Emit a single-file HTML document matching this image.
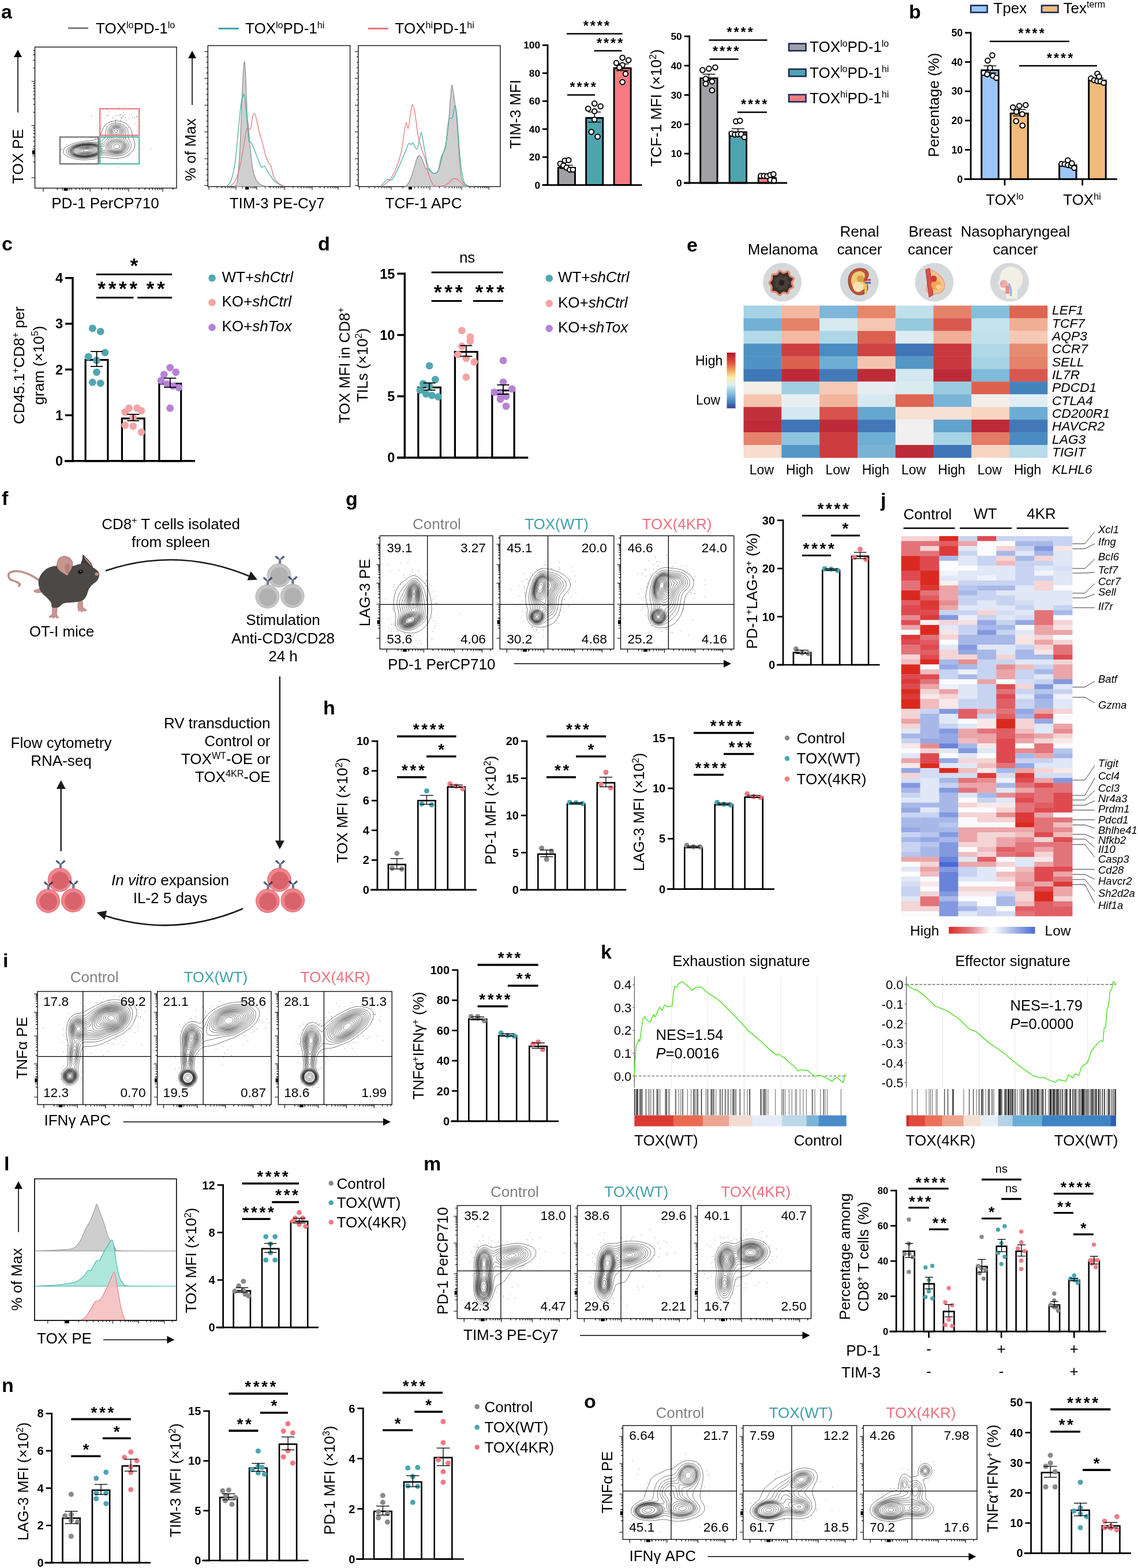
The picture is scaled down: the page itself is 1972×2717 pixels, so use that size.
<!DOCTYPE html>
<html lang="en"><head><meta charset="utf-8"><title>Figure</title>
<style>
html,body{margin:0;padding:0;background:#fff}
svg{display:block}
text{font-family:'Liberation Sans', sans-serif}
</style></head>
<body>
<svg width="1972" height="2717" viewBox="0 0 1972 2717">
<rect x="0" y="0" width="1972" height="2717" fill="#fff"/>
<g id="p-a">
<text x="2" y="32" font-size="34" font-weight="bold">a</text>
<line x1="118" y1="48.8" x2="153" y2="48.8" stroke="#7a7a7a" stroke-width="3.1"/>
<text x="166" y="58" font-size="26">TOX<tspan dy="-9.36" font-size="16.12">lo</tspan><tspan dy="9.36">PD-1</tspan><tspan dy="-9.36" font-size="16.12">lo</tspan></text>
<line x1="378.5" y1="49.5" x2="413.5" y2="49.5" stroke="#3fa3ad" stroke-width="3.1"/>
<text x="425" y="58" font-size="26">TOX<tspan dy="-9.36" font-size="16.12">lo</tspan><tspan dy="9.36">PD-1</tspan><tspan dy="-9.36" font-size="16.12">hi</tspan></text>
<line x1="638" y1="49.5" x2="672.5" y2="49.5" stroke="#e8757d" stroke-width="3.1"/>
<text x="684.5" y="58" font-size="26">TOX<tspan dy="-9.36" font-size="16.12">hi</tspan><tspan dy="9.36">PD-1</tspan><tspan dy="-9.36" font-size="16.12">hi</tspan></text>
<rect x="60.5" y="81.5" width="245.5" height="244.5" fill="#fff" stroke="#000" stroke-width="1.3"/>
<path d="M75 326v6M156 326v6M223 326v6M282 326v6M99.38 326v3.2M113.65 326v3.2M123.77 326v3.2M131.62 326v3.2M138.03 326v3.2M143.45 326v3.2M148.15 326v3.2M152.29 326v3.2M176.17 326v3.2M187.97 326v3.2M196.34 326v3.2M202.83 326v3.2M208.14 326v3.2M212.62 326v3.2M216.51 326v3.2M219.93 326v3.2M240.76 326v3.2M251.15 326v3.2M258.52 326v3.2M264.24 326v3.2M268.91 326v3.2M272.86 326v3.2M276.28 326v3.2M279.3 326v3.2M299.76 326v3.2M60.5 308h-6M60.5 217.5h-6M60.5 141h-6M60.5 280.76h-3.2M60.5 264.82h-3.2M60.5 253.51h-3.2M60.5 244.74h-3.2M60.5 237.58h-3.2M60.5 231.52h-3.2M60.5 226.27h-3.2M60.5 221.64h-3.2M60.5 194.47h-3.2M60.5 181h-3.2M60.5 171.44h-3.2M60.5 164.03h-3.2M60.5 157.97h-3.2M60.5 152.85h-3.2M60.5 148.41h-3.2M60.5 144.5h-3.2M60.5 117.97h-3.2M60.5 104.5h-3.2M60.5 94.94h-3.2M60.5 87.53h-3.2" fill="none" stroke="#000" stroke-width="1.15"/>
<rect x="110.5" y="326.3" width="7" height="4.3" fill="#000"/>
<path d="M108 326v4M120 326v4" fill="none" stroke="#000" stroke-width="1"/>
<rect x="55.9" y="260.5" width="4.3" height="7" fill="#000"/>
<path d="M60.5 258h-4M60.5 270h-4" fill="none" stroke="#000" stroke-width="1"/>
<path d="M147 259l3-.4 3 .3 1.7 1.1-.1 1-1.3 1-3.3 .8-3 0-2.4-.8-.5-1 .7-1zM145.8 258l5.2-.6 4 .5 2 1.1 .5 1-.2 1-.9 1-1.8 1-2.6 .7-3 .4-3-.1-2-.4-1.6-.6-1.2-1-.2-1 .6-1 1.4-1zM145.2 257l5.8-.7 5 .6 2.6 1.1 .9 1 .4 1-.3 1-1.6 1.7-2 1-3 .9-3 .5-3 .1-3-.3-3-.8-1.8-1.1-.7-1-.1-1 .5-1 1.1-1 1.9-1zM145.3 256l6.7-.6 5.1 .6 2.6 1 1.3 1 .7 1 .2 1-.2 1-1.7 1.9-2 1.2-4 1.3-4 .6-4 .1-4-.5-3-1-2.4-1.6-.5-1-.1-1 .5-1 .9-1 3.6-1.9zM145.4 255l3.6-.5 4-.1 3 .3 3 .7 3 1.4 1.3 1.2 .5 1-.1 2-1.5 2-3.2 1.9-4 1.3-5 .7-5 .1-5-.7-3.4-1.3-1.5-1-.9-1-.5-1 0-1 .4-1 2.1-2 3.8-1.7zM145.5 254l4.5-.5 4 0 4 .5 3 .8 2.6 1.2 1.4 1.2 1 1.8-.2 2-.5 1-1.3 1.4-2 1.4-2 .9-5 1.5-6 .8-6-.2-5-.9-2.5-.9-1.8-1-2-2-.3-1 .3-2 .8-1 1.5-1.3 2-1.1 3-1.1zM145 253l5-.5 4-.1 4 .4 4 .9 3.1 1.3 2.4 2 1 2-.3 2-1.3 2-1.1 1-3.8 2.2-5 1.7-7 1-6 .1-6-.8-5-1.7-2-1.3-1.3-1.2-.6-1-.3-2 1-2 2.2-1.9 3-1.5 3-1.1zM199.8 250l1.2-.3 2 0 1.2 .3 1.7 1 1.4 2-.1 2-.6 1-1.6 1.2-3 .6-3-.7-1.5-1.1-.7-1-.1-2 1.3-2zM147.7 252l5.3-.3 4 .2 4 .7 4 1.3 2.1 1.1 2.2 2 .8 2-.3 2-1.3 2-1 1-4.5 2.7-6 1.9-7 1-7 .1-7-1.2-5-2-2-1.4-1-1.1-.8-2 .4-2 1.5-2 1.9-1.4 3-1.5 4-1.4 5-1.1zM200.6 247l2.4 0 3 .9 2 1.3 1.6 1.8 .8 2 0 2-1 2-2.4 1.9-2 .8-2 .3-4-.4-1.9-.6-1.8-1-1.8-2-.5-2 .2-1 .8-2 1-1.2 2-1.5 2-1zM143.7 252l5.3-.6 5-.2 5 .4 4 .8 4 1.6 2.9 2 1.4 2 .1 2-.8 2-.8 1-2.3 2-2.5 1.5-6 2.2-4 .8-5 .6-7 .1-7-1.1-3-.9-2.7-1.2-2.3-1.6-1.3-1.4-.7-2 .3-2 1.5-2 1.2-1 3-1.8 3-1.2 5-1.3zM199.7 225l1.3-.4 2.2 .4 1.1 1 .3 1-.6 1.6-1 .7-1 .3-1 0-1.4-.6-.8-1-.3-1 .3-1zM199.9 245l3.1-.1 2 .5 2 .8 3 2.1 2 2.7 .6 2-.4 3-1.2 2-2.5 2-2.5 1-2 .4-2 .2-3-.3-3-.8-2-1-2-1.5-.8-1-.5-1-.3-2 .5-2 1.2-2 1.8-2 2.1-1.5 2-1zM148.2 251l5.8-.2 5 .3 4 .8 4 1.3 3.2 1.8 2 2 .6 2-.5 2-1.3 2-2 1.8-5 2.7-6 1.9-8 1.2-8 0-7-1.2-3-.9-3.1-1.5-1.9-1.4-1.4-1.6-.7-2 .4-2 1.4-2 3.3-2.4 4-1.8 4-1.2 5-1zM198.4 223l1.6-.5 2-.1 2 .4 2.1 1.2 .9 1.1 .6 1.9-.4 2-1.2 1.6-2 1.4-2 .5-2-.2-2.2-1.3-1.6-2-.4-2 .5-2 .7-1zM197.4 244l1.6-.6 2-.4 3 .3 4 1.7 3.8 3 2 3 .5 3-.9 3-1.5 2-1.9 1.5-3 1.4-3 .7-3 .1-4-.6-3-1-2.1-1.1-2.3-2-.7-1-.7-2 .3-2 .8-2 1.5-2 1.9-2 2.3-1.7zM144.7 251l5.3-.5 6-.1 4 .4 5 1.1 5 2.1 2.7 2 1.2 2 0 2-1 2-1.9 2-2 1.5-3 1.7-3 1.2-4 1.2-8 1.3-5 .2-4-.1-4-.5-4-.9-3-1-3-1.5-1.6-1.1-1.8-2-.6-2 .3-2 1.4-2 2.5-2 2.8-1.5 5-1.8zM199.6 221l3.4 0 3 .9 2.6 2.1 1 2 .1 1-.2 2-1.5 2.5-3 2.6-3 1.2-1 0-2-.7-2-1.5-2-2.4-1-2.7 0-2 1-2.3 2-1.8zM199.7 241l1.3-.3 2 .2 4 1.7 5 3.6 1.7 1.8 1.3 2 .7 2 .1 2-.8 3-2.4 3-3.6 2.3-3 1-3 .4-3 0-4-.7-3-1-3-1.5-2-1.5-1.6-2-.4-2 .4-2 .9-2 1.5-2 2.2-2.4 3-2.5 3-1.9zM152.3 250l4.7 .1 4 .4 5 1.1 3.7 1.4 2.3 1.2 2.4 1.8 1.1 2-.2 2-1.2 2-2 2-2.8 2-3.3 1.7-4 1.5-4 1-8 1.2-5 .1-4-.2-4-.6-4-.9-3-1.1-3-1.5-1.7-1.2-1.7-2-.6-2 .4-2 .6-1 2-2.1 4-2.5 5-1.8 5-1.2 6-1zM198.6 220l3.4-.3 3 .6 3 1.4 2.4 2.3 .5 1 .5 2-.4 2.7-1.2 2.3-3.3 4-.9 2 .3 1 .8 1 5.3 4.4 2.6 2.6 1.9 3 .6 2 .1 2-.5 2-.9 2-1.7 2-2.1 1.7-2.3 1.3-2.7 .9-3 .6-3 .1-3-.2-6-1.6-3.8-1.8-2.9-2-1.7-2-.3-1 .1-1 .9-2 2.6-4 2.8-3 5.7-5 1.8-2 .3-1-.2-1-3.9-6-.7-2-.2-2 .3-2 1.2-2.3 2-1.7zM146.8 250l5.2-.4 5 .1 5 .5 5 1.2 4.4 1.6 3.8 2 2.1 2 .3 1-.2 1-1.2 2-1.8 2-2.5 2-3.9 2.3-3 1.3-5 1.6-9 1.5-9 .1-4-.5-4-.8-4-1.3-3-1.3-2.7-1.9-1.6-2-.6-2 .4-2 .6-1 1.8-2 2.9-2 4.2-1.9 5-1.5zM197.7 219l4.3-.4 2.9 .4 2.1 .7 2 1 1.7 1.3 .9 1 1.1 2 .5 2-.4 3-3.2 6-.4 2 .2 1 1.4 2 4.2 4.2 2.2 2.8 1.3 3 .2 2-.4 3-1.3 2.5-2.2 2.5-2.8 2-3 1.4-3 .8-3 .4-4-.1-6-1.1-10-4-2-.2-2 .6-8 5.6-4 2-3 1.1-8 2-10 .8-8-.5-7-1.6-3-1.2-3-1.6-1.8-1.4-1.6-2-.5-2 .4-2 1.3-2 2.3-2 2.9-1.7 4-1.7 4-1.2 5-1.1 9-1 9 .1 8 1.3 10 3.2 2 .2 1-.3 2-1.6 4.6-5.2 5-5 2.3-3 .2-2-2.7-7-.4-2 0-2 .6-2 1.4-2.2 2-1.7zM195.8 218l2.2-.6 3-.3 3 .2 3 .8 3 1.3 2.2 1.6 1.8 2 1 2 .4 2 0 2-.5 2-1.9 5-.2 2 .3 1 1.1 2 3.8 4.6 1.6 2.4 1.1 3 .1 2-.5 3-1.5 3-1.8 2.1-3 2.4-3 1.5-3 1.1-3 .6-4 .2-6-.5-4-1-7-2.2-3-.3-3 .9-9 4.6-6 2.2-8 1.6-8 .7-8-.4-8-1.6-6-2.4-2.3-1.5-2-2-1-2 0-2 .9-2 1.7-2 2.7-2 3-1.6 4-1.5 4-1.2 8-1.4 10-.8 9 .6 12 2.3 3-.2 2-.9 2-1.7 5.6-5.6 1.7-2 1.2-2 .3-1 .1-2-1.8-7 .2-4 .7-2 1.4-2 1.6-1.5zM196.4 216l3.6-.5 3 0 4 .7 3 1.1 2.9 1.7 2.1 1.8 1.7 2.2 .9 2 .5 2 .1 2-1.5 7 .1 2 .7 2 3.5 5.2 1.6 2.8 .8 3 .1 2-.6 3-1.5 3-2.6 3-3.8 2.9-3 1.5-3 1.1-4 .8-4 .2-7-.6-11-2.5-3 0-3 .8-8 3.3-7 2.2-9 1.6-7 .4-8-.5-8-1.6-3-1.1-4-1.8-2.5-1.7-1.9-2-.8-2 0-2 .9-2 1.7-2 2.5-2 3.1-1.7 7-2.6 10-2.1 8-.8 8 0 14 1.4 3-.4 2-.8 2.7-2 3-3 2.5-3 1-2 .3-3-.7-5-.1-3 .6-3 .9-2 1.4-2 2.2-2 2.2-1.2zM194.6 214l3.4-.7 4-.2 4 .5 4 1 4 1.9 3 2.2 2.1 2.3 1.8 3 1.1 4-.3 7 .3 2.6 .9 2.4 3.6 7 .8 3 .1 3-1.1 4-1.8 3-2.6 3-3.9 3-3 1.7-3 1.2-3 .9-4 .7-4 .3-5-.2-12-2.1-4-.2-4 .7-9 2.8-7 1.7-8 1.1-7 .3-9-.7-5-1-5-1.4-4-1.7-3-1.7-1.8-1.4-1.7-2-.7-2 .1-2 .9-2 1.6-2 4.6-3.4 7-3.1 7-1.9 8-1.3 10-.9 16 .1 2.7-.5 2.3-1 2.6-2 2-2 1.5-2 1.1-2 .7-3 .3-6 .5-3 1.1-3 1.1-2 1.7-2 2.4-2 2-1zM195.2 210l4.8-.5 5 .2 5 .9 5 1.8 4 2.3 3 2.5 2.5 2.8 2.4 4 1.4 4 1.7 8.9 3.2 9.1 .5 3 0 3-.3 2-.9 3-2.3 4-3.6 4-4.6 3.5-4 2.3-4 1.6-4 1.1-5 .8-4 .3-5-.1-13-1.7-5-.2-3.5 .4-11.5 2.5-6 .9-6 .5-7 .2-6-.4-4-.5-4-.8-7-1.9-5-2-3-1.5-2.8-2-1.7-2-.9-2-.1-2 .5-2 1.2-2 1.9-2 2.6-2 6.3-3.4 6-2.3 7-1.7 12-1.9 15.2-1.7 3.7-1 2-1 3.1-2.7 2.4-3.3 1.6-3.1 3.8-9.9 1.7-3 1.5-2 3-2.8 3-1.9 4-1.6z" fill="none" stroke="#1c1c1c" stroke-width="0.6" stroke-linejoin="round"/>
<path d="M114.8 250.7h0M174.2 232.3h0M204.4 275.1h0M168.8 235.8h0M224 267.5h0M183 205.6h0M244.1 258.3h0M169.9 205.1h0M205.3 288.8h0M106.7 259.1h0M233.7 214.1h0M244 218.9h0M234.9 241.2h0M261.2 258.1h0M165.7 239.9h0M105.6 271.6h0M158.4 200.9h0M157.6 238.3h0M237.7 227.5h0M221.2 272.7h0M105.8 258.4h0M229.7 235h0M173 232.1h0M108.4 257.7h0M223.4 270.3h0M112.3 255.7h0M219.4 208.4h0M133.2 284.2h0M104.9 270.9h0M168.7 217.5h0" fill="none" stroke="#555" stroke-width="1.1" stroke-linecap="round"/>
<path d="M189.3 193.8h.01M217 184.6h.01M204.8 185h.01M223.5 204.6h.01M227.3 199h.01M213 200.7h.01M195.9 204.2h.01M188.1 200.2h.01M217.4 203.5h.01M200.8 220.5h.01M207.9 198.3h.01M209.4 198.8h.01M201.2 200.2h.01M237.4 203.2h.01M209.6 208.4h.01M237.3 201.2h.01M197.6 222.8h.01M185.1 200.1h.01M217 221.3h.01M216.9 198.8h.01M201.2 206.7h.01M210.4 205.3h.01M200.5 213.3h.01M229.6 203.3h.01M200.2 208.9h.01M214.2 194.7h.01M200.1 211.4h.01M205.6 200.4h.01M210.2 202.7h.01M207 187.6h.01M233.2 204.6h.01M193.9 210.8h.01M211.6 203.1h.01M222.7 221.1h.01" fill="none" stroke="#444" stroke-width="1.2" stroke-linecap="round"/>
<rect x="104" y="237.5" width="66.5" height="46.5" fill="none" stroke="#6e6e6e" stroke-width="2.2"/>
<rect x="173.2" y="237.5" width="68" height="46.5" fill="none" stroke="#55b5a8" stroke-width="2.2"/>
<rect x="173.2" y="188.5" width="68" height="46" fill="none" stroke="#e8757d" stroke-width="2.2"/>
<line x1="31" y1="195" x2="31" y2="98" stroke="#000" stroke-width="1.6"/>
<polygon points="31,86 38,99 24,99" fill="#000"/>
<text font-size="26" text-anchor="middle" transform="translate(40 271) rotate(-90)">TOX PE</text>
<text x="182.5" y="361" font-size="26" text-anchor="middle">PD-1 PerCP710</text>
<rect x="360.2" y="79" width="246.4" height="244.4" fill="#fff" stroke="#000" stroke-width="1.3"/>
<rect x="620.8" y="79" width="246.2" height="244.4" fill="#fff" stroke="#000" stroke-width="1.3"/>
<path d="M405.71 323.33C406.44 322.02 409.82 322.58 411.18 313.49C412.54 304.4 414.8 275.09 415.92 255.17C417.04 235.24 418.64 183.57 419.56 164.04C420.49 144.5 422.12 114.46 422.84 108.63C423.57 102.8 424.45 111.93 425.03 120.29C425.62 128.65 426.78 160.54 427.22 171.33C427.66 182.12 427.88 194.9 428.31 201.22C428.75 207.54 429.82 211.52 430.5 218.71C431.18 225.91 432.44 245.45 433.42 255.17C434.39 264.89 436.38 284.09 437.79 291.62C439.2 299.15 441.95 307.78 443.99 311.67C446.03 315.56 450.43 319.23 453.1 320.78C455.77 322.34 462.58 322.99 464.04 323.33Z" fill="#cfcfcf" stroke="#8c8c8c" stroke-width="1.2"/>
<path d="M392.95 323.33C393.93 322.02 398.3 319.18 400.24 313.49C402.19 307.8 405.83 292.35 407.53 280.68C409.24 269.02 411.69 239.13 413 226.01C414.31 212.88 416.16 190.67 417.38 182.26C418.59 173.85 421.1 163.91 422.12 162.94C423.14 161.97 424.21 168.51 425.03 174.97C425.86 181.44 427.49 202.29 428.31 211.42C429.14 220.56 430.26 238.74 431.23 243.5C432.2 248.27 434.39 245.11 435.6 247.15C436.82 249.19 438.74 254.83 440.34 258.81C441.95 262.8 445.93 272.91 447.63 277.04C449.33 281.17 451.64 288.34 453.1 289.8C454.56 291.26 457.21 287 458.57 287.97C459.93 288.95 461.85 294.66 463.31 297.09C464.77 299.52 467.46 303.62 469.5 306.2C471.55 308.78 475.7 314.12 478.62 316.41C481.53 318.69 489.67 322.41 491.38 323.33" fill="none" stroke="#45b3a8" stroke-width="1.3"/>
<path d="M398.42 323.33C399.64 322.02 405.2 318.21 407.53 313.49C409.87 308.78 413.83 296.72 415.92 287.97C418.01 279.23 421.65 256.53 423.21 247.88C424.76 239.23 426.13 226.39 427.58 223.09C429.04 219.78 432.78 225.86 434.15 223.09C435.51 220.32 436.82 205.81 437.79 202.31C438.76 198.81 440.46 195.87 441.44 196.84C442.41 197.82 444.01 205.23 445.08 209.6C446.15 213.98 448.14 224.55 449.46 229.65C450.77 234.75 453.46 242.53 454.92 247.88C456.38 253.22 458.93 265.13 460.39 269.75C461.85 274.37 464.64 280.08 465.86 282.51C467.07 284.94 468.29 284.57 469.5 287.97C470.72 291.38 473.27 304.13 474.97 308.02C476.67 311.91 479.73 315.09 482.26 317.14C484.79 319.18 492.37 322.51 493.93 323.33" fill="none" stroke="#e8757d" stroke-width="1.3"/>
<path d="M702.8 323.33C703.77 322.02 708.15 317.72 710.09 313.49C712.03 309.26 715.68 296.97 717.38 291.62C719.08 286.27 721.54 276.31 722.85 273.39C724.16 270.48 726.01 269.26 727.22 269.75C728.44 270.23 730.6 274.12 731.96 277.04C733.32 279.95 735.97 289.43 737.43 291.62C738.89 293.81 741.2 292.37 742.9 293.44C744.6 294.51 748.49 298.81 750.19 299.64C751.89 300.47 754.2 300.71 755.66 299.64C757.11 298.57 759.67 295.61 761.12 291.62C762.58 287.63 765.13 275.09 766.59 269.75C768.05 264.4 770.7 258.33 772.06 251.52C773.42 244.72 775.68 229.41 776.8 218.71C777.92 208.02 779.62 180.8 780.44 171.33C781.27 161.85 782.31 149.09 782.99 147.63C783.68 146.17 784.82 156.02 785.55 160.39C786.28 164.77 787.69 174.61 788.46 180.44C789.24 186.27 790.6 195.14 791.38 204.13C792.16 213.13 793.47 236.21 794.3 247.88C795.12 259.54 796.65 282.87 797.58 291.62C798.5 300.37 799.52 309.26 801.22 313.49C802.92 317.72 809.12 322.02 810.33 323.33Z" fill="#cfcfcf" stroke="#8c8c8c" stroke-width="1.2"/>
<path d="M659.06 323.33C659.79 322.51 662.82 318.84 664.52 317.14C666.23 315.44 669.87 311.3 671.81 310.57C673.76 309.85 676.68 314.2 679.11 311.67C681.54 309.14 687.12 297.69 690.04 291.62C692.96 285.54 698.55 271.84 700.98 266.1C703.41 260.37 706.81 250.65 708.27 248.61C709.73 246.56 710.94 250.89 711.91 250.79C712.88 250.7 714.2 246.81 715.56 247.88C716.92 248.95 720.66 259.3 722.12 258.81C723.58 258.33 725.42 248.12 726.49 244.23C727.56 240.34 729.17 229.16 730.14 229.65C731.11 230.14 732.81 242.53 733.78 247.88C734.76 253.22 736.21 263.92 737.43 269.75C738.64 275.58 740.95 287.49 742.9 291.62C744.84 295.75 749.82 300.25 752.01 300.73C754.2 301.22 757.6 299.15 759.3 295.26C761 291.38 763.07 276.92 764.77 271.57C766.47 266.22 770.36 263.67 772.06 255.17C773.76 246.66 775.92 214.58 777.53 207.78C779.13 200.97 782.63 207.54 784.09 204.13C785.55 200.73 787.39 182.26 788.46 182.26C789.53 182.26 791.14 194.41 792.11 204.13C793.08 213.85 794.78 243.5 795.75 255.17C796.73 266.83 798.18 283.36 799.4 291.62C800.61 299.88 802.92 312.91 804.87 317.14C806.81 321.36 812.76 322.51 813.98 323.33" fill="none" stroke="#45b3a8" stroke-width="1.3"/>
<path d="M660.88 323.33C662.82 321.78 672.06 315.9 675.46 311.67C678.86 307.44 683.72 298.18 686.4 291.62C689.07 285.06 693.56 271.21 695.51 262.46C697.45 253.71 699.86 232.66 700.98 226.01C702.09 219.35 703.02 213 703.89 212.52C704.77 212.03 706.47 224.94 707.54 222.36C708.61 219.78 710.94 198.64 711.91 193.2C712.88 187.75 713.86 181.05 714.83 181.53C715.8 182.02 717.89 189.46 719.2 196.84C720.52 204.23 722.97 228.19 724.67 236.94C726.37 245.69 730.26 257.11 731.96 262.46C733.66 267.8 735.97 271.69 737.43 277.04C738.89 282.38 740.95 296.63 742.9 302.56C744.84 308.48 748.37 318.98 752.01 321.51C755.66 324.04 766.83 322.09 770.24 321.51C773.64 320.93 775.58 318.69 777.53 317.14C779.47 315.58 782.87 310.72 784.82 309.85C786.76 308.97 790.16 309.6 792.11 310.57C794.05 311.55 797.45 315.44 799.4 317.14C801.34 318.84 805.72 322.51 806.69 323.33" fill="none" stroke="#e8757d" stroke-width="1.3"/>
<path d="M360.2 321.4h-6M360.2 312.12h-3M360.2 302.84h-3M360.2 293.56h-3M360.2 284.28h-3M360.2 275h-6M360.2 265.72h-3M360.2 256.44h-3M360.2 247.16h-3M360.2 237.88h-3M360.2 228.6h-6M360.2 219.32h-3M360.2 210.04h-3M360.2 200.76h-3M360.2 191.48h-3M360.2 182.2h-6M360.2 172.92h-3M360.2 163.64h-3M360.2 154.36h-3M360.2 145.08h-3M360.2 135.8h-6M360.2 126.52h-3M360.2 117.24h-3M360.2 107.96h-3M360.2 98.68h-3M360.2 89.4h-6M362 323.4v5.5M409 323.4v5.5M445 323.4v5.5M493.5 323.4v5.5M541 323.4v5.5M586 323.4v5.5M376.15 323.4v3M384.42 323.4v3M390.3 323.4v3M394.85 323.4v3M398.57 323.4v3M401.72 323.4v3M404.45 323.4v3M406.85 323.4v3M419.84 323.4v3M426.18 323.4v3M430.67 323.4v3M434.16 323.4v3M437.01 323.4v3M439.42 323.4v3M441.51 323.4v3M443.35 323.4v3M459.6 323.4v3M468.14 323.4v3M474.2 323.4v3M478.9 323.4v3M482.74 323.4v3M485.99 323.4v3M488.8 323.4v3M491.28 323.4v3M507.8 323.4v3M516.16 323.4v3M522.1 323.4v3M526.7 323.4v3M530.46 323.4v3M533.64 323.4v3M536.4 323.4v3M538.83 323.4v3M554.55 323.4v3M562.47 323.4v3M568.09 323.4v3M572.45 323.4v3M576.02 323.4v3M579.03 323.4v3M581.64 323.4v3M583.94 323.4v3" fill="none" stroke="#000" stroke-width="1"/>
<rect x="425" y="323.9" width="6" height="4.5" fill="#000"/>
<path d="M620.8 321.4h-6M620.8 312.12h-3M620.8 302.84h-3M620.8 293.56h-3M620.8 284.28h-3M620.8 275h-6M620.8 265.72h-3M620.8 256.44h-3M620.8 247.16h-3M620.8 237.88h-3M620.8 228.6h-6M620.8 219.32h-3M620.8 210.04h-3M620.8 200.76h-3M620.8 191.48h-3M620.8 182.2h-6M620.8 172.92h-3M620.8 163.64h-3M620.8 154.36h-3M620.8 145.08h-3M620.8 135.8h-6M620.8 126.52h-3M620.8 117.24h-3M620.8 107.96h-3M620.8 98.68h-3M620.8 89.4h-6M623 323.4v5.5M678 323.4v5.5M745 323.4v5.5M800 323.4v5.5M847 323.4v5.5M639.56 323.4v3M649.24 323.4v3M656.11 323.4v3M661.44 323.4v3M665.8 323.4v3M669.48 323.4v3M672.67 323.4v3M675.48 323.4v3M698.17 323.4v3M709.97 323.4v3M718.34 323.4v3M724.83 323.4v3M730.14 323.4v3M734.62 323.4v3M738.51 323.4v3M741.93 323.4v3M761.56 323.4v3M771.24 323.4v3M778.11 323.4v3M783.44 323.4v3M787.8 323.4v3M791.48 323.4v3M794.67 323.4v3M797.48 323.4v3M814.15 323.4v3M822.42 323.4v3M828.3 323.4v3M832.85 323.4v3M836.57 323.4v3M839.72 323.4v3M842.45 323.4v3M844.85 323.4v3" fill="none" stroke="#000" stroke-width="1"/>
<rect x="708" y="323.9" width="6" height="4.5" fill="#000"/>
<line x1="333" y1="182" x2="333" y2="100" stroke="#000" stroke-width="1.6"/>
<polygon points="333,88 340,101 326,101" fill="#000"/>
<text font-size="26" text-anchor="middle" transform="translate(338.5 259.5) rotate(-90)">% of Max</text>
<text x="480" y="361" font-size="26" text-anchor="middle">TIM-3 PE-Cy7</text>
<text x="734" y="361" font-size="26" text-anchor="middle">TCF-1 APC</text>
<rect x="967.25" y="290.64" width="29.2" height="30.06" fill="#a1a1a5" stroke="#000" stroke-width="2.9"/>
<rect x="1015.65" y="204.34" width="29.1" height="116.36" fill="#4fa5ae" stroke="#000" stroke-width="2.9"/>
<rect x="1064.05" y="118.05" width="29.1" height="202.65" fill="#f47c82" stroke="#000" stroke-width="2.9"/>
<line x1="949" y1="76.9" x2="949" y2="322.1" stroke="#000" stroke-width="2.8"/>
<line x1="939.6" y1="320.7" x2="1112.4" y2="320.7" stroke="#000" stroke-width="2.8"/>
<line x1="940" y1="320.7" x2="949" y2="320.7" stroke="#000" stroke-width="2.8"/>
<text x="936" y="326.84" font-size="17.3" text-anchor="end" font-weight="bold">0</text>
<line x1="940" y1="272.22" x2="949" y2="272.22" stroke="#000" stroke-width="2.8"/>
<text x="936" y="278.36" font-size="17.3" text-anchor="end" font-weight="bold">20</text>
<line x1="940" y1="223.74" x2="949" y2="223.74" stroke="#000" stroke-width="2.8"/>
<text x="936" y="229.88" font-size="17.3" text-anchor="end" font-weight="bold">40</text>
<line x1="940" y1="175.26" x2="949" y2="175.26" stroke="#000" stroke-width="2.8"/>
<text x="936" y="181.4" font-size="17.3" text-anchor="end" font-weight="bold">60</text>
<line x1="940" y1="126.78" x2="949" y2="126.78" stroke="#000" stroke-width="2.8"/>
<text x="936" y="132.92" font-size="17.3" text-anchor="end" font-weight="bold">80</text>
<line x1="940" y1="78.3" x2="949" y2="78.3" stroke="#000" stroke-width="2.8"/>
<text x="936" y="84.44" font-size="17.3" text-anchor="end" font-weight="bold">100</text>
<line x1="981.85" y1="286.28" x2="981.85" y2="292.1" stroke="#000" stroke-width="1.4"/>
<line x1="970.94" y1="286.28" x2="992.76" y2="286.28" stroke="#000" stroke-width="1.4"/>
<line x1="970.94" y1="292.1" x2="992.76" y2="292.1" stroke="#000" stroke-width="1.4"/>
<circle cx="970.8" cy="283.86" r="4.3" fill="#fff" stroke="#000" stroke-width="2"/>
<circle cx="976.3" cy="286.76" r="4.3" fill="#fff" stroke="#000" stroke-width="2"/>
<circle cx="981.8" cy="290.4" r="4.3" fill="#fff" stroke="#000" stroke-width="2"/>
<circle cx="987.3" cy="294.04" r="4.3" fill="#fff" stroke="#000" stroke-width="2"/>
<circle cx="992.8" cy="294.04" r="4.3" fill="#fff" stroke="#000" stroke-width="2"/>
<circle cx="978.8" cy="278.28" r="4.3" fill="#fff" stroke="#000" stroke-width="2"/>
<circle cx="985.3" cy="277.55" r="4.3" fill="#fff" stroke="#000" stroke-width="2"/>
<line x1="1030.2" y1="194.17" x2="1030.2" y2="211.62" stroke="#000" stroke-width="1.4"/>
<line x1="1019.32" y1="194.17" x2="1041.08" y2="194.17" stroke="#000" stroke-width="1.4"/>
<line x1="1019.32" y1="211.62" x2="1041.08" y2="211.62" stroke="#000" stroke-width="1.4"/>
<circle cx="1030.2" cy="179.38" r="4.3" fill="#fff" stroke="#000" stroke-width="2"/>
<circle cx="1040.7" cy="184.23" r="4.3" fill="#fff" stroke="#000" stroke-width="2"/>
<circle cx="1019.2" cy="188.35" r="4.3" fill="#fff" stroke="#000" stroke-width="2"/>
<circle cx="1030.2" cy="192.71" r="4.3" fill="#fff" stroke="#000" stroke-width="2"/>
<circle cx="1030.2" cy="207.26" r="4.3" fill="#fff" stroke="#000" stroke-width="2"/>
<circle cx="1024.7" cy="228.59" r="4.3" fill="#fff" stroke="#000" stroke-width="2"/>
<circle cx="1035.6" cy="236.83" r="4.3" fill="#fff" stroke="#000" stroke-width="2"/>
<line x1="1078.6" y1="110.78" x2="1078.6" y2="122.42" stroke="#000" stroke-width="1.4"/>
<line x1="1067.72" y1="110.78" x2="1089.48" y2="110.78" stroke="#000" stroke-width="1.4"/>
<line x1="1067.72" y1="122.42" x2="1089.48" y2="122.42" stroke="#000" stroke-width="1.4"/>
<circle cx="1078.6" cy="100.12" r="4.3" fill="#fff" stroke="#000" stroke-width="2"/>
<circle cx="1089.2" cy="104.24" r="4.3" fill="#fff" stroke="#000" stroke-width="2"/>
<circle cx="1068.1" cy="109.08" r="4.3" fill="#fff" stroke="#000" stroke-width="2"/>
<circle cx="1078.6" cy="112.72" r="4.3" fill="#fff" stroke="#000" stroke-width="2"/>
<circle cx="1073.2" cy="117.08" r="4.3" fill="#fff" stroke="#000" stroke-width="2"/>
<circle cx="1084" cy="127.99" r="4.3" fill="#fff" stroke="#000" stroke-width="2"/>
<circle cx="1078.6" cy="142.29" r="4.3" fill="#fff" stroke="#000" stroke-width="2"/>
<text font-size="26" text-anchor="middle" transform="translate(902 198) rotate(-90)">TIM-3 MFI</text>
<line x1="982" y1="58.5" x2="1078.5" y2="58.5" stroke="#000" stroke-width="2.6"/>
<text x="1034.84" y="53.06" font-size="23.25" text-anchor="middle" font-weight="bold" letter-spacing="3.04">****</text>
<line x1="1029.5" y1="88" x2="1077.5" y2="88" stroke="#000" stroke-width="2.6"/>
<text x="1058.09" y="82.56" font-size="23.25" text-anchor="middle" font-weight="bold" letter-spacing="3.04">****</text>
<line x1="983" y1="164.5" x2="1031" y2="164.5" stroke="#000" stroke-width="2.6"/>
<text x="1011.59" y="159.06" font-size="23.25" text-anchor="middle" font-weight="bold" letter-spacing="3.04">****</text>
<rect x="1213.75" y="135.57" width="29.3" height="181.43" fill="#a1a1a5" stroke="#000" stroke-width="2.9"/>
<rect x="1264.15" y="229.04" width="29.4" height="87.96" fill="#4fa5ae" stroke="#000" stroke-width="2.9"/>
<rect x="1314.25" y="308.29" width="30.1" height="8.71" fill="#f47c82" stroke="#000" stroke-width="2.9"/>
<line x1="1194.7" y1="61.6" x2="1194.7" y2="318.4" stroke="#000" stroke-width="2.8"/>
<line x1="1185" y1="317" x2="1364" y2="317" stroke="#000" stroke-width="2.8"/>
<line x1="1185.7" y1="317" x2="1194.7" y2="317" stroke="#000" stroke-width="2.8"/>
<text x="1181.7" y="323.14" font-size="17.3" text-anchor="end" font-weight="bold">0</text>
<line x1="1185.7" y1="266.2" x2="1194.7" y2="266.2" stroke="#000" stroke-width="2.8"/>
<text x="1181.7" y="272.34" font-size="17.3" text-anchor="end" font-weight="bold">10</text>
<line x1="1185.7" y1="215.4" x2="1194.7" y2="215.4" stroke="#000" stroke-width="2.8"/>
<text x="1181.7" y="221.54" font-size="17.3" text-anchor="end" font-weight="bold">20</text>
<line x1="1185.7" y1="164.6" x2="1194.7" y2="164.6" stroke="#000" stroke-width="2.8"/>
<text x="1181.7" y="170.74" font-size="17.3" text-anchor="end" font-weight="bold">30</text>
<line x1="1185.7" y1="113.8" x2="1194.7" y2="113.8" stroke="#000" stroke-width="2.8"/>
<text x="1181.7" y="119.94" font-size="17.3" text-anchor="end" font-weight="bold">40</text>
<line x1="1185.7" y1="63" x2="1194.7" y2="63" stroke="#000" stroke-width="2.8"/>
<text x="1181.7" y="69.14" font-size="17.3" text-anchor="end" font-weight="bold">50</text>
<line x1="1228.4" y1="128.53" x2="1228.4" y2="139.71" stroke="#000" stroke-width="1.4"/>
<line x1="1217.45" y1="128.53" x2="1239.35" y2="128.53" stroke="#000" stroke-width="1.4"/>
<line x1="1217.45" y1="139.71" x2="1239.35" y2="139.71" stroke="#000" stroke-width="1.4"/>
<circle cx="1217.4" cy="121.42" r="4.3" fill="#fff" stroke="#000" stroke-width="2"/>
<circle cx="1228.4" cy="118.88" r="4.3" fill="#fff" stroke="#000" stroke-width="2"/>
<circle cx="1239.4" cy="116.85" r="4.3" fill="#fff" stroke="#000" stroke-width="2"/>
<circle cx="1222.9" cy="136.66" r="4.3" fill="#fff" stroke="#000" stroke-width="2"/>
<circle cx="1233.9" cy="141.23" r="4.3" fill="#fff" stroke="#000" stroke-width="2"/>
<circle cx="1222.9" cy="145.3" r="4.3" fill="#fff" stroke="#000" stroke-width="2"/>
<circle cx="1233.9" cy="156.47" r="4.3" fill="#fff" stroke="#000" stroke-width="2"/>
<line x1="1278.85" y1="223.02" x2="1278.85" y2="232.16" stroke="#000" stroke-width="1.4"/>
<line x1="1267.87" y1="223.02" x2="1289.83" y2="223.02" stroke="#000" stroke-width="1.4"/>
<line x1="1267.87" y1="232.16" x2="1289.83" y2="232.16" stroke="#000" stroke-width="1.4"/>
<circle cx="1275.3" cy="210.32" r="4.3" fill="#fff" stroke="#000" stroke-width="2"/>
<circle cx="1282.3" cy="209.3" r="4.3" fill="#fff" stroke="#000" stroke-width="2"/>
<circle cx="1267.8" cy="231.66" r="4.3" fill="#fff" stroke="#000" stroke-width="2"/>
<circle cx="1273.3" cy="233.18" r="4.3" fill="#fff" stroke="#000" stroke-width="2"/>
<circle cx="1278.8" cy="232.67" r="4.3" fill="#fff" stroke="#000" stroke-width="2"/>
<circle cx="1284.3" cy="232.67" r="4.3" fill="#fff" stroke="#000" stroke-width="2"/>
<circle cx="1289.8" cy="237.75" r="4.3" fill="#fff" stroke="#000" stroke-width="2"/>
<line x1="1329.3" y1="305.32" x2="1329.3" y2="308.36" stroke="#000" stroke-width="1.4"/>
<line x1="1318.08" y1="305.32" x2="1340.52" y2="305.32" stroke="#000" stroke-width="1.4"/>
<line x1="1318.08" y1="308.36" x2="1340.52" y2="308.36" stroke="#000" stroke-width="1.4"/>
<circle cx="1318.3" cy="304.81" r="4.3" fill="#fff" stroke="#000" stroke-width="2"/>
<circle cx="1323.8" cy="304.81" r="4.3" fill="#fff" stroke="#000" stroke-width="2"/>
<circle cx="1329.3" cy="305.32" r="4.3" fill="#fff" stroke="#000" stroke-width="2"/>
<circle cx="1334.8" cy="303.28" r="4.3" fill="#fff" stroke="#000" stroke-width="2"/>
<circle cx="1340.3" cy="301.76" r="4.3" fill="#fff" stroke="#000" stroke-width="2"/>
<circle cx="1334.8" cy="311.92" r="4.3" fill="#fff" stroke="#000" stroke-width="2"/>
<circle cx="1341.3" cy="312.94" r="4.3" fill="#fff" stroke="#000" stroke-width="2"/>
<text font-size="26" text-anchor="middle" transform="translate(1146 187) rotate(-90)">TCF-1 MFI (×10<tspan dy="-9.36" font-size="16.12">2</tspan><tspan dy="9.36">)</tspan></text>
<line x1="1228.5" y1="69.5" x2="1329.5" y2="69.5" stroke="#000" stroke-width="2.6"/>
<text x="1283.59" y="64.06" font-size="23.25" text-anchor="middle" font-weight="bold" letter-spacing="3.04">****</text>
<line x1="1229.5" y1="102.5" x2="1279.5" y2="102.5" stroke="#000" stroke-width="2.6"/>
<text x="1259.09" y="97.06" font-size="23.25" text-anchor="middle" font-weight="bold" letter-spacing="3.04">****</text>
<line x1="1278" y1="194.5" x2="1329" y2="194.5" stroke="#000" stroke-width="2.6"/>
<text x="1308.09" y="189.06" font-size="23.25" text-anchor="middle" font-weight="bold" letter-spacing="3.04">****</text>
<rect x="1367" y="75.6" width="29.5" height="12.4" fill="#a1a1a5" stroke="#1c2a5a" stroke-width="2.6"/>
<text x="1403" y="90.3" font-size="26">TOX<tspan dy="-9.36" font-size="16.12">lo</tspan><tspan dy="9.36">PD-1</tspan><tspan dy="-9.36" font-size="16.12">lo</tspan></text>
<rect x="1367" y="119.8" width="29.5" height="12.4" fill="#4fa5ae" stroke="#1c2a5a" stroke-width="2.6"/>
<text x="1403" y="134.5" font-size="26">TOX<tspan dy="-9.36" font-size="16.12">lo</tspan><tspan dy="9.36">PD-1</tspan><tspan dy="-9.36" font-size="16.12">hi</tspan></text>
<rect x="1367" y="164" width="29.5" height="12.4" fill="#f47c82" stroke="#1c2a5a" stroke-width="2.6"/>
<text x="1403" y="178.7" font-size="26">TOX<tspan dy="-9.36" font-size="16.12">hi</tspan><tspan dy="9.36">PD-1</tspan><tspan dy="-9.36" font-size="16.12">hi</tspan></text>
</g>
<g id="p-b">
<text x="1575" y="31.5" font-size="34" font-weight="bold">b</text>
<rect x="1682.3" y="9.5" width="28.5" height="12" fill="#9cc6f5" stroke="#1c2a5a" stroke-width="2.6"/>
<text x="1721.5" y="22.5" font-size="26">Tpex</text>
<rect x="1805" y="9.5" width="28.5" height="12" fill="#f0bb7c" stroke="#1c2a5a" stroke-width="2.6"/>
<text x="1842.5" y="22.5" font-size="26">Tex<tspan dy="-9.36" font-size="16.12">term</tspan></text>
<rect x="1700.85" y="121.63" width="29.5" height="188.68" fill="#9cc6f5" stroke="#000" stroke-width="2.9"/>
<rect x="1751.25" y="196.66" width="30.1" height="113.64" fill="#f0bb7c" stroke="#000" stroke-width="2.9"/>
<rect x="1835.65" y="286.4" width="29.5" height="23.9" fill="#9cc6f5" stroke="#000" stroke-width="2.9"/>
<rect x="1886.75" y="139.37" width="29.5" height="170.93" fill="#f0bb7c" stroke="#000" stroke-width="2.9"/>
<line x1="1682.2" y1="55.4" x2="1682.2" y2="311.7" stroke="#000" stroke-width="2.8"/>
<line x1="1671" y1="310.3" x2="1936" y2="310.3" stroke="#000" stroke-width="2.8"/>
<line x1="1672.2" y1="310.3" x2="1682.2" y2="310.3" stroke="#000" stroke-width="2.8"/>
<text x="1668.2" y="316.51" font-size="17.5" text-anchor="end" font-weight="bold">0</text>
<line x1="1672.2" y1="259.6" x2="1682.2" y2="259.6" stroke="#000" stroke-width="2.8"/>
<text x="1668.2" y="265.81" font-size="17.5" text-anchor="end" font-weight="bold">10</text>
<line x1="1672.2" y1="208.9" x2="1682.2" y2="208.9" stroke="#000" stroke-width="2.8"/>
<text x="1668.2" y="215.11" font-size="17.5" text-anchor="end" font-weight="bold">20</text>
<line x1="1672.2" y1="158.2" x2="1682.2" y2="158.2" stroke="#000" stroke-width="2.8"/>
<text x="1668.2" y="164.41" font-size="17.5" text-anchor="end" font-weight="bold">30</text>
<line x1="1672.2" y1="107.5" x2="1682.2" y2="107.5" stroke="#000" stroke-width="2.8"/>
<text x="1668.2" y="113.71" font-size="17.5" text-anchor="end" font-weight="bold">40</text>
<line x1="1672.2" y1="56.8" x2="1682.2" y2="56.8" stroke="#000" stroke-width="2.8"/>
<text x="1668.2" y="63.01" font-size="17.5" text-anchor="end" font-weight="bold">50</text>
<line x1="1741" y1="310.3" x2="1741" y2="321.3" stroke="#000" stroke-width="2.8"/>
<line x1="1875.7" y1="310.3" x2="1875.7" y2="321.3" stroke="#000" stroke-width="2.8"/>
<line x1="1715.6" y1="114.09" x2="1715.6" y2="126.26" stroke="#000" stroke-width="1.4"/>
<line x1="1704.58" y1="114.09" x2="1726.62" y2="114.09" stroke="#000" stroke-width="1.4"/>
<line x1="1704.58" y1="126.26" x2="1726.62" y2="126.26" stroke="#000" stroke-width="1.4"/>
<circle cx="1719.6" cy="95.84" r="4.3" fill="#fff" stroke="#000" stroke-width="2"/>
<circle cx="1711.6" cy="104.97" r="4.3" fill="#fff" stroke="#000" stroke-width="2"/>
<circle cx="1715.6" cy="117.64" r="4.3" fill="#fff" stroke="#000" stroke-width="2"/>
<circle cx="1704.6" cy="126.26" r="4.3" fill="#fff" stroke="#000" stroke-width="2"/>
<circle cx="1710.6" cy="128.79" r="4.3" fill="#fff" stroke="#000" stroke-width="2"/>
<circle cx="1720.6" cy="131.33" r="4.3" fill="#fff" stroke="#000" stroke-width="2"/>
<circle cx="1726.6" cy="134.88" r="4.3" fill="#fff" stroke="#000" stroke-width="2"/>
<line x1="1766.3" y1="189.63" x2="1766.3" y2="200.79" stroke="#000" stroke-width="1.4"/>
<line x1="1755.08" y1="189.63" x2="1777.52" y2="189.63" stroke="#000" stroke-width="1.4"/>
<line x1="1755.08" y1="200.79" x2="1777.52" y2="200.79" stroke="#000" stroke-width="1.4"/>
<circle cx="1755.3" cy="186.09" r="4.3" fill="#fff" stroke="#000" stroke-width="2"/>
<circle cx="1766.3" cy="183.55" r="4.3" fill="#fff" stroke="#000" stroke-width="2"/>
<circle cx="1777.3" cy="182.03" r="4.3" fill="#fff" stroke="#000" stroke-width="2"/>
<circle cx="1761.3" cy="193.69" r="4.3" fill="#fff" stroke="#000" stroke-width="2"/>
<circle cx="1771.3" cy="197.75" r="4.3" fill="#fff" stroke="#000" stroke-width="2"/>
<circle cx="1760.8" cy="209.91" r="4.3" fill="#fff" stroke="#000" stroke-width="2"/>
<circle cx="1771.8" cy="217.52" r="4.3" fill="#fff" stroke="#000" stroke-width="2"/>
<line x1="1850.4" y1="282.42" x2="1850.4" y2="287.49" stroke="#000" stroke-width="1.4"/>
<line x1="1839.38" y1="282.42" x2="1861.42" y2="282.42" stroke="#000" stroke-width="1.4"/>
<line x1="1839.38" y1="287.49" x2="1861.42" y2="287.49" stroke="#000" stroke-width="1.4"/>
<circle cx="1850.4" cy="277.85" r="4.3" fill="#fff" stroke="#000" stroke-width="2"/>
<circle cx="1839.4" cy="283.94" r="4.3" fill="#fff" stroke="#000" stroke-width="2"/>
<circle cx="1844.9" cy="284.44" r="4.3" fill="#fff" stroke="#000" stroke-width="2"/>
<circle cx="1850.4" cy="285.96" r="4.3" fill="#fff" stroke="#000" stroke-width="2"/>
<circle cx="1855.9" cy="286.98" r="4.3" fill="#fff" stroke="#000" stroke-width="2"/>
<circle cx="1861.4" cy="291.03" r="4.3" fill="#fff" stroke="#000" stroke-width="2"/>
<circle cx="1857.4" cy="282.92" r="4.3" fill="#fff" stroke="#000" stroke-width="2"/>
<line x1="1901.5" y1="135.38" x2="1901.5" y2="140.46" stroke="#000" stroke-width="1.4"/>
<line x1="1890.48" y1="135.38" x2="1912.52" y2="135.38" stroke="#000" stroke-width="1.4"/>
<line x1="1890.48" y1="140.46" x2="1912.52" y2="140.46" stroke="#000" stroke-width="1.4"/>
<circle cx="1901.5" cy="127.78" r="4.3" fill="#fff" stroke="#000" stroke-width="2"/>
<circle cx="1890.5" cy="135.89" r="4.3" fill="#fff" stroke="#000" stroke-width="2"/>
<circle cx="1896" cy="138.93" r="4.3" fill="#fff" stroke="#000" stroke-width="2"/>
<circle cx="1901.5" cy="140.46" r="4.3" fill="#fff" stroke="#000" stroke-width="2"/>
<circle cx="1907" cy="140.96" r="4.3" fill="#fff" stroke="#000" stroke-width="2"/>
<circle cx="1912.5" cy="143.5" r="4.3" fill="#fff" stroke="#000" stroke-width="2"/>
<circle cx="1904.5" cy="132.85" r="4.3" fill="#fff" stroke="#000" stroke-width="2"/>
<text font-size="26" text-anchor="middle" transform="translate(1626.5 182) rotate(-90)">Percentage (%)</text>
<line x1="1715" y1="71.8" x2="1853" y2="71.8" stroke="#000" stroke-width="2.6"/>
<text x="1788.59" y="66.36" font-size="23.25" text-anchor="middle" font-weight="bold" letter-spacing="3.04">****</text>
<line x1="1766" y1="114" x2="1901" y2="114" stroke="#000" stroke-width="2.6"/>
<text x="1838.09" y="108.56" font-size="23.25" text-anchor="middle" font-weight="bold" letter-spacing="3.04">****</text>
<text x="1741" y="355" font-size="26" text-anchor="middle">TOX<tspan dy="-9.36" font-size="16.12">lo</tspan></text>
<text x="1875" y="355" font-size="26" text-anchor="middle">TOX<tspan dy="-9.36" font-size="16.12">hi</tspan></text>
</g>
<g id="p-c">
<text x="3" y="434" font-size="34" font-weight="bold">c</text>
<rect x="148.1" y="623.62" width="38.8" height="175.18" fill="#fff" stroke="#000" stroke-width="3.2"/>
<rect x="211.4" y="725.09" width="38.8" height="73.71" fill="#fff" stroke="#000" stroke-width="3.2"/>
<rect x="275.9" y="664.84" width="37.8" height="133.96" fill="#fff" stroke="#000" stroke-width="3.2"/>
<line x1="126" y1="480" x2="126" y2="800.5" stroke="#000" stroke-width="3.4"/>
<line x1="112" y1="798.8" x2="338" y2="798.8" stroke="#000" stroke-width="3.4"/>
<line x1="113" y1="798.8" x2="126" y2="798.8" stroke="#000" stroke-width="3.4"/>
<text x="109" y="807.14" font-size="23.5" text-anchor="end" font-weight="bold">0</text>
<line x1="113" y1="719.52" x2="126" y2="719.52" stroke="#000" stroke-width="3.4"/>
<text x="109" y="727.87" font-size="23.5" text-anchor="end" font-weight="bold">1</text>
<line x1="113" y1="640.25" x2="126" y2="640.25" stroke="#000" stroke-width="3.4"/>
<text x="109" y="648.59" font-size="23.5" text-anchor="end" font-weight="bold">2</text>
<line x1="113" y1="560.97" x2="126" y2="560.97" stroke="#000" stroke-width="3.4"/>
<text x="109" y="569.32" font-size="23.5" text-anchor="end" font-weight="bold">3</text>
<line x1="113" y1="481.7" x2="126" y2="481.7" stroke="#000" stroke-width="3.4"/>
<text x="109" y="490.04" font-size="23.5" text-anchor="end" font-weight="bold">4</text>
<circle cx="160.3" cy="568.9" r="6.4" fill="#4fa8b0"/>
<circle cx="174.2" cy="574.45" r="6.4" fill="#4fa8b0"/>
<circle cx="182" cy="610.92" r="6.4" fill="#4fa8b0"/>
<circle cx="153.1" cy="618.05" r="6.4" fill="#4fa8b0"/>
<circle cx="167.4" cy="624.39" r="6.4" fill="#4fa8b0"/>
<circle cx="167.4" cy="645.01" r="6.4" fill="#4fa8b0"/>
<circle cx="160.3" cy="662.45" r="6.4" fill="#4fa8b0"/>
<circle cx="174.2" cy="664.03" r="6.4" fill="#4fa8b0"/>
<line x1="167.5" y1="609.09" x2="167.5" y2="634.94" stroke="#000" stroke-width="1.8"/>
<line x1="157" y1="609.09" x2="178" y2="609.09" stroke="#000" stroke-width="1.8"/>
<line x1="157" y1="634.94" x2="178" y2="634.94" stroke="#000" stroke-width="1.8"/>
<circle cx="223.6" cy="707.24" r="6.4" fill="#f5a3a3"/>
<circle cx="237.5" cy="707.24" r="6.4" fill="#f5a3a3"/>
<circle cx="216.7" cy="713.98" r="6.4" fill="#f5a3a3"/>
<circle cx="245" cy="711.6" r="6.4" fill="#f5a3a3"/>
<circle cx="230.7" cy="723.49" r="6.4" fill="#f5a3a3"/>
<circle cx="216.7" cy="736.97" r="6.4" fill="#f5a3a3"/>
<circle cx="230.7" cy="738.55" r="6.4" fill="#f5a3a3"/>
<circle cx="245" cy="748.86" r="6.4" fill="#f5a3a3"/>
<line x1="230.8" y1="717.94" x2="230.8" y2="729.04" stroke="#000" stroke-width="1.8"/>
<line x1="220.3" y1="717.94" x2="241.3" y2="717.94" stroke="#000" stroke-width="1.8"/>
<line x1="220.3" y1="729.04" x2="241.3" y2="729.04" stroke="#000" stroke-width="1.8"/>
<circle cx="294.7" cy="637.08" r="6.4" fill="#b583d6"/>
<circle cx="284.2" cy="648.97" r="6.4" fill="#b583d6"/>
<circle cx="304.7" cy="645.01" r="6.4" fill="#b583d6"/>
<circle cx="279.1" cy="659.28" r="6.4" fill="#b583d6"/>
<circle cx="289.3" cy="665.62" r="6.4" fill="#b583d6"/>
<circle cx="299.5" cy="668.79" r="6.4" fill="#b583d6"/>
<circle cx="309.7" cy="671.56" r="6.4" fill="#b583d6"/>
<circle cx="294.7" cy="707.24" r="6.4" fill="#b583d6"/>
<line x1="294.8" y1="655.31" x2="294.8" y2="671.17" stroke="#000" stroke-width="1.8"/>
<line x1="284.3" y1="655.31" x2="305.3" y2="655.31" stroke="#000" stroke-width="1.8"/>
<line x1="284.3" y1="671.17" x2="305.3" y2="671.17" stroke="#000" stroke-width="1.8"/>
<text font-size="26" text-anchor="middle" transform="translate(41.8 633) rotate(-90)">CD45.1<tspan dy="-9.36" font-size="16.12">+</tspan><tspan dy="9.36">CD8</tspan><tspan dy="-9.36" font-size="16.12">+</tspan><tspan dy="9.36"> per</tspan></text>
<text font-size="26" text-anchor="middle" transform="translate(75.6 633) rotate(-90)">gram (×10<tspan dy="-9.36" font-size="16.12">5</tspan><tspan dy="9.36">)</tspan></text>
<line x1="166.7" y1="475.5" x2="298" y2="475.5" stroke="#000" stroke-width="3"/>
<text x="234.65" y="472.36" font-size="35.25" text-anchor="middle" font-weight="bold" letter-spacing="4.61">*</text>
<line x1="166.7" y1="515.7" x2="231.4" y2="515.7" stroke="#000" stroke-width="3"/>
<text x="206.01" y="512.16" font-size="35.25" text-anchor="middle" font-weight="bold" letter-spacing="4.61">****</text>
<line x1="238.2" y1="515.7" x2="298" y2="515.7" stroke="#000" stroke-width="3"/>
<text x="271.95" y="512.16" font-size="35.25" text-anchor="middle" font-weight="bold" letter-spacing="4.61">**</text>
<circle cx="367.5" cy="481.7" r="6.3" fill="#4fa8b0"/>
<text x="384.5" y="488.7" font-size="26">WT+<tspan font-style="italic">shCtrl</tspan></text>
<circle cx="367.5" cy="524.2" r="6.3" fill="#f5a3a3"/>
<text x="384.5" y="530.7" font-size="26">KO+<tspan font-style="italic">shCtrl</tspan></text>
<circle cx="367.5" cy="567.4" r="6.3" fill="#b583d6"/>
<text x="384.5" y="573.7" font-size="26">KO+<tspan font-style="italic">shTox</tspan></text>
</g>
<g id="p-d">
<text x="551" y="434" font-size="34" font-weight="bold">d</text>
<rect x="724.8" y="671.33" width="38.6" height="121.67" fill="#fff" stroke="#000" stroke-width="3.2"/>
<rect x="788.4" y="609.7" width="38.8" height="183.3" fill="#fff" stroke="#000" stroke-width="3.2"/>
<rect x="852.8" y="676.64" width="38.3" height="116.36" fill="#fff" stroke="#000" stroke-width="3.2"/>
<line x1="701.3" y1="472.5" x2="701.3" y2="794.7" stroke="#000" stroke-width="3.4"/>
<line x1="688" y1="793" x2="915.3" y2="793" stroke="#000" stroke-width="3.4"/>
<line x1="688.3" y1="793" x2="701.3" y2="793" stroke="#000" stroke-width="3.4"/>
<text x="684.3" y="801.34" font-size="23.5" text-anchor="end" font-weight="bold">0</text>
<line x1="688.3" y1="686.73" x2="701.3" y2="686.73" stroke="#000" stroke-width="3.4"/>
<text x="684.3" y="695.08" font-size="23.5" text-anchor="end" font-weight="bold">5</text>
<line x1="688.3" y1="580.47" x2="701.3" y2="580.47" stroke="#000" stroke-width="3.4"/>
<text x="684.3" y="588.81" font-size="23.5" text-anchor="end" font-weight="bold">10</text>
<line x1="688.3" y1="474.2" x2="701.3" y2="474.2" stroke="#000" stroke-width="3.4"/>
<text x="684.3" y="482.54" font-size="23.5" text-anchor="end" font-weight="bold">15</text>
<circle cx="744.1" cy="633.81" r="6.4" fill="#4fa8b0"/>
<circle cx="754.3" cy="657.62" r="6.4" fill="#4fa8b0"/>
<circle cx="733.2" cy="664.84" r="6.4" fill="#4fa8b0"/>
<circle cx="744.1" cy="668.88" r="6.4" fill="#4fa8b0"/>
<circle cx="728.1" cy="676.32" r="6.4" fill="#4fa8b0"/>
<circle cx="738.3" cy="682.48" r="6.4" fill="#4fa8b0"/>
<circle cx="748.5" cy="685.25" r="6.4" fill="#4fa8b0"/>
<circle cx="759.4" cy="687.58" r="6.4" fill="#4fa8b0"/>
<line x1="744.1" y1="663.57" x2="744.1" y2="675.89" stroke="#000" stroke-width="1.8"/>
<line x1="733.6" y1="663.57" x2="754.6" y2="663.57" stroke="#000" stroke-width="1.8"/>
<line x1="733.6" y1="675.89" x2="754.6" y2="675.89" stroke="#000" stroke-width="1.8"/>
<circle cx="800.3" cy="572.82" r="6.4" fill="#f5a3a3"/>
<circle cx="814.9" cy="583.87" r="6.4" fill="#f5a3a3"/>
<circle cx="814.8" cy="591.09" r="6.4" fill="#f5a3a3"/>
<circle cx="800.3" cy="600.02" r="6.4" fill="#f5a3a3"/>
<circle cx="793.5" cy="614.47" r="6.4" fill="#f5a3a3"/>
<circle cx="807.8" cy="620.85" r="6.4" fill="#f5a3a3"/>
<circle cx="821.8" cy="627.22" r="6.4" fill="#f5a3a3"/>
<circle cx="807.8" cy="653.58" r="6.4" fill="#f5a3a3"/>
<line x1="807.8" y1="598.74" x2="807.8" y2="617.45" stroke="#000" stroke-width="1.8"/>
<line x1="797.3" y1="598.74" x2="818.3" y2="598.74" stroke="#000" stroke-width="1.8"/>
<line x1="797.3" y1="617.45" x2="818.3" y2="617.45" stroke="#000" stroke-width="1.8"/>
<circle cx="872" cy="624.67" r="6.4" fill="#b583d6"/>
<circle cx="872" cy="662.08" r="6.4" fill="#b583d6"/>
<circle cx="887.3" cy="673.98" r="6.4" fill="#b583d6"/>
<circle cx="856.7" cy="679.72" r="6.4" fill="#b583d6"/>
<circle cx="867" cy="682.48" r="6.4" fill="#b583d6"/>
<circle cx="877" cy="686.73" r="6.4" fill="#b583d6"/>
<circle cx="867" cy="691.62" r="6.4" fill="#b583d6"/>
<circle cx="877" cy="703.95" r="6.4" fill="#b583d6"/>
<line x1="871.95" y1="666.97" x2="871.95" y2="683.12" stroke="#000" stroke-width="1.8"/>
<line x1="861.45" y1="666.97" x2="882.45" y2="666.97" stroke="#000" stroke-width="1.8"/>
<line x1="861.45" y1="683.12" x2="882.45" y2="683.12" stroke="#000" stroke-width="1.8"/>
<text font-size="26" text-anchor="middle" transform="translate(605.6 633) rotate(-90)">TOX MFI in CD8<tspan dy="-9.36" font-size="16.12">+</tspan></text>
<text font-size="26" text-anchor="middle" transform="translate(636.6 633) rotate(-90)">TILs (×10<tspan dy="-9.36" font-size="16.12">2</tspan><tspan dy="9.36">)</tspan></text>
<line x1="747.6" y1="472.1" x2="871.7" y2="472.1" stroke="#000" stroke-width="3"/>
<text x="809.65" y="455.1" font-size="26" text-anchor="middle">ns</text>
<line x1="747.6" y1="521.5" x2="800.3" y2="521.5" stroke="#000" stroke-width="3"/>
<text x="779.36" y="517.96" font-size="35.25" text-anchor="middle" font-weight="bold" letter-spacing="4.61">***</text>
<line x1="819.7" y1="521.5" x2="871.7" y2="521.5" stroke="#000" stroke-width="3"/>
<text x="851.11" y="517.96" font-size="35.25" text-anchor="middle" font-weight="bold" letter-spacing="4.61">***</text>
<circle cx="951.7" cy="482.3" r="6.3" fill="#4fa8b0"/>
<text x="967" y="489.2" font-size="26">WT+<tspan font-style="italic">shCtrl</tspan></text>
<circle cx="951.7" cy="525.9" r="6.3" fill="#f5a3a3"/>
<text x="967" y="532.7" font-size="26">KO+<tspan font-style="italic">shCtrl</tspan></text>
<circle cx="951.7" cy="569.1" r="6.3" fill="#b583d6"/>
<text x="967" y="575.9" font-size="26">KO+<tspan font-style="italic">shTox</tspan></text>
</g>
<g id="p-e">
<text x="1190" y="436" font-size="34" font-weight="bold">e</text>
<rect x="1288.5" y="529.5" width="66.21" height="22.36" fill="#a6d3e6"/>
<rect x="1354.31" y="529.5" width="66.21" height="22.36" fill="#f2b8a0"/>
<rect x="1420.12" y="529.5" width="66.21" height="22.36" fill="#7db6d8"/>
<rect x="1485.94" y="529.5" width="66.21" height="22.36" fill="#e8866a"/>
<rect x="1551.75" y="529.5" width="66.21" height="22.36" fill="#c0e0ec"/>
<rect x="1617.56" y="529.5" width="66.21" height="22.36" fill="#e5836a"/>
<rect x="1683.38" y="529.5" width="66.21" height="22.36" fill="#84bedb"/>
<rect x="1749.19" y="529.5" width="66.21" height="22.36" fill="#dd6552"/>
<rect x="1288.5" y="551.46" width="66.21" height="22.36" fill="#72b0d4"/>
<rect x="1354.31" y="551.46" width="66.21" height="22.36" fill="#e5826a"/>
<rect x="1420.12" y="551.46" width="66.21" height="22.36" fill="#d6eaf0"/>
<rect x="1485.94" y="551.46" width="66.21" height="22.36" fill="#f6c7b2"/>
<rect x="1551.75" y="551.46" width="66.21" height="22.36" fill="#95c9e0"/>
<rect x="1617.56" y="551.46" width="66.21" height="22.36" fill="#d95850"/>
<rect x="1683.38" y="551.46" width="66.21" height="22.36" fill="#c5e2ed"/>
<rect x="1749.19" y="551.46" width="66.21" height="22.36" fill="#f0ae95"/>
<rect x="1288.5" y="573.42" width="66.21" height="22.36" fill="#b3d9e8"/>
<rect x="1354.31" y="573.42" width="66.21" height="22.36" fill="#f3b9a3"/>
<rect x="1420.12" y="573.42" width="66.21" height="22.36" fill="#add6e6"/>
<rect x="1485.94" y="573.42" width="66.21" height="22.36" fill="#dc6050"/>
<rect x="1551.75" y="573.42" width="66.21" height="22.36" fill="#dcecf2"/>
<rect x="1617.56" y="573.42" width="66.21" height="22.36" fill="#f0b098"/>
<rect x="1683.38" y="573.42" width="66.21" height="22.36" fill="#c1e0eb"/>
<rect x="1749.19" y="573.42" width="66.21" height="22.36" fill="#f6c9b4"/>
<rect x="1288.5" y="595.38" width="66.21" height="22.36" fill="#4f93c5"/>
<rect x="1354.31" y="595.38" width="66.21" height="22.36" fill="#cc3d42"/>
<rect x="1420.12" y="595.38" width="66.21" height="22.36" fill="#4a8bc2"/>
<rect x="1485.94" y="595.38" width="66.21" height="22.36" fill="#cf4244"/>
<rect x="1551.75" y="595.38" width="66.21" height="22.36" fill="#3f75b6"/>
<rect x="1617.56" y="595.38" width="66.21" height="22.36" fill="#c9383f"/>
<rect x="1683.38" y="595.38" width="66.21" height="22.36" fill="#b0d8e7"/>
<rect x="1749.19" y="595.38" width="66.21" height="22.36" fill="#e68a70"/>
<rect x="1288.5" y="617.33" width="66.21" height="22.36" fill="#4f93c5"/>
<rect x="1354.31" y="617.33" width="66.21" height="22.36" fill="#dc6050"/>
<rect x="1420.12" y="617.33" width="66.21" height="22.36" fill="#6eaed3"/>
<rect x="1485.94" y="617.33" width="66.21" height="22.36" fill="#f5c4ae"/>
<rect x="1551.75" y="617.33" width="66.21" height="22.36" fill="#5497c7"/>
<rect x="1617.56" y="617.33" width="66.21" height="22.36" fill="#c9383f"/>
<rect x="1683.38" y="617.33" width="66.21" height="22.36" fill="#a7d3e5"/>
<rect x="1749.19" y="617.33" width="66.21" height="22.36" fill="#e5826c"/>
<rect x="1288.5" y="639.29" width="66.21" height="22.36" fill="#3f78b7"/>
<rect x="1354.31" y="639.29" width="66.21" height="22.36" fill="#bd2a37"/>
<rect x="1420.12" y="639.29" width="66.21" height="22.36" fill="#4479b8"/>
<rect x="1485.94" y="639.29" width="66.21" height="22.36" fill="#be2b37"/>
<rect x="1551.75" y="639.29" width="66.21" height="22.36" fill="#d3e8f0"/>
<rect x="1617.56" y="639.29" width="66.21" height="22.36" fill="#bd2a37"/>
<rect x="1683.38" y="639.29" width="66.21" height="22.36" fill="#80badb"/>
<rect x="1749.19" y="639.29" width="66.21" height="22.36" fill="#d85850"/>
<rect x="1288.5" y="661.25" width="66.21" height="22.36" fill="#f3ede6"/>
<rect x="1354.31" y="661.25" width="66.21" height="22.36" fill="#9fcee3"/>
<rect x="1420.12" y="661.25" width="66.21" height="22.36" fill="#f5c9b5"/>
<rect x="1485.94" y="661.25" width="66.21" height="22.36" fill="#e6eef2"/>
<rect x="1551.75" y="661.25" width="66.21" height="22.36" fill="#d9ebf1"/>
<rect x="1617.56" y="661.25" width="66.21" height="22.36" fill="#99cbe1"/>
<rect x="1683.38" y="661.25" width="66.21" height="22.36" fill="#dc6050"/>
<rect x="1749.19" y="661.25" width="66.21" height="22.36" fill="#4583bd"/>
<rect x="1288.5" y="683.21" width="66.21" height="22.36" fill="#f5c4ae"/>
<rect x="1354.31" y="683.21" width="66.21" height="22.36" fill="#e8eff2"/>
<rect x="1420.12" y="683.21" width="66.21" height="22.36" fill="#f2b49d"/>
<rect x="1485.94" y="683.21" width="66.21" height="22.36" fill="#d5e9f0"/>
<rect x="1551.75" y="683.21" width="66.21" height="22.36" fill="#dd6552"/>
<rect x="1617.56" y="683.21" width="66.21" height="22.36" fill="#7ab4d7"/>
<rect x="1683.38" y="683.21" width="66.21" height="22.36" fill="#f3eee8"/>
<rect x="1749.19" y="683.21" width="66.21" height="22.36" fill="#e1edf2"/>
<rect x="1288.5" y="705.17" width="66.21" height="22.36" fill="#c2303a"/>
<rect x="1354.31" y="705.17" width="66.21" height="22.36" fill="#d3e8f0"/>
<rect x="1420.12" y="705.17" width="66.21" height="22.36" fill="#d7524c"/>
<rect x="1485.94" y="705.17" width="66.21" height="22.36" fill="#66a7d0"/>
<rect x="1551.75" y="705.17" width="66.21" height="22.36" fill="#f8e0d2"/>
<rect x="1617.56" y="705.17" width="66.21" height="22.36" fill="#f8e0d2"/>
<rect x="1683.38" y="705.17" width="66.21" height="22.36" fill="#f8d5c3"/>
<rect x="1749.19" y="705.17" width="66.21" height="22.36" fill="#6dadd3"/>
<rect x="1288.5" y="727.12" width="66.21" height="22.36" fill="#be2b37"/>
<rect x="1354.31" y="727.12" width="66.21" height="22.36" fill="#4076b7"/>
<rect x="1420.12" y="727.12" width="66.21" height="22.36" fill="#bd2a37"/>
<rect x="1485.94" y="727.12" width="66.21" height="22.36" fill="#4278b8"/>
<rect x="1551.75" y="727.12" width="66.21" height="22.36" fill="#f0f0f0"/>
<rect x="1617.56" y="727.12" width="66.21" height="22.36" fill="#62a3ce"/>
<rect x="1683.38" y="727.12" width="66.21" height="22.36" fill="#bd2a37"/>
<rect x="1749.19" y="727.12" width="66.21" height="22.36" fill="#4278b8"/>
<rect x="1288.5" y="749.08" width="66.21" height="22.36" fill="#e5826c"/>
<rect x="1354.31" y="749.08" width="66.21" height="22.36" fill="#8ec4de"/>
<rect x="1420.12" y="749.08" width="66.21" height="22.36" fill="#cc3d42"/>
<rect x="1485.94" y="749.08" width="66.21" height="22.36" fill="#6fafd4"/>
<rect x="1551.75" y="749.08" width="66.21" height="22.36" fill="#f0f0f0"/>
<rect x="1617.56" y="749.08" width="66.21" height="22.36" fill="#a8d4e6"/>
<rect x="1683.38" y="749.08" width="66.21" height="22.36" fill="#e27a66"/>
<rect x="1749.19" y="749.08" width="66.21" height="22.36" fill="#4a8bc2"/>
<rect x="1288.5" y="771.04" width="66.21" height="22.36" fill="#f8dccd"/>
<rect x="1354.31" y="771.04" width="66.21" height="22.36" fill="#5497c7"/>
<rect x="1420.12" y="771.04" width="66.21" height="22.36" fill="#cc3d42"/>
<rect x="1485.94" y="771.04" width="66.21" height="22.36" fill="#78b3d6"/>
<rect x="1551.75" y="771.04" width="66.21" height="22.36" fill="#bd2a37"/>
<rect x="1617.56" y="771.04" width="66.21" height="22.36" fill="#4076b7"/>
<rect x="1683.38" y="771.04" width="66.21" height="22.36" fill="#f8d5c3"/>
<rect x="1749.19" y="771.04" width="66.21" height="22.36" fill="#b8dcea"/>
<text x="1823" y="545.3" font-size="22.8" font-style="italic">LEF1</text>
<text x="1823" y="567.65" font-size="22.8" font-style="italic">TCF7</text>
<text x="1823" y="590" font-size="22.8" font-style="italic">AQP3</text>
<text x="1823" y="612.35" font-size="22.8" font-style="italic">CCR7</text>
<text x="1823" y="634.7" font-size="22.8" font-style="italic">SELL</text>
<text x="1823" y="657.05" font-size="22.8" font-style="italic">IL7R</text>
<text x="1823" y="679.4" font-size="22.8" font-style="italic">PDCD1</text>
<text x="1823" y="701.75" font-size="22.8" font-style="italic">CTLA4</text>
<text x="1823" y="724.1" font-size="22.8" font-style="italic">CD200R1</text>
<text x="1823" y="746.45" font-size="22.8" font-style="italic">HAVCR2</text>
<text x="1823" y="768.8" font-size="22.8" font-style="italic">LAG3</text>
<text x="1823" y="791.15" font-size="22.8" font-style="italic">TIGIT</text>
<text x="1823" y="821" font-size="22.8" font-style="italic">KLHL6</text>
<text x="1319.91" y="821.5" font-size="23" text-anchor="middle">Low</text>
<text x="1385.72" y="821.5" font-size="23" text-anchor="middle">High</text>
<text x="1451.53" y="821.5" font-size="23" text-anchor="middle">Low</text>
<text x="1517.34" y="821.5" font-size="23" text-anchor="middle">High</text>
<text x="1583.16" y="821.5" font-size="23" text-anchor="middle">Low</text>
<text x="1648.97" y="821.5" font-size="23" text-anchor="middle">High</text>
<text x="1714.78" y="821.5" font-size="23" text-anchor="middle">Low</text>
<text x="1780.59" y="821.5" font-size="23" text-anchor="middle">High</text>
<text x="1356.5" y="441" font-size="26" text-anchor="middle">Melanoma</text>
<text x="1489.5" y="410" font-size="26" text-anchor="middle">Renal</text>
<text x="1489.5" y="441" font-size="26" text-anchor="middle">cancer</text>
<text x="1612" y="410" font-size="26" text-anchor="middle">Breast</text>
<text x="1612" y="441" font-size="26" text-anchor="middle">cancer</text>
<text x="1759.5" y="410" font-size="26" text-anchor="middle">Nasopharyngeal</text>
<text x="1759.5" y="441" font-size="26" text-anchor="middle">cancer</text>
<circle cx="1355.5" cy="489" r="33.5" fill="#d5d8db"/>
<path d="M1371.97 490C1371.75 492.5 1375.07 495.35 1374.43 497.25C1373.79 499.16 1369.67 499.57 1368.13 501.44C1366.58 503.3 1366.93 507.55 1365.15 508.45C1363.38 509.36 1359.88 506.37 1357.48 506.87C1355.07 507.38 1352.78 511.57 1350.71 511.47C1348.65 511.38 1347.34 507.47 1345.08 506.31C1342.83 505.15 1338.52 506.19 1337.19 504.53C1335.85 502.87 1337.78 498.76 1337.09 496.34C1336.4 493.92 1332.98 492.09 1333.06 490C1333.13 487.91 1336.69 486.13 1337.52 483.82C1338.34 481.51 1336.6 477.62 1337.99 476.15C1339.37 474.67 1343.69 476.15 1345.83 474.98C1347.97 473.81 1348.87 469.47 1350.82 469.11C1352.77 468.75 1355.01 472.65 1357.53 472.84C1360.04 473.02 1364.05 469.35 1365.93 470.21C1367.81 471.07 1367.16 476 1368.79 478.01C1370.43 480.02 1375.22 480.27 1375.75 482.27C1376.28 484.26 1372.19 487.5 1371.97 490Z" fill="#3a302c" stroke="#e08a6c" stroke-width="3.2"/>
<circle cx="1363.5" cy="490" r="4.2" fill="#4a403b"/>
<circle cx="1360.11" cy="497.04" r="4.2" fill="#4a403b"/>
<circle cx="1352.5" cy="498.77" r="4.2" fill="#4a403b"/>
<circle cx="1346.39" cy="493.9" r="4.2" fill="#4a403b"/>
<circle cx="1346.39" cy="486.1" r="4.2" fill="#4a403b"/>
<circle cx="1352.5" cy="481.23" r="4.2" fill="#4a403b"/>
<circle cx="1360.11" cy="482.96" r="4.2" fill="#4a403b"/>
<circle cx="1354.5" cy="490" r="4.5" fill="#2a2220"/>
<circle cx="1489" cy="489" r="33.5" fill="#d5d8db"/>
<path d="M1491 465 c-16 0 -22 12 -21 24 c1 13 9 22 20 22 c9 0 14 -6 14 -13 c0 -5 -3 -7 -3 -11 c0 -4 4 -6 4 -11 c0 -7 -6 -11 -14 -11z" fill="#b8543c" stroke="#8a3a2a" stroke-width="1"/>
<path d="M1490 470 c-11 0 -16 9 -15 18 c1 10 7 16 15 16 c6 0 9 -4 9 -9 c0 -4 -3 -6 -3 -9 c0 -3 3 -5 3 -8 c0 -5 -4 -8 -9 -8z" fill="#f0c97a"/>
<circle cx="1487" cy="497" r="9" fill="#f6e3b0"/>
<circle cx="1491" cy="483" r="6" fill="#d7a043"/>
<rect x="1498" y="487" width="4.5" height="22" fill="#e8c45a"/>
<path d="M1499 485 h10" fill="none" stroke="#d23a34" stroke-width="3"/>
<path d="M1499 490 h10" fill="none" stroke="#3a5fc0" stroke-width="3"/>
<circle cx="1619" cy="489" r="33.5" fill="#d5d8db"/>
<path d="M1611 467 c14 4 26 16 26 28 c0 10 -10 16 -22 14 c-6 -1 -8 -3 -10 -6 z" fill="#f6c28a" stroke="#e0956a" stroke-width="1.2"/>
<path d="M1604 467 l7 -2 l6 46 l-7 4 z" fill="#d8504a" stroke="#b23a36" stroke-width="1"/>
<circle cx="1622" cy="494" r="8.5" fill="#f3a64e"/>
<circle cx="1618" cy="483" r="5.5" fill="#d23a34"/>
<circle cx="1626" cy="497" r="4" fill="#f8d49a"/>
<circle cx="1749.5" cy="489" r="33.5" fill="#d5d8db"/>
<path d="M1751.5 462 c-12 0 -19 9 -19 19 c0 4 -4 8 -4 10 c0 2 3 2 3 4 c0 5 2 9 8 9 l4 0 l0 14 l20 0 l0 -16 c6 -5 9 -12 9 -20 c0 -12 -9 -20 -21 -20z" fill="#f2efe6" stroke="#e3dfd2" stroke-width="1"/>
<circle cx="1739.5" cy="492" r="7" fill="#f0b0a4"/>
<rect x="1742.5" y="495" width="7" height="14" fill="#e88f86"/>
<path d="M1747.5 491 q6 8 4 22" fill="none" stroke="#8fb2e0" stroke-width="3"/>
<circle cx="1736.5" cy="491" r="3" fill="#c9a7d6"/>
<defs><linearGradient id="gE" x1="0" y1="0" x2="0" y2="1"><stop offset="0" stop-color="#b2182b"/><stop offset="0.18" stop-color="#e0503c"/><stop offset="0.32" stop-color="#f7a35c"/><stop offset="0.45" stop-color="#fdeea6"/><stop offset="0.58" stop-color="#d8eef0"/><stop offset="0.72" stop-color="#8cc4e0"/><stop offset="0.88" stop-color="#4a84c0"/><stop offset="1" stop-color="#3a3a9e"/></linearGradient></defs>
<rect x="1259.5" y="611" width="15" height="96.5" fill="url(#gE)"/>
<text x="1205" y="632.5" font-size="23">High</text>
<text x="1206" y="700.5" font-size="23">Low</text>
</g>
<g id="p-f">
<text x="3" y="874.5" font-size="34" font-weight="bold">f</text>
<text x="296" y="916.5" font-size="26" text-anchor="middle">CD8<tspan dy="-9.36" font-size="16.12">+</tspan><tspan dy="9.36"> T cells isolated</tspan></text>
<text x="296" y="947.5" font-size="26" text-anchor="middle">from spleen</text>
<path d="M68.04 1005.49C66.05 1004.27 60.38 1000.38 56.13 998.17C51.88 995.96 47.2 993.64 42.52 992.22C37.85 990.8 32.32 989.64 28.07 989.67C23.81 989.7 19.25 990.97 17.01 992.39C14.77 993.81 14.4 996.19 14.63 998.17C14.86 1000.16 16.13 1002.65 18.37 1004.3C20.61 1005.94 25.4 1006.71 28.07 1008.04C30.73 1009.37 33.57 1011.07 34.36 1012.29C35.15 1013.51 33.08 1014.84 32.83 1015.35" fill="none" stroke="#a8726e" stroke-width="3.3" stroke-linecap="round"/>
<path d="M68.04 1005.49C66.05 1004.27 60.38 1000.38 56.13 998.17C51.88 995.96 47.2 993.64 42.52 992.22C37.85 990.8 32.32 989.64 28.07 989.67C23.81 989.7 19.25 990.97 17.01 992.39C14.77 993.81 14.4 996.19 14.63 998.17C14.86 1000.16 16.13 1002.65 18.37 1004.3C20.61 1005.94 25.4 1006.71 28.07 1008.04C30.73 1009.37 33.57 1011.07 34.36 1012.29C35.15 1013.51 33.08 1014.84 32.83 1015.35" fill="none" stroke="#c79590" stroke-width="2" stroke-linecap="round"/>
<path d="M71.44 1019.95C69.74 1019.38 65.06 1021.02 62.94 1021.65C60.81 1022.27 58.97 1022.89 58.68 1023.69C58.4 1024.48 59.68 1025.84 61.23 1026.41C62.79 1026.98 66.05 1027.32 68.04 1027.09C70.02 1026.86 72.57 1026.24 73.14 1025.05C73.71 1023.86 73.14 1020.51 71.44 1019.95Z" fill="#c79590" stroke="#a8726e" stroke-width="0.6"/>
<path d="M91 1050.56 L99.51 1050.56 L98.32 1065.02 L101.72 1070.12 L97.81 1071.31 L95.25 1068.42 L92.7 1071.83 L90.15 1068.93 L87.09 1070.63 L84.54 1067.91 L90.15 1065.02Z" fill="#c79590" stroke="#a8726e" stroke-width="0.6"/>
<path d="M135.23 1040.36 L142.88 1040.36 L143.73 1052.26 L150.54 1057.37 L146.62 1059.41 L143.73 1057.37 L142.03 1060.77 L138.63 1058.22 L136.08 1059.07 L134.72 1053.11Z" fill="#c79590" stroke="#a8726e" stroke-width="0.6"/>
<path d="M140.33 978.27C139.28 976.91 142.2 970.62 142.54 968.92C142.88 967.22 142.93 961.43 143.73 961.26C144.53 961.09 149.18 965.85 150.54 967.22C151.9 968.58 156.32 973.3 157.34 974.87C158.36 976.43 161.17 982.1 160.74 982.86C160.32 983.63 155.13 982.98 153.09 982.52C151.05 982.06 141.38 979.63 140.33 978.27Z" fill="#3f3c3a"/>
<path d="M144.92 963.81C145.26 963.81 150.14 968.49 151.39 969.77C152.63 971.04 156.52 975.38 157.34 976.57C158.16 977.76 159.89 981.67 159.55 981.67C159.21 981.67 155.09 977.76 153.94 976.57C152.78 975.38 148.89 971.04 147.98 969.77C147.08 968.49 144.58 963.81 144.92 963.81Z" fill="#b98480"/>
<path d="M68.04 1001.23C69.01 998.68 71.1 995.15 73.14 992.73C75.18 990.31 78.84 986.81 81.65 985.08C84.45 983.34 88.28 981.85 91.85 981.16C95.42 980.47 100.36 980.53 105.46 980.48C110.56 980.43 121.53 981.15 125.87 980.82C130.21 980.49 131.57 978.91 134.38 978.27C137.18 977.63 141.52 976.32 144.58 976.57C147.64 976.83 151.98 978.77 154.79 979.97C157.59 981.17 161 983.03 163.29 984.57C165.59 986.1 168.77 988.57 170.1 990.18C171.42 991.79 172.06 993.5 172.14 995.28C172.21 997.07 171.3 1000.3 170.61 1002.09C169.92 1003.87 169.15 1005.53 167.55 1007.19C165.94 1008.85 161.93 1011.1 159.89 1013.14C157.85 1015.18 155.34 1018.12 153.94 1020.8C152.53 1023.48 151.81 1028.32 150.54 1031C149.26 1033.68 147.6 1036.92 145.43 1038.66C143.26 1040.39 139.52 1041.75 136.08 1042.57C132.63 1043.38 126.42 1043.61 122.47 1044.1C118.52 1044.58 112.65 1044.7 109.71 1045.8C106.78 1046.9 104.82 1050.32 102.91 1051.41C101 1052.51 98.87 1052.99 96.96 1053.11C95.04 1053.24 91.43 1053.54 90.15 1052.26C88.88 1050.99 89.73 1047.03 88.45 1044.61C87.17 1042.19 83.89 1038.53 81.65 1036.1C79.4 1033.68 75.45 1030.87 73.48 1028.45C71.52 1026.03 69.57 1022.75 68.55 1019.95C67.53 1017.14 66.75 1012.55 66.68 1009.74C66.6 1006.93 67.07 1003.79 68.04 1001.23Z" fill="#4b4845"/>
<path d="M98.66 978.27C98.78 975.47 100.27 970.23 102.06 968.07C103.84 965.9 107.88 964.07 110.56 963.81C113.24 963.56 117.67 964.83 119.92 966.37C122.16 967.9 124.89 971.34 125.53 974.02C126.17 976.7 125.14 981.42 124.17 984.23C123.2 987.03 120.22 990.82 119.07 992.73C117.92 994.64 118.05 996.98 116.52 996.98C114.99 996.98 111.16 994.26 108.86 992.73C106.57 991.2 102.74 988.95 101.21 986.78C99.68 984.61 98.53 981.08 98.66 978.27Z" fill="#c79590" stroke="#8a5a58" stroke-width="0.8"/>
<path d="M112.26 980.82C112.77 978.91 115.96 976.57 117.37 976.57C118.77 976.57 121.36 978.91 121.62 980.82C121.87 982.74 119.83 987.29 119.07 989.33C118.3 991.37 117.28 994.43 116.52 994.43C115.75 994.43 114.6 991.37 113.96 989.33C113.33 987.29 111.75 982.74 112.26 980.82Z" fill="#b27f7b"/>
<ellipse cx="139.48" cy="990.69" rx="4.4" ry="3.2" fill="#141212" transform="rotate(-20 139.48 990.69)"/>
<circle cx="140.16" cy="989.84" r="0.8" fill="#fff"/>
<ellipse cx="167.72" cy="994.77" rx="3.4" ry="2.8" fill="#c98f8c"/>
<path d="M171.8 991.03l9 -4.5M172.14 993.07l10 -1M172.14 995.28l9 3" fill="none" stroke="#d8d8d8" stroke-width="0.7"/>
<text x="107" y="1102.5" font-size="26" text-anchor="middle">OT-I mice</text>
<path d="M183 989 Q310 946 436 1000" fill="none" stroke="#1a1a1a" stroke-width="2.6"/>
<polygon points="446,1004.5 428.5,1005.5 434.5,990" fill="#1a1a1a"/>
<circle cx="483.5" cy="997" r="20.3" fill="#c6c6c6" stroke="#adadad" stroke-width="1"/>
<circle cx="484.1" cy="998.2" r="15.2" fill="#b1b1b1"/>
<circle cx="463.3" cy="1033.6" r="20.3" fill="#c6c6c6" stroke="#adadad" stroke-width="1"/>
<circle cx="463.9" cy="1034.8" r="15.2" fill="#b1b1b1"/>
<circle cx="506.7" cy="1032.6" r="20.3" fill="#c6c6c6" stroke="#adadad" stroke-width="1"/>
<circle cx="507.3" cy="1033.8" r="15.2" fill="#b1b1b1"/>
<g transform="translate(485 976.5) rotate(0) scale(1)" stroke="#16234a" stroke-width="1.3" fill="none">
<path d="M-1.1 0V-7.6L-6.6 -13.4M1.1 0V-7.6L6.6 -13.4M-3 -7.4L-8 -12.2M3 -7.4L8 -12.2"/>
</g>
<g transform="translate(464 1013.3) rotate(0) scale(1)" stroke="#16234a" stroke-width="1.3" fill="none">
<path d="M-1.1 0V-7.6L-6.6 -13.4M1.1 0V-7.6L6.6 -13.4M-3 -7.4L-8 -12.2M3 -7.4L8 -12.2"/>
</g>
<g transform="translate(507.3 1011.8) rotate(0) scale(1)" stroke="#16234a" stroke-width="1.3" fill="none">
<path d="M-1.1 0V-7.6L-6.6 -13.4M1.1 0V-7.6L6.6 -13.4M-3 -7.4L-8 -12.2M3 -7.4L8 -12.2"/>
</g>
<text x="490.5" y="1083" font-size="26" text-anchor="middle">Stimulation</text>
<text x="490.5" y="1115" font-size="26" text-anchor="middle">Anti-CD3/CD28</text>
<text x="490.5" y="1146" font-size="26" text-anchor="middle">24 h</text>
<line x1="484.8" y1="1172" x2="484.8" y2="1457.5" stroke="#1a1a1a" stroke-width="2.4"/>
<polygon points="484.8,1471.5 476.8,1456.5 492.8,1456.5" fill="#1a1a1a"/>
<text x="468.5" y="1262" font-size="26" text-anchor="end">RV transduction</text>
<text x="468.5" y="1293" font-size="26" text-anchor="end">Control or</text>
<text x="468.5" y="1324" font-size="26" text-anchor="end">TOX<tspan dy="-9.36" font-size="16.12">WT</tspan><tspan dy="9.36">-OE or</tspan></text>
<text x="468.5" y="1355" font-size="26" text-anchor="end">TOX<tspan dy="-9.36" font-size="16.12">4KR</tspan><tspan dy="9.36">-OE</tspan></text>
<text x="106" y="1296" font-size="26" text-anchor="middle">Flow cytometry</text>
<text x="106" y="1326.5" font-size="26" text-anchor="middle">RNA-seq</text>
<line x1="105.7" y1="1475" x2="105.7" y2="1366" stroke="#1a1a1a" stroke-width="2.4"/>
<polygon points="105.7,1352 113.7,1367 97.7,1367" fill="#1a1a1a"/>
<circle cx="103.5" cy="1524.5" r="20.3" fill="#f2858c" stroke="#d9636d" stroke-width="1"/>
<circle cx="104.1" cy="1525.7" r="15.2" fill="#d9636d"/>
<circle cx="83.3" cy="1561.1" r="20.3" fill="#f2858c" stroke="#d9636d" stroke-width="1"/>
<circle cx="83.9" cy="1562.3" r="15.2" fill="#d9636d"/>
<circle cx="126.7" cy="1560.1" r="20.3" fill="#f2858c" stroke="#d9636d" stroke-width="1"/>
<circle cx="127.3" cy="1561.3" r="15.2" fill="#d9636d"/>
<g transform="translate(105 1504) rotate(0) scale(1)" stroke="#16234a" stroke-width="1.3" fill="none">
<path d="M-1.1 0V-7.6L-6.6 -13.4M1.1 0V-7.6L6.6 -13.4M-3 -7.4L-8 -12.2M3 -7.4L8 -12.2"/>
</g>
<g transform="translate(84 1540.8) rotate(0) scale(1)" stroke="#16234a" stroke-width="1.3" fill="none">
<path d="M-1.1 0V-7.6L-6.6 -13.4M1.1 0V-7.6L6.6 -13.4M-3 -7.4L-8 -12.2M3 -7.4L8 -12.2"/>
</g>
<g transform="translate(127.3 1539.3) rotate(0) scale(1)" stroke="#16234a" stroke-width="1.3" fill="none">
<path d="M-1.1 0V-7.6L-6.6 -13.4M1.1 0V-7.6L6.6 -13.4M-3 -7.4L-8 -12.2M3 -7.4L8 -12.2"/>
</g>
<circle cx="484" cy="1524.5" r="20.3" fill="#f2858c" stroke="#d9636d" stroke-width="1"/>
<circle cx="484.6" cy="1525.7" r="15.2" fill="#d9636d"/>
<circle cx="463.8" cy="1561.1" r="20.3" fill="#f2858c" stroke="#d9636d" stroke-width="1"/>
<circle cx="464.4" cy="1562.3" r="15.2" fill="#d9636d"/>
<circle cx="507.2" cy="1560.1" r="20.3" fill="#f2858c" stroke="#d9636d" stroke-width="1"/>
<circle cx="507.8" cy="1561.3" r="15.2" fill="#d9636d"/>
<g transform="translate(485.5 1504) rotate(0) scale(1)" stroke="#16234a" stroke-width="1.3" fill="none">
<path d="M-1.1 0V-7.6L-6.6 -13.4M1.1 0V-7.6L6.6 -13.4M-3 -7.4L-8 -12.2M3 -7.4L8 -12.2"/>
</g>
<g transform="translate(464.5 1540.8) rotate(0) scale(1)" stroke="#16234a" stroke-width="1.3" fill="none">
<path d="M-1.1 0V-7.6L-6.6 -13.4M1.1 0V-7.6L6.6 -13.4M-3 -7.4L-8 -12.2M3 -7.4L8 -12.2"/>
</g>
<g transform="translate(507.8 1539.3) rotate(0) scale(1)" stroke="#16234a" stroke-width="1.3" fill="none">
<path d="M-1.1 0V-7.6L-6.6 -13.4M1.1 0V-7.6L6.6 -13.4M-3 -7.4L-8 -12.2M3 -7.4L8 -12.2"/>
</g>
<text x="295" y="1534" font-size="26" text-anchor="middle"><tspan font-style="italic">In vitro</tspan> expansion</text>
<text x="295" y="1564.5" font-size="26" text-anchor="middle">IL-2 5 days</text>
<path d="M421 1574.5 Q300 1626 178 1585.5" fill="none" stroke="#1a1a1a" stroke-width="2.6"/>
<polygon points="167.5,1581 185,1578 181.5,1594" fill="#1a1a1a"/>
</g>
<g id="p-g">
<text x="599" y="876" font-size="34" font-weight="bold">g</text>
<rect x="658.3" y="928.4" width="195.6" height="196.3" fill="#fff" stroke="#000" stroke-width="1.3"/>
<path d="M670.3 1124.7v6M734.3 1124.7v6M787.3 1124.7v6M835.3 1124.7v6M689.57 1124.7v3.2M700.84 1124.7v3.2M708.83 1124.7v3.2M715.03 1124.7v3.2M720.1 1124.7v3.2M724.39 1124.7v3.2M728.1 1124.7v3.2M731.37 1124.7v3.2M750.25 1124.7v3.2M759.59 1124.7v3.2M766.21 1124.7v3.2M771.35 1124.7v3.2M775.54 1124.7v3.2M779.09 1124.7v3.2M782.16 1124.7v3.2M784.87 1124.7v3.2M801.75 1124.7v3.2M810.2 1124.7v3.2M816.2 1124.7v3.2M820.85 1124.7v3.2M824.65 1124.7v3.2M827.86 1124.7v3.2M830.65 1124.7v3.2M833.1 1124.7v3.2M849.75 1124.7v3.2M658.3 1106h-6M658.3 1047h-6M658.3 1010.5h-6M658.3 978.5h-6M658.3 943h-6M658.3 1088.24h-3.2M658.3 1077.85h-3.2M658.3 1070.48h-3.2M658.3 1064.76h-3.2M658.3 1060.09h-3.2M658.3 1056.14h-3.2M658.3 1052.72h-3.2M658.3 1049.7h-3.2M658.3 1036.01h-3.2M658.3 1029.59h-3.2M658.3 1025.02h-3.2M658.3 1021.49h-3.2M658.3 1018.6h-3.2M658.3 1016.15h-3.2M658.3 1014.04h-3.2M658.3 1012.17h-3.2M658.3 1000.87h-3.2M658.3 995.23h-3.2M658.3 991.23h-3.2M658.3 988.13h-3.2M658.3 985.6h-3.2M658.3 983.46h-3.2M658.3 981.6h-3.2M658.3 979.96h-3.2M658.3 967.81h-3.2M658.3 961.56h-3.2M658.3 957.13h-3.2M658.3 953.69h-3.2M658.3 950.88h-3.2M658.3 948.5h-3.2M658.3 946.44h-3.2M658.3 944.62h-3.2M658.3 932.31h-3.2" fill="none" stroke="#000" stroke-width="1.15"/>
<rect x="697.8" y="1125" width="7" height="4.3" fill="#000"/>
<path d="M695.3 1124.7v4M707.3 1124.7v4" fill="none" stroke="#000" stroke-width="1"/>
<rect x="653.7" y="1074.5" width="4.3" height="7" fill="#000"/>
<path d="M658.3 1072h-4M658.3 1084h-4" fill="none" stroke="#000" stroke-width="1"/>
<path d="M709 1071.9l2.8-.8 2 .3 1 .8 .2 .7-.1 1-1.2 2-1.9 1.4-3 1-2-.3-1.1-1.1-.2-1 .3-1 1.7-2zM716.6 1026.9l.2-.2 1 .1 .4 2.1-.4 2.4-1 .7-.7-2.1 0-1zM709.3 1069.9l3.5-.9 3 .3 1 .6 .8 1 .2 1-.4 2-2.3 3-2.9 2-3.4 1.1-3-.1-1.7-1-.6-1-.3-1 .4-2 2.2-2.8zM715.9 1023.9l.9-.7 1 0 1 .8 .8 1.9 .3 2-.2 3-.7 3-1.2 2-1 .5-1-.4-.6-1.1-.4-1-.4-3 .2-4zM709.7 1068.9l4.1-.9 2 .1 1.8 .8 .9 1 .4 1 .1 1-.6 2-1.3 2-1.3 1.3-2 1.6-2 1-4 1.1-3-.5-1-.5-1-1-.4-1-.1-1 .4-2 2.2-3 1.9-1.5zM715.7 1021.9l1.1-.6 1-.1 1 .5 1.4 2.2 .7 3-.1 4.1-1 4.5-1 2.2-1 1.1-1 .5-1-.1-1.2-1.3-.8-2.2-.5-3.8 0-3 .4-3 1.1-2.9zM710.2 1067.9l2.6-.7 2-.2 2 .3 1.5 .6 1.1 1 .7 2 0 1-.7 2-1.3 2-2 2-4.3 2.6-4 1-2 0-2-.6-1.4-1-.7-1-.3-2 .4-2 1.2-2 1.9-2 2.9-1.9zM716.3 1019.9l1.5-.2 1 .3 1 .9 1.4 3 .6 4-.4 5-.9 4-1.7 3.4-1 1-1 .5-1-.1-1-.6-1-1.3-1-3.2-.5-4.7 .2-4 .8-4 1.5-2.8zM710.8 1066.9l3-.7 2-.1 2 .3 2 1.1 1 1.3 .4 1.1-.1 2-.7 2-1.4 2-1.9 2-2.3 1.7-3 1.6-3 .9-2 .1-2-.2-2-.8-1.5-1.3-.8-2 .2-2 .8-2 1.4-2 2.2-2 2.7-1.7zM715.4 1018.9l1.4-.6 1-.1 2 1 1 1.2 1 2.2 .8 4.3-.3 6-1.3 6-1.2 2.6-1 1.4-1 .8-1 .5-1 0-1-.4-1.6-1.9-1.1-3-.6-5 .1-6 .8-4 1.4-3.3zM711.2 1065.9l2.6-.7 3-.1 2 .4 2 1.2 1 1.2 .6 2-.2 2-.8 2-1.4 2-2.2 2.3-3 2.1-3 1.5-3 .9-2 .2-2-.1-2.5-.9-1.5-1.2-1-1.8-.1-2 .9-3 1.4-2 2.8-2.7 3-1.9zM714.9 1017.9l1.9-.9 1-.1 2 .9 1 .9 1 1.6 1 2.6 .6 5-.6 7.4-.8 3.6-1 3-1.2 2.2-1 1.2-1 .8-2 .4-2-.9-1-1.2-.8-1.5-.9-3-.5-5 .2-6 .7-5 1.3-3.4zM711.4 1064.9l3.4-.8 3 0 2 .5 2 1.3 1.3 2 .4 2-.3 2-.9 2-1.3 2-2.2 2.3-3 2.2-3 1.7-3 1-3 .5-3-.3-2-.8-1.9-1.6-.9-2-.1-2 .9-3 2.1-3 2.9-2.6 3-1.9zM716.7 1015.9l1.1-.1 2 .8 1.4 1.3 1.3 2 1.2 4 .4 6-.9 8-1.8 6-1.1 2-1.5 1.7-1 .6-2 .5-2-.7-1-.9-1-1.3-.8-1.9-1-5-.2-6 .6-7 1.3-5 2.1-3.3 1-.9zM716.2 1062.9l2.6 .2 2 .7 2 1.4 1.2 1.7 .5 2-.1 2-1.2 3-1.4 2-2.9 3-2.8 2-3.3 1.8-3 1-3 .5-3-.2-2-.7-2-1.3-1.4-2.1-.3-3 1-3 2-3 2.7-2.7 4-2.6 5-2.1zM716.1 1014.9l1.7-.2 2 .6 1 .7 1.6 1.9 1 2 .9 3 .5 6-.7 9-.8 4-.9 3-.9 2-1.7 2.4-2 1.5-2 .4-2-.6-1-.6-1.1-1.1-1.2-2-.8-2-.6-3-.2-6 .4-8 1.2-6 .8-2 1.5-2.5 2-1.9zM713.9 1061.9l2.9-.5 3 .4 3 1.5 1.5 1.6 1 2 .3 3-.5 2-1.5 3-2.6 3-2.3 2-3.9 2.5-3 1.3-4 1-3 .1-3-.7-2-1.1-1.9-2.1-.7-3 .6-3 1.6-3 2.6-3 3.8-3.1 4-2.3zM716 1013.9l1.8-.2 2 .5 2 1.6 1.5 2.1 .9 2 .8 3 .5 7-.8 10-.8 4-1.1 3.4-1.3 2.6-1.7 2.2-2 1.4-2 .4-1-.2-2-1-1.9-1.8-1.1-1.7-1.5-4.3-.4-6 .7-11 .6-4 .9-3 1.4-3 1.3-1.8 2-1.7zM715.2 1059.9l2.6-.3 3 .8 3 2 2 2.5 .7 2 .1 3-.6 2-1.6 3-2.5 3-3.1 2.6-3 2-4 1.8-4 1-3 .1-3-.6-2-.9-2.1-2-.6-1-.5-2 .2-3 .7-2 1.1-2 2.4-3 3.8-3.3 5-3.3 4-2zM716.5 1012.9l1.3-.1 2 .5 2.1 1.6 2.1 3 1.6 5 .4 4 .1 4-.4 7-.6 5-1.3 5.3-1 2.5-2.3 4.2-.4 1 0 1 .6 1 4.1 3.7 1.7 2.3 1 3-.1 3-1 3-1.9 3-2.9 3-3.8 2.9-4 2.2-4 1.4-4 .5-3-.3-3-1-2.2-1.7-.8-1.2-.7-1.8-.1-3 .5-2 .9-2 2.8-4 3.6-3.5 7.4-5.5 1.8-2 .1-1-.5-1-3.8-5-1.4-4-.5-5 .3-7 1-9 1.6-6 1.6-3 1.4-1.8 2-1.6zM716.3 1011.9l1.5-.1 2 .4 2.4 1.7 2.1 3 1.8 5 .7 7-.3 11-.8 7-1.8 7-.3 2 .6 2 2.8 4 1.4 3 .3 2-.2 3-1.1 3-2.8 4-3.1 3-3.7 2.7-4 2.1-4 1.3-4 .6-3-.3-2-.5-1.9-.9-2.3-2-1.3-3-.1-3 .9-3 2.4-4 3.3-3.8 5.6-5.2 1.4-2 .3-2-2.6-6-1.1-5 .2-5 1.6-14 1.1-5 2.1-5 2.4-3 2-1.5zM715.5 1010.9l1.3-.3 2 .1 3 1.5 1.7 1.7 1.3 2 2 5 .9 6 .1 9-.2 10-1 9 .6 3 2.6 6 .3 2-.1 3-1.4 4-2 3-2.8 3-4 3.2-4 2.4-5 2-4 .7-4-.1-4-1.3-2.6-1.9-.7-1-1-2-.3-2 .1-2 .9-3 1.6-3 2-2.9 5.2-6.1 1.5-3 0-2-2.1-7-.3-4 .3-3 3.2-18 1.4-5 1.9-4 2.9-3.4zM714.4 1009.9l1.4-.6 2-.2 2 .4 2 1.1 1.5 1.3 1.6 2 1.2 2 1.2 3 1 4 .6 6 .8 16-.1 10 .3 2 1.8 7 0 4-1.2 4-2.4 4-3.3 3.5-4 3.1-5 3-4 1.6-5 1-4-.1-3-.7-2-.9-2-1.4-1-1.1-1.4-3-.3-2 .2-2 .9-3 .9-2 5.8-9 1.1-3-.2-3-1.8-7 0-5 .7-3 3.1-10 2.6-11 1.7-4 1.8-3 1.9-2.2zM715.2 1007.9l1.6-.4 2 .1 2 .6 2 1.4 2 2 1.6 2.3 2.2 5 1.5 7 2.1 18 .6 11 1.1 8-.1 4-1.1 4-2.2 4-3.4 4-5.3 4.3-5 3-5 2-5 .9-5-.2-4-1.2-2.8-1.8-1.2-1.3-1-1.7-.8-3 .1-3 .8-3 5.1-10 .7-3-.3-3-2-8-.2-3 .2-3 1.1-4 4.1-9 2.8-9 2.1-5 1.8-3 2.4-3 2.1-1.8zM714.7 1005.9l2.1-.5 2 .1 2 .6 2 1.2 2 1.7 2.3 2.9 1.2 2 1.9 4 1.9 7 3.7 20 1.1 16-.3 5-1.4 5-3 5-3.7 4-4.7 3.8-6 3.6-5 2-6 1.2-5-.2-4-1.1-2-.9-1.9-1.4-2.4-3-1-3 0-3 .6-3 3.5-9 .7-3-.3-3-1.8-7-.8-4-.1-4 .3-3 .7-3 1.6-4 10.5-20 2.1-3 2.7-3 2.6-2.1zM714.8 1002.9l2-.4 2 .1 3 1 2 1.3 3 2.8 2.6 3.2 4 7 1.6 4 1.3 4 3.9 17 1 11-.2 9-1.4 6-2.3 5-3.7 5-4.8 4.3-8 5.2-4 1.9-3 1-6 1.1-6-.3-5-1.2-3.7-2-3-3-1.3-3-.5-3 .3-3 2.4-9 .4-3-.3-3-2.1-8-.9-5-.2-5 .4-4 1.2-5 1.8-5 2.5-5 2.5-4 4.1-5 7.4-8.3 4-3.3zM713.5 997.9l2.3-.5 3 .1 3 .9 3 1.7 4 3.4 6.3 6.4 2.6 3 2.1 3 1.6 3 1.5 4 3.4 14 1.3 8 .5 10-.8 9-1.8 7-3.6 8-1.8 3-2.2 3-5.1 4.8-4 2.8-3 1.5-3 1.3-4 1.2-6 .5-5-.3-4-.6-4-.9-5-1.6-3-1.5-2-1.4-1.8-1.8-1.4-2-1.2-3-.5-3 .2-4 .9-7-.1-3-3-13-.6-5-.2-5 .6-7 1.7-8 2.7-7 3.4-6 3.3-3.9 4-3.6 11-8.2 3-1.7z" fill="none" stroke="#242424" stroke-width="0.6" stroke-linejoin="round"/>
<path d="M754.1 1084.9h0M721.1 1109.7h0M724.7 992h0M723.6 1113.6h0M674.2 1087.3h0M699.4 996.4h0M711 995.4h0M694.1 1011.9h0M677.9 1081.9h0M725 988.4h0M751.5 1025.6h0M796.4 1064h0M740.7 1006.3h0M678.7 1090.8h0M751.4 1088.6h0M683.3 1023.5h0M674.8 1093.3h0M684.3 1078.6h0M714.1 987.4h0M684.6 1084.5h0M714.6 990.9h0M744.5 1020h0M751.2 1047h0M748.4 1108.1h0M680.5 1053.9h0M757.9 1045.8h0M748.1 1069.2h0M701.2 1001.3h0M671.2 978.8h0M708.9 961.2h0M710.1 1101.8h0M728.3 998h0M746.8 1015.2h0M749.9 1094.2h0M754.8 1033.4h0M679.6 1112.3h0M746.9 1028.5h0M692 988.2h0M738.4 1005.2h0M703.1 1100h0M676.1 1100h0M756.1 1081h0M682.9 1013.4h0M751.2 1076.9h0M745 1012.4h0M690 1094.4h0M738 995.3h0M742.2 1017.2h0M681.8 1081.4h0M755.7 1044.9h0M685.1 1081.6h0M668.5 1037.6h0M674.1 1073.5h0M738.8 1006.9h0M720 994.7h0M678.8 1094.4h0M692.3 1107.3h0M681.8 1057.4h0M750.1 1037.8h0M727.4 1110h0M736.8 1010h0M691.3 1099.1h0M756.9 1046.7h0M694.3 976.1h0M701.7 1096.7h0M694.4 1009.3h0M729.2 1115.5h0M676.8 989.2h0M682.6 1017.8h0M707.2 973.5h0" fill="none" stroke="#555" stroke-width="1.1" stroke-linecap="round"/>
<line x1="740.7" y1="928.4" x2="740.7" y2="1124.7" stroke="#000" stroke-width="1.3"/>
<line x1="658.3" y1="1047.4" x2="853.9" y2="1047.4" stroke="#000" stroke-width="1.3"/>
<text x="670.3" y="956.9" font-size="22.6">39.1</text>
<text x="841.9" y="956.9" font-size="22.6" text-anchor="end">3.27</text>
<text x="670.3" y="1114.7" font-size="22.6">53.6</text>
<text x="841.9" y="1114.7" font-size="22.6" text-anchor="end">4.06</text>
<text x="757" y="917" font-size="26" text-anchor="middle" fill="#808080">Control</text>
<rect x="866.3" y="928.4" width="197.5" height="196.3" fill="#fff" stroke="#000" stroke-width="1.3"/>
<path d="M878.3 1124.7v6M942.3 1124.7v6M995.3 1124.7v6M1043.3 1124.7v6M897.57 1124.7v3.2M908.84 1124.7v3.2M916.83 1124.7v3.2M923.03 1124.7v3.2M928.1 1124.7v3.2M932.39 1124.7v3.2M936.1 1124.7v3.2M939.37 1124.7v3.2M958.25 1124.7v3.2M967.59 1124.7v3.2M974.21 1124.7v3.2M979.35 1124.7v3.2M983.54 1124.7v3.2M987.09 1124.7v3.2M990.16 1124.7v3.2M992.87 1124.7v3.2M1009.75 1124.7v3.2M1018.2 1124.7v3.2M1024.2 1124.7v3.2M1028.85 1124.7v3.2M1032.65 1124.7v3.2M1035.86 1124.7v3.2M1038.65 1124.7v3.2M1041.1 1124.7v3.2M1057.75 1124.7v3.2M866.3 1106h-6M866.3 1047h-6M866.3 1010.5h-6M866.3 978.5h-6M866.3 943h-6M866.3 1088.24h-3.2M866.3 1077.85h-3.2M866.3 1070.48h-3.2M866.3 1064.76h-3.2M866.3 1060.09h-3.2M866.3 1056.14h-3.2M866.3 1052.72h-3.2M866.3 1049.7h-3.2M866.3 1036.01h-3.2M866.3 1029.59h-3.2M866.3 1025.02h-3.2M866.3 1021.49h-3.2M866.3 1018.6h-3.2M866.3 1016.15h-3.2M866.3 1014.04h-3.2M866.3 1012.17h-3.2M866.3 1000.87h-3.2M866.3 995.23h-3.2M866.3 991.23h-3.2M866.3 988.13h-3.2M866.3 985.6h-3.2M866.3 983.46h-3.2M866.3 981.6h-3.2M866.3 979.96h-3.2M866.3 967.81h-3.2M866.3 961.56h-3.2M866.3 957.13h-3.2M866.3 953.69h-3.2M866.3 950.88h-3.2M866.3 948.5h-3.2M866.3 946.44h-3.2M866.3 944.62h-3.2M866.3 932.31h-3.2" fill="none" stroke="#000" stroke-width="1.15"/>
<rect x="905.8" y="1125" width="7" height="4.3" fill="#000"/>
<path d="M903.3 1124.7v4M915.3 1124.7v4" fill="none" stroke="#000" stroke-width="1"/>
<rect x="861.7" y="1074.5" width="4.3" height="7" fill="#000"/>
<path d="M866.3 1072h-4M866.3 1084h-4" fill="none" stroke="#000" stroke-width="1"/>
<path d="M935.8 1012.9l1-.6 1 0 1 .6 .9 2 .1 2-.6 3-1.4 2.5-2 1.5-1 .1-1-.7-.7-1.4-.2-3 .9-3.2 1-1.8zM935.9 1009.9l1.9-.8 1 .2 1.1 .6 1.3 2 .5 2 .1 2-.7 4-1.3 3.1-2 2.6-2 1.3-1 .2-1-.2-1-.6-1-1.4-.5-2-.1-3 .5-3 1.1-3 1.2-2zM928.9 1066.9l.9-.4 1 0 1 .6 .4 .8 0 1-.5 1-.9 .6-1 .1-1.2-.7-.5-1 .1-1zM936.4 1007.9l1.4-.5 1 0 1 .3 1.4 1.2 1.2 2 .4 1.5 .3 2.5-.1 2-1.4 5-2.3 4-2.5 2.3-2 .7-1-.1-1-.4-1-.8-1-1.7-.6-3 0-3 .9-4 1.7-4 2-2.8zM929.3 1064.9l1.5-.2 1 .3 1 .6 .9 1.3 .2 1-.1 1.3-.9 1.7-1.1 .9-1 .3-2-.1-1-.6-1-1.3-.3-1.2 .4-2 .9-1.1zM936.8 1005.9l2-.4 1 .1 2 1.3 .9 1 1 2 .6 2 .3 2-.2 3-1.3 5-2.7 5-1.6 1.8-2 1.6-2 .6-1 0-1-.3-1.1-.7-.9-1-1-1.9-.6-3.1 .1-4 1.1-5 1.8-4 2.6-3.6zM928.3 1063.9l1.5-.5 2 .1 2 1.1 1 1.3 .5 2-.3 2-1.3 2-1.9 1.3-1 .2-2-.1-2-1.1-1-1.3-.6-2 .4-2 1.2-1.9zM938.3 1003.9l1.5 0 2 .8 1.3 1.2 1.5 2 1.4 4 .3 2-.2 3-.8 3-1.1 3-1.5 3-1.9 2.9-2 2.1-2 1.4-2 .7-1 0-2-.8-1-.8-1.6-2.5-.9-4 .1-5 1.5-6 2.4-5 2.5-3.2 2-1.4zM927.8 1062.9l3-.8 2 .4 2 1.3 1 1.5 .6 2.6-.3 2-1.3 2.4-2 1.6-2 .6-3-.4-2-1.4-1.2-1.8-.4-2 .6-2.8 1-1.6zM936.9 1002.9l1.9-.5 2 .2 2 1 1.5 1.3 1.5 2 1.6 3 .9 3 0 3-.7 3-1.2 3-2 4-2.6 4.2-2 2.4-2 1.5-2 .9-2 .1-2-.6-1-.8-2-2.7-.8-2-.6-3 .1-5 .9-5 2.4-6.1 3-4.5 2-1.8zM927.7 1061.9l2.1-.7 3 .1 1.4 .6 1.3 1 1.3 2 .6 3-.7 3-1.9 2.7-2 1.2-3 .6-2.2-.5-1.7-1-1.1-1-1.1-2-.3-2 .5-3 1.9-2.7zM936.5 1001.9l1.3-.5 2-.3 2 .5 2.2 1.3 3 3 3.1 4 1.5 3 .3 2-.5 2-1 2-6.3 11-2.1 3-1.2 1.4-2 1.7-2 1-2 .2-3-.8-2-1.7-1-1.3-1-2.1-.7-2.4-.5-3 0-3 .9-6 .9-3 1.6-4 2.8-4.7 2-2.1zM927.9 1060.9l2.9-.8 3 .4 2.2 1.4 .9 1 1 2 .4 3-.7 3-1.2 2-.9 1-2.7 1.7-3 .5-3-.8-2-1.4-1-1.2-.8-1.8-.3-3 .9-3 2.2-2.7zM936.6 1000.9l1.2-.5 2-.3 2 .4 2 .9 10.2 8.5 1.6 2 .6 2-.2 2-1 2-6.2 7.7-6 10.6-1.5 1.7-1.4 1-3.1 .8-3-.5-2-.9-2-1.7-1-1.3-1-1.7-1-2.7-.6-3-.2-3 .2-4 .8-4 2.4-7 1.5-3 1.9-2.8 2-2zM928.5 1059.9l3.3-.6 3 .6 1 .6 1.5 1.4 1.4 3 .2 3-.3 2-.8 2-1 1.5-1.5 1.5-1.5 .9-2 .7-3 .1-3-1.2-1.8-1.5-.7-1-1.1-3 .1-3 1.2-3 2.3-2.5zM937.4 999.9l1.4-.4 2 0 2 .6 1.5 .8 5.5 4.1 6.1 3.9 1.8 2 .8 2 .1 2-1.1 3-6.7 7.9-2.9 5.1-1.1 3-.6 3-.4 7-1 1.4-1 .2-2-.6-3.4-2-4.6-2-3-1.9-2-2.2-1.1-1.9-1.2-3-.7-3-.3-4 .5-5 1.1-5 1.4-4 1.9-4 2.4-3.5 2-2zM930 1058.9l1.8-.3 2 .2 2 .8 1 .7 1.9 2.6 .6 2 .2 2-.2 2-.6 2-1.8 3-1.1 1.1-2 1.3-3 .7-3-.3-2-.8-1.3-1-1-1-1.2-2-.6-3 .5-3 1.6-3 3-2.7zM938.9 998.9l2.9 .2 2 .7 6 3.9 6 3.2 2 1.4 1.4 1.6 1.3 3 0 2-1 3-1.7 2.4-5.6 6.6-2 4-.9 4 .5 8-.1 2-.4 2-1.5 2.3-1 .7-2 .6-2-.3-2-1-4.5-4.3-4.5-3.6-2-1.9-1.8-2.5-1.2-2.4-.9-2.6-.6-3-.2-4 .5-5 1.5-6 1.9-5 2.2-4 2.6-3.2 3-2.2zM928.3 1058.9l3.5-.9 2 0 2 .6 1 .6 1.6 1.7 1 2 .4 2-.1 4-.5 2-1.1 2-1.3 1.7-1.6 1.3-1.4 .8-2 .6-2 .1-2-.3-3-1.5-2.4-2.7-1-3 .1-3 1.3-3.2 2.3-2.8zM936.7 998.9l3.1-.8 3 .5 2 .9 5 3 7 3.2 2 1.3 1.9 1.9 1.2 2 .6 2 0 2-1 3-1.7 2.6-5.2 6.4-2 4-.7 4 .3 10-.9 4-1.1 2-1 1-1.4 .9-2 .6-3 .1-2-.5-1.7-1.1-1.3-1.3-3.8-4.7-4.2-4.7-1.7-2.3-1.9-4-1.1-4-.4-4 .2-5 .7-4 1.7-6 2.2-5 2.3-3.7 2.1-2.3zM929.2 1057.9l2.6-.7 2-.2 2 .3 1 .4 1.5 1.2 1.2 2 1 4 0 3-.5 2-.8 2-1.2 2-1.2 1.3-2 1.4-2 .9-2 .3-3-.3-3.3-1.6-1.1-1-1.4-2-1-3 0-2 .4-2 1.4-3 3-3.2zM937.5 997.9l2.3-.5 3 .4 7 3.5 6.6 2.6 2.4 1.3 3 2.5 1.5 2.2 .8 2 .2 3-.6 2-.9 2-6.2 8-1.9 4-.7 4 0 11-.5 3-.8 2-1.9 2.6-2 1.4-2 .7-5 1.1-1 .8-.2 1.4 .6 5 0 3-.6 3-1.4 3-2.4 2.9-2 1.3-3 1-3 0-2-.5-2-1-2.7-2.7-1-2-.5-2 0-2 .4-2 .7-2 1.1-1.8 3-3 3-1.8 6.4-2.4 .6-1-.4-2-1.1-2-6.5-9.5-2-4.3-.9-3.2-.5-3-.2-3 .2-4 .8-5 1-4 2.8-7 1.8-3.1 2-2.6 2-1.8zM937.7 996.9l3.1-.4 3 .6 6 2.7 7 2.5 3.2 1.6 2.8 2.1 2.3 2.9 1.3 3 .1 3-.5 2-1 2-5.9 8-2 4-.9 5 0 8-.3 4-.7 3-1.4 2.9-1 1.3-2 1.6-6 2.6-1 .7-1 1.9-.7 5-1.1 4-1.7 3-1.5 1.8-2 1.5-2 1-2 .5-3 0-3-.9-3-2.2-1.9-2.7-.8-3-.1-2 .4-2 .7-2 1.2-2 1.5-1.9 2-1.8 4.8-3.3 .9-1 .5-1 0-1-.6-2-4.6-8.4-2.1-5.6-1.1-6 .2-7 .6-4 1.3-5 1.8-5 1.9-4 2-3 1.7-2 2.7-2.2zM937.2 995.9l1.6-.5 2-.1 3 .5 6 2.3 8 2.5 3 1.5 3.9 2.8 2.6 3 1.1 2 .6 2 .1 3-.5 2-.9 2-6.5 9-1.8 4-.8 4-.6 13-1 4-1.2 2.6-1 1.4-2 1.9-2 1.2-4 1.8-1.4 1.1-1.3 2-2.6 7-1.9 3-1.8 1.8-2 1.4-2 .8-2 .5-3 0-2-.5-2-.9-2.7-2.1-1.9-3-.8-3 .1-3 1.3-4 2-3 4.9-5 .7-1 .5-2-.7-3-3.5-8-1.4-5-.7-6 .2-6 .6-4 1.2-5 1.7-5 2.2-5 1.8-3 2.5-3 2-1.7zM939.7 993.9l4.1 .3 13 3.9 4 1.5 3 1.7 4 3.2 2.7 3.4 1 2 .6 2 .1 3-.5 2-1.5 3-6 8-2 4-1.1 5-.5 10-.5 4-1.1 4-1.5 3-1.7 2.3-2 1.7-5.8 3-1.4 1-1.8 2.4-3.1 5.6-1.6 2-2.3 2-2 1.2-2 .7-2 .5-3-.1-4-1.3-3-2.2-2.1-2.8-.7-2-.4-2 0-3 .8-3 2.1-4 3.7-5 .8-2 .1-1-.4-2-2.7-8-1.1-5-.5-6 .4-7 .8-5 1.6-6 2.3-6 2-4 2.8-4 2.5-2.5 3-1.8zM936.5 992.9l3.3-.9 4 .2 14 3.6 6 2.4 2.9 1.7 2.7 2 3.9 4 2.3 4 .5 2 .1 2-.3 2-1.2 3-2 3-5.5 7-2 4-1.1 5-.7 10-.8 5-1.5 5-2.2 4-2.1 2.4-2 1.5-6 3.1-2 1.5-4.7 5.5-3.4 3-2.9 1.6-2 .6-4 .4-4-.9-2-.9-2-1.4-1.4-1.4-1.4-2-.9-2-.5-2-.2-3 .8-4 1.2-3 2.7-5 .8-3-.1-2-2-7-.8-4-.5-5 .1-6 .6-5 1.2-6 1.7-6 2.3-6 2.1-4 2.7-4 3-3zM937.6 989.9l4.2-.6 5 .8 13 3.1 4 1.4 4 2 6 4.1 4.2 4.2 2.4 4 .8 3 .1 2-.6 3-1.5 3-2.1 3-5.3 6.3-1.7 2.7-.9 2-1.2 5-1.4 12-1 5-2 6-2.8 4.8-2 2.3-3 2.4-8 3.8-6 4.3-3 1.8-4 1.5-3 .4-2 0-4-.9-2-.8-3-2.1-1.5-1.5-1.5-2-1.6-4-.4-3 .2-3 1-4 1.7-5 .5-3-.4-3-1.5-6-.6-4-.3-4 .1-5 .9-7 1.9-8 3-9 2.2-5 2.9-5 3.4-3.9 3-2.4zM936.3 985.9l3.5-.8 3-.1 4 .4 6 1.2 5 1.1 5 1.5 5 1.9 4 2 4 2.4 3 2.2 3 2.6 2.4 2.6 2.1 3 1.1 2 .9 3 .3 3-.5 3-1.8 4-2.2 3-6.3 7.3-1.8 2.7-.9 2-1.1 4-1.8 12-1.9 8-3.3 9-1.5 3-1.9 3-1.8 2.2-3 2.6-3 1.9-3 1.4-4 1.4-5 1.3-5 .8-5 .3-4-.4-3-.7-5-2.1-2-1.4-2.4-2.3-2.1-3-1-2-.9-3-.4-3 .1-4 .7-6-.1-3-2.4-12-.5-8 .6-7 1.7-8 4.1-13 3-7 3.2-5 4.4-4.8 4-3.1z" fill="none" stroke="#242424" stroke-width="0.6" stroke-linejoin="round"/>
<path d="M924.5 1090.8h0M913.7 1004.5h0M916.4 1006.3h0M956.6 986h0M905 1041.6h0M955.9 985.2h0M929.9 1091.9h0M985.8 1049.9h0M911.7 1003.8h0M923.2 1100.7h0M984.4 1027.6h0M942.2 1087.5h0M905.1 1007.8h0M977.4 1060.7h0M940.5 1091.2h0M911 1027.1h0M978.3 1038.9h0M969.1 983.3h0M997.1 1008h0M996.2 998.1h0M944.8 1087.3h0M908.3 1015.1h0M989.6 1034.5h0M971.1 1057.4h0M909.6 1020.1h0M908.8 1027.9h0M926.2 1119.6h0M941.5 1103.1h0M992.3 989.7h0M949.7 1094.9h0M968.2 987.3h0M899.7 1014.5h0M906.1 1059.7h0M968.4 974.3h0M898.6 1032.2h0M915 1011.2h0M910.2 1032.4h0M886.3 1021.2h0M907.9 1077.1h0M940.9 1091.5h0M892.7 1048.1h0M906.2 1116.7h0M933 1096.5h0M949 961h0M969.8 986.5h0M919.4 992.7h0M984.7 1028.3h0M939.8 1098.7h0M969.6 1066.4h0M922.5 1086.5h0M967.3 1079.9h0M911.3 1102.3h0M908.7 994.8h0M991.2 982h0M904.3 1071.7h0M997.8 1027.1h0M907.8 1017.8h0M944.6 973.1h0M953.7 984.7h0M905.5 1007.8h0M929.5 1090.4h0M929.2 986.9h0M937.5 984.3h0M943 979.7h0M922.2 1087.5h0M922.6 994.3h0M987.5 1003.3h0M926.1 1103.4h0M944.5 977.8h0M911 1061.4h0" fill="none" stroke="#555" stroke-width="1.1" stroke-linecap="round"/>
<line x1="949.5" y1="928.4" x2="949.5" y2="1124.7" stroke="#000" stroke-width="1.3"/>
<line x1="866.3" y1="1047.4" x2="1063.8" y2="1047.4" stroke="#000" stroke-width="1.3"/>
<text x="878.3" y="956.9" font-size="22.6">45.1</text>
<text x="1051.8" y="956.9" font-size="22.6" text-anchor="end">20.0</text>
<text x="878.3" y="1114.7" font-size="22.6">30.2</text>
<text x="1051.8" y="1114.7" font-size="22.6" text-anchor="end">4.68</text>
<text x="964.5" y="917" font-size="26" text-anchor="middle" fill="#3f9fab">TOX(WT)</text>
<rect x="1075.5" y="928.4" width="196.3" height="196.3" fill="#fff" stroke="#000" stroke-width="1.3"/>
<path d="M1087.5 1124.7v6M1151.5 1124.7v6M1204.5 1124.7v6M1252.5 1124.7v6M1106.77 1124.7v3.2M1118.04 1124.7v3.2M1126.03 1124.7v3.2M1132.23 1124.7v3.2M1137.3 1124.7v3.2M1141.59 1124.7v3.2M1145.3 1124.7v3.2M1148.57 1124.7v3.2M1167.45 1124.7v3.2M1176.79 1124.7v3.2M1183.41 1124.7v3.2M1188.55 1124.7v3.2M1192.74 1124.7v3.2M1196.29 1124.7v3.2M1199.36 1124.7v3.2M1202.07 1124.7v3.2M1218.95 1124.7v3.2M1227.4 1124.7v3.2M1233.4 1124.7v3.2M1238.05 1124.7v3.2M1241.85 1124.7v3.2M1245.06 1124.7v3.2M1247.85 1124.7v3.2M1250.3 1124.7v3.2M1266.95 1124.7v3.2M1075.5 1106h-6M1075.5 1047h-6M1075.5 1010.5h-6M1075.5 978.5h-6M1075.5 943h-6M1075.5 1088.24h-3.2M1075.5 1077.85h-3.2M1075.5 1070.48h-3.2M1075.5 1064.76h-3.2M1075.5 1060.09h-3.2M1075.5 1056.14h-3.2M1075.5 1052.72h-3.2M1075.5 1049.7h-3.2M1075.5 1036.01h-3.2M1075.5 1029.59h-3.2M1075.5 1025.02h-3.2M1075.5 1021.49h-3.2M1075.5 1018.6h-3.2M1075.5 1016.15h-3.2M1075.5 1014.04h-3.2M1075.5 1012.17h-3.2M1075.5 1000.87h-3.2M1075.5 995.23h-3.2M1075.5 991.23h-3.2M1075.5 988.13h-3.2M1075.5 985.6h-3.2M1075.5 983.46h-3.2M1075.5 981.6h-3.2M1075.5 979.96h-3.2M1075.5 967.81h-3.2M1075.5 961.56h-3.2M1075.5 957.13h-3.2M1075.5 953.69h-3.2M1075.5 950.88h-3.2M1075.5 948.5h-3.2M1075.5 946.44h-3.2M1075.5 944.62h-3.2M1075.5 932.31h-3.2" fill="none" stroke="#000" stroke-width="1.15"/>
<rect x="1115" y="1125" width="7" height="4.3" fill="#000"/>
<path d="M1112.5 1124.7v4M1124.5 1124.7v4" fill="none" stroke="#000" stroke-width="1"/>
<rect x="1070.9" y="1074.5" width="4.3" height="7" fill="#000"/>
<path d="M1075.5 1072h-4M1075.5 1084h-4" fill="none" stroke="#000" stroke-width="1"/>
<path d="M1145.4 1009.9l1.6-.9 1 .1 1 .6 .8 1.2 .4 2-.2 2.4-1 2.4-1 1.2-1 .6-1 .3-1-.2-1-1-.8-2.7 .1-2 .6-2zM1146.9 1006.9l2.1 .2 1 .6 .9 1.2 .8 2 .1 3-.6 3-1.7 3-1.5 1.5-1 .5-2 .2-1-.4-.8-.8-1.1-2-.3-2 .1-3 .9-3 1.2-2 1-1zM1138.8 1066.9l1.2-.8 1 0 1.7 .8 .6 1 .2 1-.2 1-.7 1-1.6 .8-1-.1-1.2-.7-.6-1-.2-1 .2-1zM1145.4 1005.9l1.6-.7 1-.1 2 .5 1 .8 1.6 2.5 .5 2 .2 2-.7 4-2 4-2.6 2.5-2 .8-1 0-2-.9-1.2-1.4-1-3-.2-3 .4-3 1-3 1.3-2zM1139.3 1064.9l1.7-.3 2 .7 1 1 .7 1.6 0 2-.3 1-.8 1-1.6 1-2 .1-1-.3-1.1-.8-1.1-2 0-2 .3-1 .9-1.2zM1146.4 1003.9l2.6-.3 2 .7 1 .8 1.3 1.8 .9 2 .4 4-.1 2-.8 3-2.1 4-1.6 1.9-2 1.5-2 .8-1 0-2-.6-1-.8-1-1.3-1.2-3.5-.2-4 .6-4 1.7-4 2.1-2.5zM1138.7 1063.9l2.3-.5 2 .5 1.4 1 1.2 2 .4 2-.4 2-1.4 2-1.2 .8-2 .5-2-.3-2-1.4-1-1.6-.4-2 .3-2 1.1-1.8zM1145.3 1002.9l1.7-.7 2-.2 2 .5 2 1.4 1.5 2 1 2 .6 3 .1 2-.4 3-.9 3-1.5 3-1.3 2-3.1 2.9-2 1-2 .3-2-.4-1-.6-1.8-2.2-1.4-4-.3-4 .7-5 1.6-4 2.2-3.2zM1138.3 1062.9l2.7-.7 2 .4 2 1.3 1.4 2 .6 2-.3 3-.7 1.4-1 1.2-2 1.3-3 .3-2-.6-2-1.6-1.1-2-.3-3 .7-2 1.5-2zM1146.8 1000.9l2.2-.3 2 .3 2 1.1 2 1.8 1.4 2.1 .9 2 .5 2 .1 3-.4 3-.9 3-1.3 3-1.9 3-2.4 2.6-2 1.4-2 .9-2 .3-2-.3-1-.5-1-.8-1.3-1.6-1-2-.7-2.2-.4-2.8-.1-3 .8-5 1.9-5 2.8-3.7 2-1.5zM1138 1061.9l3-.7 3 .7 2 1.5 1.5 2.5 .6 3-.7 3-1.4 2-1.2 1-1.8 .9-3 .3-2-.6-2.3-1.6-.8-1-.9-1.9-.3-2.1 .6-3 1.7-2.6zM1146 999.9l2-.6 3 .2 2 .8 2.3 1.6 1.8 2 1.9 3 1 3 .2 3-.5 3-1.3 4-2.1 4-2.1 3-2.2 2.4-2 1.4-3 1.3-2 .3-3-.8-2-1.6-1-1.3-1-1.9-.9-2.8-.4-3-.1-3 .8-6 1.8-5 2.8-4.1 2-1.8zM1137.9 1060.9l3.1-.8 3 .6 2 1.2 1 1 1.2 2 .8 3-.1 2-.5 2-1.2 2-1 1-2.2 1.4-3 .6-3-.5-2-1.1-1-.9-1.6-2.5-.5-3 .5-3 1.8-3zM1145.7 998.9l2.3-.7 3 0 2.1 .7 2.9 1.7 3.4 3.3 2.4 3 1.4 3 .3 2-.4 3-1.6 4-3.1 6-2.8 4-2.6 2.6-3 2-3 .9-2 .1-2-.4-2-1-1.3-1.2-1.5-2-1-2-.9-3-.6-6 .6-6 2-6 1.7-3 1.6-2 2.4-2zM1138 1059.9l3-.8 3 .4 2 1 1 .9 1.2 1.5 1.1 2 .5 2 .1 2-.7 3-1.9 3-1.3 1.1-2 1.1-2 .5-2 0-3-.8-2.5-1.9-1.8-3-.5-2 0-2 .8-3 2-2.9zM1145.9 997.9l2.1-.6 3-.1 2 .5 2.5 1.2 10.6 8 1.7 2 .5 2-.3 2-1.5 3-7.5 12.7-2 2.8-2 2.1-3 2.1-2 .8-3 .5-3-.4-2-.8-2-1.4-1.2-1.4-1.3-2-1.3-3-.7-3-.5-4 .5-7 1-4 1.1-3 1.6-3 1.8-2.4 2-1.9zM1138.4 1058.9l1.6-.5 2-.2 2 .3 2 .8 2.7 2.6 1.1 2 .6 2 .3 2-.2 2-.5 2-1.1 2-.9 1.2-2 1.7-3 1.2-2 .3-2-.2-3-1.2-2-1.7-1-1.3-1.2-3-.2-2 .1-2 1.1-3 2.2-2.8 2-1.5zM1146.7 996.9l2.3-.5 2 0 4 1.3 8 4.6 8.3 3.6 1.2 1 1.1 2-.2 2-1 2-7.4 9.8-5 9.3-2 3-2 2.1-2 1.4-2 .8-2 .4-3-.2-3-.9-3-1.7-2-1.9-1.5-2.1-1.4-3-.9-3-.6-4-.1-5 .5-4 1-4 1.5-4 1.8-3 2.5-3 2.2-1.7zM1139.2 1057.9l1.8-.5 2-.1 2 .5 2 1.1 1.1 1 1.6 2 .9 2 .5 2 .2 2-.2 2-.5 2-1 2-1.6 1.9-1.3 1.1-1.7 1-2 .6-2 .2-2-.2-3-1.1-2.8-2.5-1.2-2-.7-2-.2-2 .2-2 .5-2 1.1-2 1.1-1.5 2-1.9zM1147.9 995.9l2.1-.2 3 .4 3 1.1 7 3.4 10 2.8 2 1 1.6 1.5 .6 1 .5 2-.4 2-1.2 2-7.1 7.8-2.4 3.2-2.1 4-3.5 8.2-2 3.4-3 3.2-2 1-2 .4-3-.3-3-1.4-4-2.7-3-2.9-2-2.8-1.4-3.1-.9-3-.6-4-.1-5 .5-5 1.3-5 1.7-4 1.8-3 2.7-2.9 3-2.1zM1139.9 1056.9l2.1-.5 2 0 3 1.1 2 1.8 1.1 1.6 1.3 3 .4 2 .1 3-.4 2-.8 2-1.2 2-1.5 1.6-2 1.4-2 .8-2 .4-2 0-2-.4-3.4-1.8-1.6-1.5-1-1.5-.8-2-.5-2 0-2 .4-2 .7-2 1.2-2 3-3 2-1.3zM1145.8 995.9l3.2-.9 4 .3 10 3.9 11 2.2 2 .9 2.3 1.6 1.5 2 .7 2-.1 2-1.4 3-1.6 2-6.4 6.4-3.3 4.6-1.8 4-3.8 11-2.1 3.8-2 2.2-1.4 1-2.6 1.2-2 .4-3-.4-2-1.2-8-9-2-2.9-1.5-3.1-1.3-4-.6-4-.2-5 .4-5 .9-4 1.7-5 1.7-3 2.2-3 2.7-2.4zM1140.1 1055.9l1.9-.7 3-.3 2 .5 1 .6 1.7 1.9 1.3 2.2 1 2.8 .6 3-.1 3-.4 2-.8 2-1.2 2-1.9 2-2.2 1.5-2 .8-2 .3-2 0-2-.4-2-.8-2-1.3-2.5-3.1-.8-2-.4-2 .3-4 .7-2 1.1-2 1.6-1.9 2-1.8zM1146.8 994.9l3.2-.6 3 .3 9 3.1 10 1.6 4 1.1 2.7 1.5 2.2 2 1.3 2 .5 3-.7 2.9-1.3 2.1-8 8-1.7 2-1.9 3-1.5 4-3.6 12.6-2 4.2-2.9 3.2-5.1 3.1-1.1 .9-.6 1-.1 2 1 6 .2 3-.7 4-1.3 3-2.4 2.9-2 1.5-3 1.3-4 .3-2-.3-2-.8-3-2.2-1.3-1.7-1.1-2-.7-3 0-2 .6-3 .8-2 1.3-2 3.4-3.5 6.8-4.5 .6-1 .2-1-.4-2-.9-2-5.3-8.8-2.4-5.2-.9-3-.6-4-.2-4 .1-4 .5-4 1-4 1-3 2-4 2.2-3 2.3-2.3 2-1.4zM1147.1 993.9l2.9-.5 3 .1 9 2.7 10 1.1 5 1.4 3 1.5 3 2.7 1.8 3 .5 3-.7 3-1.6 2.7-8.3 8.3-2.9 4-2 5-2.5 12-1.3 4.1-1.5 2.9-1.5 2.1-5.6 4.9-1.4 1.7-.8 2.3-.9 7-1 3-1 2-2.4 3-2.9 2.2-3 1.1-4 .3-4-1.1-2-1.2-1.4-1.3-2.1-3-1.1-4 .2-4 1.6-4 2.8-3.7 4.4-4.3 1.3-2 .2-1-.1-2-.6-2-4.5-10-1.6-5-1-7 .2-7 .5-4 1-4 1.4-4 2.1-4 2.3-3 2.4-2.3 2-1.4zM1146.6 992.9l3.4-.7 3 0 9 2.2 10 .9 3 .6 3 .9 3 1.5 2 1.4 3 3.2 1.6 3 .4 2 0 2-.8 3-1.2 2-2.6 3-6.3 6-1.5 2-1.6 2.7-1.6 5.3-2.7 14-1.4 4-1.7 3-1.6 2.1-5 5-1.5 1.9-1.5 2.7-2.7 6.3-3 4-2.4 2-2.9 1.5-3 .8-3 .1-4-1.1-2-1.1-2-1.8-2.3-3.4-1.1-4 .1-3 1.1-4 1.6-3 4.5-6 .9-3-.6-4-3.4-10-1.2-5-.6-6 .2-7 .5-4 1.1-5 1.4-4 2.1-4 2.1-3 2.6-2.7 3-2.1zM1147.7 990.9l3.3-.5 3 .2 8 1.5 12 1.1 6 1.8 4.9 2.9 2.2 2 1.7 2 2.1 4 .4 2 .1 2-.7 3-1.6 3-2.5 3-6.6 6.6-1.7 2.4-1 2-1.3 4.3-1.9 11.7-1.1 5-1.5 4-2.5 4.5-3 3.7-6 6.3-5.5 6.5-3.2 3-2.3 1.5-3 1.3-3 .6-3 0-4-1-2-1-2-1.6-1.7-1.8-1.2-2-1.3-4-.2-3 .7-4 1.1-3 3.3-6 .8-3-.4-4-2.4-9-1-5-.4-6 .2-7 .8-6 1.1-5 1.8-5 2.1-4 2.7-3.6 3-2.9 3-2zM1151.7 987.9l3.3 .2 7 1 12 1 5 1.3 4 1.7 5 3.2 2.8 2.6 1.6 2 1.8 3 .8 2 .5 2 .1 3-.8 3-1.5 3-2.3 3-6.8 7-2.4 4-1.5 5-2.1 13-1.5 6-2.5 6-3.3 5-3.3 4-3.6 3.6-4 3-6 3.8-4 2-3 1.1-4 .6-3-.1-2-.3-3-1.1-2-1.1-1.9-1.5-2.5-3-1.1-2-1-3-.4-3 .2-4 2.8-9 .4-3-.3-3-2.2-9-.8-5-.1-6 .5-7 1.1-7 1.8-7 1.9-5 2.8-5 3.8-4.5 5-3.9 4-1.8zM1149.1 983.9l2.9-.4 3 0 17 1.8 8 1.8 6 2.5 3 1.7 4 3 2.8 2.6 2.5 3 1.9 3 1.3 3 .6 3 .1 2-.8 4-2 4-2.4 3-6.4 7-2.5 4-1.5 5-2.4 14-1.9 8-2.5 6-4.5 7-3.2 4-3.1 3-3 2.4-4 2.3-4 1.6-4 1-4 .5-5 .1-4-.3-3-.7-5-2.2-2-1.3-2.6-2.4-1.6-2-1.7-3-.8-2-1-4-.2-4 .3-7-.2-3-3.5-16-.6-4 0-4 1.1-8 2.3-9 3-9 2.9-6 3.7-5 2.9-3 3-2.6 3-2.1 3-1.6 3-1.2z" fill="none" stroke="#242424" stroke-width="0.6" stroke-linejoin="round"/>
<path d="M1129.9 1085.2h0M1105.1 993.7h0M1139.7 981.7h0M1139.6 1121.7h0M1109.6 1057.5h0M1132.1 984.9h0M1115.1 1041.2h0M1137.9 973.4h0M1204.7 1028h0M1154.2 1088.4h0M1222.2 1013.2h0M1202.3 1036.8h0M1142.8 973.6h0M1189.6 987h0M1111.9 1037.1h0M1119 1064.7h0M1221.9 1033.6h0M1119.4 1016.9h0M1140.8 979.7h0M1183.9 1054.2h0M1222 1004.7h0M1119 998.7h0M1165.2 1095.5h0M1133.5 1110.9h0M1197 1027.7h0M1155.5 1090.4h0M1129.1 1083.1h0M1141.5 1090.7h0M1202.7 1000.6h0M1124.2 971.7h0M1157.9 1087.8h0M1165.5 981.5h0M1205.5 998.3h0M1135.3 965.1h0M1189.3 1033.5h0M1202.6 1028.7h0M1184 1055.3h0M1181.4 981.6h0M1189.2 980.3h0M1200.5 1022.7h0M1185.8 1042.6h0M1180 1093.7h0M1194.6 995.1h0M1107 1028.5h0M1161.8 1095.6h0M1183.3 1059h0M1115.6 1035.5h0M1125 1095.1h0M1118.8 987.6h0M1110.6 1020h0M1169.5 1081.3h0M1133.4 978.4h0M1158.7 1088.6h0M1155.5 962h0M1197.2 1027.1h0M1158.6 983.7h0M1118 986.7h0M1113.7 1055.4h0M1200.1 1074.2h0M1202.2 1004.1h0M1122.5 1011h0M1170.4 975.8h0M1202.8 1004.7h0M1127.2 995.9h0M1147.5 1093.9h0M1113.5 994.2h0M1113.7 1051.9h0M1200.8 1020.2h0M1193.1 1100h0M1118.6 1051h0" fill="none" stroke="#555" stroke-width="1.1" stroke-linecap="round"/>
<line x1="1158.3" y1="928.4" x2="1158.3" y2="1124.7" stroke="#000" stroke-width="1.3"/>
<line x1="1075.5" y1="1047.4" x2="1271.8" y2="1047.4" stroke="#000" stroke-width="1.3"/>
<text x="1087.5" y="956.9" font-size="22.6">46.6</text>
<text x="1259.8" y="956.9" font-size="22.6" text-anchor="end">24.0</text>
<text x="1087.5" y="1114.7" font-size="22.6">25.2</text>
<text x="1259.8" y="1114.7" font-size="22.6" text-anchor="end">4.16</text>
<text x="1173" y="917" font-size="26" text-anchor="middle" fill="#e8727c">TOX(4KR)</text>
<text font-size="26" text-anchor="middle" transform="translate(641 1027) rotate(-90)">LAG-3 PE</text>
<text x="672" y="1160" font-size="26">PD-1 PerCP710</text>
<line x1="890.6" y1="1150" x2="1255" y2="1150" stroke="#000" stroke-width="1.6"/>
<polygon points="1267,1150 1254,1156.5 1254,1143.5" fill="#000"/>
<rect x="1374.9" y="1130.76" width="30.3" height="21.24" fill="#fff" stroke="#000" stroke-width="2.6"/>
<rect x="1425.3" y="988.04" width="29.8" height="163.96" fill="#fff" stroke="#000" stroke-width="2.6"/>
<rect x="1476" y="963.83" width="29" height="188.17" fill="#fff" stroke="#000" stroke-width="2.6"/>
<line x1="1357" y1="900.25" x2="1357" y2="1153.35" stroke="#000" stroke-width="2.7"/>
<line x1="1346" y1="1152" x2="1524.6" y2="1152" stroke="#000" stroke-width="2.7"/>
<line x1="1347" y1="1152" x2="1357" y2="1152" stroke="#000" stroke-width="2.7"/>
<text x="1343" y="1159.1" font-size="20" text-anchor="end" font-weight="bold">0</text>
<line x1="1347" y1="1068.53" x2="1357" y2="1068.53" stroke="#000" stroke-width="2.7"/>
<text x="1343" y="1075.63" font-size="20" text-anchor="end" font-weight="bold">10</text>
<line x1="1347" y1="985.07" x2="1357" y2="985.07" stroke="#000" stroke-width="2.7"/>
<text x="1343" y="992.17" font-size="20" text-anchor="end" font-weight="bold">20</text>
<line x1="1347" y1="901.6" x2="1357" y2="901.6" stroke="#000" stroke-width="2.7"/>
<text x="1343" y="908.7" font-size="20" text-anchor="end" font-weight="bold">30</text>
<circle cx="1379.5" cy="1124.46" r="4.5" fill="#8a8a8a"/>
<circle cx="1390" cy="1131.13" r="4.5" fill="#8a8a8a"/>
<circle cx="1400.5" cy="1132.39" r="4.5" fill="#8a8a8a"/>
<line x1="1390.05" y1="1126.54" x2="1390.05" y2="1132.39" stroke="#000" stroke-width="1.3"/>
<line x1="1378.86" y1="1126.54" x2="1401.24" y2="1126.54" stroke="#000" stroke-width="1.3"/>
<line x1="1378.86" y1="1132.39" x2="1401.24" y2="1132.39" stroke="#000" stroke-width="1.3"/>
<circle cx="1429.2" cy="985.48" r="4.5" fill="#4aa6b1"/>
<circle cx="1440.2" cy="986.32" r="4.5" fill="#4aa6b1"/>
<circle cx="1451.2" cy="988.41" r="4.5" fill="#4aa6b1"/>
<line x1="1440.2" y1="985.48" x2="1440.2" y2="987.99" stroke="#000" stroke-width="1.3"/>
<line x1="1429.18" y1="985.48" x2="1451.22" y2="985.48" stroke="#000" stroke-width="1.3"/>
<line x1="1429.18" y1="987.99" x2="1451.22" y2="987.99" stroke="#000" stroke-width="1.3"/>
<circle cx="1490.5" cy="951.68" r="4.5" fill="#f07a84"/>
<circle cx="1480.5" cy="965.87" r="4.5" fill="#f07a84"/>
<circle cx="1500.5" cy="969.21" r="4.5" fill="#f07a84"/>
<line x1="1490.5" y1="957.11" x2="1490.5" y2="967.96" stroke="#000" stroke-width="1.3"/>
<line x1="1479.76" y1="957.11" x2="1501.24" y2="957.11" stroke="#000" stroke-width="1.3"/>
<line x1="1479.76" y1="967.96" x2="1501.24" y2="967.96" stroke="#000" stroke-width="1.3"/>
<text font-size="26" text-anchor="middle" transform="translate(1312 1024) rotate(-90)">PD-1<tspan dy="-9.36" font-size="16.12">+</tspan><tspan dy="9.36">LAG-3</tspan><tspan dy="-9.36" font-size="16.12">+</tspan><tspan dy="9.36"> (%)</tspan></text>
<line x1="1390" y1="893.5" x2="1490" y2="893.5" stroke="#000" stroke-width="3"/>
<text x="1445.48" y="890.99" font-size="27.75" text-anchor="middle" font-weight="bold" letter-spacing="3.63">****</text>
<line x1="1440" y1="928" x2="1490" y2="928" stroke="#000" stroke-width="3"/>
<text x="1466.81" y="925.49" font-size="27.75" text-anchor="middle" font-weight="bold" letter-spacing="3.63">*</text>
<line x1="1390" y1="962.5" x2="1440" y2="962.5" stroke="#000" stroke-width="3"/>
<text x="1420.48" y="959.99" font-size="27.75" text-anchor="middle" font-weight="bold" letter-spacing="3.63">****</text>
</g>
<g id="p-h">
<text x="560" y="1237.5" font-size="34" font-weight="bold">h</text>
<rect x="672.9" y="1498.02" width="29.8" height="43.78" fill="#fff" stroke="#000" stroke-width="2.6"/>
<rect x="724.3" y="1387.25" width="30.2" height="154.55" fill="#fff" stroke="#000" stroke-width="2.6"/>
<rect x="775.8" y="1363.55" width="29.9" height="178.25" fill="#fff" stroke="#000" stroke-width="2.6"/>
<line x1="653.9" y1="1282.85" x2="653.9" y2="1543.15" stroke="#000" stroke-width="2.7"/>
<line x1="642" y1="1541.8" x2="826" y2="1541.8" stroke="#000" stroke-width="2.7"/>
<line x1="643.9" y1="1541.8" x2="653.9" y2="1541.8" stroke="#000" stroke-width="2.7"/>
<text x="639.9" y="1548.9" font-size="20" text-anchor="end" font-weight="bold">0</text>
<line x1="643.9" y1="1490.28" x2="653.9" y2="1490.28" stroke="#000" stroke-width="2.7"/>
<text x="639.9" y="1497.38" font-size="20" text-anchor="end" font-weight="bold">2</text>
<line x1="643.9" y1="1438.76" x2="653.9" y2="1438.76" stroke="#000" stroke-width="2.7"/>
<text x="639.9" y="1445.86" font-size="20" text-anchor="end" font-weight="bold">4</text>
<line x1="643.9" y1="1387.24" x2="653.9" y2="1387.24" stroke="#000" stroke-width="2.7"/>
<text x="639.9" y="1394.34" font-size="20" text-anchor="end" font-weight="bold">6</text>
<line x1="643.9" y1="1335.72" x2="653.9" y2="1335.72" stroke="#000" stroke-width="2.7"/>
<text x="639.9" y="1342.82" font-size="20" text-anchor="end" font-weight="bold">8</text>
<line x1="643.9" y1="1284.2" x2="653.9" y2="1284.2" stroke="#000" stroke-width="2.7"/>
<text x="639.9" y="1291.3" font-size="20" text-anchor="end" font-weight="bold">10</text>
<circle cx="687.8" cy="1478.69" r="4.5" fill="#8a8a8a"/>
<circle cx="679.3" cy="1504.45" r="4.5" fill="#8a8a8a"/>
<circle cx="696.3" cy="1505.74" r="4.5" fill="#8a8a8a"/>
<line x1="687.8" y1="1487.7" x2="687.8" y2="1505.74" stroke="#000" stroke-width="1.3"/>
<line x1="676.78" y1="1487.7" x2="698.82" y2="1487.7" stroke="#000" stroke-width="1.3"/>
<line x1="676.78" y1="1505.74" x2="698.82" y2="1505.74" stroke="#000" stroke-width="1.3"/>
<circle cx="739.4" cy="1370.5" r="4.5" fill="#4aa6b1"/>
<circle cx="730.9" cy="1392.91" r="4.5" fill="#4aa6b1"/>
<circle cx="747.9" cy="1394.45" r="4.5" fill="#4aa6b1"/>
<line x1="739.4" y1="1378.22" x2="739.4" y2="1393.68" stroke="#000" stroke-width="1.3"/>
<line x1="728.25" y1="1378.22" x2="750.55" y2="1378.22" stroke="#000" stroke-width="1.3"/>
<line x1="728.25" y1="1393.68" x2="750.55" y2="1393.68" stroke="#000" stroke-width="1.3"/>
<circle cx="779.75" cy="1358.39" r="4.5" fill="#f07a84"/>
<circle cx="790.75" cy="1362.25" r="4.5" fill="#f07a84"/>
<circle cx="801.75" cy="1366.63" r="4.5" fill="#f07a84"/>
<line x1="790.75" y1="1360.19" x2="790.75" y2="1364.31" stroke="#000" stroke-width="1.3"/>
<line x1="779.7" y1="1360.19" x2="801.8" y2="1360.19" stroke="#000" stroke-width="1.3"/>
<line x1="779.7" y1="1364.31" x2="801.8" y2="1364.31" stroke="#000" stroke-width="1.3"/>
<text font-size="26" text-anchor="middle" transform="translate(602 1404) rotate(-90)">TOX MFI (×10<tspan dy="-9.36" font-size="16.12">2</tspan><tspan dy="9.36">)</tspan></text>
<line x1="688" y1="1276" x2="790.5" y2="1276" stroke="#000" stroke-width="3.6"/>
<text x="744.73" y="1273.49" font-size="27.75" text-anchor="middle" font-weight="bold" letter-spacing="3.63">****</text>
<line x1="739" y1="1310.7" x2="790.5" y2="1310.7" stroke="#000" stroke-width="3.6"/>
<text x="766.56" y="1308.19" font-size="27.75" text-anchor="middle" font-weight="bold" letter-spacing="3.63">*</text>
<line x1="688" y1="1346.7" x2="739" y2="1346.7" stroke="#000" stroke-width="3.6"/>
<text x="717.75" y="1344.19" font-size="27.75" text-anchor="middle" font-weight="bold" letter-spacing="3.63">***</text>
<rect x="932.3" y="1479.99" width="29.7" height="61.81" fill="#fff" stroke="#000" stroke-width="2.6"/>
<rect x="983" y="1393.05" width="30.5" height="148.75" fill="#fff" stroke="#000" stroke-width="2.6"/>
<rect x="1034.8" y="1356.34" width="30.2" height="185.46" fill="#fff" stroke="#000" stroke-width="2.6"/>
<line x1="912.9" y1="1282.85" x2="912.9" y2="1543.15" stroke="#000" stroke-width="2.7"/>
<line x1="901" y1="1541.8" x2="1085.3" y2="1541.8" stroke="#000" stroke-width="2.7"/>
<line x1="902.9" y1="1541.8" x2="912.9" y2="1541.8" stroke="#000" stroke-width="2.7"/>
<text x="898.9" y="1548.9" font-size="20" text-anchor="end" font-weight="bold">0</text>
<line x1="902.9" y1="1477.4" x2="912.9" y2="1477.4" stroke="#000" stroke-width="2.7"/>
<text x="898.9" y="1484.5" font-size="20" text-anchor="end" font-weight="bold">5</text>
<line x1="902.9" y1="1413" x2="912.9" y2="1413" stroke="#000" stroke-width="2.7"/>
<text x="898.9" y="1420.1" font-size="20" text-anchor="end" font-weight="bold">10</text>
<line x1="902.9" y1="1348.6" x2="912.9" y2="1348.6" stroke="#000" stroke-width="2.7"/>
<text x="898.9" y="1355.7" font-size="20" text-anchor="end" font-weight="bold">15</text>
<line x1="902.9" y1="1284.2" x2="912.9" y2="1284.2" stroke="#000" stroke-width="2.7"/>
<text x="898.9" y="1291.3" font-size="20" text-anchor="end" font-weight="bold">20</text>
<circle cx="938.65" cy="1469.67" r="4.5" fill="#8a8a8a"/>
<circle cx="955.65" cy="1474.82" r="4.5" fill="#8a8a8a"/>
<circle cx="947.15" cy="1488.99" r="4.5" fill="#8a8a8a"/>
<line x1="947.15" y1="1472.89" x2="947.15" y2="1484.48" stroke="#000" stroke-width="1.3"/>
<line x1="936.17" y1="1472.89" x2="958.13" y2="1472.89" stroke="#000" stroke-width="1.3"/>
<line x1="936.17" y1="1484.48" x2="958.13" y2="1484.48" stroke="#000" stroke-width="1.3"/>
<circle cx="987.25" cy="1390.46" r="4.5" fill="#4aa6b1"/>
<circle cx="998.25" cy="1391.1" r="4.5" fill="#4aa6b1"/>
<circle cx="1009.25" cy="1392.39" r="4.5" fill="#4aa6b1"/>
<line x1="998.25" y1="1390.72" x2="998.25" y2="1392.78" stroke="#000" stroke-width="1.3"/>
<line x1="987" y1="1390.72" x2="1009.5" y2="1390.72" stroke="#000" stroke-width="1.3"/>
<line x1="987" y1="1392.78" x2="1009.5" y2="1392.78" stroke="#000" stroke-width="1.3"/>
<circle cx="1049.9" cy="1338.3" r="4.5" fill="#f07a84"/>
<circle cx="1041.4" cy="1358.9" r="4.5" fill="#f07a84"/>
<circle cx="1058.4" cy="1365.34" r="4.5" fill="#f07a84"/>
<line x1="1049.9" y1="1346.67" x2="1049.9" y2="1363.41" stroke="#000" stroke-width="1.3"/>
<line x1="1038.75" y1="1346.67" x2="1061.05" y2="1346.67" stroke="#000" stroke-width="1.3"/>
<line x1="1038.75" y1="1363.41" x2="1061.05" y2="1363.41" stroke="#000" stroke-width="1.3"/>
<text font-size="26" text-anchor="middle" transform="translate(859 1404) rotate(-90)">PD-1 MFI (×10<tspan dy="-9.36" font-size="16.12">2</tspan><tspan dy="9.36">)</tspan></text>
<line x1="947" y1="1276" x2="1050" y2="1276" stroke="#000" stroke-width="3.6"/>
<text x="1002.75" y="1273.49" font-size="27.75" text-anchor="middle" font-weight="bold" letter-spacing="3.63">***</text>
<line x1="998" y1="1310.7" x2="1050" y2="1310.7" stroke="#000" stroke-width="3.6"/>
<text x="1025.81" y="1308.19" font-size="27.75" text-anchor="middle" font-weight="bold" letter-spacing="3.63">*</text>
<line x1="947" y1="1346.7" x2="998" y2="1346.7" stroke="#000" stroke-width="3.6"/>
<text x="975.53" y="1344.19" font-size="27.75" text-anchor="middle" font-weight="bold" letter-spacing="3.63">**</text>
<rect x="1186.3" y="1468.57" width="30.6" height="72.03" fill="#fff" stroke="#000" stroke-width="2.6"/>
<rect x="1238.8" y="1394.36" width="30.9" height="146.24" fill="#fff" stroke="#000" stroke-width="2.6"/>
<rect x="1290.7" y="1381.27" width="31" height="159.33" fill="#fff" stroke="#000" stroke-width="2.6"/>
<line x1="1167.2" y1="1277.35" x2="1167.2" y2="1541.95" stroke="#000" stroke-width="2.7"/>
<line x1="1156" y1="1540.6" x2="1342" y2="1540.6" stroke="#000" stroke-width="2.7"/>
<line x1="1157.2" y1="1540.6" x2="1167.2" y2="1540.6" stroke="#000" stroke-width="2.7"/>
<text x="1153.2" y="1547.7" font-size="20" text-anchor="end" font-weight="bold">0</text>
<line x1="1157.2" y1="1453.3" x2="1167.2" y2="1453.3" stroke="#000" stroke-width="2.7"/>
<text x="1153.2" y="1460.4" font-size="20" text-anchor="end" font-weight="bold">5</text>
<line x1="1157.2" y1="1366" x2="1167.2" y2="1366" stroke="#000" stroke-width="2.7"/>
<text x="1153.2" y="1373.1" font-size="20" text-anchor="end" font-weight="bold">10</text>
<line x1="1157.2" y1="1278.7" x2="1167.2" y2="1278.7" stroke="#000" stroke-width="2.7"/>
<text x="1153.2" y="1285.8" font-size="20" text-anchor="end" font-weight="bold">15</text>
<circle cx="1190.1" cy="1464.65" r="4.5" fill="#8a8a8a"/>
<circle cx="1201.6" cy="1467.27" r="4.5" fill="#8a8a8a"/>
<circle cx="1213.1" cy="1467.62" r="4.5" fill="#8a8a8a"/>
<line x1="1201.6" y1="1466.05" x2="1201.6" y2="1468.49" stroke="#000" stroke-width="1.3"/>
<line x1="1190.31" y1="1466.05" x2="1212.89" y2="1466.05" stroke="#000" stroke-width="1.3"/>
<line x1="1190.31" y1="1468.49" x2="1212.89" y2="1468.49" stroke="#000" stroke-width="1.3"/>
<circle cx="1242.75" cy="1390.44" r="4.5" fill="#4aa6b1"/>
<circle cx="1254.25" cy="1393.59" r="4.5" fill="#4aa6b1"/>
<circle cx="1265.75" cy="1394.81" r="4.5" fill="#4aa6b1"/>
<line x1="1254.25" y1="1391.67" x2="1254.25" y2="1394.46" stroke="#000" stroke-width="1.3"/>
<line x1="1242.86" y1="1391.67" x2="1265.64" y2="1391.67" stroke="#000" stroke-width="1.3"/>
<line x1="1242.86" y1="1394.46" x2="1265.64" y2="1394.46" stroke="#000" stroke-width="1.3"/>
<circle cx="1294.7" cy="1375.6" r="4.5" fill="#f07a84"/>
<circle cx="1306.2" cy="1380.32" r="4.5" fill="#f07a84"/>
<circle cx="1317.7" cy="1381.71" r="4.5" fill="#f07a84"/>
<line x1="1306.2" y1="1378.22" x2="1306.2" y2="1381.71" stroke="#000" stroke-width="1.3"/>
<line x1="1294.78" y1="1378.22" x2="1317.62" y2="1378.22" stroke="#000" stroke-width="1.3"/>
<line x1="1294.78" y1="1381.71" x2="1317.62" y2="1381.71" stroke="#000" stroke-width="1.3"/>
<text font-size="26" text-anchor="middle" transform="translate(1116 1407) rotate(-90)">LAG-3 MFI (×10<tspan dy="-9.36" font-size="16.12">2</tspan><tspan dy="9.36">)</tspan></text>
<line x1="1202" y1="1270" x2="1306.5" y2="1270" stroke="#000" stroke-width="3.6"/>
<text x="1259.73" y="1267.49" font-size="27.75" text-anchor="middle" font-weight="bold" letter-spacing="3.63">****</text>
<line x1="1254" y1="1306.5" x2="1306.5" y2="1306.5" stroke="#000" stroke-width="3.6"/>
<text x="1284.51" y="1303.99" font-size="27.75" text-anchor="middle" font-weight="bold" letter-spacing="3.63">***</text>
<line x1="1202" y1="1342.5" x2="1254" y2="1342.5" stroke="#000" stroke-width="3.6"/>
<text x="1233.48" y="1339.99" font-size="27.75" text-anchor="middle" font-weight="bold" letter-spacing="3.63">****</text>
<circle cx="1364" cy="1278.7" r="4.3" fill="#8a8a8a"/>
<text x="1380.5" y="1288" font-size="26">Control</text>
<circle cx="1364" cy="1314.3" r="4.3" fill="#4aa6b1"/>
<text x="1380.5" y="1323.3" font-size="26">TOX(WT)</text>
<circle cx="1364" cy="1349.9" r="4.3" fill="#f07a84"/>
<text x="1380.5" y="1358.6" font-size="26">TOX(4KR)</text>
</g>
<g id="p-j">
<text x="1526" y="878" font-size="34" font-weight="bold">j</text>
<rect x="1561.6" y="929" width="33.26" height="8.85" fill="#f4d4d5"/>
<rect x="1561.6" y="937.55" width="33.26" height="25.95" fill="#e27379"/>
<rect x="1561.6" y="963.2" width="33.26" height="25.95" fill="#da2a1f"/>
<rect x="1561.6" y="988.85" width="33.26" height="17.4" fill="#de4a50"/>
<rect x="1561.6" y="1005.96" width="33.26" height="17.4" fill="#e27379"/>
<rect x="1561.6" y="1023.06" width="33.26" height="17.4" fill="#da2a1f"/>
<rect x="1561.6" y="1040.16" width="33.26" height="8.85" fill="#e05e64"/>
<rect x="1561.6" y="1048.71" width="33.26" height="17.4" fill="#de4a50"/>
<rect x="1561.6" y="1065.81" width="33.26" height="8.85" fill="#e68c90"/>
<rect x="1561.6" y="1074.36" width="33.26" height="8.85" fill="#de4a50"/>
<rect x="1561.6" y="1082.91" width="33.26" height="8.85" fill="#eba5a8"/>
<rect x="1561.6" y="1091.46" width="33.26" height="8.85" fill="#fbfbfd"/>
<rect x="1561.6" y="1100.01" width="33.26" height="8.85" fill="#dc3a38"/>
<rect x="1561.6" y="1108.56" width="33.26" height="8.85" fill="#de4a50"/>
<rect x="1561.6" y="1117.11" width="33.26" height="17.4" fill="#e27379"/>
<rect x="1561.6" y="1134.22" width="33.26" height="8.85" fill="#f4d4d5"/>
<rect x="1561.6" y="1142.77" width="33.26" height="8.85" fill="#f0bcbe"/>
<rect x="1561.6" y="1151.32" width="33.26" height="17.4" fill="#da2a1f"/>
<rect x="1561.6" y="1168.42" width="33.26" height="8.85" fill="#de4a50"/>
<rect x="1561.6" y="1176.97" width="33.26" height="8.85" fill="#dc3a38"/>
<rect x="1561.6" y="1185.52" width="33.26" height="8.85" fill="#de4a50"/>
<rect x="1561.6" y="1194.07" width="33.26" height="8.85" fill="#da2a1f"/>
<rect x="1561.6" y="1202.62" width="33.26" height="8.85" fill="#dc3a38"/>
<rect x="1561.6" y="1211.17" width="33.26" height="17.4" fill="#da2a1f"/>
<rect x="1561.6" y="1228.27" width="33.26" height="17.4" fill="#f4d4d5"/>
<rect x="1561.6" y="1245.37" width="33.26" height="8.85" fill="#eba5a8"/>
<rect x="1561.6" y="1253.92" width="33.26" height="8.85" fill="#f4d4d5"/>
<rect x="1561.6" y="1262.48" width="33.26" height="8.85" fill="#e0e7f6"/>
<rect x="1561.6" y="1271.03" width="33.26" height="8.85" fill="#a7b8e8"/>
<rect x="1561.6" y="1279.58" width="33.26" height="8.85" fill="#c7d3f0"/>
<rect x="1561.6" y="1288.13" width="33.26" height="8.85" fill="#f8e8e9"/>
<rect x="1561.6" y="1296.68" width="33.26" height="8.85" fill="#fbfbfd"/>
<rect x="1561.6" y="1305.23" width="33.26" height="8.85" fill="#e0e7f6"/>
<rect x="1561.6" y="1313.78" width="33.26" height="8.85" fill="#eba5a8"/>
<rect x="1561.6" y="1322.33" width="33.26" height="8.85" fill="#f8e8e9"/>
<rect x="1561.6" y="1330.88" width="33.26" height="8.85" fill="#95a8e4"/>
<rect x="1561.6" y="1339.43" width="33.26" height="8.85" fill="#f4d4d5"/>
<rect x="1561.6" y="1347.98" width="33.26" height="8.85" fill="#d4ddf3"/>
<rect x="1561.6" y="1356.53" width="33.26" height="8.85" fill="#8399df"/>
<rect x="1561.6" y="1365.08" width="33.26" height="8.85" fill="#a7b8e8"/>
<rect x="1561.6" y="1373.63" width="33.26" height="8.85" fill="#c7d3f0"/>
<rect x="1561.6" y="1382.18" width="33.26" height="8.85" fill="#e0e7f6"/>
<rect x="1561.6" y="1390.74" width="33.26" height="8.85" fill="#a7b8e8"/>
<rect x="1561.6" y="1399.29" width="33.26" height="8.85" fill="#95a8e4"/>
<rect x="1561.6" y="1407.84" width="33.26" height="8.85" fill="#c7d3f0"/>
<rect x="1561.6" y="1416.39" width="33.26" height="17.4" fill="#a7b8e8"/>
<rect x="1561.6" y="1433.49" width="33.26" height="8.85" fill="#95a8e4"/>
<rect x="1561.6" y="1442.04" width="33.26" height="8.85" fill="#c7d3f0"/>
<rect x="1561.6" y="1450.59" width="33.26" height="8.85" fill="#a7b8e8"/>
<rect x="1561.6" y="1459.14" width="33.26" height="17.4" fill="#c7d3f0"/>
<rect x="1561.6" y="1476.24" width="33.26" height="8.85" fill="#b7c6ec"/>
<rect x="1561.6" y="1484.79" width="33.26" height="8.85" fill="#eba5a8"/>
<rect x="1561.6" y="1493.34" width="33.26" height="8.85" fill="#fbfbfd"/>
<rect x="1561.6" y="1501.89" width="33.26" height="8.85" fill="#e0e7f6"/>
<rect x="1561.6" y="1510.44" width="33.26" height="8.85" fill="#fbfbfd"/>
<rect x="1561.6" y="1518.99" width="33.26" height="8.85" fill="#e0e7f6"/>
<rect x="1561.6" y="1527.55" width="33.26" height="8.85" fill="#d4ddf3"/>
<rect x="1561.6" y="1536.1" width="33.26" height="17.4" fill="#c7d3f0"/>
<rect x="1561.6" y="1553.2" width="33.26" height="8.85" fill="#e0e7f6"/>
<rect x="1561.6" y="1561.75" width="33.26" height="17.4" fill="#f4d4d5"/>
<rect x="1561.6" y="1578.85" width="33.26" height="8.85" fill="#fbfbfd"/>
<rect x="1594.56" y="929" width="33.26" height="8.85" fill="#f4d4d5"/>
<rect x="1594.56" y="937.55" width="33.26" height="8.85" fill="#e27379"/>
<rect x="1594.56" y="946.1" width="33.26" height="8.85" fill="#f4d4d5"/>
<rect x="1594.56" y="954.65" width="33.26" height="8.85" fill="#e27379"/>
<rect x="1594.56" y="963.2" width="33.26" height="25.95" fill="#de4a50"/>
<rect x="1594.56" y="988.85" width="33.26" height="25.95" fill="#da2a1f"/>
<rect x="1594.56" y="1014.51" width="33.26" height="8.85" fill="#dc3733"/>
<rect x="1594.56" y="1023.06" width="33.26" height="8.85" fill="#e27379"/>
<rect x="1594.56" y="1031.61" width="33.26" height="8.85" fill="#e05a60"/>
<rect x="1594.56" y="1040.16" width="33.26" height="8.85" fill="#dc3733"/>
<rect x="1594.56" y="1048.71" width="33.26" height="8.85" fill="#dc3a38"/>
<rect x="1594.56" y="1057.26" width="33.26" height="8.85" fill="#de4a50"/>
<rect x="1594.56" y="1065.81" width="33.26" height="8.85" fill="#dc3a38"/>
<rect x="1594.56" y="1074.36" width="33.26" height="8.85" fill="#f9eff1"/>
<rect x="1594.56" y="1082.91" width="33.26" height="17.4" fill="#da2a1f"/>
<rect x="1594.56" y="1100.01" width="33.26" height="8.85" fill="#e27379"/>
<rect x="1594.56" y="1108.56" width="33.26" height="8.85" fill="#e05a60"/>
<rect x="1594.56" y="1117.11" width="33.26" height="8.85" fill="#de4a50"/>
<rect x="1594.56" y="1125.66" width="33.26" height="8.85" fill="#e05e64"/>
<rect x="1594.56" y="1134.22" width="33.26" height="8.85" fill="#de4a50"/>
<rect x="1594.56" y="1142.77" width="33.26" height="8.85" fill="#da2a1f"/>
<rect x="1594.56" y="1151.32" width="33.26" height="8.85" fill="#fbfbfd"/>
<rect x="1594.56" y="1159.87" width="33.26" height="8.85" fill="#f0bcbe"/>
<rect x="1594.56" y="1168.42" width="33.26" height="8.85" fill="#de4a50"/>
<rect x="1594.56" y="1176.97" width="33.26" height="8.85" fill="#e27379"/>
<rect x="1594.56" y="1185.52" width="33.26" height="8.85" fill="#eba5a8"/>
<rect x="1594.56" y="1194.07" width="33.26" height="8.85" fill="#f4d4d5"/>
<rect x="1594.56" y="1202.62" width="33.26" height="8.85" fill="#f8e8e9"/>
<rect x="1594.56" y="1211.17" width="33.26" height="17.4" fill="#f0bcbe"/>
<rect x="1594.56" y="1228.27" width="33.26" height="8.85" fill="#c7d3f0"/>
<rect x="1594.56" y="1236.82" width="33.26" height="43.05" fill="#a7b8e8"/>
<rect x="1594.56" y="1279.58" width="33.26" height="8.85" fill="#95a8e4"/>
<rect x="1594.56" y="1288.13" width="33.26" height="8.85" fill="#e68c90"/>
<rect x="1594.56" y="1296.68" width="33.26" height="8.85" fill="#f4d4d5"/>
<rect x="1594.56" y="1305.23" width="33.26" height="17.4" fill="#de4a50"/>
<rect x="1594.56" y="1322.33" width="33.26" height="8.85" fill="#da2a1f"/>
<rect x="1594.56" y="1330.88" width="33.26" height="17.4" fill="#d4ddf3"/>
<rect x="1594.56" y="1347.98" width="33.26" height="43.05" fill="#e0e7f6"/>
<rect x="1594.56" y="1390.74" width="33.26" height="8.85" fill="#a7b8e8"/>
<rect x="1594.56" y="1399.29" width="33.26" height="8.85" fill="#e0e7f6"/>
<rect x="1594.56" y="1407.84" width="33.26" height="8.85" fill="#c7d3f0"/>
<rect x="1594.56" y="1416.39" width="33.26" height="25.95" fill="#a7b8e8"/>
<rect x="1594.56" y="1442.04" width="33.26" height="8.85" fill="#b7c6ec"/>
<rect x="1594.56" y="1450.59" width="33.26" height="8.85" fill="#95a8e4"/>
<rect x="1594.56" y="1459.14" width="33.26" height="8.85" fill="#b7c6ec"/>
<rect x="1594.56" y="1467.69" width="33.26" height="17.4" fill="#a7b8e8"/>
<rect x="1594.56" y="1484.79" width="33.26" height="8.85" fill="#eba5a8"/>
<rect x="1594.56" y="1493.34" width="33.26" height="8.85" fill="#f4d4d5"/>
<rect x="1594.56" y="1501.89" width="33.26" height="8.85" fill="#eba5a8"/>
<rect x="1594.56" y="1510.44" width="33.26" height="8.85" fill="#f0bcbe"/>
<rect x="1594.56" y="1518.99" width="33.26" height="8.85" fill="#fbfbfd"/>
<rect x="1594.56" y="1527.55" width="33.26" height="8.85" fill="#f8e8e9"/>
<rect x="1594.56" y="1536.1" width="33.26" height="8.85" fill="#fbfbfd"/>
<rect x="1594.56" y="1544.65" width="33.26" height="8.85" fill="#f4d4d5"/>
<rect x="1594.56" y="1553.2" width="33.26" height="17.4" fill="#e27379"/>
<rect x="1594.56" y="1570.3" width="33.26" height="8.85" fill="#f4d4d5"/>
<rect x="1594.56" y="1578.85" width="33.26" height="8.85" fill="#fbfbfd"/>
<rect x="1627.51" y="929" width="33.26" height="8.85" fill="#da2a1f"/>
<rect x="1627.51" y="937.55" width="33.26" height="8.85" fill="#e05e64"/>
<rect x="1627.51" y="946.1" width="33.26" height="17.4" fill="#dc3a38"/>
<rect x="1627.51" y="963.2" width="33.26" height="8.85" fill="#a7b8e8"/>
<rect x="1627.51" y="971.75" width="33.26" height="17.4" fill="#fbfbfd"/>
<rect x="1627.51" y="988.85" width="33.26" height="8.85" fill="#f0f3fa"/>
<rect x="1627.51" y="997.41" width="33.26" height="8.85" fill="#e0e7f6"/>
<rect x="1627.51" y="1005.96" width="33.26" height="8.85" fill="#f9eff1"/>
<rect x="1627.51" y="1014.51" width="33.26" height="25.95" fill="#eba5a8"/>
<rect x="1627.51" y="1040.16" width="33.26" height="8.85" fill="#e68c90"/>
<rect x="1627.51" y="1048.71" width="33.26" height="8.85" fill="#eba5a8"/>
<rect x="1627.51" y="1057.26" width="33.26" height="8.85" fill="#c7d3f0"/>
<rect x="1627.51" y="1065.81" width="33.26" height="8.85" fill="#8399df"/>
<rect x="1627.51" y="1074.36" width="33.26" height="8.85" fill="#f4d4d5"/>
<rect x="1627.51" y="1082.91" width="33.26" height="8.85" fill="#e0e7f6"/>
<rect x="1627.51" y="1091.46" width="33.26" height="8.85" fill="#f7e4e5"/>
<rect x="1627.51" y="1100.01" width="33.26" height="8.85" fill="#f4d4d5"/>
<rect x="1627.51" y="1108.56" width="33.26" height="8.85" fill="#fbfbfd"/>
<rect x="1627.51" y="1117.11" width="33.26" height="8.85" fill="#e0e7f6"/>
<rect x="1627.51" y="1125.66" width="33.26" height="17.4" fill="#f4d4d5"/>
<rect x="1627.51" y="1142.77" width="33.26" height="8.85" fill="#a7b8e8"/>
<rect x="1627.51" y="1151.32" width="33.26" height="8.85" fill="#95a8e4"/>
<rect x="1627.51" y="1159.87" width="33.26" height="17.4" fill="#c7d3f0"/>
<rect x="1627.51" y="1176.97" width="33.26" height="8.85" fill="#fbfbfd"/>
<rect x="1627.51" y="1185.52" width="33.26" height="8.85" fill="#eef1fa"/>
<rect x="1627.51" y="1194.07" width="33.26" height="8.85" fill="#eba5a8"/>
<rect x="1627.51" y="1202.62" width="33.26" height="8.85" fill="#f4d4d5"/>
<rect x="1627.51" y="1211.17" width="33.26" height="17.4" fill="#f8e8e9"/>
<rect x="1627.51" y="1228.27" width="33.26" height="8.85" fill="#8399df"/>
<rect x="1627.51" y="1236.82" width="33.26" height="17.4" fill="#e0e7f6"/>
<rect x="1627.51" y="1253.92" width="33.26" height="8.85" fill="#c7d3f0"/>
<rect x="1627.51" y="1262.48" width="33.26" height="8.85" fill="#8399df"/>
<rect x="1627.51" y="1271.03" width="33.26" height="17.4" fill="#95a8e4"/>
<rect x="1627.51" y="1288.13" width="33.26" height="8.85" fill="#6983d9"/>
<rect x="1627.51" y="1296.68" width="33.26" height="8.85" fill="#e0e7f6"/>
<rect x="1627.51" y="1305.23" width="33.26" height="8.85" fill="#fbfbfd"/>
<rect x="1627.51" y="1313.78" width="33.26" height="8.85" fill="#95a8e4"/>
<rect x="1627.51" y="1322.33" width="33.26" height="8.85" fill="#e0e7f6"/>
<rect x="1627.51" y="1330.88" width="33.26" height="8.85" fill="#da2a1f"/>
<rect x="1627.51" y="1339.43" width="33.26" height="8.85" fill="#d4ddf3"/>
<rect x="1627.51" y="1347.98" width="33.26" height="8.85" fill="#a7b8e8"/>
<rect x="1627.51" y="1356.53" width="33.26" height="8.85" fill="#c7d3f0"/>
<rect x="1627.51" y="1365.08" width="33.26" height="8.85" fill="#8399df"/>
<rect x="1627.51" y="1373.63" width="33.26" height="34.5" fill="#a7b8e8"/>
<rect x="1627.51" y="1407.84" width="33.26" height="8.85" fill="#8399df"/>
<rect x="1627.51" y="1416.39" width="33.26" height="8.85" fill="#a7b8e8"/>
<rect x="1627.51" y="1424.94" width="33.26" height="8.85" fill="#b7c6ec"/>
<rect x="1627.51" y="1433.49" width="33.26" height="8.85" fill="#a7b8e8"/>
<rect x="1627.51" y="1442.04" width="33.26" height="8.85" fill="#8399df"/>
<rect x="1627.51" y="1450.59" width="33.26" height="8.85" fill="#a7b8e8"/>
<rect x="1627.51" y="1459.14" width="33.26" height="25.95" fill="#8399df"/>
<rect x="1627.51" y="1484.79" width="33.26" height="8.85" fill="#6983d9"/>
<rect x="1627.51" y="1493.34" width="33.26" height="8.85" fill="#4a68d6"/>
<rect x="1627.51" y="1501.89" width="33.26" height="8.85" fill="#8399df"/>
<rect x="1627.51" y="1510.44" width="33.26" height="34.5" fill="#6983d9"/>
<rect x="1627.51" y="1544.65" width="33.26" height="8.85" fill="#8399df"/>
<rect x="1627.51" y="1553.2" width="33.26" height="8.85" fill="#a7b8e8"/>
<rect x="1627.51" y="1561.75" width="33.26" height="25.95" fill="#8399df"/>
<rect x="1660.47" y="929" width="33.26" height="8.85" fill="#c7d3f0"/>
<rect x="1660.47" y="937.55" width="33.26" height="8.85" fill="#eba5a8"/>
<rect x="1660.47" y="946.1" width="33.26" height="8.85" fill="#e0e7f6"/>
<rect x="1660.47" y="954.65" width="33.26" height="8.85" fill="#c7d3f0"/>
<rect x="1660.47" y="963.2" width="33.26" height="17.4" fill="#e0e7f6"/>
<rect x="1660.47" y="980.3" width="33.26" height="8.85" fill="#fbfbfd"/>
<rect x="1660.47" y="988.85" width="33.26" height="17.4" fill="#e0e7f6"/>
<rect x="1660.47" y="1005.96" width="33.26" height="8.85" fill="#c7d3f0"/>
<rect x="1660.47" y="1014.51" width="33.26" height="8.85" fill="#b7c6ec"/>
<rect x="1660.47" y="1023.06" width="33.26" height="8.85" fill="#a7b8e8"/>
<rect x="1660.47" y="1031.61" width="33.26" height="17.4" fill="#c7d3f0"/>
<rect x="1660.47" y="1048.71" width="33.26" height="8.85" fill="#e0e7f6"/>
<rect x="1660.47" y="1057.26" width="33.26" height="8.85" fill="#c7d3f0"/>
<rect x="1660.47" y="1065.81" width="33.26" height="8.85" fill="#eef1fa"/>
<rect x="1660.47" y="1074.36" width="33.26" height="8.85" fill="#f6e0e1"/>
<rect x="1660.47" y="1082.91" width="33.26" height="17.4" fill="#c7d3f0"/>
<rect x="1660.47" y="1100.01" width="33.26" height="17.4" fill="#a7b8e8"/>
<rect x="1660.47" y="1117.11" width="33.26" height="8.85" fill="#8399df"/>
<rect x="1660.47" y="1125.66" width="33.26" height="8.85" fill="#95a8e4"/>
<rect x="1660.47" y="1134.22" width="33.26" height="8.85" fill="#f4d4d5"/>
<rect x="1660.47" y="1142.77" width="33.26" height="8.85" fill="#e68c90"/>
<rect x="1660.47" y="1151.32" width="33.26" height="8.85" fill="#a7b8e8"/>
<rect x="1660.47" y="1159.87" width="33.26" height="8.85" fill="#eef1fa"/>
<rect x="1660.47" y="1168.42" width="33.26" height="8.85" fill="#a7b8e8"/>
<rect x="1660.47" y="1176.97" width="33.26" height="8.85" fill="#fbfbfd"/>
<rect x="1660.47" y="1185.52" width="33.26" height="25.95" fill="#e0e7f6"/>
<rect x="1660.47" y="1211.17" width="33.26" height="17.4" fill="#c7d3f0"/>
<rect x="1660.47" y="1228.27" width="33.26" height="17.4" fill="#e05e64"/>
<rect x="1660.47" y="1245.37" width="33.26" height="8.85" fill="#fbfbfd"/>
<rect x="1660.47" y="1253.92" width="33.26" height="8.85" fill="#e0e7f6"/>
<rect x="1660.47" y="1262.48" width="33.26" height="17.4" fill="#eba5a8"/>
<rect x="1660.47" y="1279.58" width="33.26" height="8.85" fill="#f0bcbe"/>
<rect x="1660.47" y="1288.13" width="33.26" height="8.85" fill="#a7b8e8"/>
<rect x="1660.47" y="1296.68" width="33.26" height="8.85" fill="#8399df"/>
<rect x="1660.47" y="1305.23" width="33.26" height="8.85" fill="#e0e7f6"/>
<rect x="1660.47" y="1313.78" width="33.26" height="8.85" fill="#f4d4d5"/>
<rect x="1660.47" y="1322.33" width="33.26" height="8.85" fill="#e0e7f6"/>
<rect x="1660.47" y="1330.88" width="33.26" height="8.85" fill="#f0bcbe"/>
<rect x="1660.47" y="1339.43" width="33.26" height="8.85" fill="#d4ddf3"/>
<rect x="1660.47" y="1347.98" width="33.26" height="8.85" fill="#e27379"/>
<rect x="1660.47" y="1356.53" width="33.26" height="8.85" fill="#eba5a8"/>
<rect x="1660.47" y="1365.08" width="33.26" height="8.85" fill="#e27379"/>
<rect x="1660.47" y="1373.63" width="33.26" height="8.85" fill="#e0e7f6"/>
<rect x="1660.47" y="1382.18" width="33.26" height="8.85" fill="#fbfbfd"/>
<rect x="1660.47" y="1390.74" width="33.26" height="8.85" fill="#f4d4d5"/>
<rect x="1660.47" y="1399.29" width="33.26" height="8.85" fill="#fbfbfd"/>
<rect x="1660.47" y="1407.84" width="33.26" height="8.85" fill="#f4d4d5"/>
<rect x="1660.47" y="1416.39" width="33.26" height="17.4" fill="#fbfbfd"/>
<rect x="1660.47" y="1433.49" width="33.26" height="25.95" fill="#eba5a8"/>
<rect x="1660.47" y="1459.14" width="33.26" height="8.85" fill="#f4d4d5"/>
<rect x="1660.47" y="1467.69" width="33.26" height="8.85" fill="#fbfbfd"/>
<rect x="1660.47" y="1476.24" width="33.26" height="8.85" fill="#f0bcbe"/>
<rect x="1660.47" y="1484.79" width="33.26" height="8.85" fill="#e0e7f6"/>
<rect x="1660.47" y="1493.34" width="33.26" height="8.85" fill="#eba5a8"/>
<rect x="1660.47" y="1501.89" width="33.26" height="17.4" fill="#c7d3f0"/>
<rect x="1660.47" y="1518.99" width="33.26" height="8.85" fill="#e0e7f6"/>
<rect x="1660.47" y="1527.55" width="33.26" height="8.85" fill="#fbfbfd"/>
<rect x="1660.47" y="1536.1" width="33.26" height="8.85" fill="#f4d4d5"/>
<rect x="1660.47" y="1544.65" width="33.26" height="8.85" fill="#f8e8e9"/>
<rect x="1660.47" y="1553.2" width="33.26" height="8.85" fill="#fbfbfd"/>
<rect x="1660.47" y="1561.75" width="33.26" height="8.85" fill="#c7d3f0"/>
<rect x="1660.47" y="1570.3" width="33.26" height="8.85" fill="#a7b8e8"/>
<rect x="1660.47" y="1578.85" width="33.26" height="8.85" fill="#e0e7f6"/>
<rect x="1693.42" y="929" width="33.26" height="8.85" fill="#de4a50"/>
<rect x="1693.42" y="937.55" width="33.26" height="25.95" fill="#fbfbfd"/>
<rect x="1693.42" y="963.2" width="33.26" height="17.4" fill="#c7d3f0"/>
<rect x="1693.42" y="980.3" width="33.26" height="17.4" fill="#e0e7f6"/>
<rect x="1693.42" y="997.41" width="33.26" height="8.85" fill="#f0f3fa"/>
<rect x="1693.42" y="1005.96" width="33.26" height="8.85" fill="#c7d3f0"/>
<rect x="1693.42" y="1014.51" width="33.26" height="8.85" fill="#a7b8e8"/>
<rect x="1693.42" y="1023.06" width="33.26" height="17.4" fill="#c7d3f0"/>
<rect x="1693.42" y="1040.16" width="33.26" height="17.4" fill="#e0e7f6"/>
<rect x="1693.42" y="1057.26" width="33.26" height="8.85" fill="#f4d4d5"/>
<rect x="1693.42" y="1065.81" width="33.26" height="8.85" fill="#c7d3f0"/>
<rect x="1693.42" y="1074.36" width="33.26" height="8.85" fill="#95a8e4"/>
<rect x="1693.42" y="1082.91" width="33.26" height="8.85" fill="#a7b8e8"/>
<rect x="1693.42" y="1091.46" width="33.26" height="8.85" fill="#8399df"/>
<rect x="1693.42" y="1100.01" width="33.26" height="17.4" fill="#a7b8e8"/>
<rect x="1693.42" y="1117.11" width="33.26" height="8.85" fill="#e0e7f6"/>
<rect x="1693.42" y="1125.66" width="33.26" height="17.4" fill="#a7b8e8"/>
<rect x="1693.42" y="1142.77" width="33.26" height="34.5" fill="#c7d3f0"/>
<rect x="1693.42" y="1176.97" width="33.26" height="8.85" fill="#eba5a8"/>
<rect x="1693.42" y="1185.52" width="33.26" height="43.05" fill="#c7d3f0"/>
<rect x="1693.42" y="1228.27" width="33.26" height="8.85" fill="#eba5a8"/>
<rect x="1693.42" y="1236.82" width="33.26" height="8.85" fill="#c7d3f0"/>
<rect x="1693.42" y="1245.37" width="33.26" height="17.4" fill="#f8e8e9"/>
<rect x="1693.42" y="1262.48" width="33.26" height="8.85" fill="#e27379"/>
<rect x="1693.42" y="1271.03" width="33.26" height="17.4" fill="#eba5a8"/>
<rect x="1693.42" y="1288.13" width="33.26" height="8.85" fill="#f8e8e9"/>
<rect x="1693.42" y="1296.68" width="33.26" height="8.85" fill="#e0e7f6"/>
<rect x="1693.42" y="1305.23" width="33.26" height="8.85" fill="#fbfbfd"/>
<rect x="1693.42" y="1313.78" width="33.26" height="8.85" fill="#f4d4d5"/>
<rect x="1693.42" y="1322.33" width="33.26" height="8.85" fill="#f0bcbe"/>
<rect x="1693.42" y="1330.88" width="33.26" height="8.85" fill="#f8e8e9"/>
<rect x="1693.42" y="1339.43" width="33.26" height="8.85" fill="#dc3a38"/>
<rect x="1693.42" y="1347.98" width="33.26" height="8.85" fill="#e68c90"/>
<rect x="1693.42" y="1356.53" width="33.26" height="17.4" fill="#eba5a8"/>
<rect x="1693.42" y="1373.63" width="33.26" height="8.85" fill="#a7b8e8"/>
<rect x="1693.42" y="1382.18" width="33.26" height="8.85" fill="#c7d3f0"/>
<rect x="1693.42" y="1390.74" width="33.26" height="8.85" fill="#f8e8e9"/>
<rect x="1693.42" y="1399.29" width="33.26" height="8.85" fill="#fbfbfd"/>
<rect x="1693.42" y="1407.84" width="33.26" height="17.4" fill="#f4d4d5"/>
<rect x="1693.42" y="1424.94" width="33.26" height="8.85" fill="#fbfbfd"/>
<rect x="1693.42" y="1433.49" width="33.26" height="8.85" fill="#eba5a8"/>
<rect x="1693.42" y="1442.04" width="33.26" height="25.95" fill="#f4d4d5"/>
<rect x="1693.42" y="1467.69" width="33.26" height="8.85" fill="#f0bcbe"/>
<rect x="1693.42" y="1476.24" width="33.26" height="8.85" fill="#f4d4d5"/>
<rect x="1693.42" y="1484.79" width="33.26" height="8.85" fill="#e05e64"/>
<rect x="1693.42" y="1493.34" width="33.26" height="8.85" fill="#eba5a8"/>
<rect x="1693.42" y="1501.89" width="33.26" height="25.95" fill="#e0e7f6"/>
<rect x="1693.42" y="1527.55" width="33.26" height="8.85" fill="#fbfbfd"/>
<rect x="1693.42" y="1536.1" width="33.26" height="8.85" fill="#f4d4d5"/>
<rect x="1693.42" y="1544.65" width="33.26" height="8.85" fill="#f8e8e9"/>
<rect x="1693.42" y="1553.2" width="33.26" height="17.4" fill="#fbfbfd"/>
<rect x="1693.42" y="1570.3" width="33.26" height="17.4" fill="#c7d3f0"/>
<rect x="1726.38" y="929" width="33.26" height="8.85" fill="#c7d3f0"/>
<rect x="1726.38" y="937.55" width="33.26" height="8.85" fill="#fbfbfd"/>
<rect x="1726.38" y="946.1" width="33.26" height="8.85" fill="#f4d4d5"/>
<rect x="1726.38" y="954.65" width="33.26" height="8.85" fill="#a7b8e8"/>
<rect x="1726.38" y="963.2" width="33.26" height="8.85" fill="#f4d4d5"/>
<rect x="1726.38" y="971.75" width="33.26" height="8.85" fill="#efb8ba"/>
<rect x="1726.38" y="980.3" width="33.26" height="25.95" fill="#e0e7f6"/>
<rect x="1726.38" y="1005.96" width="33.26" height="8.85" fill="#c7d3f0"/>
<rect x="1726.38" y="1014.51" width="33.26" height="8.85" fill="#a7b8e8"/>
<rect x="1726.38" y="1023.06" width="33.26" height="8.85" fill="#e0e7f6"/>
<rect x="1726.38" y="1031.61" width="33.26" height="17.4" fill="#c7d3f0"/>
<rect x="1726.38" y="1048.71" width="33.26" height="8.85" fill="#e0e7f6"/>
<rect x="1726.38" y="1057.26" width="33.26" height="8.85" fill="#d4ddf3"/>
<rect x="1726.38" y="1065.81" width="33.26" height="8.85" fill="#e0e7f6"/>
<rect x="1726.38" y="1074.36" width="33.26" height="8.85" fill="#c7d3f0"/>
<rect x="1726.38" y="1082.91" width="33.26" height="8.85" fill="#a7b8e8"/>
<rect x="1726.38" y="1091.46" width="33.26" height="8.85" fill="#c7d3f0"/>
<rect x="1726.38" y="1100.01" width="33.26" height="17.4" fill="#a7b8e8"/>
<rect x="1726.38" y="1117.11" width="33.26" height="17.4" fill="#e0e7f6"/>
<rect x="1726.38" y="1134.22" width="33.26" height="8.85" fill="#f4d4d5"/>
<rect x="1726.38" y="1142.77" width="33.26" height="8.85" fill="#c7d3f0"/>
<rect x="1726.38" y="1151.32" width="33.26" height="8.85" fill="#e68c90"/>
<rect x="1726.38" y="1159.87" width="33.26" height="17.4" fill="#eba5a8"/>
<rect x="1726.38" y="1176.97" width="33.26" height="8.85" fill="#fbfbfd"/>
<rect x="1726.38" y="1185.52" width="33.26" height="8.85" fill="#de4a50"/>
<rect x="1726.38" y="1194.07" width="33.26" height="8.85" fill="#e27379"/>
<rect x="1726.38" y="1202.62" width="33.26" height="8.85" fill="#de4a50"/>
<rect x="1726.38" y="1211.17" width="33.26" height="17.4" fill="#e05e64"/>
<rect x="1726.38" y="1228.27" width="33.26" height="8.85" fill="#e27379"/>
<rect x="1726.38" y="1236.82" width="33.26" height="8.85" fill="#e05e64"/>
<rect x="1726.38" y="1245.37" width="33.26" height="17.4" fill="#da2a1f"/>
<rect x="1726.38" y="1262.48" width="33.26" height="17.4" fill="#e05e64"/>
<rect x="1726.38" y="1279.58" width="33.26" height="43.05" fill="#de4a50"/>
<rect x="1726.38" y="1322.33" width="33.26" height="8.85" fill="#e27379"/>
<rect x="1726.38" y="1330.88" width="33.26" height="8.85" fill="#a7b8e8"/>
<rect x="1726.38" y="1339.43" width="33.26" height="8.85" fill="#d4ddf3"/>
<rect x="1726.38" y="1347.98" width="33.26" height="8.85" fill="#eef1fa"/>
<rect x="1726.38" y="1356.53" width="33.26" height="8.85" fill="#a7b8e8"/>
<rect x="1726.38" y="1365.08" width="33.26" height="8.85" fill="#e0e7f6"/>
<rect x="1726.38" y="1373.63" width="33.26" height="8.85" fill="#e68c90"/>
<rect x="1726.38" y="1382.18" width="33.26" height="8.85" fill="#e0e7f6"/>
<rect x="1726.38" y="1390.74" width="33.26" height="8.85" fill="#f8e8e9"/>
<rect x="1726.38" y="1399.29" width="33.26" height="8.85" fill="#f4d4d5"/>
<rect x="1726.38" y="1407.84" width="33.26" height="8.85" fill="#e68c90"/>
<rect x="1726.38" y="1416.39" width="33.26" height="8.85" fill="#f4d4d5"/>
<rect x="1726.38" y="1424.94" width="33.26" height="8.85" fill="#fbfbfd"/>
<rect x="1726.38" y="1433.49" width="33.26" height="8.85" fill="#eba5a8"/>
<rect x="1726.38" y="1442.04" width="33.26" height="8.85" fill="#f4d4d5"/>
<rect x="1726.38" y="1450.59" width="33.26" height="17.4" fill="#eba5a8"/>
<rect x="1726.38" y="1467.69" width="33.26" height="8.85" fill="#e05e64"/>
<rect x="1726.38" y="1476.24" width="33.26" height="8.85" fill="#e27379"/>
<rect x="1726.38" y="1484.79" width="33.26" height="8.85" fill="#fbfbfd"/>
<rect x="1726.38" y="1493.34" width="33.26" height="8.85" fill="#f4d4d5"/>
<rect x="1726.38" y="1501.89" width="33.26" height="8.85" fill="#fbfbfd"/>
<rect x="1726.38" y="1510.44" width="33.26" height="8.85" fill="#f0bcbe"/>
<rect x="1726.38" y="1518.99" width="33.26" height="8.85" fill="#f4d4d5"/>
<rect x="1726.38" y="1527.55" width="33.26" height="8.85" fill="#fbfbfd"/>
<rect x="1726.38" y="1536.1" width="33.26" height="8.85" fill="#f4d4d5"/>
<rect x="1726.38" y="1544.65" width="33.26" height="8.85" fill="#c7d3f0"/>
<rect x="1726.38" y="1553.2" width="33.26" height="17.4" fill="#a7b8e8"/>
<rect x="1726.38" y="1570.3" width="33.26" height="8.85" fill="#fbfbfd"/>
<rect x="1726.38" y="1578.85" width="33.26" height="8.85" fill="#d4ddf3"/>
<rect x="1759.33" y="929" width="33.26" height="8.85" fill="#c7d3f0"/>
<rect x="1759.33" y="937.55" width="33.26" height="8.85" fill="#a7b8e8"/>
<rect x="1759.33" y="946.1" width="33.26" height="8.85" fill="#c7d3f0"/>
<rect x="1759.33" y="954.65" width="33.26" height="8.85" fill="#e0e7f6"/>
<rect x="1759.33" y="963.2" width="33.26" height="8.85" fill="#a7b8e8"/>
<rect x="1759.33" y="971.75" width="33.26" height="43.05" fill="#c7d3f0"/>
<rect x="1759.33" y="1014.51" width="33.26" height="25.95" fill="#e0e7f6"/>
<rect x="1759.33" y="1040.16" width="33.26" height="8.85" fill="#d4ddf3"/>
<rect x="1759.33" y="1048.71" width="33.26" height="8.85" fill="#c7d3f0"/>
<rect x="1759.33" y="1057.26" width="33.26" height="8.85" fill="#e0e7f6"/>
<rect x="1759.33" y="1065.81" width="33.26" height="8.85" fill="#d4ddf3"/>
<rect x="1759.33" y="1074.36" width="33.26" height="8.85" fill="#95a8e4"/>
<rect x="1759.33" y="1082.91" width="33.26" height="8.85" fill="#fbfbfd"/>
<rect x="1759.33" y="1091.46" width="33.26" height="8.85" fill="#e0e7f6"/>
<rect x="1759.33" y="1100.01" width="33.26" height="17.4" fill="#f7e4e5"/>
<rect x="1759.33" y="1117.11" width="33.26" height="8.85" fill="#c7d3f0"/>
<rect x="1759.33" y="1125.66" width="33.26" height="17.4" fill="#a7b8e8"/>
<rect x="1759.33" y="1142.77" width="33.26" height="8.85" fill="#e0e7f6"/>
<rect x="1759.33" y="1151.32" width="33.26" height="8.85" fill="#f0bcbe"/>
<rect x="1759.33" y="1159.87" width="33.26" height="17.4" fill="#c7d3f0"/>
<rect x="1759.33" y="1176.97" width="33.26" height="8.85" fill="#d4ddf3"/>
<rect x="1759.33" y="1185.52" width="33.26" height="8.85" fill="#f4d4d5"/>
<rect x="1759.33" y="1194.07" width="33.26" height="8.85" fill="#c7d3f0"/>
<rect x="1759.33" y="1202.62" width="33.26" height="8.85" fill="#e0e7f6"/>
<rect x="1759.33" y="1211.17" width="33.26" height="17.4" fill="#c7d3f0"/>
<rect x="1759.33" y="1228.27" width="33.26" height="8.85" fill="#95a8e4"/>
<rect x="1759.33" y="1236.82" width="33.26" height="8.85" fill="#a7b8e8"/>
<rect x="1759.33" y="1245.37" width="33.26" height="17.4" fill="#f4d4d5"/>
<rect x="1759.33" y="1262.48" width="33.26" height="8.85" fill="#f0bcbe"/>
<rect x="1759.33" y="1271.03" width="33.26" height="8.85" fill="#e68c90"/>
<rect x="1759.33" y="1279.58" width="33.26" height="8.85" fill="#eba5a8"/>
<rect x="1759.33" y="1288.13" width="33.26" height="8.85" fill="#fbfbfd"/>
<rect x="1759.33" y="1296.68" width="33.26" height="8.85" fill="#e68c90"/>
<rect x="1759.33" y="1305.23" width="33.26" height="8.85" fill="#a7b8e8"/>
<rect x="1759.33" y="1313.78" width="33.26" height="8.85" fill="#c7d3f0"/>
<rect x="1759.33" y="1322.33" width="33.26" height="8.85" fill="#95a8e4"/>
<rect x="1759.33" y="1330.88" width="33.26" height="8.85" fill="#eba5a8"/>
<rect x="1759.33" y="1339.43" width="33.26" height="8.85" fill="#dc3a38"/>
<rect x="1759.33" y="1347.98" width="33.26" height="8.85" fill="#de4a50"/>
<rect x="1759.33" y="1356.53" width="33.26" height="8.85" fill="#e27379"/>
<rect x="1759.33" y="1365.08" width="33.26" height="8.85" fill="#eba5a8"/>
<rect x="1759.33" y="1373.63" width="33.26" height="8.85" fill="#e05e64"/>
<rect x="1759.33" y="1382.18" width="33.26" height="8.85" fill="#de4a50"/>
<rect x="1759.33" y="1390.74" width="33.26" height="17.4" fill="#e27379"/>
<rect x="1759.33" y="1407.84" width="33.26" height="17.4" fill="#dc3a38"/>
<rect x="1759.33" y="1424.94" width="33.26" height="8.85" fill="#da2a1f"/>
<rect x="1759.33" y="1433.49" width="33.26" height="8.85" fill="#eba5a8"/>
<rect x="1759.33" y="1442.04" width="33.26" height="8.85" fill="#f0bcbe"/>
<rect x="1759.33" y="1450.59" width="33.26" height="8.85" fill="#e68c90"/>
<rect x="1759.33" y="1459.14" width="33.26" height="17.4" fill="#e27379"/>
<rect x="1759.33" y="1476.24" width="33.26" height="8.85" fill="#e05e64"/>
<rect x="1759.33" y="1484.79" width="33.26" height="17.4" fill="#e0e7f6"/>
<rect x="1759.33" y="1501.89" width="33.26" height="8.85" fill="#f0bcbe"/>
<rect x="1759.33" y="1510.44" width="33.26" height="17.4" fill="#eba5a8"/>
<rect x="1759.33" y="1527.55" width="33.26" height="8.85" fill="#e68c90"/>
<rect x="1759.33" y="1536.1" width="33.26" height="8.85" fill="#eba5a8"/>
<rect x="1759.33" y="1544.65" width="33.26" height="17.4" fill="#f4d4d5"/>
<rect x="1759.33" y="1561.75" width="33.26" height="8.85" fill="#f0bcbe"/>
<rect x="1759.33" y="1570.3" width="33.26" height="8.85" fill="#e05e64"/>
<rect x="1759.33" y="1578.85" width="33.26" height="8.85" fill="#e27379"/>
<rect x="1792.29" y="929" width="33.26" height="8.85" fill="#c7d3f0"/>
<rect x="1792.29" y="937.55" width="33.26" height="8.85" fill="#a7b8e8"/>
<rect x="1792.29" y="946.1" width="33.26" height="8.85" fill="#8399df"/>
<rect x="1792.29" y="954.65" width="33.26" height="8.85" fill="#a7b8e8"/>
<rect x="1792.29" y="963.2" width="33.26" height="8.85" fill="#f4d4d5"/>
<rect x="1792.29" y="971.75" width="33.26" height="8.85" fill="#c7d3f0"/>
<rect x="1792.29" y="980.3" width="33.26" height="8.85" fill="#e0e7f6"/>
<rect x="1792.29" y="988.85" width="33.26" height="8.85" fill="#f0f3fa"/>
<rect x="1792.29" y="997.41" width="33.26" height="8.85" fill="#c7d3f0"/>
<rect x="1792.29" y="1005.96" width="33.26" height="17.4" fill="#f4d4d5"/>
<rect x="1792.29" y="1023.06" width="33.26" height="34.5" fill="#e0e7f6"/>
<rect x="1792.29" y="1057.26" width="33.26" height="25.95" fill="#e27379"/>
<rect x="1792.29" y="1082.91" width="33.26" height="17.4" fill="#eba5a8"/>
<rect x="1792.29" y="1100.01" width="33.26" height="8.85" fill="#f4d4d5"/>
<rect x="1792.29" y="1108.56" width="33.26" height="8.85" fill="#eba5a8"/>
<rect x="1792.29" y="1117.11" width="33.26" height="8.85" fill="#f4d4d5"/>
<rect x="1792.29" y="1125.66" width="33.26" height="8.85" fill="#f7e4e5"/>
<rect x="1792.29" y="1134.22" width="33.26" height="8.85" fill="#a7b8e8"/>
<rect x="1792.29" y="1142.77" width="33.26" height="8.85" fill="#e0e7f6"/>
<rect x="1792.29" y="1151.32" width="33.26" height="8.85" fill="#c7d3f0"/>
<rect x="1792.29" y="1159.87" width="33.26" height="8.85" fill="#a7b8e8"/>
<rect x="1792.29" y="1168.42" width="33.26" height="8.85" fill="#e0e7f6"/>
<rect x="1792.29" y="1176.97" width="33.26" height="8.85" fill="#c7d3f0"/>
<rect x="1792.29" y="1185.52" width="33.26" height="8.85" fill="#8399df"/>
<rect x="1792.29" y="1194.07" width="33.26" height="8.85" fill="#b7c6ec"/>
<rect x="1792.29" y="1202.62" width="33.26" height="8.85" fill="#95a8e4"/>
<rect x="1792.29" y="1211.17" width="33.26" height="17.4" fill="#a7b8e8"/>
<rect x="1792.29" y="1228.27" width="33.26" height="8.85" fill="#eba5a8"/>
<rect x="1792.29" y="1236.82" width="33.26" height="8.85" fill="#e05e64"/>
<rect x="1792.29" y="1245.37" width="33.26" height="8.85" fill="#95a8e4"/>
<rect x="1792.29" y="1253.92" width="33.26" height="17.4" fill="#e0e7f6"/>
<rect x="1792.29" y="1271.03" width="33.26" height="8.85" fill="#eba5a8"/>
<rect x="1792.29" y="1279.58" width="33.26" height="8.85" fill="#f4d4d5"/>
<rect x="1792.29" y="1288.13" width="33.26" height="17.4" fill="#e27379"/>
<rect x="1792.29" y="1305.23" width="33.26" height="8.85" fill="#eba5a8"/>
<rect x="1792.29" y="1313.78" width="33.26" height="8.85" fill="#c7d3f0"/>
<rect x="1792.29" y="1322.33" width="33.26" height="8.85" fill="#e0e7f6"/>
<rect x="1792.29" y="1330.88" width="33.26" height="8.85" fill="#f4d4d5"/>
<rect x="1792.29" y="1339.43" width="33.26" height="8.85" fill="#d4ddf3"/>
<rect x="1792.29" y="1347.98" width="33.26" height="8.85" fill="#eba5a8"/>
<rect x="1792.29" y="1356.53" width="33.26" height="8.85" fill="#de4a50"/>
<rect x="1792.29" y="1365.08" width="33.26" height="25.95" fill="#e27379"/>
<rect x="1792.29" y="1390.74" width="33.26" height="8.85" fill="#e05e64"/>
<rect x="1792.29" y="1399.29" width="33.26" height="8.85" fill="#de4a50"/>
<rect x="1792.29" y="1407.84" width="33.26" height="8.85" fill="#eba5a8"/>
<rect x="1792.29" y="1416.39" width="33.26" height="25.95" fill="#e27379"/>
<rect x="1792.29" y="1442.04" width="33.26" height="8.85" fill="#de4a50"/>
<rect x="1792.29" y="1450.59" width="33.26" height="8.85" fill="#f4d4d5"/>
<rect x="1792.29" y="1459.14" width="33.26" height="8.85" fill="#e27379"/>
<rect x="1792.29" y="1467.69" width="33.26" height="8.85" fill="#eba5a8"/>
<rect x="1792.29" y="1476.24" width="33.26" height="8.85" fill="#f4d4d5"/>
<rect x="1792.29" y="1484.79" width="33.26" height="8.85" fill="#f8e8e9"/>
<rect x="1792.29" y="1493.34" width="33.26" height="8.85" fill="#eba5a8"/>
<rect x="1792.29" y="1501.89" width="33.26" height="25.95" fill="#de4a50"/>
<rect x="1792.29" y="1527.55" width="33.26" height="8.85" fill="#eba5a8"/>
<rect x="1792.29" y="1536.1" width="33.26" height="8.85" fill="#de4a50"/>
<rect x="1792.29" y="1544.65" width="33.26" height="17.4" fill="#da2a1f"/>
<rect x="1792.29" y="1561.75" width="33.26" height="25.95" fill="#e05e64"/>
<rect x="1825.24" y="929" width="33.26" height="17.4" fill="#c7d3f0"/>
<rect x="1825.24" y="946.1" width="33.26" height="8.85" fill="#f7e4e5"/>
<rect x="1825.24" y="954.65" width="33.26" height="25.95" fill="#e0e7f6"/>
<rect x="1825.24" y="980.3" width="33.26" height="8.85" fill="#d6dff4"/>
<rect x="1825.24" y="988.85" width="33.26" height="25.95" fill="#e0e7f6"/>
<rect x="1825.24" y="1014.51" width="33.26" height="8.85" fill="#fbfbfd"/>
<rect x="1825.24" y="1023.06" width="33.26" height="25.95" fill="#e0e7f6"/>
<rect x="1825.24" y="1048.71" width="33.26" height="8.85" fill="#c7d3f0"/>
<rect x="1825.24" y="1057.26" width="33.26" height="8.85" fill="#a7b8e8"/>
<rect x="1825.24" y="1065.81" width="33.26" height="8.85" fill="#fbfbfd"/>
<rect x="1825.24" y="1074.36" width="33.26" height="8.85" fill="#f4d4d5"/>
<rect x="1825.24" y="1082.91" width="33.26" height="8.85" fill="#f7e4e5"/>
<rect x="1825.24" y="1091.46" width="33.26" height="8.85" fill="#eba5a8"/>
<rect x="1825.24" y="1100.01" width="33.26" height="8.85" fill="#fbfbfd"/>
<rect x="1825.24" y="1108.56" width="33.26" height="8.85" fill="#f4d4d5"/>
<rect x="1825.24" y="1117.11" width="33.26" height="17.4" fill="#e27379"/>
<rect x="1825.24" y="1134.22" width="33.26" height="8.85" fill="#de4a50"/>
<rect x="1825.24" y="1142.77" width="33.26" height="8.85" fill="#f4d4d5"/>
<rect x="1825.24" y="1151.32" width="33.26" height="25.95" fill="#eba5a8"/>
<rect x="1825.24" y="1176.97" width="33.26" height="8.85" fill="#8399df"/>
<rect x="1825.24" y="1185.52" width="33.26" height="8.85" fill="#e0e7f6"/>
<rect x="1825.24" y="1194.07" width="33.26" height="8.85" fill="#c7d3f0"/>
<rect x="1825.24" y="1202.62" width="33.26" height="8.85" fill="#eef1fa"/>
<rect x="1825.24" y="1211.17" width="33.26" height="17.4" fill="#e0e7f6"/>
<rect x="1825.24" y="1228.27" width="33.26" height="8.85" fill="#f4d4d5"/>
<rect x="1825.24" y="1236.82" width="33.26" height="17.4" fill="#fbfbfd"/>
<rect x="1825.24" y="1253.92" width="33.26" height="8.85" fill="#eba5a8"/>
<rect x="1825.24" y="1262.48" width="33.26" height="8.85" fill="#e68c90"/>
<rect x="1825.24" y="1271.03" width="33.26" height="8.85" fill="#f4d4d5"/>
<rect x="1825.24" y="1279.58" width="33.26" height="8.85" fill="#f8e8e9"/>
<rect x="1825.24" y="1288.13" width="33.26" height="8.85" fill="#fbfbfd"/>
<rect x="1825.24" y="1296.68" width="33.26" height="8.85" fill="#b7c6ec"/>
<rect x="1825.24" y="1305.23" width="33.26" height="8.85" fill="#a7b8e8"/>
<rect x="1825.24" y="1313.78" width="33.26" height="17.4" fill="#e0e7f6"/>
<rect x="1825.24" y="1330.88" width="33.26" height="8.85" fill="#f8e8e9"/>
<rect x="1825.24" y="1339.43" width="33.26" height="8.85" fill="#d4ddf3"/>
<rect x="1825.24" y="1347.98" width="33.26" height="8.85" fill="#8399df"/>
<rect x="1825.24" y="1356.53" width="33.26" height="17.4" fill="#e27379"/>
<rect x="1825.24" y="1373.63" width="33.26" height="34.5" fill="#de4a50"/>
<rect x="1825.24" y="1407.84" width="33.26" height="8.85" fill="#fbfbfd"/>
<rect x="1825.24" y="1416.39" width="33.26" height="8.85" fill="#e27379"/>
<rect x="1825.24" y="1424.94" width="33.26" height="8.85" fill="#f0bcbe"/>
<rect x="1825.24" y="1433.49" width="33.26" height="8.85" fill="#e68c90"/>
<rect x="1825.24" y="1442.04" width="33.26" height="8.85" fill="#f0bcbe"/>
<rect x="1825.24" y="1450.59" width="33.26" height="8.85" fill="#de4a50"/>
<rect x="1825.24" y="1459.14" width="33.26" height="43.05" fill="#e27379"/>
<rect x="1825.24" y="1501.89" width="33.26" height="8.85" fill="#de4a50"/>
<rect x="1825.24" y="1510.44" width="33.26" height="8.85" fill="#eba5a8"/>
<rect x="1825.24" y="1518.99" width="33.26" height="8.85" fill="#e27379"/>
<rect x="1825.24" y="1527.55" width="33.26" height="8.85" fill="#dc3a38"/>
<rect x="1825.24" y="1536.1" width="33.26" height="17.4" fill="#eba5a8"/>
<rect x="1825.24" y="1553.2" width="33.26" height="8.85" fill="#f4d4d5"/>
<rect x="1825.24" y="1561.75" width="33.26" height="8.85" fill="#e27379"/>
<rect x="1825.24" y="1570.3" width="33.26" height="17.4" fill="#e05e64"/>
<text x="1607.5" y="899.5" font-size="26" text-anchor="middle">Control</text>
<text x="1707.5" y="899" font-size="26" text-anchor="middle">WT</text>
<text x="1804.5" y="899" font-size="26" text-anchor="middle">4KR</text>
<line x1="1565.6" y1="915.3" x2="1654.7" y2="915.3" stroke="#000" stroke-width="2.6"/>
<line x1="1663.2" y1="915.3" x2="1753.2" y2="915.3" stroke="#000" stroke-width="2.6"/>
<line x1="1761.8" y1="915.3" x2="1851.7" y2="915.3" stroke="#000" stroke-width="2.6"/>
<text x="1903" y="923.9" font-size="18.5" font-style="italic">Xcl1</text>
<text x="1903" y="944.8" font-size="18.5" font-style="italic">Ifng</text>
<text x="1903" y="971.2" font-size="18.5" font-style="italic">Bcl6</text>
<text x="1903" y="994.3" font-size="18.5" font-style="italic">Tcf7</text>
<text x="1903" y="1013.5" font-size="18.5" font-style="italic">Ccr7</text>
<text x="1903" y="1031.8" font-size="18.5" font-style="italic">Sell</text>
<text x="1903" y="1057" font-size="18.5" font-style="italic">Il7r</text>
<text x="1903" y="1182.8" font-size="18.5" font-style="italic">Batf</text>
<text x="1903" y="1227.5" font-size="18.5" font-style="italic">Gzma</text>
<text x="1903" y="1328.9" font-size="18.5" font-style="italic">Tigit</text>
<text x="1903" y="1350.7" font-size="18.5" font-style="italic">Ccl4</text>
<text x="1903" y="1372.2" font-size="18.5" font-style="italic">Ccl3</text>
<text x="1903" y="1390" font-size="18.5" font-style="italic">Nr4a3</text>
<text x="1903" y="1407.6" font-size="18.5" font-style="italic">Prdm1</text>
<text x="1903" y="1426.8" font-size="18.5" font-style="italic">Pdcd1</text>
<text x="1903" y="1444.6" font-size="18.5" font-style="italic">Bhlhe41</text>
<text x="1903" y="1462.2" font-size="18.5" font-style="italic">Nfkb2</text>
<text x="1903" y="1478" font-size="18.5" font-style="italic">Il10</text>
<text x="1903" y="1495" font-size="18.5" font-style="italic">Casp3</text>
<text x="1903" y="1513.9" font-size="18.5" font-style="italic">Cd28</text>
<text x="1903" y="1533.1" font-size="18.5" font-style="italic">Havcr2</text>
<text x="1903" y="1554.1" font-size="18.5" font-style="italic">Sh2d2a</text>
<text x="1903" y="1574.5" font-size="18.5" font-style="italic">Hif1a</text>
<path d="M1858.5 942.2H1880L1897 921.4M1858.5 950.9H1880L1897 942.3M1858.5 985H1880L1897 968.7M1858.5 993H1880L1897 991.8M1858.5 1027.9H1880L1897 1011M1858.5 1036H1880L1897 1029.3M1858.5 1053H1880L1897 1053M1858.5 1190.6H1880L1897 1180.3M1858.5 1208.2H1880L1897 1218M1858.5 1351.8H1880L1897 1326.4M1858.5 1378.2H1880L1897 1348.2M1858.5 1386.2H1880L1897 1369.7M1858.5 1395.2H1880L1897 1387.5M1858.5 1403.7H1880L1897 1403.7M1858.5 1420.6H1880L1897 1420.6M1858.5 1429.5H1880L1897 1435.1M1858.5 1445.7H1880L1897 1452.7M1858.5 1454H1880L1897 1468.5M1858.5 1463.4H1880L1897 1485.5M1858.5 1506.3H1880L1897 1506.3M1858.5 1515.2H1880L1897 1523.6M1858.5 1524H1880L1897 1544.6M1858.5 1532.7H1880L1897 1565" fill="none" stroke="#222" stroke-width="0.9"/>
<defs><linearGradient id="gJ" x1="0" y1="0" x2="1" y2="0"><stop offset="0" stop-color="#da2a1f"/><stop offset="0.25" stop-color="#e58086"/><stop offset="0.48" stop-color="#fbfbfd"/><stop offset="0.52" stop-color="#fbfbfd"/><stop offset="0.75" stop-color="#a7b8e8"/><stop offset="1" stop-color="#4a68d6"/></linearGradient></defs>
<rect x="1644.2" y="1606" width="149.3" height="11.8" fill="url(#gJ)"/>
<text x="1577" y="1621" font-size="24.5">High</text>
<text x="1810.5" y="1621" font-size="24.5">Low</text>
</g>
<g id="p-i">
<text x="5" y="1676" font-size="34" font-weight="bold">i</text>
<rect x="65" y="1718" width="196.5" height="196" fill="#fff" stroke="#000" stroke-width="1.3"/>
<path d="M76 1914v6M134 1914v6M183 1914v6M231 1914v6M93.46 1914v3.2M103.67 1914v3.2M110.92 1914v3.2M116.54 1914v3.2M121.13 1914v3.2M125.02 1914v3.2M128.38 1914v3.2M131.35 1914v3.2M148.75 1914v3.2M157.38 1914v3.2M163.5 1914v3.2M168.25 1914v3.2M172.13 1914v3.2M175.41 1914v3.2M178.25 1914v3.2M180.76 1914v3.2M197.45 1914v3.2M205.9 1914v3.2M211.9 1914v3.2M216.55 1914v3.2M220.35 1914v3.2M223.56 1914v3.2M226.35 1914v3.2M228.8 1914v3.2M245.45 1914v3.2M253.9 1914v3.2M259.9 1914v3.2M65 1901h-6M65 1843.5h-6M65 1795h-6M65 1754h-6M65 1722h-6M65 1883.69h-3.2M65 1873.57h-3.2M65 1866.38h-3.2M65 1860.81h-3.2M65 1856.26h-3.2M65 1852.41h-3.2M65 1849.07h-3.2M65 1846.13h-3.2M65 1828.9h-3.2M65 1820.36h-3.2M65 1814.3h-3.2M65 1809.6h-3.2M65 1805.76h-3.2M65 1802.51h-3.2M65 1799.7h-3.2M65 1797.22h-3.2M65 1782.66h-3.2M65 1775.44h-3.2M65 1770.32h-3.2M65 1766.34h-3.2M65 1763.1h-3.2M65 1760.35h-3.2M65 1757.97h-3.2M65 1755.88h-3.2M65 1744.37h-3.2M65 1738.73h-3.2M65 1734.73h-3.2M65 1731.63h-3.2M65 1729.1h-3.2M65 1726.96h-3.2M65 1725.1h-3.2M65 1723.46h-3.2" fill="none" stroke="#000" stroke-width="1.15"/>
<rect x="101.5" y="1914.3" width="7" height="4.3" fill="#000"/>
<path d="M99 1914v4M111 1914v4" fill="none" stroke="#000" stroke-width="1"/>
<rect x="60.4" y="1868.5" width="4.3" height="7" fill="#000"/>
<path d="M65 1866h-4M65 1878h-4" fill="none" stroke="#000" stroke-width="1"/>
<path d="M188.7 1760.5l1.8-.7 2-.2 2 .2 2 .7 1.3 1 .8 1 .4 2-.2 1-1.3 1.6-2 1-3 .1-2.5-.7-1.6-1-1.6-2-.2-1 .2-1 .6-1zM120.4 1862.5l1.1-.3 1 .2 1 1.1 0 1.4-1 1.6-1 .3-1-.1-1.2-1.2-.1-1 .2-1zM189.2 1757.5l3.3-.3 3 .3 3 1.2 2 1.5 1.3 2.3 .3 2-.5 2-1.4 2-1.7 1.2-2 .8-4 .2-4.6-1.2-3.4-2.2-1-1.1-.8-1.7-.1-1 .6-2 .7-1 1.6-1.4 2-1.1zM119.3 1861.5l1.2-.7 2-.1 1 .5 1 1.1 .4 1.2-.1 2-1.3 2-1 .6-2 .2-1-.4-1-.9-.7-1.5 0-1 .6-2zM189.3 1755.5l4.2-.2 4 .7 3 1.4 2.4 2.1 1.4 3 .1 3-1.3 3-1.9 2-1.7 1.1-3 1-2 .2-3-.1-4-1-2.9-1.2-2.1-1.2-2-1.8-.6-1-.6-2 .2-2 1-2 1.8-2 1.4-1 2.8-1.3zM118.9 1860.5l1.6-.8 2-.1 2 .9 .8 1 .7 2-.1 2-1 2-1.4 1.3-1 .4-2 .2-2-.9-1-1-.7-2 .1-2 .6-1.5zM186 1754.5l4.5-.9 5 .2 3 .7 2 .7 3 2 1.2 1.3 1.2 2 .7 3-.2 2-.5 2-1.9 3-2.3 2-2.2 1.1-3 .8-4 .2-4-.5-4-1.2-3.3-1.4-3-2-1.6-2-.6-2 .2-2 .8-2 1.3-2 2.2-2.1 3-1.9zM118.7 1859.5l2.8-1 2 .3 2 1.3 .9 1.4 .6 2-.5 3-1.3 2-1.7 1.3-2 .6-2-.3-2-1.2-1.1-1.4-.6-2 .1-2 .8-2zM189.1 1752.5l5.4-.1 5 .9 2 .8 2.4 1.4 1.6 1.5 1.2 1.5 .9 2 .5 2 0 2-.3 2-.7 2-1.2 2-1.4 1.5-2 1.6-3 1.5-3 .8-3 .2-4-.3-5-1.1-5-1.6-3-1.6-2.1-2-.9-2 0-3 .7-2 1.9-3 2.4-2.4 3-2.1 4-1.7zM134 1779.5l1.5-.7 1 0 1.4 .7 1 1 .6 1.2 .1 1.8-1.2 2-1.9 .9-1 0-1-.3-1-.8-.9-1.8 0-1 .5-2zM119.1 1858.5l2.4-.7 2 .2 1 .4 2 1.8 1 2.3 0 3-.7 2-1.7 2-2.6 1.4-2 .1-2-.5-2-1.7-1.2-2.3 0-3 .7-2 1.5-2zM188.1 1751.5l5.4-.4 6 .9 3 1.1 2 1.2 1.6 1.2 1.7 2 1 2 .6 2 .2 2-.4 3-.7 2-1.1 2-1.6 2-2.3 2-3 1.6-3 .9-3 .4-4-.1-6-.9-7-1.8-3-1.3-2.2-1.8-.8-1.4-.5-1.6 0-3 1.1-3 2.1-3 3-3 3.3-2.3 4-1.8zM133.1 1777.5l1.4-.7 1-.2 2 .3 2.4 1.6 1.4 2 .5 2-.2 2-1.2 2-1.9 1.4-2 .7-2-.2-1.8-.9-1.2-1.5-.8-2.5 .1-2 .7-2.1zM120 1857.5l2.5-.3 2 .5 1 .6 1.9 2.2 .8 3-.4 3-1.3 2.4-2 1.8-3 .9-3-.5-2-1.4-1.4-2.2-.5-2 .3-3 1-2 1.6-1.7zM187.5 1750.5l3-.4 4 0 6 .9 3 1.2 2.2 1.3 2.3 2 1.5 2 .8 2 .6 3 0 2-.7 3-1.3 3-1.4 1.9-2 2-2 1.5-3 1.4-4 1.1-4 .3-4-.2-10-1.4-4-.8-3-1.4-2-2.2-1-3.2 .2-3 1-3 2.7-4 2.9-3 4.2-3 4-1.9zM133.3 1775.5l2.2-.5 3 .6 2.6 1.9 2 3 .5 3-.5 2-1.6 2.3-3 1.9-3 .6-2-.4-2-1.2-1.4-2.2-.7-3 .3-3 1.3-3 .9-1zM118.5 1857.5l3-.9 3 .4 2.2 1.5 .8 1 .9 2 .3 3-.7 3-1.5 2.2-1 .9-2 1.2-3 .4-2-.5-2-1.2-1-1.1-1-1.9-.5-3 .7-3 1.8-2.5zM187.1 1749.5l6.4-.6 6 .7 5 1.6 2.2 1.3 1.8 1.4 1.4 1.6 1.2 2 1.1 4 .1 2-.4 3-1.1 3-1.1 2-2.2 2.7-3 2.4-4 2-4 1-5 .4-17-.6-3-.4-2-.8-1-.8-1.4-1.9-.7-2-.4-2 .1-3 .4-2 1.8-4 3.2-4 5-4.4 5-2.9zM135.3 1773.5l3.2 .6 2 1.1 1.6 1.3 2.3 3 .8 2 .2 2-.9 3-2 2.4-3 1.9-2 .7-2 .3-3-.5-2-1.6-1-1.4-.8-1.8-.5-3 .5-4 1.4-3 2.4-2.2zM119.4 1856.5l3.1-.5 3 .8 1 .7 1.7 2 1 3 .1 2-.4 2-1.4 2.8-2 2-3 1.3-3 0-2.5-1.1-2.1-2-1.2-3-.1-3 1.1-3 1.8-2.3zM187.1 1748.5l6.4-.6 4 .2 3 .5 5.3 1.9 2.7 1.7 1.5 1.3 1.6 2 1.1 2 .9 4 0 2-.5 3-1 3-1.1 2-2.3 3-3.2 2.7-3 1.8-4 1.4-6 .8-12 .2-9 1.4-2-.1-2-.6-2-1.5-.7-1.1-.8-2-.5-3 0-3 .5-3 .9-3 1-2 2.1-3 1.8-2 5.9-5 5.8-3.3zM133.5 1772.5l2-.3 2 .3 2 .7 2.1 1.3 2.3 2 1.6 2 1.1 2 .5 2-.3 3-1.1 2-1.2 1.4-1.9 1.6-2.1 1.2-4 1.4-3 0-2-.8-1-.7-2-2.7-1.1-3.4-.1-4 1.2-4.3 2-2.9 1-.8zM121.2 1855.5l1.3-.1 2 .3 1.6 .8 1.4 1.2 1.7 2.8 .5 2 0 2-.3 2-.8 2-2.1 2.6-3 1.8-3 .3-3-.8-2.4-1.9-1.7-3-.4-3 .7-3 1.8-3 3-2.2zM187.1 1747.5l6.4-.6 4 .2 3 .4 3 .8 3 1.1 2 1.1 2.5 2 1.7 2 1.1 2 .7 2 .4 3-.2 3-.6 3-1.3 3-1.1 2-2.5 3-2.7 2.3-4 2.4-4 1.3-5 .9-12 .9-9 2.6-3 .5-2-.1-2-.4-2.7-1.4-1.3-1.2-1.1-1.8-.3-2 0-2 .8-5 1-4 1.2-3 1.7-3 4.3-5 6.4-5.1 6-3.3zM132.8 1771.5l2.7-.5 2 .3 2 .6 2.8 1.6 2.5 2 2.8 3 1.3 2 .6 2 0 1-.5 2-1.2 2-1.8 2-2.6 2-2.9 1.6-3 1.1-2 .4-3-.2-1.8-.9-1.2-1-1.9-3-1.1-4 .1-5 1.2-4 2-3 1.7-1.4zM119.2 1855.5l3.3-.7 3 .6 1.6 1.1 1.4 1.6 1.5 3.4 .2 2-.1 2-.6 2-1 2-1 1.3-2 1.6-3 1.2-3 0-3-1.2-1.1-.9-1.6-2-1.1-3-.1-2 .2-2 1.4-3 2.3-2.5zM187.8 1746.5l3.7-.4 4-.1 4 .3 4 .9 4 1.5 3 1.7 2.4 2.1 1.4 2 1.3 3 .5 3-.1 3-.8 4-1.2 3-1.8 3-2.6 3-2.1 1.8-4 2.4-4 1.6-5 1-12 1.4-3 .9-7 2.7-3 .6-3 0-2.4-.4-3.1-1-4.5-2-2-.5-2 .8-5.6 4.7-3.4 2.2-4 2-4 1.1-2 .2-2-.5-1.6-1-1.4-1.5-1.5-2.5-1-3-.4-3 .1-3 .5-3 1.1-3 1.3-2 1.9-1.9 2-1.1 2-.5 2 .1 2 .4 2.4 1 2.6 1.5 8 6 2 .6 1-.4 1.6-1.7 1.4-2.5 2.6-6.5 1.9-4 2-3 2.6-3 4.9-4.3 6-4 5-2.4zM121 1854.5l1.5-.2 2 .2 2 .9 1 .7 1.2 1.4 1.1 2 .6 2 .2 2-.6 4-1.7 3-2.8 2.4-2 .9-2 .3-2-.1-2-.6-2.7-1.9-2-3-.6-3 0-2 .5-2 1.7-3 1.1-1.2 2-1.5zM187.8 1745.5l4.7-.5 4 0 4 .4 4 .8 4 1.5 3 1.7 2.6 2.1 1.5 2 1.3 3 .5 3 0 4-.6 3-1.1 3-1.5 3-2.2 3-3.1 3-3.4 2.4-5 2.2-5 1.3-12 1.9-3 1-7 3-3 .8-5 .2-9-1.8-3-.1-3 .9-9 4.9-6 2.1-2 .3-2-.2-2-1.3-1-1-1.7-2.6-1.2-3-.6-3-.2-4 .5-4 1-3 1.2-2.1 2-2.4 2-1.3 2-.7 2-.2 2 .3 4 1.4 8 4.2 2 .4 1-.2 2-1.3 1-1.1 4.6-8 2.1-3 2.7-3 3.3-3 5.3-3.9 5-3 4-1.8zM128.2 1818.5l.3-.4 1.1 .4 .4 2 0 3-.7 5-.8 2-1 .5-.9-2.5-.1-3 .8-5zM119.1 1854.5l2.4-.7 2-.1 2 .4 1 .5 1.2 .9 1.6 2 1 2 .6 2 .1 4-.6 2-.9 2-1.5 2-1.5 1.3-2 1.1-2 .6-2 .1-2-.3-3-1.5-1.4-1.3-1.3-2-1-3-.1-2 .2-2 1.2-3 2.4-2.9 2-1.4zM187.6 1744.5l3.9-.5 5-.2 4 .4 4 .8 4 1.2 4 2 3 2.3 1.5 2 1.4 3 .5 3 0 4-.7 4-1.5 4-1.8 3-2.3 3-2 2-4.1 3.1-5 2.4-5 1.4-12 2.5-10 4.2-3 .9-3 .4-3 .1-10-1.4-3 0-4 1.2-8 3.7-6 2.4-2 .4-1-.1-2-1.1-2-2.5-2-4-1.1-3.6-.5-4 .2-4 .9-4 1.5-3.3 2.1-2.7 1.9-1.5 2-.9 2-.4 2 .1 4 1 7 3 2 .4 2-.2 2-1.2 1-1 5.1-7.3 2.5-3 3.1-3 3.3-2.6 5-3.5 5-2.9 4-1.7zM128.5 1812.5l1-.5 1 .7 .4 .8 .8 3 .2 5-.4 5-1 5.2-1 2.8-1 1.4-1 .5-1-.5-1.2-2.4-.4-3-.1-4 .5-5 .8-4 1.4-3.7zM120.3 1853.5l2.2-.5 2 0 2 .7 1 .7 2.5 3.1 .9 2 .6 3-.1 3-.5 2-.8 2-1.5 2-3.1 2.5-2 .8-2 .3-2-.1-2-.6-3-1.9-2.3-3-.7-2-.3-2 .1-2 .4-2 1.8-3.4 3-2.8zM186.9 1743.5l4.6-.7 4-.2 4 .2 4 .6 4 1 4 1.4 3.2 1.7 2.5 2 1.5 2 1.4 3 .5 3 .1 3-.5 4-.8 3-1.2 3-1.7 3-3.2 4-3.8 3.5-4 2.5-5 2.2-15 3.7-10 4.4-5 1.5-6 .3-11-1.1-4 .5-8.8 3.5-5.6 3-2.5 2-.8 1-.2 1 1.3 8 .3 5-.4 7-1.1 7-1.2 4-1 2-1 1.2-1 .4-1-.2-1-1-.7-1.4-.9-3-.4-4 .1-5 .8-6 1.1-5.2 1-3 2.8-5.8 .2-1-.5-2-3.5-7.4-1.4-3.6-.8-4-.3-4 .2-3 .9-4 1.1-3 1.2-2 1.1-1.5 2-1.7 2-1.1 3-.7 4 .3 9 2.9 3-.2 1.7-1 1.3-1.1 7.5-8.9 6.5-5.4 6-4 4-2.3 5-2.1zM121.4 1852.5l2.1-.4 2 .2 2 1.1 1 .9 1.6 2.2 1 2 .8 3 .2 3-1 4-1.1 2-1.6 2-1.9 1.5-2 1-2 .5-2 .1-2-.3-2-.7-3-2.3-1.3-1.8-.9-2-.5-2-.1-2 .2-2 .6-2 2-3.3 2-1.9 2-1.3zM190.8 1741.5l7.7-.3 4 .4 4 .8 4 1.1 4 1.5 2.7 1.5 2.3 2 1.5 2 1.3 3 .5 3 0 3-.5 4-1 4-1.3 3-1.6 3-3 4-4.2 4-4.7 3.1-5 2.3-15 4.4-10 4.5-4 1.4-3 .6-4 .3-12-.9-4 .3-6.4 2-2.6 1.2-2.8 1.8-1.9 2-1.1 3-.5 16-.9 7-1 5-1.3 4-1.5 2.9-1 1.1-1 .5-1 0-1-.8-1-1.6-1-2.5-1-4.6-.2-4 .1-5 .7-6 1.1-6 1.8-7 .2-3-.4-3-3.2-10-.6-4 0-4 .3-3 .9-4 1.2-3 1.1-1.9 2-2.4 2-1.6 2-1 2-.5 4 0 9 2.1 3-.4 3-2 6-6.3 3.3-3 4.7-3.4 6-3.9 5-2.8 4-1.7 5-1.5zM121.5 1851.5l2-.7 2-.1 1 .2 2 1.8 2 2.9 1.3 2.9 .6 2 .3 3-.3 3-.6 2-1 2-1.5 2-1.8 1.6-2 1.2-2 .7-3 .3-2-.3-2-.7-2-1.2-1.7-1.6-1.3-2-.9-2-.5-4 .7-4 1-2 1.5-2 3.2-2.7zM192.7 1739.5l3.8-.2 4 .1 5 .7 5 1.1 5 1.5 3 1.4 2.2 1.4 2.1 2 1.3 2 .9 2 .6 3 .1 3-.4 4-1 4-1.4 4-1.5 3-3.5 5-5.1 5-5.3 3.7-6 2.7-13 4.3-11 5.1-5 1.7-4 .7-4 .4-12-.6-4 .2-5 1.4-2 1-2 1.4-2 2.8-.9 3.2-1.4 16-1.6 10-1.5 5-2.8 7 .1 2 2.6 6 1.3 4 .2 4-.6 3-1.2 3-1.4 2-2 2-2.8 1.7-2 .6-3 .3-2-.3-3-1.1-2.8-2.2-2.1-3-1.1-3-.2-4 1.1-4 2.1-3.4 3-2.6 6.6-4 .9-1 .5-1-.1-2-2.1-9-.4-7 .7-8 2.2-14 .2-4-.3-3-2.6-10-.5-6 .3-4 .7-4 .9-3 1.3-3 1.7-2.5 2-2 2-1.3 3-1.2 4-.4 9 1.3 3-.6 3-1.9 5.8-5.4 3.8-3 13.4-8.4 4-2 5-1.8 5-1.2zM189 1737.5l4.5-.7 5-.2 5 .3 6 1 6 1.3 4 1.3 3 1.5 3 2.3 1.9 2.2 1.6 3 .8 3 .1 3-.4 4-.9 4-1.3 4-1.8 4-1.8 3-2.2 3-5 5.3-6 4.6-7 3.6-11.9 4.5-13.1 6.2-6 2.2-5 1-5 .6-15 0-3.7 1-2.3 1.5-1 1.1-1 1.8-1 3.6-2.8 20-1 5-2.6 10 .1 3 1.8 6 .6 3 0 3-.8 4-.8 2-2 3-2.5 2.3-2 1.2-3 1-2 .3-3-.3-3-1-3.5-2.5-2.2-3-1.4-4-.2-4 .9-4 1.6-3 2.8-3 5.4-4 .9-1 .8-2 0-2-1.2-9-.1-6 .5-7 1.6-14 .1-4-.5-4-1.9-9-.4-7 .4-5 .7-4 .9-3 1.4-3 1.4-2.3 2-2.4 2-1.7 2-1.2 2-.8 3-.6 9 .2 2-.3 2-.7 2-1.2 9.4-7 14.6-8.5 7-3.2 5-1.5zM193.6 1732.5l4.9-.4 5 .2 8 1 7 1.3 4 1.3 4 1.8 3 2 3 2.8 2.2 3 1.4 3 .8 3 .1 3-.6 4-1.4 5-1.9 5-2 4-4 6-6.6 6.8-6 4.9-7 4-13.6 6.3-12.4 6.3-8 3.2-7 1.9-6 1-5 .5-9 .3-2 .7-1 .7-1 1.2-1 2-1 3.4-2.7 15.8-2.5 12-.1 4 1.1 6 .3 4-.5 4-1 3-1.7 3-1.9 2.3-3 2.4-2 1-3 .9-4 .1-3-.7-3-1.4-3.2-2.6-2.2-3-1.5-4-.4-2 0-3 .8-4 2-4 2.5-3 4.4-4 .7-1 .7-2 .1-2-.6-8-.1-5 1.1-16 .1-6-.5-4-2.1-10-.4-7 .7-7 1.1-6 1.2-4 1.9-4 2.1-3 2.6-2.7 2-1.5 3-1.7 4-1.3 8-1.1 3-.9 12-7.1 19-9.5 8-3 6-1.5z" fill="none" stroke="#242424" stroke-width="0.6" stroke-linejoin="round"/>
<path d="M73.8 1781.3h0M157.7 1825.2h0M213.5 1810.8h0M237.8 1759.8h0M197.8 1726.1h0M107.7 1851.8h0M114.9 1801.5h0M146.8 1743.2h0M125 1760.9h0M210.4 1722.3h0M226.3 1782.4h0M115 1811.2h0M107.7 1806.3h0M199.5 1801.5h0M218.3 1805.5h0M138.9 1755.5h0M179 1828.6h0M239.1 1762.6h0M245.6 1810.2h0M116.2 1829.2h0M140.6 1737.1h0M228.9 1730.9h0M239.1 1779h0M105.6 1870.5h0M207.4 1726h0M243.6 1762.1h0M233.7 1789.2h0M191.1 1733h0M244.9 1749.7h0M187.2 1732.1h0M109.6 1822.2h0M217.7 1720.8h0M141.8 1857.6h0M238.4 1761.1h0M227.6 1734.2h0M143.4 1820.2h0M110.7 1879.1h0M198.7 1811.1h0M238.4 1786.3h0M251.4 1752.8h0M117.7 1811.4h0M187 1807.8h0M110.3 1783h0M249 1767h0M140.9 1867.1h0M119.6 1756.8h0M166.2 1737.5h0M243 1762.9h0M141.7 1871.2h0M179.6 1730.1h0M110.5 1847.6h0M175.2 1735.9h0M105.5 1860h0M137.5 1755.3h0M223.9 1782.9h0M196 1807.9h0M186.8 1822.1h0M219 1727.1h0M213.9 1731.6h0M212.5 1728.4h0M115 1880.6h0M247.5 1740.9h0M109.9 1793h0M172.8 1724.7h0M149.2 1816.7h0M230.5 1739.5h0M204.1 1809.7h0M205.9 1728.2h0M238.5 1749.4h0M247.1 1744.3h0" fill="none" stroke="#555" stroke-width="1.1" stroke-linecap="round"/>
<line x1="143.7" y1="1718" x2="143.7" y2="1914" stroke="#000" stroke-width="1.3"/>
<line x1="65" y1="1830.7" x2="261.5" y2="1830.7" stroke="#000" stroke-width="1.3"/>
<text x="75" y="1743" font-size="22.6">17.8</text>
<text x="252.5" y="1743" font-size="22.6" text-anchor="end">69.2</text>
<text x="75" y="1900.5" font-size="22.6">12.3</text>
<text x="252.5" y="1900.5" font-size="22.6" text-anchor="end">0.70</text>
<text x="163.7" y="1702.3" font-size="26" text-anchor="middle" fill="#808080">Control</text>
<rect x="272.6" y="1718" width="197.4" height="196" fill="#fff" stroke="#000" stroke-width="1.3"/>
<path d="M283.6 1914v6M341.6 1914v6M390.6 1914v6M438.6 1914v6M301.06 1914v3.2M311.27 1914v3.2M318.52 1914v3.2M324.14 1914v3.2M328.73 1914v3.2M332.62 1914v3.2M335.98 1914v3.2M338.95 1914v3.2M356.35 1914v3.2M364.98 1914v3.2M371.1 1914v3.2M375.85 1914v3.2M379.73 1914v3.2M383.01 1914v3.2M385.85 1914v3.2M388.36 1914v3.2M405.05 1914v3.2M413.5 1914v3.2M419.5 1914v3.2M424.15 1914v3.2M427.95 1914v3.2M431.16 1914v3.2M433.95 1914v3.2M436.4 1914v3.2M453.05 1914v3.2M461.5 1914v3.2M467.5 1914v3.2M272.6 1901h-6M272.6 1843.5h-6M272.6 1795h-6M272.6 1754h-6M272.6 1722h-6M272.6 1883.69h-3.2M272.6 1873.57h-3.2M272.6 1866.38h-3.2M272.6 1860.81h-3.2M272.6 1856.26h-3.2M272.6 1852.41h-3.2M272.6 1849.07h-3.2M272.6 1846.13h-3.2M272.6 1828.9h-3.2M272.6 1820.36h-3.2M272.6 1814.3h-3.2M272.6 1809.6h-3.2M272.6 1805.76h-3.2M272.6 1802.51h-3.2M272.6 1799.7h-3.2M272.6 1797.22h-3.2M272.6 1782.66h-3.2M272.6 1775.44h-3.2M272.6 1770.32h-3.2M272.6 1766.34h-3.2M272.6 1763.1h-3.2M272.6 1760.35h-3.2M272.6 1757.97h-3.2M272.6 1755.88h-3.2M272.6 1744.37h-3.2M272.6 1738.73h-3.2M272.6 1734.73h-3.2M272.6 1731.63h-3.2M272.6 1729.1h-3.2M272.6 1726.96h-3.2M272.6 1725.1h-3.2M272.6 1723.46h-3.2" fill="none" stroke="#000" stroke-width="1.15"/>
<rect x="309.1" y="1914.3" width="7" height="4.3" fill="#000"/>
<path d="M306.6 1914v4M318.6 1914v4" fill="none" stroke="#000" stroke-width="1"/>
<rect x="268" y="1868.5" width="4.3" height="7" fill="#000"/>
<path d="M272.6 1866h-4M272.6 1878h-4" fill="none" stroke="#000" stroke-width="1"/>
<path d="M323.4 1864.5l1.7-.7 1 0 1.6 .7 .9 1 .5 1 0 2-.5 1-.9 1-1.6 .7-1 0-1.7-.7-.9-1-.5-1 0-2 .5-1zM323.9 1861.5l2.2-.2 2 .6 2 1.6 1.2 2 .2 3-.7 2-1.7 1.9-2 1-2 .2-2-.5-2-1.5-1.2-2.1-.3-3 .7-2 1.6-2zM324.2 1858.5l1.9-.1 2 .5 2.7 1.6 1.3 1.3 1.1 1.7 .9 3-.2 3-1.3 3-2.5 2.4-3 1.2-2 .1-2-.3-2.7-1.4-1.3-1.2-1.2-1.8-.9-3 .2-3 1.2-3 2.7-2.8zM393 1763.5l2.1-.7 3-.3 2 .4 2 .9 1.5 1.7 .4 2-.5 2-1.2 2-2.5 2-1.7 .7-2 .3-3-.5-2.7-1.5-1.3-2-.2-1 .2-2 1.2-2zM330.4 1797.5l.7-.8 1-.2 .7 1 .2 1-.6 2-1.3 .8-1-.8-.1-2zM321.7 1858.5l1.4-.6 2-.3 3 .4 2 1 1.8 1.5 2.1 3 .8 3 0 2-.4 2-1 2-1.3 1.6-3 2.1-2 .6-2 .1-3-.6-3-2-2-2.8-.8-3 0-2 .4-2 1.5-3 1.9-2zM395.5 1760.5l4.6-.2 2 .4 2 .8 2.2 2 .5 1 .3 2-.3 2-.9 2-2.4 3-3.4 2.2-2 .6-2 .2-4-.5-3.1-1.5-2-2-.5-1-.4-2 .7-3 1.2-2 1-1 3.1-2zM331.1 1793.5l1-.2 1 .3 1 .9 .9 2 .1 2-.7 3-1.3 2-1.3 1-1.7 .3-1-.6-.9-1.7-.4-3 .3-2 .8-2 1.2-1.4zM323.3 1857.5l2.8-.3 2 .5 2 1 3 2.8 1.2 2 .6 2 .2 2-.2 2-1.2 3-2.6 2.8-2 1.2-2 .6-2 .1-2-.3-3-1.4-1.2-1-1.6-2-1.1-3-.2-2 .2-2 1-3 1.4-2 1.5-1.4 2-1.2zM396.1 1758.5l3-.3 3 .2 4 1.2 2 1.3 1.3 1.6 .7 2 0 2-.5 2-1.7 3-1.6 2-2.3 2-1.9 1.2-3 1.2-2 .3-3 0-4-.9-3.4-1.8-1.6-1.6-.9-1.4-.5-3 .3-2 .9-2 2.3-3 1.9-1.5 2-1zM330.8 1791.5l1.3-.3 1 .2 1 .5 1 .9 1.3 2.7 .2 3-.6 3-1.5 3-2.4 2.4-2 .6-1-.2-1-.8-1-1.7-.6-2.3-.1-3 .6-3 .8-2 1.3-1.9zM322.2 1857.5l2.9-.7 2 .2 2 .7 2 1.3 1.6 1.5 1.4 2 .9 2 .4 2 0 2-.4 2-.9 2-1 1.4-1.7 1.6-3.3 1.6-2 .4-2-.1-3-.9-1.5-1-1.5-1.4-1.1-1.6-.9-2-.4-3 .1-2 .6-2 1.1-2 1.6-1.9zM399.4 1756.5l3.7 .1 4 .9 3 1.6 2 1.9 1 2.5 0 2-.9 3-1.8 3-2.6 3-2.7 2.2-3 1.7-3 1-3 .4-4-.3-4-1.1-3.4-1.9-1.6-1.6-.9-1.4-.7-3 .2-2 .6-2 1.7-3 3-3 3.1-1.8 4-1.4zM332.1 1789.5l1 .1 1.9 .9 1.6 2 1.1 3 .1 4-1.2 4-1.8 3-2.7 2.5-2 .8-1 .1-1-.4-1-1-1-2-.8-4 .1-4 1-4 1.7-2.8 2-1.6zM323.9 1856.5l2.2-.1 2 .4 3 1.8 2.8 2.9 1.1 2 .6 2 .2 2-.2 2-.7 2-1.1 2-2.7 2.6-2 1-2 .6-3 0-2-.5-2-.9-2.9-2.8-1-2-.7-2-.2-2 .2-2 .6-2 1-2 1.6-2 1.4-1.2 2-1.2zM395.2 1755.5l3.9-.6 4-.1 4 .5 3 1 2.4 1.2 2.5 2 1.2 2 .4 2-.3 2-1.4 3-2.9 4-2.9 3-3 2.4-3 1.7-3 1.1-4 .5-3-.1-3-.5-3-.8-3-1.4-2-1.4-1.4-1.5-1-2-.4-2 0-2 .9-3 1.7-3 1.6-2 2.3-2 2.3-1.5 3-1.4zM329.9 1788.5l1.2-.4 2-.1 1.5 .5 1.5 1 1.5 2 .9 2 .4 2 .1 3-.7 4-2.2 4.4-2 2.5-2 1.7-2 1.1-1 .3-1-.1-1-.6-1.5-2.3-1.1-4-.4-5 .6-4 1.4-3.9 2-2.8zM322.3 1856.5l1.8-.6 2-.1 2 .6 2 1 2 1.5 1.5 1.6 1.3 2 .8 2 .4 2 0 2-.4 2-.9 2-1.4 2-1.3 1.3-2 1.3-2 .7-2 .4-2-.1-2-.5-2-.9-1.5-1.2-1.5-1.6-1.7-3.4-.3-4 .3-2 .7-2 1.2-2 1.8-1.9zM399.1 1753.5l5-.2 5 .6 4.7 1.6 3.3 2 1.9 2 .6 1 .4 2-.6 3-1.7 3-4.3 5-4.3 3.9-4 2.7-4 1.6-5 .8-5-.3-6-1.5-4.2-2.2-1.8-1.6-1-1.4-.7-2-.2-2 .7-4 1.5-3 1.3-2 3.4-3.4 4-2.6 5-1.8zM329.1 1787.5l2-.8 2-.1 2 .6 1.7 1.3 1.6 2 .9 2 .6 2 .2 3-.7 5-1.2 3-1.1 2-2 2.6-3 3-2 1.5-2 .8-1-.2-1-.9-1.6-3.8-1.1-5-.2-5 .5-4 1.3-4 1.9-3zM323.8 1855.5l2.3-.2 2 .5 2 1.1 2 1.5 1.9 2.1 1.2 2 .8 2 .4 2 0 2-.4 2-.8 2-1.1 1.7-3 2.7-2 1-2 .5-4-.1-2-.7-2-1.2-1.9-1.9-1.3-2-1.2-4 0-2 .4-2 .7-2 1.1-2 1.2-1.5 2-1.7 2-1.2zM398.2 1752.5l4.9-.5 5 .3 5.3 1.2 4.8 2 2.7 2 1.2 1.5 .7 1.5 .1 3-1.3 3-4.1 5-6.4 5.8-4.6 3.2-4.5 2-4.9 1-6-.2-7-1.6-4.6-2.2-1.4-1.1-1.6-1.9-.8-2-.3-2 .6-4 .8-2 1.7-3 3.4-4 4.2-3.1 5-2.2zM331.4 1785.5l1.7-.1 2 .6 2 1.3 1.8 2.2 1 2 .9 3 .1 5-1.3 5-2.5 4.6-3 3.6-7 6.8-1-.4-1-2.4-1.9-7.2-.8-6 .2-5 1.2-5 2-4 2.3-2.5 2-1.2zM325.1 1826.5l1-.6 .6 1.6 .5 2 .3 4-.4 4.3-1 2.2-1 .5-1-.9-.4-1.1-.5-4 .7-5zM322.4 1855.5l1.7-.6 2-.1 2 .6 2 1.1 2 1.5 2 2.1 1.5 2.4 .7 2 .4 2-.1 3-.6 2-1 2-1.7 2-1.2 1.1-2 1.2-2 .7-2 .3-2-.1-2-.4-2-.9-2-1.5-1.3-1.4-1.3-2-.7-2-.4-4 1-4 1.1-2 1.6-1.9 2-1.8zM397.9 1751.5l6.2-.6 5 .2 6.5 1.4 5 2 2.8 2 .9 1 1.1 2 .3 3-1 3-1.3 2-2.7 3-7.9 7-5.7 3.8-5 2.2-3 .8-3 .3-6-.3-7.6-1.8-3.4-1.4-2-1.3-1.4-1.3-1.3-2-.7-2-.1-2 .2-2 1-3 2.9-5 3.7-4 4.7-3.2 5-2.1zM331 1784.5l2.1-.1 2 .5 2 1.2 2.2 2.4 1.2 2 1 3 .3 3-.1 3-1.2 5-1.9 4-2.5 3.4-4.8 5.6-1.8 3-.9 4 .1 9-.4 5-1.2 3.5-1 1.3-1 .3-1-.5-1-1.5-1-4.1 0-5.1 1.5-8.9 .3-3-.3-4-1.7-10-.1-7 .9-5 1.1-3 1-2 1.5-2 1.8-1.7zM323.6 1854.5l1.5-.4 2 .4 2 .9 2 1.3 2 1.8 1.6 2 1.2 2 .9 3 .2 3-.4 2-.7 2-1.3 2-1.5 1.6-2 1.4-2 1-2 .5-2 .1-2-.2-2-.7-2-1.1-1.8-1.6-1.6-2-.9-2-.5-2-.2-3 .3-2 1.8-4 2.9-3.3 3-2.1zM396.8 1750.5l6.3-.9 6 0 7 1.2 6 1.9 2 1.1 2 1.6 1 1.2 1 1.9 .5 3-.3 2-.8 2-1.4 2.2-2.6 2.8-8.5 7-6.9 4.6-6 2.6-6 1.1-4-.1-4-.4-8-1.9-3-1.2-2-1.3-1.6-1.4-1.3-2-.6-2-.2-2 .2-2 .9-3 2.7-5 2.4-3 2-2 4.5-3.4 6-2.8zM330.1 1783.5l2-.4 3 .5 2 1.1 2.1 1.8 1.4 2 1.4 3 .7 3 .1 4-.9 5-1.6 4-2.5 4-5.5 7-1.5 3-.8 4-.3 10-.6 4.7-1 3.3-1 1.7-1 1-1 .2-1-.4-1-1.1-.7-1.4-1-3-.4-3 .1-5.9 1.3-12.1-1.4-14 0-6 1.1-6 2-4.6 1.7-2.4 1.3-1.3zM323.9 1853.5l1.2-.3 1 .1 2 .8 3 2.1 2 1.8 2.7 3.5 .9 2 .6 3-.3 4-.8 2-1.2 2-1.8 2-2.1 1.5-2 .9-2 .4-3 .1-2-.4-2-.9-2-1.3-1.3-1.3-1.5-2-.9-2-.6-3 0-2 .6-3 1.7-3.5 2-2.4 2-1.8 2-1.4zM401 1748.5l7.1-.4 7 .7 7 1.7 4.2 2 1.8 1.4 1.4 1.6 1.1 2 .5 2 .1 2-.3 2-.8 2-1.1 2-1.9 2.3-3 2.7-10 7.4-7 4.2-6 2.2-3 .6-4 .2-9-.8-8-1.9-3-1.3-2.3-1.6-1.6-2-.8-2-.3-2 .2-3 .8-3 1.3-3 1.9-3 2.4-3 4.4-4.1 3-2.1 3-1.6 7-2.6zM329.3 1782.5l2.8-.7 2 .2 3 1.2 2 1.5 2.3 2.8 1.5 3 .8 3 .3 4-.7 5-1.8 5-2.4 4-5.3 7-1.9 4-.8 4-.5 10-.7 5-1.8 5.2-2 3.4-.5 .4 .5 .3 .3 .7 6.7 5.9 2.5 3.1 1.1 2 .9 3 .1 3-.3 2-.7 2-1.2 2-2.4 2.6-2 1.3-2 .9-4 .5-3-.4-2-.8-2-1.3-1.8-1.8-1.4-2-.9-2-.5-2-.1-3 .9-4 1.6-3 2.2-2.6 5-4.4 1.7-2-1.7-2.4-1.7-3.6-.8-3-.5-3 0-6 1.1-13-1.1-14 0-5 .8-6 1.8-5 2.6-4 1.8-1.7zM406.1 1746.5l8 .3 8 1.4 3 1 2.6 1.3 2.4 1.7 1.3 1.3 1.4 2 .8 2 .3 2-.2 3-.9 3-1.1 2-3.3 4-6.4 5-9.9 6.5-6 3.1-6 1.9-4 .5-4 .1-11-1-4-.7-4-1.1-2-.9-2-1.4-1.6-2-1.1-3-.2-3 .5-3 1-3 2-4 2.1-3 3.3-3.7 3-2.7 3-2.2 3-1.7 4-1.8 9-2.7 5-.9zM330.8 1780.5l2.3-.2 3 .8 3 1.8 2.5 2.6 2 3 1.2 3 .6 3 0 4-1 5-2 5-2.4 4-5.2 7-1.8 4-.8 4-1 13-2.5 10 .6 2 5.5 6 2 3 1.2 4 .2 2-.3 3-.7 2-1.1 2-1.7 2-1.3 1.2-2 1.2-2 .8-2 .5-3 0-2-.3-2-.8-2.5-1.6-2-2-1.2-2-.9-2-.6-3 0-2 .6-3 1.2-3 2.2-3 4.4-5 .6-2-2-7-.8-6 0-5 .9-13-1-16 .2-4 .5-4 1.8-6 2.3-4 1.3-1.6 2-1.8 2-1.1zM399.8 1745.5l4.3-.6 4-.3 5 .1 5 .5 7 1.6 3 1.2 3 1.6 2.3 1.9 1.7 2 1 2 .6 2 .1 2-.3 3-1 3-1.6 3-1.8 2.4-2.6 2.6-7.4 5.4-12 7.2-4 1.8-4 1.4-4 .8-4 .4-15-.5-8-.8-3-1-2-1.1-2-2.3-.9-2.3-.4-3 .2-3 .8-4 1.6-4 2.2-4 2.3-3 2.8-3 3.4-3 3-2.2 4-2.4 7-2.9zM328.5 1779.5l1.6-.6 2-.3 3 .3 3 1.3 3 2.3 2.7 3 1.8 3 1.5 4 .4 4-.7 5-2.2 6-2.9 5-5.8 8-1.8 4-.8 4-1 12-1.8 9 0 2 .3 1 1.4 2 3.3 4 2.3 4 .9 4-.3 4-1.6 4-1.7 2.1-2 1.7-4 2-4 .6-2-.2-3-1-2-1.1-2.3-2.1-1.5-2-1.3-3-.5-2-.1-3 .2-2 1-3 1.7-3 3.9-5 .9-2 0-2-1.7-8-.4-5 .8-16-.9-17 .6-8 1.3-5 2.4-5 2.9-3.6zM400.3 1743.5l4.8-.7 5-.2 5 .1 5 .6 4 .7 4 1.3 4 1.8 3 2 2.5 2.4 1.2 2 .7 2 .4 3-.3 3-.8 3-1.3 3-2 3-2.4 2.8-2.4 2.2-7.6 5.4-12 6.8-8 3.4-4 1-4 .5-14 .7-12 .9-5-.3-2-.5-2-1-1.6-1.9-.6-2 0-4 .8-5 1.3-5 1.9-5 2.1-4 2.8-4 2.7-3 3.4-3 4.2-3.1 4-2.5 4-1.9 5-1.9zM328.4 1777.5l1.7-.6 2-.3 3 .3 3 1.1 3 1.9 3.9 3.6 3.3 4 2.4 4 .6 3-.6 4-2.8 7-4.1 7-6.7 9.2-1.4 2.8-1.1 4-1.1 12-1.6 9 .1 2 .7 2 3.7 5 2.1 4 .8 3 .1 2-.6 4-2 4-1.7 2-2 1.6-4 1.9-4 .5-3-.4-3-1.1-2-1.4-2-1.9-1.6-2.2-.9-2-.8-3-.1-3 .5-3 1.1-3 4.7-7 .6-2 0-2-1.4-8-.3-5 .6-17-.9-17 .8-8 1.7-6 2.6-5 3.4-3.9zM406.9 1740.5l5.2-.2 5 .3 8 1.2 4 1.1 4 1.7 3.5 1.9 2.7 2 1.8 2 1.2 2 .7 2 .3 3-.3 3-.7 3-1.2 3-1.6 3-4.1 5-6.3 5.2-12 7.4-10 5-5 1.8-3 .7-17 2.6-14 3.8-11 2.2-3 1.1-2 1.4-3 3.3-10 12.9-2 3.5-1 3.1-2.7 22 .6 3 3.9 6 1.7 4 .4 2 .1 3-.5 3-.7 2-1.9 3-1.9 2-3 2.1-3 1.2-3 .5-3-.2-3-.8-2-1-3-2.5-2.4-3.3-1.2-3-.6-4 .5-4 1.1-3 3.6-6 1.1-3 0-2-.9-6-.5-6 .3-17-.8-14 0-6 .5-5 1.1-5 1.4-4 2.1-4 2.7-3.5 3-2.5 3-1.6 3-.6 2 .1 3 .7 4 2 7 4.5 2 .5 1-.2 1.9-1.4 1.1-1.5 5.5-11.5 3-5 4.4-5 4.8-4 7.3-4.8 8-3.6 11-3.3 5-.9zM408 1736.5l5.1-.2 6 .3 4 .4 5 1 4 1.2 5 1.9 4.7 2.4 3.3 2.3 2 2.1 1.6 2.6 .7 2 .4 3-.2 3-1 4-1.1 3-2.2 4-2.1 3-3.1 3.6-3 2.8-4 3.1-11 7.1-13 7.1-7 3.1-12.4 4.2-12.6 5.6-7 1.9-16 3-3 1.3-3 2.1-5 5-3 3.9-1.8 4.2-.7 4-1.7 14-.1 3 1 3 3.7 7 .8 3 .3 2-.1 3-.7 3-.8 2-1.2 2-2.7 3-3 2.2-3 1.3-3 .7-3 0-4-.9-3-1.5-3-2.4-2.5-3.4-1.6-4-.5-4 .2-3 .8-3 3.6-7.2 .8-2.8-1.2-13 0-17-1.2-17 .3-7 .7-5 1.3-5 1.6-4 2.2-4 2.5-3.2 3-2.9 3-1.9 3-1.1 2-.3 3 0 3 .6 7 2.2 2 0 1-.3 1.7-1.1 1.3-1.4 6.6-9.6 3.5-4 4.9-4.1 7-4.7 7-3.8 8-3.1 11-3z" fill="none" stroke="#242424" stroke-width="0.6" stroke-linejoin="round"/>
<path d="M309.2 1862.6h0M386.8 1831.4h0M440.5 1787.8h0M381.3 1736h0M335.3 1769h0M355.5 1754.1h0M449.7 1767.9h0M395.3 1819.6h0M313.1 1878.2h0M460.5 1781.5h0M344.4 1827.2h0M456.1 1735.4h0M312.4 1825h0M313.5 1834.6h0M314 1880.4h0M455.5 1746.4h0M340.4 1749.6h0M384.8 1844.1h0M427 1793h0M438.6 1733.9h0M324 1770h0M356.8 1820.7h0M303.9 1832.1h0M363 1747.4h0M311.1 1775.4h0M422.4 1794.9h0M453.3 1737.6h0M421.1 1810.2h0M462.2 1765.5h0M389.9 1825.1h0M422.7 1723.5h0M310.5 1849.8h0M401.1 1829.1h0M374.1 1818.3h0M356.1 1752.2h0M338.6 1769.8h0M354.6 1759.8h0M368.9 1743.9h0M464.7 1772.3h0M429.4 1803.8h0M314.3 1848.2h0M444.6 1782.9h0M313.6 1851h0M453.9 1741h0M304 1852.7h0M315.8 1881.5h0M430.3 1730.6h0M356.8 1830.7h0M353.2 1765h0M350.6 1744.9h0M425.2 1731h0M332.1 1886.2h0M454.3 1770.8h0M306.2 1872.3h0M313.8 1787.2h0M450.2 1744.7h0M326.3 1892.5h0M396.3 1830.7h0M355.4 1763h0M386.5 1813.1h0M399.8 1812.7h0M339.2 1761.8h0M356.8 1835h0M319.3 1887.4h0M305.9 1830.3h0M425.9 1795.7h0M329.7 1764.9h0M435.8 1789.4h0M319.4 1773h0M347.8 1824.2h0" fill="none" stroke="#555" stroke-width="1.1" stroke-linecap="round"/>
<line x1="352.1" y1="1718" x2="352.1" y2="1914" stroke="#000" stroke-width="1.3"/>
<line x1="272.6" y1="1830.7" x2="470" y2="1830.7" stroke="#000" stroke-width="1.3"/>
<text x="282.6" y="1743" font-size="22.6">21.1</text>
<text x="461" y="1743" font-size="22.6" text-anchor="end">58.6</text>
<text x="282.6" y="1900.5" font-size="22.6">19.5</text>
<text x="461" y="1900.5" font-size="22.6" text-anchor="end">0.87</text>
<text x="373.8" y="1702.3" font-size="26" text-anchor="middle" fill="#3f9fab">TOX(WT)</text>
<rect x="482.3" y="1718" width="196.9" height="196" fill="#fff" stroke="#000" stroke-width="1.3"/>
<path d="M493.3 1914v6M551.3 1914v6M600.3 1914v6M648.3 1914v6M510.76 1914v3.2M520.97 1914v3.2M528.22 1914v3.2M533.84 1914v3.2M538.43 1914v3.2M542.32 1914v3.2M545.68 1914v3.2M548.65 1914v3.2M566.05 1914v3.2M574.68 1914v3.2M580.8 1914v3.2M585.55 1914v3.2M589.43 1914v3.2M592.71 1914v3.2M595.55 1914v3.2M598.06 1914v3.2M614.75 1914v3.2M623.2 1914v3.2M629.2 1914v3.2M633.85 1914v3.2M637.65 1914v3.2M640.86 1914v3.2M643.65 1914v3.2M646.1 1914v3.2M662.75 1914v3.2M671.2 1914v3.2M677.2 1914v3.2M482.3 1901h-6M482.3 1843.5h-6M482.3 1795h-6M482.3 1754h-6M482.3 1722h-6M482.3 1883.69h-3.2M482.3 1873.57h-3.2M482.3 1866.38h-3.2M482.3 1860.81h-3.2M482.3 1856.26h-3.2M482.3 1852.41h-3.2M482.3 1849.07h-3.2M482.3 1846.13h-3.2M482.3 1828.9h-3.2M482.3 1820.36h-3.2M482.3 1814.3h-3.2M482.3 1809.6h-3.2M482.3 1805.76h-3.2M482.3 1802.51h-3.2M482.3 1799.7h-3.2M482.3 1797.22h-3.2M482.3 1782.66h-3.2M482.3 1775.44h-3.2M482.3 1770.32h-3.2M482.3 1766.34h-3.2M482.3 1763.1h-3.2M482.3 1760.35h-3.2M482.3 1757.97h-3.2M482.3 1755.88h-3.2M482.3 1744.37h-3.2M482.3 1738.73h-3.2M482.3 1734.73h-3.2M482.3 1731.63h-3.2M482.3 1729.1h-3.2M482.3 1726.96h-3.2M482.3 1725.1h-3.2M482.3 1723.46h-3.2" fill="none" stroke="#000" stroke-width="1.15"/>
<rect x="518.8" y="1914.3" width="7" height="4.3" fill="#000"/>
<path d="M516.3 1914v4M528.3 1914v4" fill="none" stroke="#000" stroke-width="1"/>
<rect x="477.7" y="1868.5" width="4.3" height="7" fill="#000"/>
<path d="M482.3 1866h-4M482.3 1878h-4" fill="none" stroke="#000" stroke-width="1"/>
<path d="M534.8 1863.5l2-.4 1 .4 1.2 1 .5 2-.2 1-.6 1-.9 .6-2 .3-1.6-.9-.7-1-.1-2 .4-1.1zM534.3 1861.5l1.5-.5 2.6 .5 1.5 1 1.3 2 .4 2-.5 2-1.3 1.7-1 .7-2 .5-2-.3-2-1.2-1-1.4-.5-2 .3-2 1.2-2zM533.8 1859.5l3-.5 2 .5 2 1.3 2 2.7 .6 3-.7 3-1.5 2-2.4 1.4-3 .3-2-.5-2-1.2-1-1.1-1-1.9-.4-2 .5-3 1.9-2.7zM532.5 1857.5l1.3-.6 2-.4 3 .4 2 1 1.9 1.6 2 3 .9 3 0 2-.5 2-1.8 3-2.5 1.9-3 1-2 0-2-.4-3-1.6-2.5-2.9-.9-3-.1-2 .4-2 .8-2 1.3-1.8zM602.6 1772.5l3.2-.5 2 .7 .6 .8 .3 1-.1 1-.6 2-2 3-3.2 2.8-3 1.3-2 .2-1.2-.3-1.2-1-.5-1 0-2 .7-2 1.2-2 2-1.9zM535 1855.5l1.8-.1 2 .4 3 1.7 2.8 3 1.1 2 .6 2 .2 2-.2 2-1.2 3-2.3 2.7-2 1.2-2 .7-2 .2-2-.2-2-.6-2-1.1-1.2-.9-1.6-2-1-2-.5-2 .1-3 .5-2 1-2 1.7-2.1 2-1.6 2-1zM604.8 1769.5l2-.3 2 0 2 .8 1 1.1 .4 1.4-.2 2-1.9 4-3.3 4-2.4 2-2.6 1.6-4 1.3-2 0-2-.6-1.3-1.3-.7-2 .3-3 1.4-3 2.3-3 2.5-2 3.5-2zM537.6 1798.5l1.2-.5 1 0 .8 .5 .8 1 .7 2 0 2-.5 2-1.2 2-1.6 1-1-.1-1-.9-1.1-3 .2-3 .8-2zM533.5 1855.5l1.3-.4 2-.2 2 .5 2 1 2 1.5 1.5 1.6 1.2 2 .8 2 .4 4-.4 2-.8 2-1.5 2-1.1 1-3.1 1.6-2 .4-2 0-2-.3-2-.8-3-2.3-1.2-1.6-.9-2-.5-2 0-2 .3-2 .7-2 1.2-2 1.4-1.6 2-1.5zM605.2 1767.5l2.6-.6 3 0 2 .5 1.5 1.1 .9 2 0 2-.6 2-1.6 3-2.3 3-2.8 3-3.1 2.5-3 1.8-3 1.2-3 .5-3-.2-1.8-.8-1-1-.5-1-.4-3 1.1-4 1.7-3 2.6-3 3.3-2.6 4-2.2zM538.6 1795.5l1.4 0 1.8 1.1 1 1.5 .6 1.4 .4 3-.4 3-1.6 3.4-2 2.1-1 .5-1 0-1.5-1-1.2-2-.7-2-.3-3 .4-3 .8-2 1.5-2zM532.6 1855.5l1.2-.6 2-.4 2 .2 2 .7 2 1.2 2 1.9 1.5 2 1 2 .8 4-.8 4-1.1 2-1.4 1.6-3 1.9-3 .8-2 0-2-.3-2-.8-3-2.2-1.5-2-.9-2-.4-2-.1-2 .3-2 .7-2 2-3 1.9-1.9zM606.5 1765.5l3.3-.6 3-.1 2.7 .7 1.4 1 1 2 0 3-1.1 3-1.8 3-3.3 4-3 3-3.8 3-3.1 1.7-3 1.3-4 .9-3 0-3-1.1-1-.8-1-1.7-.3-1.3 0-2 1.1-4 2.2-4 3-3.4 4-3.2 5-2.7zM538.6 1793.5l2.2 .2 1 .5 1.2 1.3 1.5 3 .5 4-.6 4-1.6 3.5-1 1.5-2 2-1 .5-1 .1-1-.3-1-.9-1.4-2.4-1-3-.4-4 .6-4 1.2-2.8 2-2.3zM533.8 1854.5l2-.5 2 .2 2 .7 2 1.3 3.2 3.3 1.2 2 1 3 .2 2-.2 2-.6 2-1 2-2.8 2.8-2 1.1-2 .6-4 0-2-.6-2-.9-2-1.6-1.2-1.4-1.1-2-.7-2-.2-2 .1-2 .5-2 .9-2 2.7-3.4 2-1.6zM608.3 1763.5l4.5-.7 3 .1 2 .7 1.4 .9 .8 1 .5 1 .3 2-.5 3-1.4 3-2.8 4-3.5 4-4.4 4-3.4 2.4-4 2.1-5 1.7-4 .5-3-.3-1.4-.4-1.6-1-1-1-.9-2-.3-2 .3-2 1.4-4 3.3-5 3.9-4 4.3-3.1 6-3.1zM536.9 1792.5l1.9-.8 1-.1 2 .6 1 .8 1.3 1.5 1 2 .7 2.3 .4 2.7-.4 4.2-1.8 4.8-3.2 4.5-2 1.6-1 .3-1-.2-1-.8-2-3.4-1.3-4-.6-4 .4-4 .9-3 1.6-2.9zM535.7 1853.5l3.1 .5 3 1.7 2 1.8 1.6 2 1.2 2 .7 2 .3 2-.3 4-.8 2-1.3 2-1.4 1.4-2 1.3-2 .8-2 .4-4-.3-2-.7-2-1.2-1.8-1.7-1.4-2-1.3-4 .1-3 .5-2 .9-2 1.3-2 1.7-1.9 2-1.6 2-1.1zM610.4 1761.5l4.4-.6 4 .4 2 1 1 .8 1.4 2.4 .1 3-.9 3-2.2 4-3.2 4-4.8 5-4.4 3.7-4 2.6-5 2.3-5 1.4-4 .4-4-.6-1.6-.8-1.3-1-.8-1-.9-2-.3-2 .2-2 .6-2 1.4-3 3.5-5 4.2-4.2 6-4.3 7-3.4zM537.5 1790.5l1.3-.5 2 0 2 1 1 1 1.1 1.5 1.4 3 .9 5-.3 4-1.7 5-1.7 3-2.7 3.9-2 2.2-1 .7-1-.1-1-.9-2-3.7-2.1-6.1-.7-5 .3-4 1.5-4.6 2-3.2zM533.6 1853.5l2.2-.7 2 .2 2 .9 2 1.4 3.3 3.2 1.3 2 1.2 3 .4 3-.2 2-.5 2-1 2-2.5 2.8-2 1.3-2 .7-4 .4-3-.6-2-.9-3.2-2.7-1.3-2-.8-2-.4-2 0-3 1.3-4 1.4-2.2 2-2.2zM612.5 1759.5l4.3-.5 4 .6 2 .9 1.3 1 .8 1 .9 2 0 3-1.2 4-2.5 4-3.3 4-5 5-5 4.2-5 3.3-5 2.3-6 1.8-5 .4-4-.7-3-1.8-1.3-1.5-1-2-.4-2 .3-3 .7-2 1.6-3 3.8-5 5.3-5 7-4.8 8-3.8zM538.5 1788.5l1.3-.2 2 .3 2 1.3 1.4 1.6 1.2 2 1.1 3 .6 3 .2 3-.5 4-1.4 4-6.4 11-2.2 4.8-1 1.5-1-2.2-4.6-14.1-.8-4-.3-4 .7-5 2-4.8 1.5-2.2 1.5-1.5zM536.8 1835.5l0-.2 0 1.2zM534.3 1852.5l1.5-.6 2 .3 3 1.7 2 1.7 3.4 3.9 1.1 2 .8 3 .1 3-.3 2-.7 2-1.2 2-1.2 1.4-2 1.5-2 1-2 .5-3 .1-2-.3-2-.7-2-1.1-1.7-1.4-1.6-2-1-2-.6-2-.2-2 .3-3 1.6-4 3.2-3.9 2-1.7zM611.5 1758.5l5.3-.9 3 .1 2 .4 3 1.4 1.2 1 1.4 2 .5 3-.8 4-2 4-3.9 5-6 6-5.4 4.6-5 3.3-6 2.9-6 1.9-3 .5-3 .2-4-.7-2-.8-2-1.5-1.2-1.4-1.1-2-.5-2 .1-3 .5-2 1.5-3 3.7-5 2.9-3 3.4-3 6.7-4.7 8-4.1zM537.6 1787.5l2.2-.6 2 .3 2 1.1 2 2.2 1.6 3 1.1 3 .5 3 .2 3-.6 4-1.3 4-5.4 10-1.6 4-.9 5-.6 10.5-1 3.5-1 1.3-1 0-1-1.5-.5-1.8-.4-4 .3-8-.3-4-.7-4-3.2-12-.6-6 .7-5 1.9-5 2.8-4zM534.5 1851.5l1.3-.7 1 0 1 .5 5 3.8 2 2.1 1.7 2.3 1 2 .9 3 .1 3-.3 2-.7 2-1.2 2-1.5 1.7-2 1.5-2 .9-2 .6-3 .1-2-.3-2-.7-2-1.1-2-1.6-1.6-2.1-1-2-.7-3 .2-4 .6-2 1-2 1.5-2.2 2-2.1zM614 1756.5l4.8-.5 3 .3 2 .5 3.3 1.7 1.1 1 1.3 2 .5 2 .1 2-1 4-2.1 4-4 5-7.3 7-5.9 4.8-6 3.8-6 2.7-7 2.1-5 .5-3-.3-2-.5-2.3-1.1-1.7-1.3-1.5-1.7-1-2-.6-2-.1-3 .4-2 1.2-3 2-3 2.5-3 6.5-6 4-3 4.6-2.9 5-2.7 6-2.7 5-1.8zM539.1 1785.5l1.7-.1 2 .6 2 1.3 1.1 1.2 1.3 2 1.4 3 1 3 .5 3 .1 4-1.1 5-1.6 4-4.3 8-1.7 5-.7 4-.8 12-1.8 7 .1 1 1.4 2 5.1 5.1 2.1 2.9 1.4 3 .6 4-.4 3-.7 2-1.1 2-1.7 2-2.2 1.6-2 .9-4 .7-3-.4-2-.6-3-1.8-1.5-1.4-1.5-2-.9-2-.6-2-.2-3 .9-4 1.5-3 2.3-2.9 4.2-4.1 1.3-2 .2-1-1.3-5-.4-3 0-12-.4-5-3.1-13-.6-4-.1-4 .4-3 1.6-5 2.2-4.1 3-3.3 2-1.2zM615.8 1754.5l5-.2 5 1 2 .9 2 1.3 1 1 1.2 2 .5 2 .1 2-.3 2-1 3-2.1 4-4.1 5-8.6 8-6.7 5.3-6 3.6-7 3.1-7 2.1-6 .6-3-.3-3-.9-2-1.1-1.7-1.4-1.6-2-1.3-3-.4-2 .1-3 .8-3 1.5-3 2.2-3 2.7-3 6.9-6 4.8-3.4 5-3 6-3.1 7-3.1 4-1.5zM536.9 1784.5l2.9-1 2 .1 2 .8 2.5 2.1 2.1 3 1.7 4 1.1 4 .4 4-.4 4-1.1 4-1.7 4-3.8 7-1.7 5-.8 5-.9 11-1.1 7 .3 2 .6 1 4.8 5.6 2.1 3.4 1.3 4 0 4-.9 3-1 2-2.5 2.7-3 1.9-3 .8-2 .2-2-.1-3-.9-2-1-2.1-1.6-1.7-2-1.2-2-.7-2-.4-3 .5-4 1.2-3 2-3 4.3-5 .6-1 .3-2-1-8-.1-12-.2-4-.7-4-2.7-12-.3-4 .3-4 1.2-5 2.3-5 2.4-3.5zM617.1 1752.5l5.7 0 3 .5 3 1 2 1 1.9 1.5 1.1 1.3 .9 1.7 .5 2 0 2-.2 2-.9 3-2.5 5-4.1 5-8.8 8-7.9 6.3-7 4.2-7 3.1-8 2.5-4 .6-3 .1-3-.3-3-.7-3-1.5-1.7-1.3-1.5-2-1.4-3-.5-3 .3-4 .9-3 1.6-3 2.1-3 2.7-3 3.5-3.3 4.8-3.7 5.2-3.5 6-3.6 7-3.6 7-3.1 4-1.4zM539.6 1781.5l2.2 0 3 1.2 2 1.6 2 2.5 2 3.7 1.4 4 .9 4 .2 4-.6 4-1.3 4-5.6 10.8-1.5 4.2-.9 5-.8 10-1.1 8 .3 2 .4 1 5.2 7 1.5 3 .8 4-.2 4-1.7 4-1.5 2-1.5 1.4-2 1.3-2 .8-4 .6-3-.3-2-.7-3-1.6-1.8-1.5-1.6-2-1.1-2-.9-3-.2-3 .5-3 1.2-3 1.2-2 3.8-5 1.1-2 .2-1-.8-9-.1-11-.3-5-.8-5-2.1-9-.5-4-.1-4 .6-4 1.1-4 1.3-3 2.9-5 1.4-1.7 2-1.7 2-1.1zM617.2 1750.5l3.6-.2 3 .2 6 1.3 3 1.3 2 1.3 1.2 1.1 1.3 2 .6 2 .2 2-.2 3-.8 3-1.3 3-1.6 3-4.4 5.4-10 8.9-9 6.9-7 4.1-9 3.9-4 1.3-5 1.2-4 .5-4 .1-4-.4-3-.9-2-1-2-1.6-1.7-2.4-1.1-3-.2-4 .6-4 .9-3 2.2-4 2.2-3 3.6-4 3.5-3.2 4-3.1 6-4.1 7-4.1 8-4.1 7-3.2 5-1.6zM538.3 1779.5l2.5-.5 3 .6 3 1.7 2.2 2.2 2.7 4 2.5 5 1.3 4 .5 4-.4 4-1.3 4-1.8 4-5.1 9-1.9 5-.9 5-1.6 16 0 2 .5 2 4.6 7 1.4 3 .9 4-.3 4-1.6 4-2.7 3.3-2 1.5-2 .9-3 .8-2 .2-3-.3-3-1-3-1.9-1.6-1.5-2.1-3-.8-2-.6-3-.1-2 .5-3 1.1-3 4.6-7 1.1-3-.7-9-.3-14-.9-6-2.6-13-.2-4 .4-4 .7-3 1.3-4 3.2-6.4 2-2.7 1.9-1.9 2.1-1.4zM615.5 1748.5l3.3-.4 4-.1 4 .4 4 .8 3 1 2.6 1.3 1.4 1 1.9 2 1.1 2 .5 2 0 4-.6 3-1 3-3.2 6-2.7 3.6-3.4 3.4-13.6 11.2-8 5.6-9 4.6-10 3.8-9 2.1-5 .6-5 .1-9-1.6-2 .4-2 1.5-4 5.2-5 8-2 5.2-.9 5.3-1.4 16 .8 3 3.7 6 1.6 4 .5 3 0 2-.5 3-.8 2-1.8 3-1.9 2-2.3 1.6-3 1.2-3 .6-3-.1-3-.7-4-2.2-2.5-2.4-2-3-1-3-.4-4 .4-3 1.1-3 4.2-7 .9-3-1.1-23-.6-4.3-2.7-12.7-.5-6 .6-5 1.3-5 2-5 2.8-5 2.5-3.2 3-2.4 2-1 2-.5 3 0 2 .6 3 1.8 3 2.7 5 5.4 1 .7 1 .2 1-.3 2-1.9 4.6-6.1 4.5-5 4.9-4.6 5-3.8 10-6.2 11-5.8 9-4.1zM616.3 1744.5l3.5-.4 5 0 9 1.1 3 .8 3.5 1.5 2.5 1.7 2 2.1 1.3 2.2 .9 3 .2 2-.3 3-.6 3-1.5 4-1.3 3-2.3 4-4 5-6.4 5.8-15 11.7-6 4-4 2.3-10 4.6-11 4.1-7 2.1-5 1.2-12 1.2-3 1.2-2 1.5-2 2.1-2 2.6-2.3 4.6-1.3 6-1.2 12 0 3 .5 2 3.6 7 1.2 4 .1 5-.4 2-1.1 3-1.8 3-2.3 2.3-3 1.9-3 1.2-3 .4-4-.2-3-.9-3-1.6-2.6-2.1-2.3-3-1.5-3-.8-4 0-3 .6-3 1.1-3 3.2-6 .6-2 .1-2-1.4-22-3.4-15-.7-7 .4-5 1.4-6 2.6-7 3.1-6 2.6-3.5 3-2.8 4-2.2 3-.6 3 .2 3 1.1 8 4.9 2 .6 2-.4 3-1.8 13-11.1 4-2.8 8-4.8 8-4.5 10-4.9 6-2.2z" fill="none" stroke="#242424" stroke-width="0.6" stroke-linejoin="round"/>
<path d="M628.8 1795.7h0M570.7 1754.5h0M574.3 1761.5h0M549.4 1771h0M568.5 1835.2h0M542.2 1884.5h0M531.5 1774.1h0M513.2 1804.4h0M612.5 1806.6h0M610.9 1816.2h0M648.5 1758.3h0M608.1 1737.1h0M663.9 1802.6h0M575 1819h0M566.1 1831.6h0M516.9 1822.2h0M627.7 1740.1h0M520.9 1878h0M516.4 1825.2h0M551.7 1884.5h0M515.8 1808.1h0M556.3 1850.9h0M549.4 1836.5h0M662.4 1739.1h0M585.5 1757.5h0M642.3 1742h0M659.7 1749.7h0M597.6 1816.6h0M640 1797.2h0M565.3 1762.7h0M566.9 1767.8h0M650 1757.9h0M518.8 1809.6h0M653.7 1794.8h0M548 1851.3h0M524.5 1784.8h0M522.2 1875.9h0M516.6 1798.1h0M557.9 1823.4h0M564.4 1841.2h0M650.2 1757.3h0M552.1 1852.9h0M588.7 1743h0M547.6 1842.7h0M658.9 1769.2h0M656.9 1740.7h0M635.9 1799.3h0M517.9 1793.4h0M557.1 1819.8h0M647.7 1766h0M518.7 1808.1h0M554.2 1774.3h0M557.2 1768.5h0M554.6 1774h0M574.2 1765.1h0M639.3 1742.9h0M616.9 1806.3h0M604.8 1809.1h0M659.6 1761.7h0M643.6 1746.4h0M525.6 1774.5h0M643.3 1772.1h0M548.9 1854.2h0M620.4 1797.7h0M579 1815.3h0M636.6 1740.5h0M583 1738.6h0M516.7 1840.7h0M520.4 1777.7h0M656.5 1767.3h0" fill="none" stroke="#555" stroke-width="1.1" stroke-linecap="round"/>
<line x1="561.4" y1="1718" x2="561.4" y2="1914" stroke="#000" stroke-width="1.3"/>
<line x1="482.3" y1="1830.7" x2="679.2" y2="1830.7" stroke="#000" stroke-width="1.3"/>
<text x="492.3" y="1743" font-size="22.6">28.1</text>
<text x="670.2" y="1743" font-size="22.6" text-anchor="end">51.3</text>
<text x="492.3" y="1900.5" font-size="22.6">18.6</text>
<text x="670.2" y="1900.5" font-size="22.6" text-anchor="end">1.99</text>
<text x="581" y="1702.3" font-size="26" text-anchor="middle" fill="#e8727c">TOX(4KR)</text>
<text font-size="26" text-anchor="middle" transform="translate(47 1816) rotate(-90)">TNFα PE</text>
<text x="76.5" y="1949.5" font-size="26">IFNγ APC</text>
<line x1="213.5" y1="1944" x2="665" y2="1944" stroke="#000" stroke-width="1.6"/>
<polygon points="677,1944 664,1950.5 664,1937.5" fill="#000"/>
<rect x="812.3" y="1765.94" width="31" height="176.86" fill="#fff" stroke="#000" stroke-width="2.6"/>
<rect x="864.2" y="1794.76" width="31" height="148.04" fill="#fff" stroke="#000" stroke-width="2.6"/>
<rect x="917.3" y="1813.1" width="30.6" height="129.7" fill="#fff" stroke="#000" stroke-width="2.6"/>
<line x1="793.1" y1="1679.45" x2="793.1" y2="1944.15" stroke="#000" stroke-width="2.7"/>
<line x1="781.2" y1="1942.8" x2="968.3" y2="1942.8" stroke="#000" stroke-width="2.7"/>
<line x1="783.1" y1="1942.8" x2="793.1" y2="1942.8" stroke="#000" stroke-width="2.7"/>
<text x="779.1" y="1949.9" font-size="20" text-anchor="end" font-weight="bold">0</text>
<line x1="783.1" y1="1890.4" x2="793.1" y2="1890.4" stroke="#000" stroke-width="2.7"/>
<text x="779.1" y="1897.5" font-size="20" text-anchor="end" font-weight="bold">20</text>
<line x1="783.1" y1="1838" x2="793.1" y2="1838" stroke="#000" stroke-width="2.7"/>
<text x="779.1" y="1845.1" font-size="20" text-anchor="end" font-weight="bold">40</text>
<line x1="783.1" y1="1785.6" x2="793.1" y2="1785.6" stroke="#000" stroke-width="2.7"/>
<text x="779.1" y="1792.7" font-size="20" text-anchor="end" font-weight="bold">60</text>
<line x1="783.1" y1="1733.2" x2="793.1" y2="1733.2" stroke="#000" stroke-width="2.7"/>
<text x="779.1" y="1740.3" font-size="20" text-anchor="end" font-weight="bold">80</text>
<line x1="783.1" y1="1680.8" x2="793.1" y2="1680.8" stroke="#000" stroke-width="2.7"/>
<text x="779.1" y="1687.9" font-size="20" text-anchor="end" font-weight="bold">100</text>
<circle cx="816.3" cy="1761.5" r="4.5" fill="#8a8a8a"/>
<circle cx="827.8" cy="1761.5" r="4.5" fill="#8a8a8a"/>
<circle cx="839.3" cy="1768.83" r="4.5" fill="#8a8a8a"/>
<line x1="827.8" y1="1762.02" x2="827.8" y2="1767.26" stroke="#000" stroke-width="1.3"/>
<line x1="816.38" y1="1762.02" x2="839.22" y2="1762.02" stroke="#000" stroke-width="1.3"/>
<line x1="816.38" y1="1767.26" x2="839.22" y2="1767.26" stroke="#000" stroke-width="1.3"/>
<circle cx="868.2" cy="1790.05" r="4.5" fill="#4aa6b1"/>
<circle cx="879.7" cy="1794.25" r="4.5" fill="#4aa6b1"/>
<circle cx="891.2" cy="1795.29" r="4.5" fill="#4aa6b1"/>
<line x1="879.7" y1="1791.36" x2="879.7" y2="1795.56" stroke="#000" stroke-width="1.3"/>
<line x1="868.28" y1="1791.36" x2="891.12" y2="1791.36" stroke="#000" stroke-width="1.3"/>
<line x1="868.28" y1="1795.56" x2="891.12" y2="1795.56" stroke="#000" stroke-width="1.3"/>
<circle cx="923.6" cy="1809.18" r="4.5" fill="#f07a84"/>
<circle cx="932.6" cy="1805.77" r="4.5" fill="#f07a84"/>
<circle cx="940.6" cy="1818.61" r="4.5" fill="#f07a84"/>
<line x1="932.6" y1="1807.08" x2="932.6" y2="1816.52" stroke="#000" stroke-width="1.3"/>
<line x1="921.31" y1="1807.08" x2="943.89" y2="1807.08" stroke="#000" stroke-width="1.3"/>
<line x1="921.31" y1="1816.52" x2="943.89" y2="1816.52" stroke="#000" stroke-width="1.3"/>
<text font-size="26" text-anchor="middle" transform="translate(734 1812) rotate(-90)">TNFα<tspan dy="-9.36" font-size="16.12">+</tspan><tspan dy="9.36">IFNγ</tspan><tspan dy="-9.36" font-size="16.12">+</tspan><tspan dy="9.36"> (%)</tspan></text>
<line x1="827.6" y1="1671.9" x2="932.6" y2="1671.9" stroke="#000" stroke-width="3.6"/>
<text x="884.36" y="1669.39" font-size="27.75" text-anchor="middle" font-weight="bold" letter-spacing="3.63">***</text>
<line x1="879.9" y1="1708" x2="932.6" y2="1708" stroke="#000" stroke-width="3.6"/>
<text x="909.28" y="1705.49" font-size="27.75" text-anchor="middle" font-weight="bold" letter-spacing="3.63">**</text>
<line x1="827.6" y1="1743.8" x2="879.9" y2="1743.8" stroke="#000" stroke-width="3.6"/>
<text x="859.23" y="1741.29" font-size="27.75" text-anchor="middle" font-weight="bold" letter-spacing="3.63">****</text>
</g>
<g id="p-k">
<text x="1041" y="1661" font-size="34" font-weight="bold">k</text>
<line x1="1163.5" y1="1692" x2="1163.5" y2="1884.5" stroke="#e4e4e4" stroke-width="0.8"/>
<line x1="1226.5" y1="1692" x2="1226.5" y2="1884.5" stroke="#e4e4e4" stroke-width="0.8"/>
<line x1="1289.5" y1="1692" x2="1289.5" y2="1884.5" stroke="#e4e4e4" stroke-width="0.8"/>
<line x1="1353" y1="1692" x2="1353" y2="1884.5" stroke="#e4e4e4" stroke-width="0.8"/>
<line x1="1416" y1="1692" x2="1416" y2="1884.5" stroke="#e4e4e4" stroke-width="0.8"/>
<line x1="1099.3" y1="1692" x2="1099.3" y2="1884.5" stroke="#444" stroke-width="1.1"/>
<line x1="1099.3" y1="1864.5" x2="1466.4" y2="1864.5" stroke="#555" stroke-width="1.1" stroke-dasharray="5 2.5"/>
<line x1="1096.3" y1="1706.3" x2="1099.3" y2="1706.3" stroke="#444" stroke-width="1"/>
<text x="1094.3" y="1714.3" font-size="22" text-anchor="end">0.4</text>
<line x1="1096.3" y1="1745.85" x2="1099.3" y2="1745.85" stroke="#444" stroke-width="1"/>
<text x="1094.3" y="1753.85" font-size="22" text-anchor="end">0.3</text>
<line x1="1096.3" y1="1785.4" x2="1099.3" y2="1785.4" stroke="#444" stroke-width="1"/>
<text x="1094.3" y="1793.4" font-size="22" text-anchor="end">0.2</text>
<line x1="1096.3" y1="1824.95" x2="1099.3" y2="1824.95" stroke="#444" stroke-width="1"/>
<text x="1094.3" y="1832.95" font-size="22" text-anchor="end">0.1</text>
<line x1="1096.3" y1="1864.5" x2="1099.3" y2="1864.5" stroke="#444" stroke-width="1"/>
<text x="1094.3" y="1872.5" font-size="22" text-anchor="end">0.0</text>
<path d="M1099.32 1864.54 L1100.18 1841.14 L1102.3 1811.38 L1105.28 1807.12 L1106.55 1800.74 L1108.68 1805 L1111.66 1781.61 L1114.63 1764.59 L1117.19 1761.62 L1120.16 1766.72 L1126.54 1771.82 L1129.94 1762.47 L1132.92 1758.22 L1135.05 1762.47 L1139.3 1752.69 L1143.55 1745.46 L1146.96 1750.99 L1152.06 1741.2 L1156.31 1744.18 L1164.82 1743.33 L1166.94 1719.94 L1169.07 1709.31 L1172.47 1710.58 L1175.45 1705.06 L1181.83 1700.8 L1186.08 1703.78 L1192.46 1709.31 L1198.84 1716.11 L1205.22 1711.43 L1215 1710.16 L1228.61 1722.07 L1241.37 1729.72 L1254.13 1741.2 L1275.39 1762.47 L1296.65 1785.86 L1317.92 1803.72 L1334.93 1819.88 L1345.56 1828.39 L1348.54 1826.26 L1360.45 1833.92 L1380.01 1851.78 L1382.57 1856.03 L1385.97 1853.9 L1399.58 1854.75 L1412.34 1865.81 L1418.72 1863.26 L1425.1 1864.54 L1433.61 1868.79 L1442.11 1873.89 L1446.36 1868.79 L1450.62 1866.66 L1454.87 1870.91 L1461.25 1876.02 L1464.23 1862.41 L1466.35 1864.54" fill="none" stroke="#46e016" stroke-width="1.4" stroke-linejoin="round"/>
<text x="1284.5" y="1674" font-size="25.5" text-anchor="middle">Exhaustion signature</text>
<text x="1136.5" y="1802" font-size="25.5">NES=1.54</text>
<text x="1136.5" y="1833.5" font-size="25.5"><tspan font-style="italic">P</tspan>=0.0016</text>
<path d="M1099.5 1887V1932.6M1100 1887V1932.6M1100.5 1887V1932.6M1102.6 1887V1932.6M1103.6 1887V1932.6M1104.1 1887V1932.6M1104.1 1887V1932.6M1104.6 1887V1932.6M1105.9 1887V1932.6M1108.7 1887V1932.6M1109.4 1887V1932.6M1109.9 1887V1932.6M1111.3 1887V1932.6M1112.7 1887V1932.6M1112.7 1887V1932.6M1119.2 1887V1932.6M1119.8 1887V1932.6M1123.5 1887V1932.6M1125.7 1887V1932.6M1128 1887V1932.6M1132 1887V1932.6M1132.8 1887V1932.6M1138.4 1887V1932.6M1138.9 1887V1932.6M1139 1887V1932.6M1139 1887V1932.6M1141.5 1887V1932.6M1144 1887V1932.6M1152.8 1887V1932.6M1154.1 1887V1932.6M1154.3 1887V1932.6M1155.7 1887V1932.6M1158.6 1887V1932.6M1160.3 1887V1932.6M1170.3 1887V1932.6M1171.4 1887V1932.6M1176.2 1887V1932.6M1179.7 1887V1932.6M1182.4 1887V1932.6M1183.7 1887V1932.6M1191.3 1887V1932.6M1197.6 1887V1932.6M1201.5 1887V1932.6M1202.4 1887V1932.6M1204.4 1887V1932.6M1204.4 1887V1932.6M1207.5 1887V1932.6M1208.3 1887V1932.6M1209.9 1887V1932.6M1215.2 1887V1932.6M1215.6 1887V1932.6M1215.8 1887V1932.6M1223.3 1887V1932.6M1225.7 1887V1932.6M1227 1887V1932.6M1231.9 1887V1932.6M1232.7 1887V1932.6M1233.7 1887V1932.6M1234.9 1887V1932.6M1236.6 1887V1932.6M1237.3 1887V1932.6M1240.8 1887V1932.6M1247.5 1887V1932.6M1248.3 1887V1932.6M1251.3 1887V1932.6M1251.8 1887V1932.6M1256.3 1887V1932.6M1257.8 1887V1932.6M1261.2 1887V1932.6M1262.1 1887V1932.6M1266.6 1887V1932.6M1269.8 1887V1932.6M1270.1 1887V1932.6M1271.5 1887V1932.6M1272.4 1887V1932.6M1274.9 1887V1932.6M1275.2 1887V1932.6M1282 1887V1932.6M1282.6 1887V1932.6M1289.5 1887V1932.6M1295.1 1887V1932.6M1298.9 1887V1932.6M1299.4 1887V1932.6M1299.5 1887V1932.6M1318 1887V1932.6M1318.1 1887V1932.6M1319.6 1887V1932.6M1322.5 1887V1932.6M1322.7 1887V1932.6M1324.5 1887V1932.6M1325.1 1887V1932.6M1326 1887V1932.6M1327.8 1887V1932.6M1330.9 1887V1932.6M1343.6 1887V1932.6M1354.3 1887V1932.6M1356.7 1887V1932.6M1358 1887V1932.6M1360.8 1887V1932.6M1367.4 1887V1932.6M1372.2 1887V1932.6M1378.4 1887V1932.6M1380.4 1887V1932.6M1386.3 1887V1932.6M1391.9 1887V1932.6M1397.3 1887V1932.6M1407.1 1887V1932.6M1408.4 1887V1932.6M1412 1887V1932.6M1421.8 1887V1932.6M1427.3 1887V1932.6M1427.4 1887V1932.6M1430 1887V1932.6M1433.6 1887V1932.6M1457.3 1887V1932.6" fill="none" stroke="#000" stroke-width="0.75" stroke-opacity="0.8"/>
<rect x="1099.3" y="1932.6" width="67.85" height="19" fill="#da3a33"/>
<rect x="1166.85" y="1932.6" width="51.33" height="19" fill="#ea6b52"/>
<rect x="1217.87" y="1932.6" width="45.82" height="19" fill="#eba693"/>
<rect x="1263.39" y="1932.6" width="40.68" height="19" fill="#f2dcd2"/>
<rect x="1303.77" y="1932.6" width="51.33" height="19" fill="#e6ecf7"/>
<rect x="1354.8" y="1932.6" width="42.88" height="19" fill="#bcd8e8"/>
<rect x="1397.39" y="1932.6" width="21.59" height="19" fill="#7ab4d8"/>
<rect x="1418.68" y="1932.6" width="48.02" height="19" fill="#4a8cc8"/>
<text x="1099" y="1985" font-size="26">TOX(WT)</text>
<text x="1459.5" y="1985" font-size="26" text-anchor="end">Control</text>
<line x1="1633.5" y1="1692" x2="1633.5" y2="1884.5" stroke="#e4e4e4" stroke-width="0.8"/>
<line x1="1696.4" y1="1692" x2="1696.4" y2="1884.5" stroke="#e4e4e4" stroke-width="0.8"/>
<line x1="1759" y1="1692" x2="1759" y2="1884.5" stroke="#e4e4e4" stroke-width="0.8"/>
<line x1="1821" y1="1692" x2="1821" y2="1884.5" stroke="#e4e4e4" stroke-width="0.8"/>
<line x1="1884.4" y1="1692" x2="1884.4" y2="1884.5" stroke="#e4e4e4" stroke-width="0.8"/>
<line x1="1570.5" y1="1692" x2="1570.5" y2="1884.5" stroke="#444" stroke-width="1.1"/>
<line x1="1570.5" y1="1705.9" x2="1933.7" y2="1705.9" stroke="#555" stroke-width="1.1" stroke-dasharray="5 2.5"/>
<line x1="1567.5" y1="1705.9" x2="1570.5" y2="1705.9" stroke="#444" stroke-width="1"/>
<text x="1565.5" y="1713.9" font-size="22" text-anchor="end">0.0</text>
<line x1="1567.5" y1="1739.84" x2="1570.5" y2="1739.84" stroke="#444" stroke-width="1"/>
<text x="1565.5" y="1747.84" font-size="22" text-anchor="end">-0.1</text>
<line x1="1567.5" y1="1773.78" x2="1570.5" y2="1773.78" stroke="#444" stroke-width="1"/>
<text x="1565.5" y="1781.78" font-size="22" text-anchor="end">-0.2</text>
<line x1="1567.5" y1="1807.72" x2="1570.5" y2="1807.72" stroke="#444" stroke-width="1"/>
<text x="1565.5" y="1815.72" font-size="22" text-anchor="end">-0.3</text>
<line x1="1567.5" y1="1841.66" x2="1570.5" y2="1841.66" stroke="#444" stroke-width="1"/>
<text x="1565.5" y="1849.66" font-size="22" text-anchor="end">-0.4</text>
<line x1="1567.5" y1="1875.6" x2="1570.5" y2="1875.6" stroke="#444" stroke-width="1"/>
<text x="1565.5" y="1883.6" font-size="22" text-anchor="end">-0.5</text>
<path d="M1570.55 1705.91 L1578.2 1711.43 L1586.71 1715.69 L1587.56 1714.41 L1603.72 1727.17 L1620.73 1743.33 L1631.36 1747.58 L1641.99 1751.84 L1663.26 1766.72 L1680.27 1783.73 L1690.9 1787.13 L1693.03 1788.84 L1714.29 1807.12 L1739.81 1824.98 L1765.32 1846.25 L1790.84 1864.54 L1803.6 1867.94 L1808.7 1866.66 L1816.36 1870.91 L1829.11 1875.59 L1833.37 1870.91 L1841.87 1872.19 L1846.98 1873.89 L1851.23 1862.41 L1858.88 1867.94 L1863.14 1860.28 L1869.52 1863.26 L1873.77 1849.65 L1878.02 1845.4 L1882.27 1843.27 L1885.25 1839.02 L1890.78 1822.01 L1895.03 1816.48 L1899.29 1811.38 L1903.54 1807.12 L1907.79 1802.87 L1911.19 1805 L1913.32 1781.61 L1915.87 1779.48 L1918.42 1747.58 L1920.98 1743.33 L1923.53 1716.96 L1926.08 1715.69 L1929.06 1700.8 L1933.73 1705.06" fill="none" stroke="#46e016" stroke-width="1.4" stroke-linejoin="round"/>
<text x="1755" y="1674" font-size="25.5" text-anchor="middle">Effector signature</text>
<text x="1750.5" y="1751" font-size="25.5">NES=-1.79</text>
<text x="1750.5" y="1782.5" font-size="25.5"><tspan font-style="italic">P</tspan>=0.0000</text>
<path d="M1580.6 1887V1932.6M1589.5 1887V1932.6M1605 1887V1932.6M1610.1 1887V1932.6M1612.5 1887V1932.6M1615.5 1887V1932.6M1622.1 1887V1932.6M1624.2 1887V1932.6M1636.4 1887V1932.6M1636.9 1887V1932.6M1642.3 1887V1932.6M1642.8 1887V1932.6M1650.4 1887V1932.6M1651.3 1887V1932.6M1651.7 1887V1932.6M1652.4 1887V1932.6M1670 1887V1932.6M1679.5 1887V1932.6M1679.6 1887V1932.6M1686.5 1887V1932.6M1686.7 1887V1932.6M1692.3 1887V1932.6M1696.3 1887V1932.6M1697 1887V1932.6M1700.3 1887V1932.6M1701.4 1887V1932.6M1702 1887V1932.6M1702.7 1887V1932.6M1704.2 1887V1932.6M1708.2 1887V1932.6M1711.9 1887V1932.6M1713.5 1887V1932.6M1713.6 1887V1932.6M1714.4 1887V1932.6M1718.6 1887V1932.6M1720.1 1887V1932.6M1722.3 1887V1932.6M1730.4 1887V1932.6M1730.9 1887V1932.6M1731.7 1887V1932.6M1732.5 1887V1932.6M1732.6 1887V1932.6M1732.7 1887V1932.6M1733.2 1887V1932.6M1733.5 1887V1932.6M1734.9 1887V1932.6M1735.1 1887V1932.6M1736.3 1887V1932.6M1740.8 1887V1932.6M1741.2 1887V1932.6M1742.4 1887V1932.6M1743.3 1887V1932.6M1743.6 1887V1932.6M1743.9 1887V1932.6M1746.3 1887V1932.6M1746.8 1887V1932.6M1747.2 1887V1932.6M1747.5 1887V1932.6M1748.3 1887V1932.6M1748.4 1887V1932.6M1750 1887V1932.6M1751 1887V1932.6M1751.2 1887V1932.6M1752.3 1887V1932.6M1753.9 1887V1932.6M1754 1887V1932.6M1754.8 1887V1932.6M1755.1 1887V1932.6M1755.8 1887V1932.6M1758.1 1887V1932.6M1759.4 1887V1932.6M1759.4 1887V1932.6M1762.5 1887V1932.6M1767 1887V1932.6M1769.4 1887V1932.6M1769.5 1887V1932.6M1771 1887V1932.6M1772.4 1887V1932.6M1773.8 1887V1932.6M1774.1 1887V1932.6M1774.4 1887V1932.6M1779.7 1887V1932.6M1780.6 1887V1932.6M1780.7 1887V1932.6M1780.8 1887V1932.6M1782.3 1887V1932.6M1782.6 1887V1932.6M1784.2 1887V1932.6M1786.5 1887V1932.6M1787.4 1887V1932.6M1787.5 1887V1932.6M1788.9 1887V1932.6M1789.5 1887V1932.6M1790.4 1887V1932.6M1792.6 1887V1932.6M1792.6 1887V1932.6M1793.4 1887V1932.6M1794.8 1887V1932.6M1796.2 1887V1932.6M1797.2 1887V1932.6M1797.5 1887V1932.6M1798.6 1887V1932.6M1798.8 1887V1932.6M1799 1887V1932.6M1799.1 1887V1932.6M1799.8 1887V1932.6M1801.5 1887V1932.6M1803.6 1887V1932.6M1805.5 1887V1932.6M1805.6 1887V1932.6M1806.6 1887V1932.6M1807.9 1887V1932.6M1808 1887V1932.6M1811.4 1887V1932.6M1812 1887V1932.6M1816.9 1887V1932.6M1818.9 1887V1932.6M1819.3 1887V1932.6M1820.2 1887V1932.6M1820.5 1887V1932.6M1820.5 1887V1932.6M1821.4 1887V1932.6M1821.9 1887V1932.6M1823.3 1887V1932.6M1825.1 1887V1932.6M1825.2 1887V1932.6M1825.5 1887V1932.6M1825.6 1887V1932.6M1826.6 1887V1932.6M1826.9 1887V1932.6M1828.1 1887V1932.6M1828.2 1887V1932.6M1830.4 1887V1932.6M1830.9 1887V1932.6M1831.5 1887V1932.6M1832.5 1887V1932.6M1833.7 1887V1932.6M1833.8 1887V1932.6M1833.9 1887V1932.6M1835.9 1887V1932.6M1837.8 1887V1932.6M1837.9 1887V1932.6M1840.6 1887V1932.6M1840.7 1887V1932.6M1842 1887V1932.6M1844.9 1887V1932.6M1846.2 1887V1932.6M1847.3 1887V1932.6M1847.4 1887V1932.6M1848.1 1887V1932.6M1849 1887V1932.6M1849.3 1887V1932.6M1853.9 1887V1932.6M1854.1 1887V1932.6M1854.6 1887V1932.6M1855 1887V1932.6M1855 1887V1932.6M1858.3 1887V1932.6M1859.5 1887V1932.6M1859.8 1887V1932.6M1862.1 1887V1932.6M1862.6 1887V1932.6M1863.7 1887V1932.6M1864 1887V1932.6M1865.9 1887V1932.6M1868.7 1887V1932.6M1870.2 1887V1932.6M1871.4 1887V1932.6M1871.9 1887V1932.6M1874 1887V1932.6M1874.8 1887V1932.6M1874.9 1887V1932.6M1875.6 1887V1932.6M1876.1 1887V1932.6M1876.5 1887V1932.6M1876.9 1887V1932.6M1877 1887V1932.6M1877.7 1887V1932.6M1878.2 1887V1932.6M1878.9 1887V1932.6M1879.4 1887V1932.6M1881.7 1887V1932.6M1881.9 1887V1932.6M1882.9 1887V1932.6M1884.7 1887V1932.6M1885.2 1887V1932.6M1886.2 1887V1932.6M1888.4 1887V1932.6M1890.5 1887V1932.6M1890.7 1887V1932.6M1891.6 1887V1932.6M1892.8 1887V1932.6M1893.5 1887V1932.6M1894 1887V1932.6M1894.3 1887V1932.6M1896.1 1887V1932.6M1897.9 1887V1932.6M1898 1887V1932.6M1899.4 1887V1932.6M1899.5 1887V1932.6M1900.6 1887V1932.6M1903.1 1887V1932.6M1903.3 1887V1932.6M1904.4 1887V1932.6M1904.6 1887V1932.6M1904.8 1887V1932.6M1907.4 1887V1932.6M1907.4 1887V1932.6M1910.5 1887V1932.6M1910.6 1887V1932.6M1910.8 1887V1932.6M1913.6 1887V1932.6M1914.1 1887V1932.6M1914.4 1887V1932.6M1918.3 1887V1932.6M1921 1887V1932.6M1921 1887V1932.6M1921 1887V1932.6M1921.1 1887V1932.6M1922.9 1887V1932.6M1923.4 1887V1932.6M1926.3 1887V1932.6M1926.5 1887V1932.6M1928.6 1887V1932.6M1930.2 1887V1932.6M1931 1887V1932.6M1932.7 1887V1932.6M1933.3 1887V1932.6M1933.4 1887V1932.6M1933.4 1887V1932.6" fill="none" stroke="#000" stroke-width="0.75" stroke-opacity="0.8"/>
<rect x="1570.5" y="1932.6" width="4.66" height="19" fill="#c9302c"/>
<rect x="1574.86" y="1932.6" width="28.27" height="19" fill="#e04a3e"/>
<rect x="1602.82" y="1932.6" width="30.08" height="19" fill="#ec7058"/>
<rect x="1632.61" y="1932.6" width="37.35" height="19" fill="#eda48f"/>
<rect x="1669.65" y="1932.6" width="30.08" height="19" fill="#f4dfd3"/>
<rect x="1699.44" y="1932.6" width="30.08" height="19" fill="#e8eef8"/>
<rect x="1729.22" y="1932.6" width="25.72" height="19" fill="#b5d3e6"/>
<rect x="1754.64" y="1932.6" width="51.51" height="19" fill="#6aaed6"/>
<rect x="1805.85" y="1932.6" width="119.07" height="19" fill="#3f83c2"/>
<rect x="1924.62" y="1932.6" width="9.38" height="19" fill="#2f5fb0"/>
<text x="1569.5" y="1985" font-size="26">TOX(4KR)</text>
<text x="1937.5" y="1985" font-size="26" text-anchor="end">TOX(WT)</text>
</g>
<g id="p-l">
<text x="7" y="2028" font-size="34" font-weight="bold">l</text>
<rect x="59.8" y="2042.6" width="245.9" height="245.4" fill="#fff" stroke="#000" stroke-width="1.3"/>
<path d="M60.24 2167.58C63.18 2167.48 79.86 2166.95 85.42 2166.68C90.98 2166.42 103.7 2165.6 107.9 2165.34C112.1 2165.07 118.76 2164.96 121.39 2164.44C124.01 2163.91 128.28 2162.57 130.38 2160.84C132.48 2159.11 137.27 2153.27 139.37 2149.6C141.47 2145.93 146.26 2133.57 148.36 2129.37C150.46 2125.17 155.52 2117.57 157.35 2113.63C159.19 2109.7 162.89 2098.8 164.1 2095.65C165.3 2092.5 166.64 2086.14 167.69 2086.66C168.74 2087.18 171.67 2096.48 173.09 2100.15C174.5 2103.82 178.26 2113.41 179.83 2118.13C181.41 2122.85 185 2136.41 186.58 2140.61C188.15 2144.81 191.75 2151.47 193.32 2154.1C194.89 2156.72 198.49 2161.57 200.06 2163.09C201.64 2164.61 194.53 2166.61 206.81 2167.13C219.08 2167.66 293.78 2167.53 305.26 2167.58Z" fill="#c9c9c9" stroke="#9a9a9a" stroke-width="1.1" fill-opacity="0.9"/>
<path d="M60.24 2228.73C63.71 2228.57 83.83 2227.85 89.92 2227.38C96 2226.91 107.67 2225.36 112.39 2224.68C117.12 2224 126.71 2222.95 130.38 2221.53C134.05 2220.12 141.24 2214.9 143.87 2212.54C146.49 2210.18 151.18 2202.72 152.86 2201.3C154.54 2199.89 156.68 2202.24 158.25 2200.4C159.83 2198.57 164.61 2187.56 166.34 2185.57C168.08 2183.57 171.51 2185.16 173.09 2183.32C174.66 2181.48 178.26 2172.72 179.83 2169.83C181.41 2166.95 184.95 2161.11 186.58 2158.59C188.2 2156.07 192.46 2147.99 193.77 2148.25C195.08 2148.51 196.82 2155.7 197.82 2160.84C198.81 2165.98 201.16 2186.02 202.31 2192.31C203.46 2198.6 206.39 2211.12 207.71 2214.79C209.02 2218.46 211.82 2222.21 213.55 2223.78C215.28 2225.35 211.84 2227.7 222.54 2228.28C233.24 2228.85 295.61 2228.67 305.26 2228.73Z" fill="#9fe3d6" stroke="#3fb3a6" stroke-width="1.1" fill-opacity="0.85"/>
<path d="M139.37 2288.07C140.42 2287.39 146.26 2284.48 148.36 2282.23C150.46 2279.97 155.36 2271.89 157.35 2268.74C159.35 2265.59 163.61 2257.09 165.45 2255.25C167.28 2253.42 171.41 2254.58 173.09 2253C174.77 2251.43 178 2245.17 179.83 2241.76C181.67 2238.36 186.73 2228.19 188.82 2223.78C190.92 2219.38 196.24 2204 197.82 2204C199.39 2204 201.16 2217.8 202.31 2223.78C203.46 2229.76 206.55 2249.22 207.71 2255.25C208.86 2261.28 211.15 2271.65 212.2 2275.48C213.25 2279.31 216.17 2286.6 216.7 2288.07Z" fill="#f4bcbc" stroke="#e8757d" stroke-width="1.1" fill-opacity="0.85"/>
<rect x="59.8" y="2042.6" width="245.9" height="245.4" fill="none" stroke="#000" stroke-width="1.3"/>
<path d="M82.8 2288v5.5M195.3 2288v5.5M240.3 2288v5.5M284.8 2288v5.5M116.67 2288v3M136.48 2288v3M150.53 2288v3M161.43 2288v3M170.34 2288v3M177.87 2288v3M184.4 2288v3M190.15 2288v3M208.85 2288v3M216.77 2288v3M222.39 2288v3M226.75 2288v3M230.32 2288v3M233.33 2288v3M235.94 2288v3M238.24 2288v3M253.7 2288v3M261.53 2288v3M267.09 2288v3M271.4 2288v3M274.93 2288v3M277.91 2288v3M280.49 2288v3M282.76 2288v3M298.35 2288v3" fill="none" stroke="#000" stroke-width="1"/>
<rect x="111.8" y="2288.5" width="8" height="4.5" fill="#000"/>
<line x1="32" y1="2135" x2="32" y2="2059" stroke="#000" stroke-width="1.6"/>
<polygon points="32,2047 39,2060 25,2060" fill="#000"/>
<text font-size="26" text-anchor="middle" transform="translate(38 2217) rotate(-90)">% of Max</text>
<text x="64" y="2328" font-size="26">TOX PE</text>
<line x1="179" y1="2321.5" x2="290.5" y2="2321.5" stroke="#000" stroke-width="1.6"/>
<polygon points="302.5,2321.5 289.5,2328 289.5,2315" fill="#000"/>
<rect x="404.6" y="2236.72" width="29.3" height="63.48" fill="#fff" stroke="#000" stroke-width="2.6"/>
<rect x="454" y="2163.7" width="29.3" height="136.5" fill="#fff" stroke="#000" stroke-width="2.6"/>
<rect x="503.9" y="2116.4" width="29.3" height="183.8" fill="#fff" stroke="#000" stroke-width="2.6"/>
<line x1="386.6" y1="2052.05" x2="386.6" y2="2301.55" stroke="#000" stroke-width="2.7"/>
<line x1="374.5" y1="2300.2" x2="552" y2="2300.2" stroke="#000" stroke-width="2.7"/>
<line x1="376.6" y1="2300.2" x2="386.6" y2="2300.2" stroke="#000" stroke-width="2.7"/>
<text x="372.6" y="2307.3" font-size="20" text-anchor="end" font-weight="bold">0</text>
<line x1="376.6" y1="2217.93" x2="386.6" y2="2217.93" stroke="#000" stroke-width="2.7"/>
<text x="372.6" y="2225.03" font-size="20" text-anchor="end" font-weight="bold">4</text>
<line x1="376.6" y1="2135.67" x2="386.6" y2="2135.67" stroke="#000" stroke-width="2.7"/>
<text x="372.6" y="2142.77" font-size="20" text-anchor="end" font-weight="bold">8</text>
<line x1="376.6" y1="2053.4" x2="386.6" y2="2053.4" stroke="#000" stroke-width="2.7"/>
<text x="372.6" y="2060.5" font-size="20" text-anchor="end" font-weight="bold">12</text>
<circle cx="421.75" cy="2220.2" r="4.4" fill="#8a8a8a"/>
<circle cx="413.65" cy="2228.22" r="4.4" fill="#8a8a8a"/>
<circle cx="406.85" cy="2237.27" r="4.4" fill="#8a8a8a"/>
<circle cx="421.75" cy="2236.44" r="4.4" fill="#8a8a8a"/>
<circle cx="424.85" cy="2242.61" r="4.4" fill="#8a8a8a"/>
<circle cx="430.75" cy="2245.29" r="4.4" fill="#8a8a8a"/>
<line x1="419.25" y1="2231.3" x2="419.25" y2="2239.53" stroke="#000" stroke-width="1.3"/>
<line x1="408.4" y1="2231.3" x2="430.1" y2="2231.3" stroke="#000" stroke-width="1.3"/>
<line x1="408.4" y1="2239.53" x2="430.1" y2="2239.53" stroke="#000" stroke-width="1.3"/>
<circle cx="460.65" cy="2142.86" r="4.4" fill="#4aa6b1"/>
<circle cx="476.65" cy="2142.86" r="4.4" fill="#4aa6b1"/>
<circle cx="468.65" cy="2155.41" r="4.4" fill="#4aa6b1"/>
<circle cx="468.65" cy="2170.63" r="4.4" fill="#4aa6b1"/>
<circle cx="460.65" cy="2183.38" r="4.4" fill="#4aa6b1"/>
<circle cx="476.65" cy="2183.38" r="4.4" fill="#4aa6b1"/>
<line x1="468.65" y1="2154.59" x2="468.65" y2="2170.22" stroke="#000" stroke-width="1.3"/>
<line x1="457.8" y1="2154.59" x2="479.5" y2="2154.59" stroke="#000" stroke-width="1.3"/>
<line x1="457.8" y1="2170.22" x2="479.5" y2="2170.22" stroke="#000" stroke-width="1.3"/>
<circle cx="518.55" cy="2101.11" r="4.4" fill="#f07a84"/>
<circle cx="511.55" cy="2110.58" r="4.4" fill="#f07a84"/>
<circle cx="524.55" cy="2110.58" r="4.4" fill="#f07a84"/>
<circle cx="507.55" cy="2115.92" r="4.4" fill="#f07a84"/>
<circle cx="518.55" cy="2121.27" r="4.4" fill="#f07a84"/>
<circle cx="529.55" cy="2124.97" r="4.4" fill="#f07a84"/>
<line x1="518.55" y1="2110.99" x2="518.55" y2="2119.21" stroke="#000" stroke-width="1.3"/>
<line x1="507.7" y1="2110.99" x2="529.4" y2="2110.99" stroke="#000" stroke-width="1.3"/>
<line x1="507.7" y1="2119.21" x2="529.4" y2="2119.21" stroke="#000" stroke-width="1.3"/>
<text font-size="26" text-anchor="middle" transform="translate(340 2184) rotate(-90)">TOX MFI (×10<tspan dy="-9.36" font-size="16.12">2</tspan><tspan dy="9.36">)</tspan></text>
<line x1="419.5" y1="2050.7" x2="518" y2="2050.7" stroke="#000" stroke-width="3.6"/>
<text x="474.23" y="2048.19" font-size="27.75" text-anchor="middle" font-weight="bold" letter-spacing="3.63">****</text>
<line x1="471.2" y1="2083" x2="518" y2="2083" stroke="#000" stroke-width="3.6"/>
<text x="498.86" y="2080.49" font-size="27.75" text-anchor="middle" font-weight="bold" letter-spacing="3.63">***</text>
<line x1="419.5" y1="2112.3" x2="468.5" y2="2112.3" stroke="#000" stroke-width="3.6"/>
<text x="449.48" y="2109.79" font-size="27.75" text-anchor="middle" font-weight="bold" letter-spacing="3.63">****</text>
<circle cx="573.7" cy="2050.2" r="4.3" fill="#8a8a8a"/>
<text x="583.6" y="2059.5" font-size="26">Control</text>
<circle cx="573.7" cy="2084" r="4.3" fill="#4aa6b1"/>
<text x="583.6" y="2093.3" font-size="26">TOX(WT)</text>
<circle cx="573.7" cy="2117.7" r="4.3" fill="#f07a84"/>
<text x="583.6" y="2127" font-size="26">TOX(4KR)</text>
</g>
<g id="p-m">
<text x="734" y="2028" font-size="34" font-weight="bold">m</text>
<rect x="792.2" y="2088.9" width="196.4" height="195.9" fill="#fff" stroke="#000" stroke-width="1.3"/>
<path d="M804.2 2284.8v6M868.7 2284.8v6M922.2 2284.8v6M969.2 2284.8v6M823.62 2284.8v3.2M834.97 2284.8v3.2M843.03 2284.8v3.2M849.28 2284.8v3.2M854.39 2284.8v3.2M858.71 2284.8v3.2M862.45 2284.8v3.2M865.75 2284.8v3.2M884.81 2284.8v3.2M894.23 2284.8v3.2M900.91 2284.8v3.2M906.09 2284.8v3.2M910.33 2284.8v3.2M913.91 2284.8v3.2M917.02 2284.8v3.2M919.75 2284.8v3.2M936.35 2284.8v3.2M944.62 2284.8v3.2M950.5 2284.8v3.2M955.05 2284.8v3.2M958.77 2284.8v3.2M961.92 2284.8v3.2M964.65 2284.8v3.2M967.05 2284.8v3.2M983.35 2284.8v3.2M792.2 2272h-6M792.2 2207h-6M792.2 2154h-6M792.2 2107.5h-6M792.2 2252.43h-3.2M792.2 2240.99h-3.2M792.2 2232.87h-3.2M792.2 2226.57h-3.2M792.2 2221.42h-3.2M792.2 2217.07h-3.2M792.2 2213.3h-3.2M792.2 2209.97h-3.2M792.2 2191.05h-3.2M792.2 2181.71h-3.2M792.2 2175.09h-3.2M792.2 2169.95h-3.2M792.2 2165.76h-3.2M792.2 2162.21h-3.2M792.2 2159.14h-3.2M792.2 2156.43h-3.2M792.2 2140h-3.2M792.2 2131.81h-3.2M792.2 2126h-3.2M792.2 2121.5h-3.2M792.2 2117.82h-3.2M792.2 2114.7h-3.2M792.2 2112.01h-3.2M792.2 2109.63h-3.2M792.2 2093.5h-3.2" fill="none" stroke="#000" stroke-width="1.15"/>
<rect x="832.7" y="2285.1" width="7" height="4.3" fill="#000"/>
<path d="M830.2 2284.8v4M842.2 2284.8v4" fill="none" stroke="#000" stroke-width="1"/>
<rect x="787.6" y="2236.5" width="4.3" height="7" fill="#000"/>
<path d="M792.2 2234h-4M792.2 2246h-4" fill="none" stroke="#000" stroke-width="1"/>
<path d="M836.9 2224.4l.8-.5 1 .1 1 .7 1 1.6 .5 2.1 0 2-.5 2.6-1 1.7-1 .7-1 .1-1-.5-1-1.2-.7-2.4-.2-2 .4-2 .5-1.5zM836.9 2220.4l1.8-.3 1 .4 1 .9 1.6 3 .7 3 0 4-.7 3-1.6 3-2 1.3-2-.3-1-.7-1-1.1-1-2.2-.6-3 0-3 .6-3.3 1.3-2.7 .7-1zM837.5 2184.4l1.2-.5 1.2 .5 .8 1.2 .7 2.8-.1 3-.6 2.4-1 1.7-1 .5-1-.2-1-1.2-1-3.2-.1-2 .3-2 .8-2zM837.6 2218.4l1.1-.1 1 .4 2 2.1 1.5 3.6 .7 5-.5 4-.6 2-.9 2-1.2 1.4-1 .8-2 .4-2-.9-2-2.5-1.1-3.2-.3-3 .3-4 1.1-3.7 2-3.1zM838.2 2181.4l1.5 0 1 .7 .9 1.3 .8 2 .4 3-.2 4-.9 3.7-1 2-1 1-1 .3-1-.3-1-.8-1-1.6-1-2.9-.4-3.4 .2-3 .9-3 1.3-2.1zM836.1 2217.4l1.6-.9 1-.1 1 .3 1 .8 1 1.3 1.4 2.6 .9 3 .5 3-.1 5-1.1 4-1.7 3-1.1 1-1.8 .8-2-.2-2.2-1.6-1.8-3-1-4 0-5 .8-4 1.3-3 .9-1.5zM836.6 2180.4l1.1-.8 1-.2 1 .1 1.5 .9 .8 1 1 2 .9 4-.2 5-1 4.9-1 2.4-1 1.5-1 .9-1 .3-1-.4-2-2.3-1.4-3.3-.9-4 0-4 .5-3 1.1-3zM838 2214.4l.7-.1 1 .3 1 .9 2 2.9 1.8 5 .6 3 .1 3-.6 5-.9 2.9-1 2-2 2.2-1 .5-2 .4-2-.8-1-.7-2-2.8-1.3-3.7-.5-5 .7-5 1.3-4 1-2 1.8-2.5 1-.9zM837.2 2178.4l1.5-.5 1 .1 1 .4 1.3 1 1.8 3 .6 2 .4 3-.3 6-1.3 6-1.5 3.5-1 1.6-1 1.1-1 .4-1-.6-1-1.3-2-3.7-1.4-4-.8-5 .2-4 .9-4 1.5-3zM838.5 2211.4l1.2 .4 1 1.1 3 5.6 1.7 5.9 .4 5-.5 5-.9 3-1 2-1.4 2-1.3 1.2-1 .5-2 .3-2-.7-1-.7-2.1-2.6-.9-2-.9-3-.4-5 .5-5 1.8-5.5 3-5.1 2-2.1zM836.3 2177.4l1.4-.7 2-.2 2 .9 1 .9 1.4 2.1 .8 2 .8 5-.1 4-.6 5-1 4-1.9 6-.4 3 .3 2 2.7 7.5 1.2 4.5 .5 5-.2 4-.8 4-1.7 4.1-2 2.5-1 .7-2 .7-2-.2-1-.4-1.8-1.4-1.2-1.5-1-1.8-1-2.7-.7-3-.2-3 .3-5 .9-4 1.7-4.5 2.6-5.5 .6-2-.3-3-3.2-10-.7-6 .3-4 1-4 1.5-3zM836.8 2175.4l1.9-.5 2 .3 2 1.2 1 1.1 1.2 1.9 .8 2 .7 3 .3 3-.5 8-2.3 11-.3 3 .3 3 2.2 8 .7 4 .3 5-.3 4-1.2 5-1.9 3.7-2 2.3-1 .6-2 .7-2-.2-2-1-1.2-1.1-1.5-2-1.1-2-1-3-.8-6 .2-4 .6-4 1.2-4 2.3-6 .7-4-.4-3-1.8-7-.8-4-.2-4 .2-4 .9-4 1.2-3 1.5-2.3zM837.1 2173.4l1.6-.4 2 .2 2 1.1 2 1.9 1.4 2.2 1.1 3 .8 6-.5 8-1.9 11-.3 3 .4 4 1.6 8 .6 4 .1 5-.4 4-1.4 5-2 4-2.5 2.7-1 .6-2 .6-2-.2-2-1-2-1.8-1.4-1.9-2.1-5-.7-4-.3-3 .2-4 .6-4 2.8-10 .6-4-.3-3-2.1-11-.1-5 .3-4 .9-4 1.6-3.7 2-2.7zM836.2 2172.4l2.5-.8 2 .2 2 .9 2 1.7 1.5 2 1.5 3 .8 3 .5 4-.5 9-2 14 .2 4 1.9 12 .1 5-.4 4-1.3 5-2.3 4.9-1 1.3-2 1.8-1 .6-2 .5-2-.2-2-.9-2-1.7-1.7-2.3-1.5-3-1-3-.6-3-.3-4 .5-7 2.7-11 .5-4-.2-3-1.9-12-.1-4 .3-4 .9-4 1.5-4 1.9-2.9zM887.3 2172.4l3.4-.1 2 .5 1 .7 .3 .9-.2 1-1.9 2-1.7 1-2.5 1.1-3 .7-2 .2-2-.2-1.9-.8-.8-1 0-1 .4-1 1.3-1.2 3.5-1.8zM885.4 2170.4l5.3-.8 4 .4 1.3 .4 1.7 1.1 1 1.9 0 1-1.1 2-2.9 2.4-5 2.5-4 1.3-4 .6-3-.2-3-1-2.2-1.6-.5-1-.1-2 .5-1 1.3-1.4 2.3-1.6 2-1zM836.2 2171.4l2.5-.7 2 .1 3 1.5 2 2 1.5 2.1 1.4 3 .8 3 .3 4-.4 8-1.9 15 .1 4 1.7 13-.1 5-.5 4-1.3 5-1.4 3-1.2 2-1 1.2-2 1.7-3 1.1-2-.2-2-.9-2-1.6-2-2.6-1.4-2.7-1-3-.9-4-.3-4 .5-7 2.5-11 .4-4-.1-3-1.8-12-.1-4 .5-5 1.3-5 1.4-3.2 2-2.9zM885.7 2168.4l7-.8 3 .3 2 .5 2 1 1.9 2 .7 2-.4 2-1.2 1.7-1.4 1.3-3.6 2.3-6 2.8-6 1.6-4 .4-4-.5-4-1.6-2.4-2-.6-1.1-.3-1.9 .8-2 1.8-2 3-2 2.7-1.3 5-1.7zM836 2170.4l2.7-.8 2 .2 3 1.3 2 1.8 2 2.5 1.5 3 1 3 .4 4-.4 8-2 17 .2 4 1.3 12 0 5-.5 4-1.7 6-1.3 3-1.3 2-1.2 1.4-2 1.6-3 1-3-.5-2-1.2-2-2-1.6-2.3-1.8-4-.9-3-.8-7 .5-8 2.2-10 .4-3.2-.1-3.8-1.6-12 0-5 .4-4 1.2-5 1.7-4 2.4-3.3zM887.4 2166.4l4.3-.5 4 .1 3 .6 3 1.4 2.6 2.4 .9 2 0 2-.7 2-2.9 3-5.1 3-7.8 3.3-6 1.5-5 .3-5-.8-4-1.6-2-1.4-1.2-1.3-.9-2-.1-1 .3-2 1.2-2 2.2-2 3.2-2 4.6-2 5.7-1.7zM835.7 2169.4l2-.8 3 0 3 1.3 2 1.5 2.6 3 1.7 3 1.1 3 .6 4-.4 8-2.1 18 1.2 17-.2 5-.6 4-1.7 6-1.5 3-1.3 2-1.4 1.6-2 1.5-3 .9-3-.4-2-1.2-2-1.9-1.8-2.5-1.5-3-1.1-3-.8-4-.4-4 .3-8 2.1-11 .4-4-.2-4-1.4-11 0-5 .5-4 1.1-5 1.8-4.5 2-3zM889.9 2164.4l4.8-.3 4 .5 3 1 3.1 1.8 2 2 1.4 3-.2 3-1 2-3.3 3.1-7.2 3.9-8.8 3.5-7 1.6-6 .1-5-1-3-1.1-1.8-1.1-1.4-1-1.8-2-.6-1-.6-2 .5-3 2.1-3 2.6-2.2 4-2.2 6-2.3 7-2zM837.5 2167.4l2.2-.2 3 .8 2 1.1 2.6 2.3 3.2 4 1.7 3 1 3 .2 2-.3 4-2.7 22-.1 5 .9 14-.3 4-.7 5-1.9 6-2.6 4.7-3 3-2 1.1-2 .4-3-.4-2-1.1-2-1.8-2.2-2.9-1.9-4-1.2-4-.7-4-.3-4 .5-8 2.1-13-.1-4-1.3-13 .1-5 .7-5 1.7-6 2-4 2.6-3 2-1.3zM886 2163.4l5.7-.8 5 0 5 .9 4 1.8 2 1.5 1.6 1.6 1.7 3 .3 3-1.1 3-1.7 2-1.8 1.5-6 3.5-11 4.7-5 1.6-4 .9-6 .5-5-.5-5-1.5-6-3.4-1-.4-1 .2-1 1-.4 .9-1.2 4-2.3 16-.3 6 .5 11-.1 5-.7 6-1.3 5-2.6 6-1.6 2.3-2 2.1-2 1.3-2 .7-3 0-2-.7-2-1.3-1.4-1.4-1.6-2.1-1.7-2.9-2.1-6-1.1-7 .2-9 1.8-11 .3-4-1.2-14 .1-8 1.2-7 1.4-4 1.4-3 2.2-3 2.5-2.2 3-1.2 3-.1 3 1.1 2 1.3 2.4 2.1 5.6 5.7 1 .6 1 .2 2-1.2 5.1-4.3 4.9-2.7 8-2.8zM886.2 2161.4l6.5-.9 5 .1 5 .9 5 2 4.1 2.9 1.7 2 1.1 2 .6 3-.3 2-.8 2-1.4 2-2 1.9-5 3.1-12 5.4-11 4-6 1.4-6 .7-5-.4-6-1.6-1 0-1 .5-1 1.3-1 3-2 11-.5 5.7-.3 16-.9 6-2 7-2.5 5-1.8 2.4-2 1.8-2 1.3-3 .8-2-.1-2-.7-2-1.2-2-2-1.7-2.3-1.7-3-2.2-6-.8-4-.4-4 .1-9 1.7-11.7 .2-3.3-1-14 .1-8 1.4-8 1-3 1.8-4 1.5-2.3 2-2.2 3-2.1 2-.6 3-.1 3 1 3 1.8 5 4 2 1 1 .2 2-.4 7-3.9 5-2 9-2.6zM890.7 2158.4l6-.3 6 .7 6 1.8 5.4 2.8 3.4 3 1.5 2 .8 2 .3 3-.4 2-.9 2-1.3 2-1.9 2-2.4 2-3.5 2.2-33.6 14.8-16.4 9.6-2 2.3-1 2.1-.6 2-.7 4-1 12-.9 5-1.6 6-2.6 6-1.6 2.6-2 2.3-2 1.7-2 1.1-2 .6-2 .2-2-.4-2-.8-2-1.4-2-2.1-1.9-2.8-1.6-3-1.2-3-1.2-4-.7-4-.4-4 .1-9 1.6-15-.8-15 .2-8 1.5-8 1.7-5 1.6-3 2.1-3 2-2 2-1.4 3-1.2 2-.1 3 .5 3 1.4 6 3.8 3 .6 2-.4 7-3 6-1.9 12-2.8zM894.1 2154.4l7.6 .2 7 1.2 8 2.5 3 1.3 3.1 1.8 3.5 3 1.4 2 .8 2 .2 2-.1 2-1.6 4-2 3-2.7 3-2.6 2.3-3 2.2-6 3.2-15.1 6.3-3.7 2-3 2-2.3 2-2.6 3-6.3 9.6-4 4.9-4 3.3-7 3.5-2 1.5-2 3.1-4.3 13.1-2 5-2.9 5-3.7 4-2.1 1.5-2 1-3 .6-3-.2-3-1.2-3-2.4-1.9-2.3-1.9-3-1.9-4-1.6-5-.9-4-.9-8 0-7 1.3-16-.6-15 .3-8 .6-5 1.2-5 1.8-5 2-4 2.1-3 2.4-2.6 3-2.1 3-1.1 2-.2 3 .4 3 1.1 5 2.5 2 .6 2 0 11-2.9 6-1.2 15-2.7z" fill="none" stroke="#242424" stroke-width="0.6" stroke-linejoin="round"/>
<path d="M828.4 2125.4h0M819.1 2209.9h0M828.9 2161.4h0M928.7 2177.5h0M886.2 2209h0M918.1 2136.2h0M822.8 2159.4h0M874.3 2219.8h0M866 2237h0M824.1 2162.2h0M850 2254.1h0M908.1 2192.3h0M813.6 2186.6h0M813.9 2202.2h0M923.9 2148.1h0M935.8 2144.2h0M906.9 2193.1h0M862 2231.9h0M884.5 2242.3h0M817.4 2169.3h0M828.8 2260.4h0M829.4 2265.9h0M826.7 2162.1h0M900.4 2194h0M821.3 2205.7h0M887.7 2230.3h0M818.5 2200.8h0M832.6 2153.7h0M904.4 2196.8h0M913.4 2199h0M822 2243.1h0M827.6 2158.3h0M820.2 2179.1h0M849.6 2261.4h0M878.9 2151.1h0M892.2 2249.5h0M851.8 2158.7h0M834 2265h0M837 2149.6h0M846.9 2153.5h0M872.4 2247.2h0M830.6 2149.8h0M837 2141.1h0M828.7 2160.9h0M846.9 2144.3h0M933.6 2164h0M904.9 2193.9h0M852.3 2149.9h0M867.4 2225.5h0M936.6 2179.7h0M850.7 2159.6h0M934.2 2194.5h0M977.4 2170.2h0M863.5 2151.4h0M901.4 2198.5h0M902.4 2194.1h0M880.8 2251.8h0M840.4 2157h0M829.1 2267.4h0M830.9 2270.6h0M841.4 2281.8h0M860 2239.9h0M944.4 2168.7h0M871.7 2245.2h0M898 2227.1h0M842.7 2261.6h0M913.1 2147.9h0M822 2206.9h0M826.7 2155.1h0M881.8 2214.8h0" fill="none" stroke="#555" stroke-width="1.1" stroke-linecap="round"/>
<line x1="867.9" y1="2088.9" x2="867.9" y2="2284.8" stroke="#000" stroke-width="1.3"/>
<line x1="792.2" y1="2202.2" x2="988.6" y2="2202.2" stroke="#000" stroke-width="1.3"/>
<text x="804.2" y="2113.9" font-size="22.6">35.2</text>
<text x="980.6" y="2113.9" font-size="22.6" text-anchor="end">18.0</text>
<text x="804.2" y="2271.3" font-size="22.6">42.3</text>
<text x="980.6" y="2271.3" font-size="22.6" text-anchor="end">4.47</text>
<text x="892" y="2074" font-size="26" text-anchor="middle" fill="#808080">Control</text>
<rect x="1000.4" y="2088.9" width="196.8" height="195.9" fill="#fff" stroke="#000" stroke-width="1.3"/>
<path d="M1012.4 2284.8v6M1076.9 2284.8v6M1130.4 2284.8v6M1177.4 2284.8v6M1031.82 2284.8v3.2M1043.17 2284.8v3.2M1051.23 2284.8v3.2M1057.48 2284.8v3.2M1062.59 2284.8v3.2M1066.91 2284.8v3.2M1070.65 2284.8v3.2M1073.95 2284.8v3.2M1093.01 2284.8v3.2M1102.43 2284.8v3.2M1109.11 2284.8v3.2M1114.29 2284.8v3.2M1118.53 2284.8v3.2M1122.11 2284.8v3.2M1125.22 2284.8v3.2M1127.95 2284.8v3.2M1144.55 2284.8v3.2M1152.82 2284.8v3.2M1158.7 2284.8v3.2M1163.25 2284.8v3.2M1166.97 2284.8v3.2M1170.12 2284.8v3.2M1172.85 2284.8v3.2M1175.25 2284.8v3.2M1191.55 2284.8v3.2M1000.4 2272h-6M1000.4 2207h-6M1000.4 2154h-6M1000.4 2107.5h-6M1000.4 2252.43h-3.2M1000.4 2240.99h-3.2M1000.4 2232.87h-3.2M1000.4 2226.57h-3.2M1000.4 2221.42h-3.2M1000.4 2217.07h-3.2M1000.4 2213.3h-3.2M1000.4 2209.97h-3.2M1000.4 2191.05h-3.2M1000.4 2181.71h-3.2M1000.4 2175.09h-3.2M1000.4 2169.95h-3.2M1000.4 2165.76h-3.2M1000.4 2162.21h-3.2M1000.4 2159.14h-3.2M1000.4 2156.43h-3.2M1000.4 2140h-3.2M1000.4 2131.81h-3.2M1000.4 2126h-3.2M1000.4 2121.5h-3.2M1000.4 2117.82h-3.2M1000.4 2114.7h-3.2M1000.4 2112.01h-3.2M1000.4 2109.63h-3.2M1000.4 2093.5h-3.2" fill="none" stroke="#000" stroke-width="1.15"/>
<rect x="1040.9" y="2285.1" width="7" height="4.3" fill="#000"/>
<path d="M1038.4 2284.8v4M1050.4 2284.8v4" fill="none" stroke="#000" stroke-width="1"/>
<rect x="995.8" y="2236.5" width="4.3" height="7" fill="#000"/>
<path d="M1000.4 2234h-4M1000.4 2246h-4" fill="none" stroke="#000" stroke-width="1"/>
<path d="M1052.4 2183.4l.5-.2 1 .2 1 .9 .8 2.1 .2 2-.3 2-.7 2-1 1.3-1 .6-1 .1-1-.5-1-1.5-.4-3 .2-2 .8-2 .6-1zM1051.3 2180.4l1.6-.8 1 0 1 .4 1 .9 1.3 2.5 .7 4-.5 4-1.2 3-1.3 1.8-1 .9-2 .7-1-.2-1-.6-1-1.3-.9-2.3-.4-3 .2-3 .8-3 1.3-2.5zM1051.3 2177.4l1.6-.7 1-.1 2 .8 1 1 1 1.4 1 2.5 .6 4.1-.4 5-1.5 4-1.2 2-1.5 1.7-1 .8-2 .8-2-.4-1-.8-1-1.3-1.2-2.8-.6-4 .2-4 1-4 1.6-3.4 1-1.4zM1051.4 2175.4l1.5-.6 2 0 2 1.1 1 1.1 1.4 2.4 .7 2 .6 3 .1 3-.8 5-2 5-3 3.7-2 1.4-2 .6-1-.1-1-.6-1-1.2-1-1.7-1.4-4.1-.4-5 .5-5 1.3-4.1 2-3.6zM1046.5 2218.4l.4-.3 1 0 1 1.2 .6 3.1-.6 3.6-1 1.3-1 .3-1-.6-.4-.6-.6-1.6-.1-1.4 .4-3 .7-1.4zM1050.9 2174.4l2-.9 2 0 1.9 .9 1.2 1 1.4 2 1.3 3 .6 3 .2 3-.2 3-.6 3-1 3-1.5 3-2.3 3.1-2 1.9-2 1.4-2 .5-1-.5-1-1.1-2-4.2-1.1-4.1-.4-5 .6-5 1.5-5 2.3-4zM1046.7 2214.4l1.2-.5 1 .5 1 1.5 1 3.4 .3 3.1-.3 3.1-1 3-1 1.4-1 .7-1 .2-1.1-.4-.9-.8-.7-1.2-.7-2-.4-3 .3-3 .6-2 .9-2zM1053 2172.4l1.9 0 2 .7 1.5 1.3 1.5 2 1 2 .9 3 .4 3-.1 4-1 5-2.1 5-3.1 4.4-4.4 4.6-1.1 2 0 2 1.7 8 .2 3-.2 3-.8 3-1.4 2.8-1.2 1.2-1.8 .6-1-.2-1-.7-1.3-1.7-1.1-3-.5-3 .1-3 .9-4 1.9-4 2.4-4 .2-1-.2-2-3-10-.4-4 .1-4 1.1-6 2.2-5 2.6-3.4 2-1.3zM1053.7 2171.4l2.2 .3 2 1.1 1.6 1.6 1.4 2 .9 2 .8 3 .3 3-.2 4-1.1 5-1.5 4-2.2 3.8-4.7 6.2-.9 2-.2 3 .8 6.2 .2 3.8-.4 4-.7 3-1.1 2.3-1 1.4-1 .9-2 .6-2-.8-1.9-2.4-1.2-3-.5-3 0-3 .6-4 1-3.2 2.5-5.8 .4-2-.2-3-2-9-.2-4 .1-3 1.1-6 1.1-3 1.5-3 2.7-3.3 2-1.3zM1087.7 2172.4l2.2-.7 3 0 2.1 .7 .9 1 .2 1-.3 1-.9 1-1.6 1-2.4 .8-3-.1-2-1.1-.5-.6-.1-1 .2-1 .8-1zM1090.8 2169.4l4.1 .2 3 1.1 1 .7 .7 1 .3 1-.5 2-1.5 1.7-1.8 1.3-4.2 1.6-4 .4-2-.4-2-.9-1-.8-.9-1.9-.1-1 .8-2 1.2-1.3 2-1.4 2-.8zM1051.2 2171.4l2.7-.8 2 .2 2 1 2 1.8 1.8 2.8 1.1 3 .6 3 0 4-1 6-1.7 5-2.3 4-4.1 6-.9 2-.3 3 .6 11-.3 3-.7 3-1.2 3-1.5 2-1.1 .9-2 .5-1.5-.4-1.4-1-1.9-3-1.2-4-.3-5 .8-5 2.9-8 .4-2 0-3-1.7-11 .1-5 .6-4 1.1-4 1.8-4 2.3-3.2zM1087.5 2168.4l3.4-.6 3 0 3 .5 2 .6 2 1.1 1.3 1.4 .4 1-.1 2-1.1 2-1.5 1.4-2.3 1.6-2.7 1.2-3 .9-3 .4-3-.2-2-.5-2-1-1.8-1.8-.6-2 .3-2 1.1-2 2-1.9 2-1.2zM1051.6 2170.4l2.3-.6 2 .2 2.8 1.4 2 2 1.3 2 1.3 3 .7 3 .1 4-.7 5-1.8 6-1.9 4-4.5 7-1.1 3-.2 3 .4 10-.4 4-.8 3-1.2 2.8-1.6 2.2-1.4 1.1-2 .5-1.9-.6-1.1-.8-2.2-3.2-.8-2.2-.6-2.8-.3-5 .8-5 2.6-8 .6-3-.1-3-1.3-11 .1-4 .8-5 1.6-5 1.8-3.5 2-2.6zM1089.9 2166.4l4-.1 3 .3 3 .7 2.5 1.1 1.5 1.1 1.4 1.9 .3 2-.7 2-1.7 2-2.5 2-3.8 2-4 1.3-4 .6-3 0-3-.6-3.1-1.3-2.1-2-.8-2 .1-2 1.3-3 1.8-2 2.9-2 2.9-1.2zM1051.8 2169.4l2.1-.5 3 .4 2 1.1 2.1 2 2.1 3 1.3 3 .6 3 0 3-.9 6-1.9 6-1.9 4-4.1 7-1.1 3-.4 3 .3 11-.6 4-.8 3-1.4 3-1.3 1.9-2 1.5-2 .5-2-.6-1-.7-2-2.5-1-2-1.3-5.1-.2-6 .9-5 2.2-7 .6-3 .1-3-1-8-.1-4 .2-4 .9-5 1.7-5 2-3.6 2-2.4zM1087.8 2165.4l4.1-.4 4 .1 4 .6 3 1 2.9 1.7 1.7 2 .6 2-.3 2-1.9 2.8-2.6 2.2-4.4 2.5-5 1.8-5 .8-4 0-4-.8-3-1.3-2.4-2-1-2-.2-2 1.1-3 2.2-3 2.5-2 3.8-1.9zM1052.2 2168.4l2.7-.4 2 .4 2.1 1 2.4 2 2.4 3 1.6 3 .8 3 0 2-.9 6-2.1 7-2.2 5-4 7-1.1 3-.4 3 .1 11-.5 4-.8 3-1.4 3.4-2 2.8-2 1.5-2 .3-2-.5-1.9-1.5-1.1-1.4-1.4-2.6-1-3-.6-3-.1-6 .9-5 2.1-7 .6-3 .1-4-.9-11 .4-5 .8-4 1.6-5 2.1-4 2.4-2.9 2-1.5zM1086.4 2164.4l4.5-.6 5 0 4 .6 4 1.1 3.6 1.9 2 2 .9 2 .1 1-.4 2-2 3-4.2 3.2-6 3-6 1.7-6 .5-5-.6-5-1.7-3.2-2.1-1.1-1-1.1-2 1.1-3 2.7-4 2.6-2.5 3-2.1 3-1.4zM1052.6 2167.4l2.3-.3 2 .3 2 .9 1.7 1.1 2.2 2 3.5 4 2.2 3 .2 1-.4 2-4.8 15-1.8 4-3.9 7-1.1 3-.4 4-.1 11-.7 4-.8 3-1.8 4-2 2.5-2 1.4-2 .3-2-.6-2-1.4-1.7-2.2-1-2-1.1-3-.7-3-.3-3 .1-4 .8-5 2.3-8 .5-3 0-3-.6-8 0-4 .3-4 1-5 1.7-5 2.7-4.7 3-3zM1085.1 2163.4l4.8-.8 6 0 5 .6 5 1.5 3.3 1.7 1.3 1 1.4 1.7 .9 2.3-.4 3-2 3-2.2 2-2.3 1.6-6 3-6 2-5 .9-4 .2-5.8-.7-7.2-1.9-2 .2-1 .9-2 3.7-3.5 9.1-5.5 11-.8 4-.1 9-.4 5-.9 4-1.4 4-2.4 3.9-2 1.7-2 .7-1 .1-2-.5-2-1.4-1-1.1-2.1-3.4-1.7-5-.6-6 .6-7 2.9-12 .1-4-.5-9 .6-7 1.3-6 2-5 1.8-3 1.7-2 1.9-1.6 3-1.4 2-.3 3 .6 3.1 1.7 4.9 3.9 2 .8 1-.1 2-1.1 4-3.5 3-2.1 3-1.5zM1087.3 2161.4l5.6-.4 6 .3 6 1.2 5 1.9 3 2 1 1 1.3 2 .5 3-.9 3-2.4 3-3.9 3-6.6 3.4-6 2.2-5 1.2-5 .5-5-.1-7-.9-2 0-2 .7-1 .9-2 3.4-3.4 7.7-3.7 7-1.1 3-.6 4-.2 9-.4 4-1.1 5-1.5 4-2 3.5-2.6 2.5-2.4 .9-2-.2-1-.3-3-2.3-2.7-4.1-1.2-3-.8-3-.5-6 .6-7 2.4-10 .5-3-.2-13 .5-6 1.6-7 2-5 1.8-2.9 2-2.4 2-1.6 3-1.4 2-.3 3 .5 2.6 1.1 4.4 2.6 2 .7 1 0 2-.6 5.8-3.7 3.2-1.6 4-1.5zM1089.4 2159.4l6.5-.1 6 .6 6 1.4 5 2.1 3 2.1 2.3 2.9 .7 3-.2 2-.7 2-2.2 3-3.9 3.2-6 3.3-7 2.9-4 1.3-5 1.1-6 .5-10-.1-2 .4-2 1-1 1.1-2 3.2-5.1 10.1-1.7 4-.8 4-.4 9-.5 5-1.2 5-1.9 5-2.4 3.8-1.3 1.2-1.7 1.1-3 .6-3-1-3-2.7-1.4-2-1.5-3-1.8-6-.5-6 .6-7 2.8-13 0-13 .5-6 1.6-7 2.3-6 1.9-3 2.5-2.9 2-1.6 3-1.3 2-.3 3 .3 7 2.7 3 .2 2-.6 6-3 4-1.6 5-1.3zM1087.8 2157.4l7.1-.3 8 .7 7 1.5 6 2.5 4 2.9 1.4 1.7 1 2 .5 3-.3 2-.8 2-1.2 2-1.6 1.9-3.7 3.1-4.3 2.6-7 3.2-7 2.6-7 1.8-16 1.9-2 .7-2 1.5-2 2.7-2 3.4-3 5.6-1 2.6-.9 4.4-.7 9-.9 6-1.3 5-2 5-2.2 3.4-3 2.6-3 .9-2-.1-2-.8-2-1.4-1.5-1.6-1.5-2-1.6-3-2-6-.8-7 0-4 .5-4 2.8-14 .3-13 .4-5 1.7-8 2.4-6 1.8-3 2.5-3.1 3-2.4 3-1.3 2-.3 2 0 7 1.8 3 .3 3-.7 10-3.8 4-.9zM1090.5 2154.4l8.4 .1 8 1 7 1.7 6 2.6 4 2.8 1.7 1.8 1.3 2 .7 2 .2 2-.2 2-1.1 3-1.9 3-2.8 3-3.9 3-4 2.4-7 3.3-10 4.1-19.8 6.2-3.2 1.6-3 2.3-4 4.8-2 3.6-1 3.1-1.6 10.6-1.8 8-2.1 6-2.1 4-2.4 3.1-3 2.1-3 .8-2-.2-2-.7-2-1.3-2-1.9-2.2-2.9-1.6-3-1.6-4-.8-3-.9-7 0-4 .5-5 2.8-15 .4-12 .7-7 1.3-6 2.6-7 2.3-4 2.5-3.1 3-2.5 4-1.9 4-.5 7 1.1 3 0 3-.6 11-3.2 5-.9zM1082.5 2151.4l9.4-.9 11 .3 6 .8 5 1 8 2.7 4 2 3 1.9 2.6 2.2 1.6 2 1 2 .7 3-.1 2-.7 3-1.4 3-2.1 3-2.8 3-2.8 2.4-3 2.1-5 2.9-15 7.6-3.2 2-3.6 3-3.2 4-5.2 10-1.8 2.5-1.7 1.5-2.3 1.4-2 .7-8 1.7-2 1.1-1 .9-2 3.3-4.6 11.9-1.8 4-1.9 3-2.7 3.1-2 1.5-3 1.3-3 .3-3-.8-3-1.8-2-2-2-2.6-1.8-3-1.5-3-1.4-4-1-4-.7-5-.1-4 .2-5 2.8-18 1-16 1.2-7 1.7-6 2.2-5 3.4-5.2 4-4.1 4-2.5 2-.8 3-.5 9 .4 3-.2z" fill="none" stroke="#242424" stroke-width="0.6" stroke-linejoin="round"/>
<path d="M1126.7 2130.6h0M1104.8 2229.9h0M1047.3 2154h0M1039.7 2138.8h0M1107.2 2234.2h0M1030.4 2201.1h0M1027.2 2171.6h0M1046.4 2135.7h0M1156.3 2175.2h0M1094.2 2148h0M1123.3 2203.4h0M1076.7 2248.4h0M1126.6 2185.2h0M1139.2 2151.7h0M1150.5 2149.7h0M1062.5 2259.2h0M1134.7 2159.5h0M1023.4 2212.9h0M1139.6 2203.7h0M1041.1 2161.5h0M1155.1 2152.4h0M1140 2154h0M1135.2 2144h0M1021.3 2222.6h0M1129.1 2182.2h0M1084.5 2150.4h0M1064 2235.6h0M1048 2266.2h0M1044.5 2158.4h0M1026.2 2179.1h0M1125 2186.2h0M1155.6 2172.4h0M1030.5 2172.7h0M1064.2 2258.6h0M1134.1 2163.7h0M1035.9 2246.8h0M1030.9 2192h0M1063.2 2251.7h0M1110.9 2139.3h0M1045.8 2148.7h0M1035.2 2165.1h0M1052 2254.7h0M1095 2145.2h0M1100.5 2199h0M1007.8 2163.2h0M1114.2 2195.7h0M1143.6 2162.9h0M1086.3 2262.1h0M1169.6 2171.4h0M1007.1 2207.4h0M1027.2 2185.3h0M1033.3 2178.7h0M1098.4 2143.5h0M1141.3 2177.3h0M1109.1 2193.9h0M1046.6 2268.1h0M1030.1 2229.3h0M1114.2 2229.4h0M1040.6 2152.9h0M1047.1 2257h0M1019.8 2174.4h0M1130.4 2159.3h0M1107.9 2200.9h0M1077.5 2144.7h0M1030.4 2189.4h0M1142.6 2210.6h0M1135 2175.1h0M1091.3 2210.5h0M1112.5 2199.4h0M1061.7 2249h0" fill="none" stroke="#555" stroke-width="1.1" stroke-linecap="round"/>
<line x1="1076" y1="2088.9" x2="1076" y2="2284.8" stroke="#000" stroke-width="1.3"/>
<line x1="1000.4" y1="2202.2" x2="1197.2" y2="2202.2" stroke="#000" stroke-width="1.3"/>
<text x="1012.4" y="2113.9" font-size="22.6">38.6</text>
<text x="1189.2" y="2113.9" font-size="22.6" text-anchor="end">29.6</text>
<text x="1012.4" y="2271.3" font-size="22.6">29.6</text>
<text x="1189.2" y="2271.3" font-size="22.6" text-anchor="end">2.21</text>
<text x="1102.7" y="2074" font-size="26" text-anchor="middle" fill="#3f9fab">TOX(WT)</text>
<rect x="1208.6" y="2088.9" width="196.9" height="195.9" fill="#fff" stroke="#000" stroke-width="1.3"/>
<path d="M1220.6 2284.8v6M1285.1 2284.8v6M1338.6 2284.8v6M1385.6 2284.8v6M1240.02 2284.8v3.2M1251.37 2284.8v3.2M1259.43 2284.8v3.2M1265.68 2284.8v3.2M1270.79 2284.8v3.2M1275.11 2284.8v3.2M1278.85 2284.8v3.2M1282.15 2284.8v3.2M1301.21 2284.8v3.2M1310.63 2284.8v3.2M1317.31 2284.8v3.2M1322.49 2284.8v3.2M1326.73 2284.8v3.2M1330.31 2284.8v3.2M1333.42 2284.8v3.2M1336.15 2284.8v3.2M1352.75 2284.8v3.2M1361.02 2284.8v3.2M1366.9 2284.8v3.2M1371.45 2284.8v3.2M1375.17 2284.8v3.2M1378.32 2284.8v3.2M1381.05 2284.8v3.2M1383.45 2284.8v3.2M1399.75 2284.8v3.2M1208.6 2272h-6M1208.6 2207h-6M1208.6 2154h-6M1208.6 2107.5h-6M1208.6 2252.43h-3.2M1208.6 2240.99h-3.2M1208.6 2232.87h-3.2M1208.6 2226.57h-3.2M1208.6 2221.42h-3.2M1208.6 2217.07h-3.2M1208.6 2213.3h-3.2M1208.6 2209.97h-3.2M1208.6 2191.05h-3.2M1208.6 2181.71h-3.2M1208.6 2175.09h-3.2M1208.6 2169.95h-3.2M1208.6 2165.76h-3.2M1208.6 2162.21h-3.2M1208.6 2159.14h-3.2M1208.6 2156.43h-3.2M1208.6 2140h-3.2M1208.6 2131.81h-3.2M1208.6 2126h-3.2M1208.6 2121.5h-3.2M1208.6 2117.82h-3.2M1208.6 2114.7h-3.2M1208.6 2112.01h-3.2M1208.6 2109.63h-3.2M1208.6 2093.5h-3.2" fill="none" stroke="#000" stroke-width="1.15"/>
<rect x="1249.1" y="2285.1" width="7" height="4.3" fill="#000"/>
<path d="M1246.6 2284.8v4M1258.6 2284.8v4" fill="none" stroke="#000" stroke-width="1"/>
<rect x="1204" y="2236.5" width="4.3" height="7" fill="#000"/>
<path d="M1208.6 2234h-4M1208.6 2246h-4" fill="none" stroke="#000" stroke-width="1"/>
<path d="M1300.6 2166.4l2.5 .4 2 1.3 .7 1.3 .1 1-.3 1-1.5 1.5-2 .9-2 .2-2-.4-2-1.2-.6-1-.2-1 .3-1 .6-1 1.1-1 1.8-.8zM1299.7 2164.4l2.4-.1 2 .5 2 .9 1.9 1.7 .8 2-.2 2-1.2 2-1.3 1.1-3 1.3-4 .3-3-.7-1.8-1-1.2-1.3-.7-1.7-.1-1 .7-2 .7-1 2.7-2zM1297.3 2163.4l2.8-.5 3 .1 3 .8 2.6 1.6 1.6 2 .7 2-.2 2-.3 1-1.4 1.9-3 2.1-2 .7-3 .5-3 0-2-.4-2-.8-2-1.3-1-1.2-.8-1.5-.2-2 .7-2 1.3-1.9 1.3-1.1 1.7-1.1zM1257.9 2179.4l1.2-.7 1 .3 1 1.4 .1 2-.2 1-.9 1.2-1 .3-1.1-.5-.9-1.8 0-1.5zM1297.9 2162.4l3.2-.4 3.4 .4 2.8 1 2.8 2 1.5 2 .6 3-1 3-1.8 2-2.3 1.5-2 .8-3 .7-3 .1-3-.4-2.1-.7-1.9-1-2-1.8-.7-1.2-.5-2 .2-2 1-2 1.8-2 1.3-1 1.9-1.1zM1257.9 2176.4l1.2-.4 1 .2 1 .5 1.3 1.7 .7 2.8-.2 2.2-.8 2.2-1 1.2-1 .7-1 .1-1-.2-1.3-1-1.1-2-.4-2 .1-2 .7-2 1-1.4zM1298.3 2161.4l3.8-.3 4 .8 3.3 1.5 2.3 2 1.6 3 0 3-1.2 2.7-2 2.1-2 1.3-3 1.2-3 .6-3 .2-3-.4-3-.9-2-1.1-2-1.7-1.2-2-.4-2 .3-2 .9-2 1.7-2 2.6-2 2.1-1.1zM1257.6 2174.4l1.5-.4 1 0 2 1.1 1.6 2.3 .8 3-.2 4-1.2 2.8-2 2.1-2 .5-1.6-.4-1.4-1-1.3-2-.9-3 .1-3 .9-3 1.2-1.9zM1299.2 2160.4l4.9 .1 4 1.2 3 1.7 1.1 1 1.6 2 .9 3-.4 3-1.7 3-2.5 2.1-3 1.5-3 .9-3 .4-3 0-3-.4-3-1-2.6-1.5-2-2-1.1-2-.3-2 .7-3 1.2-2 2.1-2.1 3-2 3-1.2zM1258.4 2172.4l1.7-.1 1 .3 2.4 1.8 1.7 3 .6 4-.5 4-1.3 3-1.9 2.2-1.4 .8-1.6 .3-2-.5-2.1-1.8-1.6-3-.7-4 .3-3 1.1-3.2 2-2.6zM1295.3 2160.4l3.8-.9 5 .1 4 1 4 2.2 2.5 2.6 1.3 3 .1 2-.3 2-1.6 3-2.1 2-2.9 1.8-3 1.2-4 .8-4 .1-4-.6-3-1.1-3-1.7-2.3-2.5-.9-2-.2-2 .7-3 1.2-2 2.5-2.6 3-2zM1256.8 2171.4l1.3-.5 2-.2 2 .7 1 .7 1.3 1.3 1.3 2 1.2 4 .1 2-.2 3-1.3 4-1.2 2-1.2 1.4-1 .8-2 .9-2 0-1-.4-2-1.5-2.1-3.2-1.2-4 0-4 .9-4 1.8-3zM1295.5 2159.4l4.6-.8 5 .3 5 1.6 2 1.1 2 1.6 1.2 1.2 1.2 2 .8 3-.1 2-.6 2-1.9 3-2.6 2.3-3 1.6-4 1.3-4 .6-5-.2-4-.8-3-1.3-3-2.1-1.9-2.4-.8-2 0-3 1.2-3 2.3-3 2.2-1.8 3-1.9zM1258.1 2169.4l2-.1 2 .5 2 1.4 1 1 1.5 2.2 .9 2 .7 4-.5 5-.9 3-1 2-2.7 3.4-2 1.2-2 .4-2-.4-1-.6-1.2-1-1.6-2-1.9-4-.7-4 .4-5 1.4-4 1.3-2 1.3-1.4 1-.7zM1295.7 2158.4l5.4-.8 5 .5 5 1.7 4 2.7 2.3 2.9 .9 2 .3 2-.1 2-.5 2-1 2-1.7 2-2.4 2-3.8 2-4 1.2-5 .6-5-.2-4-1-3.7-1.6-2.7-2-1.7-2-1.2-3 .1-3 1.2-3 2.3-3 2.7-2.4 4-2.3zM1256.8 2168.4l2.3-.6 2 .2 2 .8 2 1.5 1.8 2.1 1.2 2 .7 2 .6 3 0 3-.5 3-.8 3-1.4 3-1.6 2.4-2 2-2 1.2-2 .4-2-.3-1-.6-2-1.8-1-1.3-2.1-4-1.2-5 .1-5 1.4-5 1.1-2 1.6-2zM1296.5 2157.4l5.6-.5 3 .2 3 .7 5 2.1 2.2 1.5 1.8 1.7 2 3.3 .6 2 .1 2-.3 2-.8 2-1.2 2-1.8 2-3.6 2.6-4 1.7-4 1-5 .4-5-.4-4-.9-4-1.9-3.2-2.5-2-3-.6-3 .5-3 1.6-3 2.6-3 3.1-2.4 4-2.2zM1256.2 2167.4l1.9-.7 3 .1 2 .7 2 1.3 2 1.9 1.8 2.7 .9 2 .7 3 0 3-.5 4-1.2 4-1.4 3-2.3 3.3-2 1.9-2 1.3-2 .5-2-.3-1-.6-3-3.1-2.7-5-.9-3-.5-3 .1-5 1.3-5 .9-2 1.8-2.5 1.6-1.5zM1254.2 2218.4l.9-.6 1 0 1 .9 .9 2.7-.2 3-.7 2-1 1.1-1 .2-1-.7-.4-.6-.6-1.3-.3-1.7 .3-2.8zM1298.2 2156.4l2.9-.2 3 .1 3 .5 3 .9 3 1.3 2.2 1.4 2.4 2 1.5 2 1 2 .5 2 0 3-.5 2-.9 2-1.4 2-1.8 1.8-2 1.5-4 2.1-5 1.4-5 .7-5-.2-5-1-4-1.6-3-1.9-2.7-2.8-1.1-2-.4-3 .7-3 2.4-4 2.9-3 4.2-2.9 4-1.9zM1256.1 2166.4l2-.7 2-.1 2 .4 3 1.6 2.1 1.8 2.5 3 1.4 3 .5 3-.1 4-.8 4-1.3 4-1.3 2.7-2 3-2 2.3-3 2.3-2 .8-2-.3-1-.6-2-2-2-2.8-2.5-5.4-.9-3-.4-3-.1-3 .3-3 1.5-5 2.4-4 1.7-1.7zM1254.3 2214.4l.8-.5 1-.2 1 .3 1 1.1 1.1 2.3 .6 4-.2 4-1 3-1.5 2.1-1 .6-1 .1-1-.3-1-.9-1-1.6-.6-2-.5-3 .1-2 .7-3 1.3-2.7zM1294.9 2156.4l3.2-.6 3-.3 6 .6 3 .9 3 1.2 3 1.8 1.7 1.4 1.8 2 1.2 2 .7 2 .2 2-.1 2-.8 3-1.1 2-1.6 2-3.6 3-4.4 2.1-5 1.5-6 .6-6-.4-5-1.2-4-1.9-3.7-2.7-2.5-3-.6-2 .3-3 1.8-4 3.3-4 3.4-2.9 4-2.3zM1256.1 2165.4l2-.7 3 .1 3 1.1 2 1.3 3.4 3.2 2.3 3 .9 2 .3 2-.3 4-1.1 5-1.3 4-1.4 3-1.8 3-3 3.7-4 3.5-2 1-1-.2-2-2.1-4.2-6.9-2.4-6-.9-6 0-3 .5-3 1.6-5 2.6-4 1.8-1.8zM1255 2210.4l1.1-.7 1-.1 1 .9 1 1.7 1.4 4.2 .7 5-.5 5-1.4 4-1.2 1.9-1 .9-1 .5-1 .1-1-.3-1-.7-1.7-2.4-1-3-.6-4 .4-4 .9-3.2 2-3.7zM1296.5 2155.4l5.6-.5 6 .8 5 1.7 4.8 3 2.7 3 1.1 2 .7 2 .2 2-.1 2-1.3 4-1.2 2-1.9 2.1-2.3 1.9-2.7 1.6-5 2-7 1.3-6 0-6-1.1-3-1-3-1.4-6-3.9-1-.3-1 .6-1 2.1-2.5 8.1-1.7 4-2.8 4.7-5 6.3-1.5 3-.1 2 1.4 8 .3 4-.4 5-1.1 4-.9 2-1.7 2.2-2 1.2-2-.1-2-1.6-1.6-2.7-1-3-.6-4 .1-4 .5-3 1.5-4 2.5-5 .5-3-.7-3-4.5-10-1.6-6-.3-4 .4-4 .9-4 1.3-3 1.8-3 2.8-2.8 3-1.5 3-.4 2 .4 3 1.3 2.7 2 4.3 3.8 2 1.1 1-.4 4.6-6.5 4.4-4.3 3-2 3-1.6 3-1.2zM1297.5 2154.4l5.6-.3 6 1 5 1.8 2.7 1.5 2.3 1.7 2.9 3.3 1 2 .6 2 .1 4-1.2 4-2.8 4-2.2 2-2.4 1.6-3 1.5-3 1.1-6 1.4-6 .4-5-.3-6-1.5-8-3.2-1 0-1 .5-1.6 2.5-3.7 9-2.4 4-4 6-1.3 3-.3 3 .6 8 0 5-.7 5-1.2 4-2.4 4-2 1.7-2 .4-2-.7-2-2.1-1.7-3.3-1.2-4-.5-4 .1-4 .5-3 3-9 .5-3-.3-3-4-11-1.2-6-.1-4 .4-4 1.1-4 1.3-3 1.9-3 2.2-2.3 3-1.8 3-.7 2 .1 3 .9 7 4.6 2 .7 1-.1 2-1.3 6.1-6.1 3.9-2.8 6-2.9zM1296.9 2153.4l6.2-.4 6 .9 6 2.1 3 1.7 2.3 1.7 1.9 2 1.4 2 1 2 .5 2 0 4-.7 3-1 2-2.9 4-4.5 3.5-5 2.3-6 1.8-6 .8-5 0-6-.7-8-2.2-2 .1-1 .5-1 1-1 1.7-3.5 7.2-4.8 8-1.3 3-.6 4 .1 9-.2 5-.9 5-1.3 4-2.3 4-2.2 2.2-1 .6-2 .3-2-.6-2-1.7-2.3-3.8-1.6-5-.8-5-.1-4 .5-4 2.5-9 .5-3-.4-4-3.1-10-.8-4-.3-3 0-4 .4-3 1-4 1.2-3 1.7-3 1.6-2.1 2-1.9 3-1.7 3-.7 3 .3 3 1.2 6 3.3 2 .3 1-.2 2-1.1 6-5 4-2.6 5-2.3zM1294.7 2152.4l6.4-.8 4 .2 3 .4 6 1.7 4 1.9 2.5 1.6 2.4 2 1.7 2 2 4 .6 3 0 2-.5 3-.8 2-2.3 4-4 4-4.6 2.9-6 2.4-6 1.4-6 .8-7 .1-9-.9-1.7 .3-1.3 .8-2 2.4-5.8 9.8-2.3 5-.8 4-.4 10-.5 5-1 5-1.8 5-2.3 4-2.1 2.3-2 1.1-1 .3-2-.2-1-.3-1.7-1.2-1.3-1.4-2.6-4.6-1.8-6-.9-6 .2-7 2.3-11 .3-4-.6-4-2.6-10-.5-4-.1-4 .8-6 2.1-6 1.7-3 2.7-3.4 2-1.7 3-1.6 3-.6 3 .3 3 1 5 2.4 3 .4 3-1.2 6-4.2 4-2.3 4-1.8zM1295.3 2150.4l3.8-.5 4-.1 7 .9 7 2.2 3 1.5 3 2 2.3 2 1.7 2 1.2 2 1.2 3 .4 2 0 3-.3 2-.9 3-2.1 4-3.5 4-3 2.5-5 2.9-5 2-7 2.2-20 4.7-3 1.4-3 2.3-4 4.8-2.1 4.2-1 4-1.3 12-.8 5-1.3 5-2 5-2.5 4-3 2.9-3 1-3-.4-2-1.2-1.3-1.3-1.7-2.2-1.5-2.8-2.1-6-1.5-8-.3-4 .1-4 .5-4 1.5-8 .3-4-.4-4-2.2-11-.4-7 .7-6 1.9-6 2-4 3-4 3.4-2.8 3-1.5 3-.5 3 .2 8 2.9 3 .2 3-1.1 7-4.1 4-1.9 5-1.7zM1295.5 2147.4l4.6-.5 4 0 8 1.1 4 1.1 4 1.6 3 1.5 3 2 2.5 2.2 1.8 2 1.9 3 1.1 3 .5 2 .1 3-.3 3-.9 3-1.4 3-1.9 3-4.4 4.9-5 3.9-10.4 6.2-2.8 2-6.7 7-2.4 2-2.7 1.7-3 1.3-4 1.2-9 1.8-2 1-1 .9-1 1.4-1.2 2.7-4 18-2.1 6-1.9 4-2.8 3.9-3 2.6-3 1.2-2 .1-2-.3-2-1-2-1.6-2-2.3-2.1-3.6-2.6-7-1-4-1.1-6-.4-5 0-5 1.5-12 .2-4-.4-5-1.6-10-.2-7 .3-4 .8-4 2-6 2.6-5 3-4 3-2.8 4-2.2 3-.7 3-.1 3 .6 6 1.8 3 .2 3-.9 10-4.5 5-1.5z" fill="none" stroke="#242424" stroke-width="0.6" stroke-linejoin="round"/>
<path d="M1282.5 2144.9h0M1248.2 2258.1h0M1323.8 2151.7h0M1332 2187.5h0M1315.6 2136h0M1239.6 2240.9h0M1345.6 2178.3h0M1272.5 2258.9h0M1334.6 2157.2h0M1231.5 2159.7h0M1329.2 2223.5h0M1226.8 2215.1h0M1345.2 2164.6h0M1251.3 2145.7h0M1233.6 2188.1h0M1293.9 2146.2h0M1248.1 2143.1h0M1277.9 2216.4h0M1239.9 2192.9h0M1277.5 2229.1h0M1266.8 2149.9h0M1234 2177.8h0M1313.5 2198.3h0M1320.6 2134.4h0M1333.9 2188.6h0M1335.4 2168.3h0M1270.5 2153.2h0M1235.3 2257.3h0M1294.4 2140.2h0M1315.8 2222.4h0M1236.9 2176.7h0M1316.8 2197.2h0M1281.4 2226.9h0M1293.5 2130.5h0M1292.4 2231.7h0M1334.7 2162.7h0M1288.2 2140.8h0M1244.9 2161.3h0M1224.8 2157h0M1261.4 2143.7h0M1270 2241.4h0M1211.2 2202.2h0M1273 2226.7h0M1284.2 2146.5h0M1283.7 2213h0M1238.5 2181.7h0M1286.5 2214.2h0M1247.2 2265.7h0M1304.4 2145.2h0M1260.5 2264.8h0M1221.1 2207.2h0M1286.7 2217.1h0M1218.8 2200.2h0M1284.7 2253.3h0M1239.2 2148.7h0M1337 2177h0M1255.8 2144.6h0M1234 2195.8h0M1309.4 2227.7h0M1248.9 2153.1h0M1272.1 2147.1h0M1233.4 2211.6h0M1292.7 2225h0M1319.4 2145.1h0M1338.2 2184.3h0M1276.3 2148.1h0M1328.9 2141.9h0M1317.9 2198.3h0M1282.9 2238h0M1296.3 2145.2h0" fill="none" stroke="#555" stroke-width="1.1" stroke-linecap="round"/>
<line x1="1284.3" y1="2088.9" x2="1284.3" y2="2284.8" stroke="#000" stroke-width="1.3"/>
<line x1="1208.6" y1="2202.2" x2="1405.5" y2="2202.2" stroke="#000" stroke-width="1.3"/>
<text x="1220.6" y="2113.9" font-size="22.6">40.1</text>
<text x="1397.5" y="2113.9" font-size="22.6" text-anchor="end">40.7</text>
<text x="1220.6" y="2271.3" font-size="22.6">16.7</text>
<text x="1397.5" y="2271.3" font-size="22.6" text-anchor="end">2.50</text>
<text x="1309.7" y="2074" font-size="26" text-anchor="middle" fill="#e8727c">TOX(4KR)</text>
<text font-size="26" text-anchor="middle" transform="translate(776 2184.7) rotate(-90)">PD-1 PerCP710</text>
<text x="803" y="2321.5" font-size="26">TIM-3 PE-Cy7</text>
<line x1="1005" y1="2314" x2="1391.5" y2="2314" stroke="#000" stroke-width="1.6"/>
<polygon points="1403.5,2314 1390.5,2320.5 1390.5,2307.5" fill="#000"/>
<rect x="1565.5" y="2168.09" width="19.2" height="139.11" fill="#fff" stroke="#000" stroke-width="2.6"/>
<rect x="1600.7" y="2224.56" width="18.2" height="82.64" fill="#fff" stroke="#000" stroke-width="2.6"/>
<rect x="1634.9" y="2272.48" width="18.5" height="34.72" fill="#fff" stroke="#000" stroke-width="2.6"/>
<rect x="1692.3" y="2194.64" width="18.2" height="112.56" fill="#fff" stroke="#000" stroke-width="2.6"/>
<rect x="1726.8" y="2159.54" width="17.5" height="147.66" fill="#fff" stroke="#000" stroke-width="2.6"/>
<rect x="1760.7" y="2168.09" width="18.5" height="139.11" fill="#fff" stroke="#000" stroke-width="2.6"/>
<rect x="1818" y="2261.19" width="18.2" height="46.01" fill="#fff" stroke="#000" stroke-width="2.6"/>
<rect x="1852.3" y="2218.45" width="18.4" height="88.75" fill="#fff" stroke="#000" stroke-width="2.6"/>
<rect x="1886.8" y="2184.87" width="18.2" height="122.33" fill="#fff" stroke="#000" stroke-width="2.6"/>
<line x1="1553.1" y1="2061.65" x2="1553.1" y2="2308.55" stroke="#000" stroke-width="2.7"/>
<line x1="1541.4" y1="2307.2" x2="1917" y2="2307.2" stroke="#000" stroke-width="2.7"/>
<line x1="1543.1" y1="2307.2" x2="1553.1" y2="2307.2" stroke="#000" stroke-width="2.7"/>
<text x="1539.1" y="2313.06" font-size="16.5" text-anchor="end" font-weight="bold">0</text>
<line x1="1543.1" y1="2246.15" x2="1553.1" y2="2246.15" stroke="#000" stroke-width="2.7"/>
<text x="1539.1" y="2252.01" font-size="16.5" text-anchor="end" font-weight="bold">20</text>
<line x1="1543.1" y1="2185.1" x2="1553.1" y2="2185.1" stroke="#000" stroke-width="2.7"/>
<text x="1539.1" y="2190.96" font-size="16.5" text-anchor="end" font-weight="bold">40</text>
<line x1="1543.1" y1="2124.05" x2="1553.1" y2="2124.05" stroke="#000" stroke-width="2.7"/>
<text x="1539.1" y="2129.91" font-size="16.5" text-anchor="end" font-weight="bold">60</text>
<line x1="1543.1" y1="2063" x2="1553.1" y2="2063" stroke="#000" stroke-width="2.7"/>
<text x="1539.1" y="2068.86" font-size="16.5" text-anchor="end" font-weight="bold">80</text>
<line x1="1609.5" y1="2307.2" x2="1609.5" y2="2318.2" stroke="#000" stroke-width="2.7"/>
<line x1="1735.2" y1="2307.2" x2="1735.2" y2="2318.2" stroke="#000" stroke-width="2.7"/>
<line x1="1861.3" y1="2307.2" x2="1861.3" y2="2318.2" stroke="#000" stroke-width="2.7"/>
<circle cx="1574.93" cy="2113.32" r="3.7" fill="#8a8a8a"/>
<circle cx="1574.93" cy="2154.91" r="3.7" fill="#8a8a8a"/>
<circle cx="1567.56" cy="2172.69" r="3.7" fill="#8a8a8a"/>
<circle cx="1575.94" cy="2172.69" r="3.7" fill="#8a8a8a"/>
<circle cx="1581.98" cy="2178.39" r="3.7" fill="#8a8a8a"/>
<circle cx="1574.93" cy="2203.88" r="3.7" fill="#8a8a8a"/>
<line x1="1575.1" y1="2154.57" x2="1575.1" y2="2178.99" stroke="#000" stroke-width="1.3"/>
<line x1="1568.1" y1="2154.57" x2="1582.1" y2="2154.57" stroke="#000" stroke-width="1.3"/>
<line x1="1568.1" y1="2178.99" x2="1582.1" y2="2178.99" stroke="#000" stroke-width="1.3"/>
<circle cx="1603.78" cy="2196.17" r="3.7" fill="#4aa6b1"/>
<circle cx="1615.51" cy="2193.49" r="3.7" fill="#4aa6b1"/>
<circle cx="1609.48" cy="2217.97" r="3.7" fill="#4aa6b1"/>
<circle cx="1609.48" cy="2237.43" r="3.7" fill="#4aa6b1"/>
<circle cx="1603.78" cy="2247.49" r="3.7" fill="#4aa6b1"/>
<circle cx="1615.51" cy="2249.84" r="3.7" fill="#4aa6b1"/>
<line x1="1609.8" y1="2213.18" x2="1609.8" y2="2233.33" stroke="#000" stroke-width="1.3"/>
<line x1="1602.8" y1="2213.18" x2="1616.8" y2="2213.18" stroke="#000" stroke-width="1.3"/>
<line x1="1602.8" y1="2233.33" x2="1616.8" y2="2233.33" stroke="#000" stroke-width="1.3"/>
<circle cx="1644.02" cy="2232.06" r="3.7" fill="#f07a84"/>
<circle cx="1637.98" cy="2256.55" r="3.7" fill="#f07a84"/>
<circle cx="1650.05" cy="2261.58" r="3.7" fill="#f07a84"/>
<circle cx="1644.02" cy="2286.74" r="3.7" fill="#f07a84"/>
<circle cx="1637.98" cy="2295.8" r="3.7" fill="#f07a84"/>
<circle cx="1650.05" cy="2297.47" r="3.7" fill="#f07a84"/>
<line x1="1644.15" y1="2260.5" x2="1644.15" y2="2281.86" stroke="#000" stroke-width="1.3"/>
<line x1="1637.15" y1="2260.5" x2="1651.15" y2="2260.5" stroke="#000" stroke-width="1.3"/>
<line x1="1637.15" y1="2281.86" x2="1651.15" y2="2281.86" stroke="#000" stroke-width="1.3"/>
<circle cx="1701.03" cy="2143.17" r="3.7" fill="#8a8a8a"/>
<circle cx="1694.99" cy="2193.82" r="3.7" fill="#8a8a8a"/>
<circle cx="1701.03" cy="2197.85" r="3.7" fill="#8a8a8a"/>
<circle cx="1707.74" cy="2200.19" r="3.7" fill="#8a8a8a"/>
<circle cx="1697.68" cy="2206.23" r="3.7" fill="#8a8a8a"/>
<circle cx="1704.38" cy="2215.62" r="3.7" fill="#8a8a8a"/>
<line x1="1701.4" y1="2182.35" x2="1701.4" y2="2204.33" stroke="#000" stroke-width="1.3"/>
<line x1="1694.4" y1="2182.35" x2="1708.4" y2="2182.35" stroke="#000" stroke-width="1.3"/>
<line x1="1694.4" y1="2204.33" x2="1708.4" y2="2204.33" stroke="#000" stroke-width="1.3"/>
<circle cx="1740.94" cy="2124.72" r="3.7" fill="#4aa6b1"/>
<circle cx="1729.53" cy="2130.76" r="3.7" fill="#4aa6b1"/>
<circle cx="1735.24" cy="2154.24" r="3.7" fill="#4aa6b1"/>
<circle cx="1729.53" cy="2171.01" r="3.7" fill="#4aa6b1"/>
<circle cx="1740.94" cy="2177.72" r="3.7" fill="#4aa6b1"/>
<circle cx="1735.24" cy="2190.13" r="3.7" fill="#4aa6b1"/>
<line x1="1735.55" y1="2147.55" x2="1735.55" y2="2168.92" stroke="#000" stroke-width="1.3"/>
<line x1="1728.55" y1="2147.55" x2="1742.55" y2="2147.55" stroke="#000" stroke-width="1.3"/>
<line x1="1728.55" y1="2168.92" x2="1742.55" y2="2168.92" stroke="#000" stroke-width="1.3"/>
<circle cx="1769.78" cy="2134.11" r="3.7" fill="#f07a84"/>
<circle cx="1769.78" cy="2152.56" r="3.7" fill="#f07a84"/>
<circle cx="1763.74" cy="2163.3" r="3.7" fill="#f07a84"/>
<circle cx="1775.48" cy="2167.66" r="3.7" fill="#f07a84"/>
<circle cx="1769.78" cy="2184.43" r="3.7" fill="#f07a84"/>
<circle cx="1769.78" cy="2198.85" r="3.7" fill="#f07a84"/>
<line x1="1769.95" y1="2157.02" x2="1769.95" y2="2176.55" stroke="#000" stroke-width="1.3"/>
<line x1="1762.95" y1="2157.02" x2="1776.95" y2="2157.02" stroke="#000" stroke-width="1.3"/>
<line x1="1762.95" y1="2176.55" x2="1776.95" y2="2176.55" stroke="#000" stroke-width="1.3"/>
<circle cx="1826.79" cy="2241.45" r="3.7" fill="#8a8a8a"/>
<circle cx="1826.79" cy="2253.19" r="3.7" fill="#8a8a8a"/>
<circle cx="1820.75" cy="2260.91" r="3.7" fill="#8a8a8a"/>
<circle cx="1826.79" cy="2264.93" r="3.7" fill="#8a8a8a"/>
<circle cx="1829.81" cy="2264.93" r="3.7" fill="#8a8a8a"/>
<circle cx="1833.49" cy="2270.97" r="3.7" fill="#8a8a8a"/>
<line x1="1827.1" y1="2255.31" x2="1827.1" y2="2264.46" stroke="#000" stroke-width="1.3"/>
<line x1="1820.1" y1="2255.31" x2="1834.1" y2="2255.31" stroke="#000" stroke-width="1.3"/>
<line x1="1820.1" y1="2264.46" x2="1834.1" y2="2264.46" stroke="#000" stroke-width="1.3"/>
<circle cx="1861.33" cy="2210.26" r="3.7" fill="#4aa6b1"/>
<circle cx="1854.96" cy="2215.62" r="3.7" fill="#4aa6b1"/>
<circle cx="1861.33" cy="2217.97" r="3.7" fill="#4aa6b1"/>
<circle cx="1867.7" cy="2219.65" r="3.7" fill="#4aa6b1"/>
<circle cx="1864.35" cy="2217.97" r="3.7" fill="#4aa6b1"/>
<circle cx="1867.7" cy="2223" r="3.7" fill="#4aa6b1"/>
<line x1="1861.5" y1="2215.01" x2="1861.5" y2="2219.29" stroke="#000" stroke-width="1.3"/>
<line x1="1854.5" y1="2215.01" x2="1868.5" y2="2215.01" stroke="#000" stroke-width="1.3"/>
<line x1="1854.5" y1="2219.29" x2="1868.5" y2="2219.29" stroke="#000" stroke-width="1.3"/>
<circle cx="1895.54" cy="2156.59" r="3.7" fill="#f07a84"/>
<circle cx="1889.5" cy="2183.76" r="3.7" fill="#f07a84"/>
<circle cx="1895.54" cy="2183.76" r="3.7" fill="#f07a84"/>
<circle cx="1901.91" cy="2183.76" r="3.7" fill="#f07a84"/>
<circle cx="1892.18" cy="2189.46" r="3.7" fill="#f07a84"/>
<circle cx="1898.89" cy="2195.5" r="3.7" fill="#f07a84"/>
<line x1="1895.9" y1="2176.86" x2="1895.9" y2="2190.29" stroke="#000" stroke-width="1.3"/>
<line x1="1888.9" y1="2176.86" x2="1902.9" y2="2176.86" stroke="#000" stroke-width="1.3"/>
<line x1="1888.9" y1="2190.29" x2="1902.9" y2="2190.29" stroke="#000" stroke-width="1.3"/>
<line x1="1574.3" y1="2059.7" x2="1643.7" y2="2059.7" stroke="#000" stroke-width="3.3"/>
<text x="1614.27" y="2057.71" font-size="26.7" text-anchor="middle" font-weight="bold" letter-spacing="3.49">****</text>
<line x1="1574.3" y1="2092.6" x2="1609.8" y2="2092.6" stroke="#000" stroke-width="3.3"/>
<text x="1596.14" y="2090.61" font-size="26.7" text-anchor="middle" font-weight="bold" letter-spacing="3.49">***</text>
<line x1="1609.8" y1="2130.1" x2="1643.7" y2="2130.1" stroke="#000" stroke-width="3.3"/>
<text x="1629.67" y="2128.11" font-size="26.7" text-anchor="middle" font-weight="bold" letter-spacing="3.49">**</text>
<line x1="1701" y1="2043.9" x2="1769.8" y2="2043.9" stroke="#000" stroke-width="3.3"/>
<text x="1735.4" y="2032.4" font-size="20" text-anchor="middle">ns</text>
<line x1="1735.2" y1="2077.5" x2="1769.8" y2="2077.5" stroke="#000" stroke-width="3.3"/>
<text x="1752.5" y="2066" font-size="20" text-anchor="middle">ns</text>
<line x1="1701" y1="2111.3" x2="1735.2" y2="2111.3" stroke="#000" stroke-width="3.3"/>
<text x="1719.84" y="2109.32" font-size="26.7" text-anchor="middle" font-weight="bold" letter-spacing="3.49">*</text>
<line x1="1825.8" y1="2068.4" x2="1894.9" y2="2068.4" stroke="#000" stroke-width="3.3"/>
<text x="1865.62" y="2066.41" font-size="26.7" text-anchor="middle" font-weight="bold" letter-spacing="3.49">****</text>
<line x1="1825.8" y1="2101.6" x2="1860" y2="2101.6" stroke="#000" stroke-width="3.3"/>
<text x="1845.82" y="2099.61" font-size="26.7" text-anchor="middle" font-weight="bold" letter-spacing="3.49">**</text>
<line x1="1860" y1="2138.8" x2="1894.9" y2="2138.8" stroke="#000" stroke-width="3.3"/>
<text x="1879.19" y="2136.82" font-size="26.7" text-anchor="middle" font-weight="bold" letter-spacing="3.49">*</text>
<text font-size="26" text-anchor="middle" transform="translate(1472.5 2177.5) rotate(-90)">Percentage among</text>
<text font-size="26" text-anchor="middle" transform="translate(1504.5 2177.5) rotate(-90)">CD8<tspan dy="-9.36" font-size="16.12">+</tspan><tspan dy="9.36"> T cells (%)</tspan></text>
<text x="1525.5" y="2348.5" font-size="26" text-anchor="end">PD-1</text>
<text x="1526" y="2387" font-size="26" text-anchor="end">TIM-3</text>
<text x="1609.5" y="2346" font-size="26" text-anchor="middle">-</text>
<text x="1609.5" y="2385" font-size="26" text-anchor="middle">-</text>
<text x="1735" y="2346" font-size="26" text-anchor="middle">+</text>
<text x="1735" y="2385" font-size="26" text-anchor="middle">-</text>
<text x="1861" y="2346" font-size="26" text-anchor="middle">+</text>
<text x="1861" y="2385" font-size="26" text-anchor="middle">+</text>
</g>
<g id="p-n">
<text x="3" y="2412" font-size="34" font-weight="bold">n</text>
<rect x="108.5" y="2630.65" width="30.2" height="77.25" fill="#fff" stroke="#000" stroke-width="2.6"/>
<rect x="159.9" y="2582.16" width="30.2" height="125.74" fill="#fff" stroke="#000" stroke-width="2.6"/>
<rect x="211.8" y="2540.14" width="29.7" height="167.76" fill="#fff" stroke="#000" stroke-width="2.6"/>
<line x1="89.7" y1="2447.95" x2="89.7" y2="2709.25" stroke="#000" stroke-width="2.7"/>
<line x1="77.4" y1="2707.9" x2="261" y2="2707.9" stroke="#000" stroke-width="2.7"/>
<line x1="79.7" y1="2707.9" x2="89.7" y2="2707.9" stroke="#000" stroke-width="2.7"/>
<text x="75.7" y="2715" font-size="20" text-anchor="end" font-weight="bold">0</text>
<line x1="79.7" y1="2643.25" x2="89.7" y2="2643.25" stroke="#000" stroke-width="2.7"/>
<text x="75.7" y="2650.35" font-size="20" text-anchor="end" font-weight="bold">2</text>
<line x1="79.7" y1="2578.6" x2="89.7" y2="2578.6" stroke="#000" stroke-width="2.7"/>
<text x="75.7" y="2585.7" font-size="20" text-anchor="end" font-weight="bold">4</text>
<line x1="79.7" y1="2513.95" x2="89.7" y2="2513.95" stroke="#000" stroke-width="2.7"/>
<text x="75.7" y="2521.05" font-size="20" text-anchor="end" font-weight="bold">6</text>
<line x1="79.7" y1="2449.3" x2="89.7" y2="2449.3" stroke="#000" stroke-width="2.7"/>
<text x="75.7" y="2456.4" font-size="20" text-anchor="end" font-weight="bold">8</text>
<circle cx="123.33" cy="2589.23" r="4.5" fill="#8a8a8a"/>
<circle cx="112.7" cy="2626.66" r="4.5" fill="#8a8a8a"/>
<circle cx="123.33" cy="2624.54" r="4.5" fill="#8a8a8a"/>
<circle cx="123.33" cy="2634.32" r="4.5" fill="#8a8a8a"/>
<circle cx="134.39" cy="2637.3" r="4.5" fill="#8a8a8a"/>
<circle cx="123.33" cy="2661.96" r="4.5" fill="#8a8a8a"/>
<line x1="123.6" y1="2618.68" x2="123.6" y2="2640.02" stroke="#000" stroke-width="1.3"/>
<line x1="112.45" y1="2618.68" x2="134.75" y2="2618.68" stroke="#000" stroke-width="1.3"/>
<line x1="112.45" y1="2640.02" x2="134.75" y2="2640.02" stroke="#000" stroke-width="1.3"/>
<circle cx="183.72" cy="2550.95" r="4.5" fill="#4aa6b1"/>
<circle cx="166.71" cy="2561.59" r="4.5" fill="#4aa6b1"/>
<circle cx="166.71" cy="2587.11" r="4.5" fill="#4aa6b1"/>
<circle cx="183.72" cy="2587.11" r="4.5" fill="#4aa6b1"/>
<circle cx="166.71" cy="2596.89" r="4.5" fill="#4aa6b1"/>
<circle cx="183.72" cy="2605.4" r="4.5" fill="#4aa6b1"/>
<line x1="175" y1="2572.14" x2="175" y2="2589.59" stroke="#000" stroke-width="1.3"/>
<line x1="163.85" y1="2572.14" x2="186.15" y2="2572.14" stroke="#000" stroke-width="1.3"/>
<line x1="163.85" y1="2589.59" x2="186.15" y2="2589.59" stroke="#000" stroke-width="1.3"/>
<circle cx="226.67" cy="2516.08" r="4.5" fill="#f07a84"/>
<circle cx="215.62" cy="2525.43" r="4.5" fill="#f07a84"/>
<circle cx="237.31" cy="2530.96" r="4.5" fill="#f07a84"/>
<circle cx="226.67" cy="2541.6" r="4.5" fill="#f07a84"/>
<circle cx="226.67" cy="2551.38" r="4.5" fill="#f07a84"/>
<circle cx="226.67" cy="2581.15" r="4.5" fill="#f07a84"/>
<line x1="226.65" y1="2528.5" x2="226.65" y2="2549.18" stroke="#000" stroke-width="1.3"/>
<line x1="215.67" y1="2528.5" x2="237.63" y2="2528.5" stroke="#000" stroke-width="1.3"/>
<line x1="215.67" y1="2549.18" x2="237.63" y2="2549.18" stroke="#000" stroke-width="1.3"/>
<text font-size="26" text-anchor="middle" transform="translate(49 2567) rotate(-90)">LAG-3 MFI (×10<tspan dy="-9.36" font-size="16.12">2</tspan><tspan dy="9.36">)</tspan></text>
<line x1="123.3" y1="2459.1" x2="226.7" y2="2459.1" stroke="#000" stroke-width="3.6"/>
<text x="179.25" y="2456.59" font-size="27.75" text-anchor="middle" font-weight="bold" letter-spacing="3.63">***</text>
<line x1="177.8" y1="2492.3" x2="226.7" y2="2492.3" stroke="#000" stroke-width="3.6"/>
<text x="204.06" y="2489.79" font-size="27.75" text-anchor="middle" font-weight="bold" letter-spacing="3.63">*</text>
<line x1="123.3" y1="2523.3" x2="174.4" y2="2523.3" stroke="#000" stroke-width="3.6"/>
<text x="150.66" y="2520.79" font-size="27.75" text-anchor="middle" font-weight="bold" letter-spacing="3.63">*</text>
<rect x="381.1" y="2594.79" width="30.1" height="109.21" fill="#fff" stroke="#000" stroke-width="2.6"/>
<rect x="432.1" y="2543.86" width="30.6" height="160.14" fill="#fff" stroke="#000" stroke-width="2.6"/>
<rect x="484" y="2502.42" width="30.1" height="201.58" fill="#fff" stroke="#000" stroke-width="2.6"/>
<line x1="362.3" y1="2443.65" x2="362.3" y2="2705.35" stroke="#000" stroke-width="2.7"/>
<line x1="350.4" y1="2704" x2="534.6" y2="2704" stroke="#000" stroke-width="2.7"/>
<line x1="352.3" y1="2704" x2="362.3" y2="2704" stroke="#000" stroke-width="2.7"/>
<text x="348.3" y="2711.1" font-size="20" text-anchor="end" font-weight="bold">0</text>
<line x1="352.3" y1="2617.67" x2="362.3" y2="2617.67" stroke="#000" stroke-width="2.7"/>
<text x="348.3" y="2624.77" font-size="20" text-anchor="end" font-weight="bold">5</text>
<line x1="352.3" y1="2531.33" x2="362.3" y2="2531.33" stroke="#000" stroke-width="2.7"/>
<text x="348.3" y="2538.43" font-size="20" text-anchor="end" font-weight="bold">10</text>
<line x1="352.3" y1="2445" x2="362.3" y2="2445" stroke="#000" stroke-width="2.7"/>
<text x="348.3" y="2452.1" font-size="20" text-anchor="end" font-weight="bold">15</text>
<circle cx="385.73" cy="2583.22" r="4.5" fill="#8a8a8a"/>
<circle cx="396.36" cy="2581.94" r="4.5" fill="#8a8a8a"/>
<circle cx="391.26" cy="2591.3" r="4.5" fill="#8a8a8a"/>
<circle cx="407.42" cy="2594.7" r="4.5" fill="#8a8a8a"/>
<circle cx="390.41" cy="2600.23" r="4.5" fill="#8a8a8a"/>
<circle cx="401.89" cy="2606.61" r="4.5" fill="#8a8a8a"/>
<line x1="396.15" y1="2588.31" x2="396.15" y2="2598.67" stroke="#000" stroke-width="1.3"/>
<line x1="385.03" y1="2588.31" x2="407.27" y2="2588.31" stroke="#000" stroke-width="1.3"/>
<line x1="385.03" y1="2598.67" x2="407.27" y2="2598.67" stroke="#000" stroke-width="1.3"/>
<circle cx="447.39" cy="2514.32" r="4.5" fill="#4aa6b1"/>
<circle cx="447.39" cy="2540.69" r="4.5" fill="#4aa6b1"/>
<circle cx="454.2" cy="2542.82" r="4.5" fill="#4aa6b1"/>
<circle cx="436.76" cy="2546.64" r="4.5" fill="#4aa6b1"/>
<circle cx="447.39" cy="2552.17" r="4.5" fill="#4aa6b1"/>
<circle cx="458.45" cy="2554.3" r="4.5" fill="#4aa6b1"/>
<line x1="447.4" y1="2535.65" x2="447.4" y2="2549.46" stroke="#000" stroke-width="1.3"/>
<line x1="436.11" y1="2535.65" x2="458.69" y2="2535.65" stroke="#000" stroke-width="1.3"/>
<line x1="436.11" y1="2549.46" x2="458.69" y2="2549.46" stroke="#000" stroke-width="1.3"/>
<circle cx="498.85" cy="2467.11" r="4.5" fill="#f07a84"/>
<circle cx="491.2" cy="2479.87" r="4.5" fill="#f07a84"/>
<circle cx="507.36" cy="2482.85" r="4.5" fill="#f07a84"/>
<circle cx="498.85" cy="2513.9" r="4.5" fill="#f07a84"/>
<circle cx="491.2" cy="2524.53" r="4.5" fill="#f07a84"/>
<circle cx="507.36" cy="2535.16" r="4.5" fill="#f07a84"/>
<line x1="499.05" y1="2489.89" x2="499.05" y2="2512.34" stroke="#000" stroke-width="1.3"/>
<line x1="487.93" y1="2489.89" x2="510.17" y2="2489.89" stroke="#000" stroke-width="1.3"/>
<line x1="487.93" y1="2512.34" x2="510.17" y2="2512.34" stroke="#000" stroke-width="1.3"/>
<text font-size="26" text-anchor="middle" transform="translate(313 2565) rotate(-90)">TIM-3 MFI (×10<tspan dy="-9.36" font-size="16.12">2</tspan><tspan dy="9.36">)</tspan></text>
<line x1="396.4" y1="2414.9" x2="498.9" y2="2414.9" stroke="#000" stroke-width="3.6"/>
<text x="453.13" y="2412.39" font-size="27.75" text-anchor="middle" font-weight="bold" letter-spacing="3.63">****</text>
<line x1="450.8" y1="2448" x2="498.9" y2="2448" stroke="#000" stroke-width="3.6"/>
<text x="476.66" y="2445.49" font-size="27.75" text-anchor="middle" font-weight="bold" letter-spacing="3.63">*</text>
<line x1="396.4" y1="2479.1" x2="447.4" y2="2479.1" stroke="#000" stroke-width="3.6"/>
<text x="424.93" y="2476.59" font-size="27.75" text-anchor="middle" font-weight="bold" letter-spacing="3.63">**</text>
<rect x="648.1" y="2618.81" width="30.6" height="82.69" fill="#fff" stroke="#000" stroke-width="2.6"/>
<rect x="700" y="2567.9" width="30.5" height="133.6" fill="#fff" stroke="#000" stroke-width="2.6"/>
<rect x="752.7" y="2525.69" width="30.6" height="175.81" fill="#fff" stroke="#000" stroke-width="2.6"/>
<line x1="629.3" y1="2439.05" x2="629.3" y2="2702.85" stroke="#000" stroke-width="2.7"/>
<line x1="617" y1="2701.5" x2="804" y2="2701.5" stroke="#000" stroke-width="2.7"/>
<line x1="619.3" y1="2701.5" x2="629.3" y2="2701.5" stroke="#000" stroke-width="2.7"/>
<text x="615.3" y="2708.6" font-size="20" text-anchor="end" font-weight="bold">0</text>
<line x1="619.3" y1="2614.47" x2="629.3" y2="2614.47" stroke="#000" stroke-width="2.7"/>
<text x="615.3" y="2621.57" font-size="20" text-anchor="end" font-weight="bold">2</text>
<line x1="619.3" y1="2527.43" x2="629.3" y2="2527.43" stroke="#000" stroke-width="2.7"/>
<text x="615.3" y="2534.53" font-size="20" text-anchor="end" font-weight="bold">4</text>
<line x1="619.3" y1="2440.4" x2="629.3" y2="2440.4" stroke="#000" stroke-width="2.7"/>
<text x="615.3" y="2447.5" font-size="20" text-anchor="end" font-weight="bold">6</text>
<circle cx="663.35" cy="2591.33" r="4.5" fill="#8a8a8a"/>
<circle cx="663.35" cy="2603.24" r="4.5" fill="#8a8a8a"/>
<circle cx="655.7" cy="2619.4" r="4.5" fill="#8a8a8a"/>
<circle cx="671.43" cy="2622.38" r="4.5" fill="#8a8a8a"/>
<circle cx="655.7" cy="2630.04" r="4.5" fill="#8a8a8a"/>
<circle cx="671.43" cy="2637.27" r="4.5" fill="#8a8a8a"/>
<line x1="663.4" y1="2609.68" x2="663.4" y2="2625.35" stroke="#000" stroke-width="1.3"/>
<line x1="652.11" y1="2609.68" x2="674.69" y2="2609.68" stroke="#000" stroke-width="1.3"/>
<line x1="652.11" y1="2625.35" x2="674.69" y2="2625.35" stroke="#000" stroke-width="1.3"/>
<circle cx="706.73" cy="2543.68" r="4.5" fill="#4aa6b1"/>
<circle cx="723.74" cy="2542.83" r="4.5" fill="#4aa6b1"/>
<circle cx="715.24" cy="2558.57" r="4.5" fill="#4aa6b1"/>
<circle cx="706.73" cy="2574.74" r="4.5" fill="#4aa6b1"/>
<circle cx="723.74" cy="2575.59" r="4.5" fill="#4aa6b1"/>
<circle cx="715.24" cy="2603.24" r="4.5" fill="#4aa6b1"/>
<line x1="715.25" y1="2557.02" x2="715.25" y2="2576.17" stroke="#000" stroke-width="1.3"/>
<line x1="704" y1="2557.02" x2="726.5" y2="2557.02" stroke="#000" stroke-width="1.3"/>
<line x1="704" y1="2576.17" x2="726.5" y2="2576.17" stroke="#000" stroke-width="1.3"/>
<circle cx="767.97" cy="2463.29" r="4.5" fill="#f07a84"/>
<circle cx="767.97" cy="2499.87" r="4.5" fill="#f07a84"/>
<circle cx="759.47" cy="2529.65" r="4.5" fill="#f07a84"/>
<circle cx="776.48" cy="2535.18" r="4.5" fill="#f07a84"/>
<circle cx="767.97" cy="2550.06" r="4.5" fill="#f07a84"/>
<circle cx="767.97" cy="2568.36" r="4.5" fill="#f07a84"/>
<line x1="768" y1="2509.16" x2="768" y2="2539.62" stroke="#000" stroke-width="1.3"/>
<line x1="756.71" y1="2509.16" x2="779.29" y2="2509.16" stroke="#000" stroke-width="1.3"/>
<line x1="756.71" y1="2539.62" x2="779.29" y2="2539.62" stroke="#000" stroke-width="1.3"/>
<text font-size="26" text-anchor="middle" transform="translate(580 2565) rotate(-90)">PD-1 MFI (×10<tspan dy="-9.36" font-size="16.12">3</tspan><tspan dy="9.36">)</tspan></text>
<line x1="663" y1="2413.2" x2="767.1" y2="2413.2" stroke="#000" stroke-width="3.6"/>
<text x="719.3" y="2410.69" font-size="27.75" text-anchor="middle" font-weight="bold" letter-spacing="3.63">***</text>
<line x1="718.2" y1="2446.3" x2="767.1" y2="2446.3" stroke="#000" stroke-width="3.6"/>
<text x="744.46" y="2443.79" font-size="27.75" text-anchor="middle" font-weight="bold" letter-spacing="3.63">*</text>
<line x1="663" y1="2478.2" x2="715.2" y2="2478.2" stroke="#000" stroke-width="3.6"/>
<text x="690.91" y="2475.69" font-size="27.75" text-anchor="middle" font-weight="bold" letter-spacing="3.63">*</text>
<circle cx="826.7" cy="2437.4" r="4.3" fill="#8a8a8a"/>
<text x="839.4" y="2447.2" font-size="26">Control</text>
<circle cx="826.7" cy="2473.1" r="4.3" fill="#4aa6b1"/>
<text x="839.4" y="2482" font-size="26">TOX(WT)</text>
<circle cx="826.7" cy="2507.6" r="4.3" fill="#f07a84"/>
<text x="839.4" y="2517" font-size="26">TOX(4KR)</text>
</g>
<g id="p-o">
<text x="1012" y="2440" font-size="34" font-weight="bold">o</text>
<rect x="1079.3" y="2470.2" width="197" height="197.3" fill="#fff" stroke="#000" stroke-width="1.3"/>
<path d="M1091.3 2667.5v6M1155.8 2667.5v6M1209.3 2667.5v6M1256.3 2667.5v6M1110.72 2667.5v3.2M1122.07 2667.5v3.2M1130.13 2667.5v3.2M1136.38 2667.5v3.2M1141.49 2667.5v3.2M1145.81 2667.5v3.2M1149.55 2667.5v3.2M1152.85 2667.5v3.2M1171.91 2667.5v3.2M1181.33 2667.5v3.2M1188.01 2667.5v3.2M1193.19 2667.5v3.2M1197.43 2667.5v3.2M1201.01 2667.5v3.2M1204.12 2667.5v3.2M1206.85 2667.5v3.2M1223.45 2667.5v3.2M1231.72 2667.5v3.2M1237.6 2667.5v3.2M1242.15 2667.5v3.2M1245.87 2667.5v3.2M1249.02 2667.5v3.2M1251.75 2667.5v3.2M1254.15 2667.5v3.2M1270.45 2667.5v3.2M1079.3 2655h-6M1079.3 2589h-6M1079.3 2536h-6M1079.3 2489h-6M1079.3 2635.13h-3.2M1079.3 2623.51h-3.2M1079.3 2615.26h-3.2M1079.3 2608.87h-3.2M1079.3 2603.64h-3.2M1079.3 2599.22h-3.2M1079.3 2595.4h-3.2M1079.3 2592.02h-3.2M1079.3 2573.05h-3.2M1079.3 2563.71h-3.2M1079.3 2557.09h-3.2M1079.3 2551.95h-3.2M1079.3 2547.76h-3.2M1079.3 2544.21h-3.2M1079.3 2541.14h-3.2M1079.3 2538.43h-3.2M1079.3 2521.85h-3.2M1079.3 2513.58h-3.2M1079.3 2507.7h-3.2M1079.3 2503.15h-3.2M1079.3 2499.43h-3.2M1079.3 2496.28h-3.2M1079.3 2493.55h-3.2M1079.3 2491.15h-3.2M1079.3 2474.85h-3.2" fill="none" stroke="#000" stroke-width="1.15"/>
<rect x="1119.8" y="2667.8" width="7" height="4.3" fill="#000"/>
<path d="M1117.3 2667.5v4M1129.3 2667.5v4" fill="none" stroke="#000" stroke-width="1"/>
<rect x="1074.7" y="2618.5" width="4.3" height="7" fill="#000"/>
<path d="M1079.3 2616h-4M1079.3 2628h-4" fill="none" stroke="#000" stroke-width="1"/>
<path d="M1119.6 2614.7l3.2-.6 2 0 2 .4 2 1.2 .4 1-.2 1-.8 1-2.4 1.3-3 .5-3-.2-2-.9-.7-.7-.4-1 .3-1 .8-1zM1121.1 2611.7l2.7-.2 3 .1 4.2 1.1 1.7 1 1 1 .5 1 0 2-1.4 2-1.4 1-2.6 1.2-4 1-3 .2-3-.3-3-.9-1.9-1.2-1.4-2 0-2 .5-1 .9-1 1.9-1.3 2-.9zM1118.7 2609.7l4.1-.6 4-.1 4 .6 3.5 1.1 3 2 1.5 2 .4 2-.6 2-1.6 2-2.2 1.6-3 1.4-4 1.1-4 .6-4 0-3-.5-3-.9-2.4-1.3-2.1-2-.8-2 .1-2 .9-2 2.3-2.2 3-1.6zM1191.8 2550.7l2-.1 2 1 1 1 .6 1.1 .4 2-.2 2-.9 2-1.9 1.7-2 .5-2-.3-2-1.4-.9-1.5-.5-2 .3-2 1.1-2 1-1zM1118.6 2608.7l4.2-.6 5-.1 4 .6 4 1.3 2.9 1.8 1.7 2 .8 2-.2 2-.3 1-1.5 2-2.5 2-3.9 1.8-4 1.1-5 .8-4 0-4-.7-3.2-1-3.3-2-1.7-2-.7-2 .1-2 .3-1 1.5-2.2 3-2.3 3-1.4zM1179.5 2610.7l4.3-.4 3 .5 1.7 .9 .9 1 .2 1-.3 1-.7 1-1.3 1-2.8 1-3.7 .2-3-.8-1.9-1.4-.4-1 0-1 .5-1 1.1-1zM1189.8 2548.7l3-.8 3 .4 2.2 1.4 .9 1 1 2 .5 3-.2 2-.6 2-.8 1.6-1.1 1.4-1.3 1-1.6 .7-3 .3-2.9-1-2.1-1.7-1.3-2.3-.5-3 .5-3 1.8-3zM1120.4 2607.7l4.4-.4 5 .2 4 .7 3.7 1.5 2.9 2 1.5 2 .7 2-.2 2-.3 1-2.3 2.9-3 2-4 1.7-5 1.2-5 .6-5-.3-5-1.3-3.5-1.8-2.1-2-1.1-2-.2-3 .9-2.1 2-2.3 3-2 4-1.6zM1180.8 2607.7l3 0 3 .3 2.4 .7 2 1 1.1 1 1.1 2-.2 2-.6 1-1.8 1.8-2 1.2-2.9 1-2.1 .4-3 .1-3-.3-3-.9-2.1-1.3-1-1-.9-2 .1-2 .9-1.6 1.5-1.4 2.1-1 2.4-.6zM1192.1 2545.7l1.7-.1 2 .3 2 .8 1.5 1 1.5 1.7 .8 1.3 .6 2 .3 2-.1 3-.5 2-.8 2-1.3 2-1 1.1-2 1.4-2 .7-2 .2-2-.1-2-.7-3-1.8-2.1-2.8-.6-2-.3-2 .6-4 .8-2 1.2-2 1.4-1.5 2-1.4zM1175.2 2605.7l3.6-.4 5 .1 4 .5 3 .9 3 1.7 2 2.2 .7 2-.3 2-1.1 2-2.2 2-3.1 1.6-3 1-3 .6-4 .2-4-.5-3-.9-2-1.1-2.2-1.9-1.2-2-.4-3 .8-2.4 2-2.4 2-1.2zM1122.9 2606.7l4.9-.2 5 .6 4 1.1 3 1.5 2.4 2 .8 1 1 2 .2 2-1.1 3-3 3-4.3 2.3-6 1.9-5 .7-5 .1-5-.8-5-1.9-3-2.3-1.5-2-.6-3 .9-3 1.5-2 2.7-2.1 4-2 4-1.2zM1191.8 2543.7l2-.1 3 .4 2 .8 2 1.3 1.5 1.6 1.1 2 .7 2 .5 3-.2 3-.4 2-1.1 3-1.2 2-1.9 2.1-2 1.4-2 .8-3 .5-3-.3-2-.6-2-1-2-1.5-1.2-1.4-1.1-2-.8-4 .2-3 .5-2 1.2-3 1.3-2 1.9-2.1 2-1.5 2-.9zM1171.2 2602.7l4.6-.3 9 .8 4 .7 4 1.4 3.6 2.4 1.4 1.4 1 1.6 .4 1 .1 2-.6 2-1.9 2.4-3 2.2-3 1.5-4 1.2-4 .6-5 .1-4-.7-3.7-1.3-3.1-2-1.9-2-1.4-3-.2-3 .8-3 1.9-3 2.6-2.1zM1117.8 2606.7l6-.9 6 0 5 .7 4 1.3 3.4 1.9 1.6 1.4 1.3 1.6 .5 1 .4 2-.6 3-2.3 3-3.3 2.4-4 1.9-5 1.4-6 1-5 0-4-.5-5-1.5-4-2.4-2.1-2.3-1.1-3 .3-3 1.9-3 3-2.5 4-2zM1189.7 2542.7l3.1-.6 3 .2 3 .8 2 1.1 1.8 1.5 1.5 2 1 2 .7 3 .2 3-.3 3-.8 3-1.4 3-1.7 2.3-2 1.9-2 1.2-3 1.1-3 .2-3-.4-3-.9-2-1.1-2-1.6-1.3-1.7-.9-2-.5-2-.1-3 .4-3 .8-3 1.4-3 1.3-2 1.9-2.1 2-1.5zM1162.7 2583.7l1.1-.4 1 .1 1.4 1.3 1.3 3 1.4 6 1.2 2 1.2 1 3.6 2 3 1 9.9 2.1 4 1.3 3 1.4 3.1 2.2 2.6 3 1 3-.2 2-.4 1-1.4 2-3.7 3-4 2-5 1.5-5 .7-5-.1-5-.9-4-1.6-3.7-2.6-2.4-3-.8-2-.4-2 .4-4 2.6-8 .6-3-.6-3-2.2-4-.6-2 0-2 .4-1 .7-1.2zM1119.8 2605.7l5-.6 6 0 5 .7 4 1.3 4 2.2 2.5 2.4 1.2 2 .2 1-.3 3-1.9 3-3.7 3.1-5 2.5-6 1.8-6 .8-6 0-5-.9-5-1.9-3.4-2.4-2.2-3-.6-3 .8-3 2.3-3 4.1-2.8 4-1.8zM1190.3 2541.7l2.5-.4 3 .1 3 .8 2.9 1.5 2.1 2 1.4 2 .8 2 .7 3 .2 3-.5 4-1 3-1.6 3-2 2.6-2 1.8-3 1.6-3 .8-3 .1-3-.4-3-.9-3-1.5-1.4-1.1-1.4-2-.7-2-.3-2-.1-3 .5-4 1.3-4 1.5-3 1.6-2.1 2-2 3-2zM1160.7 2574.7l2.1-.5 3 0 3 1.1 1.5 1.4 1.1 2 .7 2 2.3 12 1 2 1.8 2 3.8 2 7.8 2.2 4 1.5 4 2.2 3.5 3.1 2 3 .5 3-1.1 3-1.8 2-4.1 2.9-5 2.2-5 1.3-6 .6-5-.3-5-1.3-4.8-2.4-3.5-3-2.1-3-.9-3 0-3 .9-6 0-2-.5-2-1.1-2.3-4.8-6.7-.7-2-.3-2 .2-2 .5-2 1.7-3 2.8-3zM1125.8 2604.7l5 0 5 .5 4 1.2 4 1.9 3.2 2.4 1.5 2 .4 1 .2 2-1.1 3-1.5 2-2.2 2-4.5 2.8-4 1.6-3 .9-7 1.2-7 0-6-1.1-5-2.1-2-1.4-1.9-1.9-1.6-3-.1-3 1.2-3 2.8-3 3.6-2.3 5-2 5-1.1zM1190.5 2540.7l3.3-.4 4 .6 4 1.7 2.5 2.1 1.9 3 1.3 4 .2 5-.6 4-1.6 4-2.7 4-3 2.8-3 1.6-3 .8-3 .3-4-.3-7-1.2-2.3 0-.7 1-.3 3 .3 6 .8 6 1.2 4 1 1.7 1.2 1.3 3.6 2 6.2 2.3 3 1.5 4 2.5 3 2.6 1.8 2.1 1.1 2 .5 2-.2 2-1.5 3-2.1 2-3.6 2.4-5 2.2-5 1.4-5 .6-5 .1-4-.5-5-1.5-4-2.1-4.4-3.6-3.5-4-.8-2 .9-7-.4-3-1.4-3-4.4-5.7-1.4-2.3-.7-2-.3-2 .3-4 1.1-3.4 2-3.6 2.8-3 3.2-2.1 3-1.1 4-.6 11 .6 .7-.8 .3-1 .5-7 .8-5 1.2-4 1.3-3 2.2-3.3 2.6-2.7 3.2-2zM1121.1 2604.7l5.7-.6 6 .1 5 .7 4 1.2 5.1 2.6 3.6 3 1.1 2-.3 2-1.1 2-1.5 2-2 2-2.9 2.2-6 3-7 2-7 .8-7-.3-6-1.6-3-1.3-2-1.3-1.8-1.5-1.5-2-1-3 .3-3 1.7-3 3.3-3 4-2.2 4-1.5zM1190.2 2539.7l3.6-.4 3 .3 3 .8 3 1.5 2 1.7 1.6 2.1 1.4 3 .8 3 .3 4-.7 5-1.9 5-2.7 4-3.8 3.5-4 2.1-3 .8-7 .9-1.8 .7-1.2 1-.6 1-.7 3 .1 3 .5 3 1.1 3 1.5 2 2.4 2 5.7 3.3 5 3.3 4 3.4 2.6 3 1.3 3 .2 2-.9 3-1.6 2-2.3 2-2.3 1.4-6 2.8-7 1.8-7 .7-6-.5-5-1.4-5-2.3-6-3.9-2-.8-1-.1-2 .7-7.9 5.6-5.1 2.5-7 2-7 1-6-.1-6-1.1-5-1.9-2.3-1.4-2.3-2-1.4-2-.8-2-.3-2 .8-3 1.2-2 2.1-2.2 3-2.1 4-1.9 4-1.3 4-.9 10-.9 4 .1 5 .5 9 2 1 .1 1.2-.4 .6-1-.2-2-.9-2-4.4-7-.8-2-.6-3 .1-3 .5-3 1.3-4 1.5-3 1.7-2.4 2-2.1 2-1.5 3-1.6 5-1.3 8-.6 3-1.1 1-1 1-1.6 3.2-9.8 1.4-3 1.9-3 2.5-2.9 2-1.7 3-1.6zM1188 2538.7l3.8-.9 4 0 4 .9 3 1.3 3 2.2 2 2.5 1.4 3 .8 3 .5 5-.4 4-1.1 4-1.8 4-2.4 3.5-3 3.3-3 2.7-5.2 3.5-1.8 1.5-1.1 1.5-.5 2 0 2 .5 2 1.4 3 1.3 2 2.7 3 8.6 8 2.9 4 .9 3 0 2-.7 2-2 2.6-2 1.7-3 1.9-7 3.2-7 1.8-6 .8-6-.1-5-.8-5-1.6-8-3.7-3-.6-3 .6-8 4-5 2-7 1.7-6 .7-7-.2-6-1.2-5-2-3.9-2.8-2.4-3-.7-2-.2-2 .7-3 1.1-2 1.4-1.6 2-1.7 3-2 3-1.4 5-1.7 7-1.3 13-1.3 3.8-1 .9-1 .2-1-1.4-8-.1-3 .5-4 2.1-7 1.4-3 2-3 3.6-3.6 2.1-1.4 2.9-1.4 5-1.5 8-.8 3.2-1.3 1.8-1.8 1-1.6 3.7-7.6 3.3-5 4-3.8zM1189.2 2535.7l3.6-.5 4 .2 4 .9 4 1.8 3 2.3 1.8 2.3 1.6 3 1 3 .8 4 .2 4-.3 3-.9 4-2.5 6-6.9 12-1.5 4-.5 4 .3 4 1.2 3 2 3 6.1 7 2.2 4 .6 3-.3 2-.8 2-2.1 2.6-3 2.4-3 1.8-8 3.3-4 1.3-5 1.1-8 .9-5-.1-5-.7-4-1-8-2.7-4-.7-4 .6-10 3.4-6 1.4-7 .9-6-.1-6-.8-6-1.9-4-2-3-2.5-2.3-3.2-.7-2-.2-2 .3-2 .8-2 1.3-2 1.9-2 3.9-2.8 5-2.5 4-1.4 13-3.3 2-1 1.1-1 .9-2 1.1-10 2.1-8 2.8-7.5 1.5-2.5 1.7-2 2.3-2 2.5-1.7 7-3.5 5-1.4 7-1 3-1.1 3-2.7 5.4-7.6 3.7-4 2.6-2 2.3-1.4zM1191.5 2530.7l4.3 0 5 .8 5 1.6 3 1.8 2.2 1.8 2.5 3 2.1 4 1.4 4 1.3 7 .1 7-1 6-3.2 14-1 8-.1 4 .6 3 .7 2 4.2 7 1.4 3 .9 3 .2 2-.4 3-.8 2-1.2 2-1.7 2-3.2 2.5-3 1.8-5 2.3-6 2.1-6 1.8-8 1.8-10 1.2-8-.4-13-2.3-5-.5-4 .1-10 1.3-7 .6-6 0-5-.5-7-1.3-5-1.7-4-2-3.8-2.8-2.5-3-1-2-.6-2-.2-2 .2-2 1.2-3 2.1-3 3.6-3.3 5-3.3 7.7-4.4 2.1-2 1.1-2 2.5-10 4.6-11.1 2.6-6.9 1.9-4 2.5-3 4.3-3 16.7-8.2 4-1.5 8-2 3-1.1 3-1.9 8.2-6.3 4.8-2.8 4-1.4z" fill="none" stroke="#1e1e1e" stroke-width="0.6" stroke-linejoin="round"/>
<path d="M1159.6 2541h0M1227.3 2554.4h0M1202.7 2532.2h0M1224.4 2548.9h0M1213.7 2646.3h0M1173.9 2537.1h0M1165.2 2639.7h0M1095.2 2612.5h0M1104.5 2554.3h0M1226 2608.8h0M1144 2654.8h0M1107.7 2545.7h0M1095.9 2633.3h0M1229.6 2586.6h0M1122.2 2570.5h0M1107.5 2655.6h0M1096.5 2530.6h0M1228.8 2557h0M1189.1 2519.1h0M1221.6 2576.5h0" fill="none" stroke="#555" stroke-width="1.1" stroke-linecap="round"/>
<line x1="1163" y1="2470.2" x2="1163" y2="2667.5" stroke="#000" stroke-width="1.3"/>
<line x1="1079.3" y1="2583.7" x2="1276.3" y2="2583.7" stroke="#000" stroke-width="1.3"/>
<text x="1090.3" y="2495.2" font-size="22.6">6.64</text>
<text x="1262.8" y="2495.2" font-size="22.6" text-anchor="end">21.7</text>
<text x="1090.3" y="2654" font-size="22.6">45.1</text>
<text x="1262.8" y="2654" font-size="22.6" text-anchor="end">26.6</text>
<text x="1178.4" y="2456.5" font-size="26" text-anchor="middle" fill="#808080">Control</text>
<rect x="1287.7" y="2470.2" width="196.9" height="197.3" fill="#fff" stroke="#000" stroke-width="1.3"/>
<path d="M1299.7 2667.5v6M1364.2 2667.5v6M1417.7 2667.5v6M1464.7 2667.5v6M1319.12 2667.5v3.2M1330.47 2667.5v3.2M1338.53 2667.5v3.2M1344.78 2667.5v3.2M1349.89 2667.5v3.2M1354.21 2667.5v3.2M1357.95 2667.5v3.2M1361.25 2667.5v3.2M1380.31 2667.5v3.2M1389.73 2667.5v3.2M1396.41 2667.5v3.2M1401.59 2667.5v3.2M1405.83 2667.5v3.2M1409.41 2667.5v3.2M1412.52 2667.5v3.2M1415.25 2667.5v3.2M1431.85 2667.5v3.2M1440.12 2667.5v3.2M1446 2667.5v3.2M1450.55 2667.5v3.2M1454.27 2667.5v3.2M1457.42 2667.5v3.2M1460.15 2667.5v3.2M1462.55 2667.5v3.2M1478.85 2667.5v3.2M1287.7 2655h-6M1287.7 2589h-6M1287.7 2536h-6M1287.7 2489h-6M1287.7 2635.13h-3.2M1287.7 2623.51h-3.2M1287.7 2615.26h-3.2M1287.7 2608.87h-3.2M1287.7 2603.64h-3.2M1287.7 2599.22h-3.2M1287.7 2595.4h-3.2M1287.7 2592.02h-3.2M1287.7 2573.05h-3.2M1287.7 2563.71h-3.2M1287.7 2557.09h-3.2M1287.7 2551.95h-3.2M1287.7 2547.76h-3.2M1287.7 2544.21h-3.2M1287.7 2541.14h-3.2M1287.7 2538.43h-3.2M1287.7 2521.85h-3.2M1287.7 2513.58h-3.2M1287.7 2507.7h-3.2M1287.7 2503.15h-3.2M1287.7 2499.43h-3.2M1287.7 2496.28h-3.2M1287.7 2493.55h-3.2M1287.7 2491.15h-3.2M1287.7 2474.85h-3.2" fill="none" stroke="#000" stroke-width="1.15"/>
<rect x="1328.2" y="2667.8" width="7" height="4.3" fill="#000"/>
<path d="M1325.7 2667.5v4M1337.7 2667.5v4" fill="none" stroke="#000" stroke-width="1"/>
<rect x="1283.1" y="2618.5" width="4.3" height="7" fill="#000"/>
<path d="M1287.7 2616h-4M1287.7 2628h-4" fill="none" stroke="#000" stroke-width="1"/>
<path d="M1330.5 2613.7l1.7-.2 2 .1 2 .9 .9 1.2 0 1-.5 1-1.4 1.2-3 .9-2.1-.1-2.5-1-.7-1-.2-1 .5-1 1-1zM1328.5 2611.7l4.7-.7 3 .3 2 .7 2 1.4 .9 1.3 .2 1-.5 2-.7 1-1.9 1.6-2 1-2 .6-2 .3-3-.1-2-.4-2-.8-1.6-1.2-.7-1-.3-1 .4-2 .7-1 1.5-1.4zM1327.9 2609.7l3.3-.7 4 0 3 .4 3 1.1 1.9 1.2 1.6 2 .3 2-.5 2-1.5 2-2.5 2-2.3 1.1-3 1-3 .4-3 0-3-.5-3-1-2-1.2-1.6-1.8-.5-2 .4-2 1.4-2 1.3-1.2 3-1.8zM1327.3 2607.7l3.9-.8 5-.1 4 .5 4 1.4 3 2 1.5 2 .5 2-.3 2-.4 1-2.4 3-2.6 2-3.3 1.7-4 1.2-4 .6-4-.1-4-.7-4-1.5-2-1.3-2-2.3-.6-2.6 .4-2 1.2-2 3-2.7 3-1.8zM1388.4 2559.7l2.8 0 2.1 1 .7 1 .2 1-.5 2-1.7 2-2.8 1.4-3 .4-2-.6-1.2-1.2-.3-1 .4-2 .6-1 1.5-1.5zM1329.3 2605.7l4.9-.6 5 .2 5 .9 3.6 1.5 2.9 2 .9 1 1 2 .1 2-1 3-2.5 3-4 3-5 2.3-4 1.1-5 .5-5-.3-5-1.2-4-1.9-2.8-2.5-1-2-.1-3 1.4-3 3-3 3.5-2.2 4-1.7zM1382.9 2609.7l1.3-.3 2 .3 1.1 1 .1 1-1.2 1.1-1 .2-1.9-.3-1.3-1-.2-1zM1388.2 2557.7l2-.3 2 .2 3 1.2 1 1 .8 1.9 0 1-.6 2-2.3 3-1.9 1.4-2 1-4 .8-2-.1-2-.6-1.8-1.5-.5-1-.2-2 .6-2 1.3-2 2.2-2 2.4-1.4zM1331 2604.7l5.2-.4 5 .3 5 1.1 4 1.7 3 2.3 1.2 2 .3 2-.8 3-1.3 2-1.9 2-4 3-5.5 2.7-5 1.3-6 .5-6-.7-5-1.4-4.1-2.4-1.9-2-.6-1-.5-2 .4-3 1.9-3 3.4-3 4.4-2.5 5-1.8zM1380.4 2605.7l2.8-.2 3 .2 2 .5 2 1 1.5 1.5 .5 1.1 .1 1.9-.9 2-.9 1-1.5 1-1.8 .6-2 .2-2-.1-2.7-.7-3.8-2-1.2-1-1.6-2-.3-1 .1-1 .6-1 1.6-1zM1386.6 2556.7l2.6-.6 2-.2 3 .5 2 .8 1.8 1.5 .6 1 .5 2-.3 2-.9 2-1.5 2-2.2 2-2 1.2-3 1.2-3 .6-3 0-2-.4-2-1-1.4-1.6-.5-2 .5-3 1.7-3 1.9-2 2.8-2zM1333.5 2603.7l5.7-.2 5 .5 5 1.2 3.6 1.5 2.8 2 1.4 2 .2 2-1 3-1.3 2-1.7 2-2.3 2-2.8 2-5.9 3-6 1.6-6 .4-7-.8-3-.8-3-1.2-2.1-1.2-1.9-1.7-1.6-2.3-.5-3 .9-3 2.3-3 3.9-3.1 5-2.5 5-1.6zM1367.6 2603.7l1.6-.6 3-.2 12 .4 5 .9 3 1.4 1.9 2.1 .8 2-.3 3-1 2-.9 1-1.5 1.2-2 .9-2 .5-3 .1-5-1-6-2.7-3-2-2.3-2-1.4-2-.5-2 .6-2zM1386.4 2555.7l2.8-.7 3-.1 3 .5 2.7 1.3 1.3 1.2 1.1 1.8 .3 2-.7 3-1.7 2.7-2 2.1-2 1.5-3 1.7-3 1-3 .5-3 0-3-.6-2-1.2-1.4-1.7-.3-1-.1-2 .9-3 1.8-3 2.1-2.3 3-2.2zM1363.2 2597.7l3 0 9 2.8 12 1.6 3 .8 1.9 .8 2.7 2 1.3 2 .5 3-.7 3-2.2 3-2.5 1.7-3 1-4 .2-3-.4-4-1-3.8-1.5-8.2-3.8-3-.6-2 1-3.7 4.4-3.1 3-5.2 3.7-4 2-3 1.1-4 1.1-4 .5-7-.2-4-.7-3-.9-3-1.3-2.1-1.3-2.1-2-1.2-2-.5-2 .2-2 .7-2 1.3-2 3.7-3.4 3-1.9 3-1.5 6-1.9 4-.8 5-.4 8 .3 10 1.8 2 0 1-.4 .7-.8 2.3-4.6 1-.9zM1386.2 2554.7l3-.7 4-.1 3 .6 3 1.5 1.8 1.7 .5 1 .6 2-.1 2-1.1 3-2.2 3-2.5 2.3-3 2-3 1.4-4 1.1-4 .4-3-.1-3-.9-2-1.4-.5-.8-.6-2 .3-3 1.2-3 1.9-3 2.8-3 2.9-2.1zM1358.3 2590.7l1.9-.6 3 .2 3 1.5 5.2 3.9 3.8 2.1 4 1.3 10 1.8 3 1 2 1.1 2.7 2.7 1.3 3 .1 2-.4 2-1.4 3-2.3 2.4-2.6 1.6-3.4 1-3 .2-3-.2-4-.8-12-4.1-2-.3-2 .2-2 .9-8.1 6.1-5.9 3.4-6 2.3-6 1.1-7 0-7-1.3-5-2.1-2.1-1.4-2-2-1.5-3-.1-2 .4-2 1-2 1.6-2 3.7-3.1 6-3.3 7-2.2 7-1.1 12-.6 3.3-.7 1.3-1 .6-1 1.4-4 1.1-2 1.3-1.3zM1386.3 2553.7l3.9-.8 4 .1 4 1 2.8 1.7 1.7 2 .8 3-.4 3-1.4 3-2.4 3-3.1 2.8-3 1.9-4 1.8-5 1.3-6 .6-4-.1-2-.5-1-.7-.8-1.1-.3-1 .1-3 1.2-4 2.2-4 2.2-3 3.4-3.2 3-2zM1363 2582.7l2.2 .4 2 1.5 5.9 8.1 3.7 3 4.4 1.8 8 1.8 3 1 3 1.5 2.2 1.9 1.8 3 .5 2 .1 2-.4 2-.7 2-2.5 3.4-2 1.6-3 1.4-3 .7-3 .2-3-.2-4-.7-12-3.4-2-.2-2 .3-3 1.2-8 5.2-6 3.1-6 1.9-6 .9-7-.2-7-1.4-5-2.2-2.2-1.6-1.8-2-1.4-3-.2-2 .4-2 1.7-3 3.5-3.4 5-3.2 7-2.9 5-1.3 12-1.9 3-1.1 1.4-1.2 .6-1 2.1-6 1.1-2 1.8-2 2-1.6 3-1.5 3-.8zM1386.2 2552.7l3-.7 4-.2 3 .4 3 .9 2 1 1.9 1.6 1.3 2 .6 2-.2 3-1.1 3-2 3-3.5 3.7-4 2.9-3 1.6-13.1 4.8-1.5 1-.8 1-.7 2 .1 2 .7 2 1.3 2 2.1 2 3.9 1.9 8 2.4 3 1.3 3 2 2.3 2.4 1.1 2 .6 2 .2 2-.2 2-1.4 4-2.6 3.3-2.2 1.7-2.8 1.4-3 .8-3 .2-7-.6-13-3-4 .1-3 1-10 5.6-5 2.1-6 1.7-5 .6-7-.2-7-1.3-5-2.1-2.1-1.3-1.9-1.7-1-1.3-1-2-.5-3 .4-2 .9-2 2.5-3 4.7-3.7 6-3.1 5-1.8 11-2.8 3.5-1.6 1.8-2 1.9-5 1.5-3 3.2-4 4.1-3.2 7-4.2 3-2.1 2-2.2 6.4-9.3 4.7-5 4.2-3zM1388.3 2550.7l3.9-.4 3 .1 3 .5 3 1 2 1.2 1.9 1.6 1.4 2 .6 2 .1 3-.9 3-1.6 3-2.3 3-3.2 3.2-3 2.5-11 7.3-1 1-1 2 .1 2 .5 1 1.8 2 1.5 1 7.1 3.5 3 1.9 3 2.7 2.1 2.9 .8 2 .5 2-.1 4-1.4 4-1.2 2-1.7 2.1-2.3 1.9-2.7 1.5-3 1-4 .5-4 0-4-.4-13-2.5-4 0-4 1.3-9 4.3-5 2-6 1.5-5 .6-7-.2-7-1.3-3-1-3-1.4-2-1.2-1.9-1.7-2.1-3-.7-2-.2-2 .4-2 .9-2 1.3-2 2-2 3.3-2.6 5-3 4-1.8 9.2-3.6 3.5-2 1.7-2 2.8-6 1.8-3 2.5-3 2.5-2.4 5-3.9 9-5.8 3-2.2 9.5-9.7 4.5-3.7 5-2.8zM1387.4 2548.7l3.8-.6 4 0 4 .5 3 .8 3 1.4 2.5 1.9 1.5 2 1.2 3 .2 2-.2 2-.5 2-1.3 3-3.5 5-8.6 10-1.2 2-.6 2 .1 2 .8 2 8.4 10 1.7 3 1.2 4 .1 4-1 4-2 4-2.6 3-2.2 1.8-3 1.7-3 1.1-3 .6-4 .3-4-.1-15-2.1-5 0-4 .9-11 4.2-4 1.3-5 1-5 .5-8-.4-7-1.3-6-2.3-3-1.9-1.5-1.3-2.3-3-1.1-3-.2-2 .3-2 1.4-3 2.4-3 3-2.6 4-2.7 9.7-5.7 2.5-2 2.3-3 4.1-8 2.4-3 2-2 11-8.8 4-2.7 11-6.4 12-9.3 6-3.2zM1386.5 2544.7l4.7-.8 6-.1 5 .6 4 1.1 3 1.3 3 2 2.5 2.9 1.3 3 .6 4-.7 5-2 5-5 9-.8 2-.6 3 0 3 .7 4 4.5 13 .6 3 .2 3-.4 4-1.2 4-2.2 4-2.5 3-3 2.6-3 1.9-4 1.7-5 1.3-8 .6-19-.8-4 .1-4.5 .6-14.5 3.5-8 .7-10-.6-5-.8-4-1-4-1.5-3-1.6-2.4-1.7-2.2-2-1.7-2-1.1-2-.9-3-.1-3 1.2-4 2-3 1.8-2 8.1-7 2.8-3 1.8-3 3.3-8 2-4 2.5-4 2.9-3.3 3-2.6 11-8.4 5-3.3 4-1.9 12-4.5 15-7.4 4-1.5z" fill="none" stroke="#1e1e1e" stroke-width="0.6" stroke-linejoin="round"/>
<path d="M1422.5 2568.1h0M1415.7 2617.7h0M1308.7 2603.7h0M1318.5 2635.9h0M1394 2634.9h0M1442.9 2576.6h0M1342.8 2554.5h0M1359.3 2632.9h0M1431.6 2600.2h0M1415.4 2614.6h0M1353.6 2635.9h0M1300.9 2604.4h0M1357.3 2633.7h0M1343.8 2562.1h0M1367.6 2633.1h0M1380.8 2653.9h0M1306.6 2595.8h0M1406.6 2626.3h0M1441.9 2616.8h0M1348 2550.2h0" fill="none" stroke="#555" stroke-width="1.1" stroke-linecap="round"/>
<line x1="1371.9" y1="2470.2" x2="1371.9" y2="2667.5" stroke="#000" stroke-width="1.3"/>
<line x1="1287.7" y1="2583.7" x2="1484.6" y2="2583.7" stroke="#000" stroke-width="1.3"/>
<text x="1298.7" y="2495.2" font-size="22.6">7.59</text>
<text x="1471.1" y="2495.2" font-size="22.6" text-anchor="end">12.2</text>
<text x="1298.7" y="2654" font-size="22.6">61.7</text>
<text x="1471.1" y="2654" font-size="22.6" text-anchor="end">18.5</text>
<text x="1388" y="2456.5" font-size="26" text-anchor="middle" fill="#3f9fab">TOX(WT)</text>
<rect x="1496.1" y="2470.2" width="196.9" height="197.3" fill="#fff" stroke="#000" stroke-width="1.3"/>
<path d="M1508.1 2667.5v6M1572.6 2667.5v6M1626.1 2667.5v6M1673.1 2667.5v6M1527.52 2667.5v3.2M1538.87 2667.5v3.2M1546.93 2667.5v3.2M1553.18 2667.5v3.2M1558.29 2667.5v3.2M1562.61 2667.5v3.2M1566.35 2667.5v3.2M1569.65 2667.5v3.2M1588.71 2667.5v3.2M1598.13 2667.5v3.2M1604.81 2667.5v3.2M1609.99 2667.5v3.2M1614.23 2667.5v3.2M1617.81 2667.5v3.2M1620.92 2667.5v3.2M1623.65 2667.5v3.2M1640.25 2667.5v3.2M1648.52 2667.5v3.2M1654.4 2667.5v3.2M1658.95 2667.5v3.2M1662.67 2667.5v3.2M1665.82 2667.5v3.2M1668.55 2667.5v3.2M1670.95 2667.5v3.2M1687.25 2667.5v3.2M1496.1 2655h-6M1496.1 2589h-6M1496.1 2536h-6M1496.1 2489h-6M1496.1 2635.13h-3.2M1496.1 2623.51h-3.2M1496.1 2615.26h-3.2M1496.1 2608.87h-3.2M1496.1 2603.64h-3.2M1496.1 2599.22h-3.2M1496.1 2595.4h-3.2M1496.1 2592.02h-3.2M1496.1 2573.05h-3.2M1496.1 2563.71h-3.2M1496.1 2557.09h-3.2M1496.1 2551.95h-3.2M1496.1 2547.76h-3.2M1496.1 2544.21h-3.2M1496.1 2541.14h-3.2M1496.1 2538.43h-3.2M1496.1 2521.85h-3.2M1496.1 2513.58h-3.2M1496.1 2507.7h-3.2M1496.1 2503.15h-3.2M1496.1 2499.43h-3.2M1496.1 2496.28h-3.2M1496.1 2493.55h-3.2M1496.1 2491.15h-3.2M1496.1 2474.85h-3.2" fill="none" stroke="#000" stroke-width="1.15"/>
<rect x="1536.6" y="2667.8" width="7" height="4.3" fill="#000"/>
<path d="M1534.1 2667.5v4M1546.1 2667.5v4" fill="none" stroke="#000" stroke-width="1"/>
<rect x="1491.5" y="2618.5" width="4.3" height="7" fill="#000"/>
<path d="M1496.1 2616h-4M1496.1 2628h-4" fill="none" stroke="#000" stroke-width="1"/>
<path d="M1541.2 2613.7l2.4-.5 2.9 .5 1.5 1 .6 1 .1 1-1.1 1.4-2 .9-2 .2-2.7-.5-1.5-1-.6-1 .1-1 .7-1zM1539.1 2611.7l2.5-.7 2-.2 3 .3 2 .7 2 1.1 1.5 1.8 .3 1-.4 2-.6 1-1.8 1.4-2 .8-2 .5-4 0-4-1.1-2.1-1.6-.6-1-.1-2 1.2-2 1.2-1zM1539.2 2609.7l3.4-.6 3 0 3 .6 3 1.3 2.1 1.7 1.2 2 .2 2-.8 2-1.7 1.8-2 1.2-2 .8-3 .6-3 .1-3-.3-3-.8-2-1-1.8-1.4-1.2-2-.1-1 .5-2 1.6-2 1.3-1 1.7-1zM1540.1 2607.7l3.5-.4 4 .4 4 1.1 3.3 1.9 1.9 2 .9 2 .1 1-.3 2-1.2 2-2.1 2-2.6 1.4-3 1-4 .6-4 0-3-.5-3-.9-3.1-1.6-2-2-.9-2 .1-2 .9-2 1.8-2 2.2-1.5 3-1.5zM1540.8 2605.7l4.8-.2 4 .5 4 1.3 4 2.3 2.1 2.1 .6 1 .6 2-.1 2-1.5 3-2.7 2.7-3 1.8-4 1.4-4 .7-5 .1-4-.6-4-1.2-3.7-1.9-2.1-2-1.1-2-.2-1 0-2 1.1-2.3 2.5-2.7 3.5-2.3 4-1.7zM1543.2 2603.7l5.4 .2 5 1.2 5 2.1 3.5 2.5 .9 1 1.1 2 .3 2-.9 3-2.1 3-2.8 2.5-4 2.3-5 1.6-5 .7-6-.2-5-.9-4-1.5-3.9-2.5-1.8-2-1.1-3 .3-3 1.9-3 3.6-3 5-2.7 5-1.6zM1584.1 2611.7l2.5-.4 3.1 .4 1.9 1 .7 1 0 1-.7 1-3 1-2-.1-2-.6-1.9-1.3-.3-1 .3-1zM1542.6 2602.7l4-.1 5 .6 6 1.8 4 1.9 3.9 2.8 1.6 2 .3 2-1.1 3-3.2 4-4.5 3.7-5 2.4-6 1.5-7 .3-7-1.1-3-.9-3-1.3-3.6-2.6-2.1-3-.6-3 .8-3 2.2-3 3.3-2.6 5-2.7 6-2zM1580.3 2608.7l3.3-.6 3 0 4 .6 2.9 1 2.1 1.3 1.6 1.7 .4 1-.2 2-.8 1.1-2 1.4-4 1.2-5-.1-4-1-2-1-2.2-1.6-1.5-2-.2-1 .3-1 .7-1 1.3-1zM1542.6 2601.7l5-.2 6 .9 6 1.7 8 3.3 2 .5 3-.2 5-1.3 4-.6 4 0 4 .6 5 1.6 2 1 2 1.5 1.7 2.2 .3 1-.1 2-1.2 2-2.7 1.9-3 1.1-4 .5-4-.1-3-.6-3-.9-6-2.6-2-.4-1 .1-2 .9-7 5.9-4 2.4-5 2-6 1.2-7 .2-6-1-6-2-4-2.6-2.6-3-1-3 .3-3 1-2 1.3-1.7 3.9-3.3 5.1-2.8 5-1.9zM1601.4 2545.7l1.2-.6 1 0 1.4 .6 .9 1 .6 2-.2 1-.7 1.3-1 .8-2 .1-1-.5-1-1.2-.5-1.5 .1-1 .3-1zM1540.6 2600.7l4-.7 5-.1 4 .5 14 2.8 4 0 9-.8 3 .2 3 .5 8 2.6 3 1.4 2.5 1.6 1.5 1.4 1.3 1.6 .7 2 0 2-.8 2-1.9 2-2.3 1.4-3 1.1-5 .8-5-.1-5-.9-7-2-3-.1-3 1.1-7 4.5-4 2-5 1.7-5 .8-6 .2-7-.9-6-1.9-4-2.2-1.9-1.5-1.7-2-1.4-3-.2-2 .3-2 1.5-3 3.4-3.4 5-3.2 6-2.6zM1601.3 2543.7l2.3-.4 1.3 .4 1.7 1.2 1.1 1.8 .4 2-.3 2-1.2 1.8-2 1.1-2 .1-2-.9-1.1-1.1-.9-2-.1-2 .7-2 .7-1zM1585.9 2575.7l1.7-.1 2 1.1 1 1.3 .7 1.7 .3 3-.5 3-1.5 3.1-1 1.4-2 1.8-2 .7-1-.4-.5-.6-1-2-.5-3-.1-3 .5-3 .8-2 1.4-2zM1544.5 2598.7l6.1-.3 12 1.3 5 .2 6-.4 8-1.5 2 .4 6.1 3.3 8.9 4.2 4 2.8 1.8 2 1 2 .4 2-.3 2-1.1 2-2.1 2-2.7 1.6-4 1.3-4 .6-5 0-5-.6-8-1.8-3 0-3 .9-7 3.9-4 1.8-6 1.8-5 .7-7-.1-4-.5-4-1-6-2.4-4-2.9-2.5-3.3-.8-2-.2-2 .2-2 .8-2 2.3-3 4.2-3.3 6-3.3 8-3zM1600.5 2542.7l2.1-.7 2 .2 2 1.1 1.9 2.4 .7 2-.2 3-1.4 2.5-2 1.4-2 .4-2-.2-2-1.2-1.5-1.9-.7-2 .1-3 1.1-2.3zM1566.4 2567.7l1.2-.5 1.1 .5 1.3 2 .6 2.7 0 2.3-.6 2-1.4 1.8-1 .1-1-.5-1-1.4-.7-3-.1-2 .4-2 .4-1zM1584.6 2572.7l1-.4 2 0 1.3 .4 1.6 1 2.1 2.8 1.1 3.2 .2 3-.4 3-.9 3-2.9 7 0 2 .5 1 2 2 8.4 4.9 2.9 2.1 2.1 2.1 1.6 2.9 .3 3-.6 2-1.3 2-2 1.8-2 1.2-3 1.3-3 .8-4 .5-7-.2-10-1.8-4-.1-3 .9-8 3.9-5 1.9-5 1.2-6 .5-8-.4-4-.8-4-1.3-3-1.3-3-1.8-3.5-3.3-1.3-2-.9-3 .2-3 .8-2 1.7-2.6 2.5-2.4 3.5-2.4 4-2.2 9-3.8 7-2.1 6-.6 10 .4 5.4-.3 6.6-.9 3-1.5 1-1 1-2 1.3-9.6 1.3-4 1.8-3zM1599.8 2541.7l1.8-.8 3 .1 1.8 .7 1.2 .9 1.7 2.1 1 3-.1 3-1.4 3-2.2 1.8-2 .7-3-.1-2.7-1.4-1.7-2-1-3 .1-3 1.3-3zM1565.6 2564.7l1-.7 1-.2 1 .3 1 .6 1 1.2 1.1 1.8 1.1 3 1.8 7 1 .2 5.5-6.2 1.5-1.2 2-.9 2-.3 2 .3 2 1 2.2 2.1 1.3 2 .9 2 .6 2 .4 3-.5 5-2.3 8-.1 2 .2 1 1.3 2 1.1 1 8.9 6 2.1 2 1.4 2 1.2 3 .1 2-.5 2-1.2 2-2.1 2.2-2.8 1.8-3.2 1.3-3 .8-5 .6-5 0-4-.3-8-1.3-4 0-3 .7-8 3.6-4 1.4-4 1-5 .8-8 0-7-1.1-6-1.9-5-2.8-2.2-1.8-2.4-3-.9-2-.6-3 .5-3 .9-2 2.4-3 2.3-2 4-2.6 4-2.1 6-2.9 7-2.8 4-1.2 3-.5 10-.5 3-.4 2.9-1 5.9-3 1.2-.8 1-1.1 .8-3.1-.8-.9-2 1.4-1 .3-1 0-1-.4-2-2.2-1.8-4.2-.7-4 0-4 .7-3 .8-1.7zM1599.6 2539.7l3-.8 2 .2 2 .6 2.7 2 1.9 3 .7 2 .2 2-.1 2-.6 2-1.8 2.8-3 2.1-2 .6-2 .1-3-.7-2.8-1.9-1.8-3-.7-4 .8-4 1.8-3zM1565.3 2560.7l1.3-.6 1-.2 2 .6 2 1.7 4 5 1 .6 2-.1 4-1.8 2-.6 3-.1 2 .5 2 1 3 2.9 1.4 2.1 1.4 3 1 3 .5 3-.1 5-1.5 8 .2 3 1 2 .8 1 8.3 6.5 2.3 2.5 1.3 2 1 3 .2 2-.4 2-1 2-2.4 2.8-3 2.2-3 1.5-4 1.2-5 .8-5 .1-5-.2-9-1-4 0-3 .7-12 4.3-8 1.5-7 .2-8-1-7-1.9-4-1.8-2.3-1.4-2.5-2-1.9-2-1.3-2-.8-2-.6-3 .2-2 .5-2 1.1-2 2.6-3.2 4-3.1 5-3 14-7.5 6-2.4 4-.9 7-1 2-.8 1-.7 1.1-1.4 .5-2-.4-11 .5-5 .8-3 .8-2 1.4-2zM1598.6 2536.7l2-.7 3-.2 3 .5 2 1 2 1.5 2.4 2.9 1 2 .9 3 .1 3-.5 3-1.2 3-1.5 2-2.2 1.9-2 1.1-7 2.5-.7 .5-.4 1 .3 2 2.5 7 1.5 6 .3 5-.4 8 .5 3 1.8 3 8 8 2.1 3 1.2 3 .4 3-.6 3-.9 2-2.5 3-3.1 2.6-3 1.8-5 2-4 .9-4 .5-5 .2-14-.5-4 .1-4 .6-13 3.5-5 .9-5 .3-9-.4-9-1.9-4-1.4-4-1.8-3-1.9-3-2.5-1.8-2-1.9-3-1.1-3-.2-3 .4-3 .8-2 1.1-2 2.5-3 5.2-4.2 21-14.1 5-2.3 9-2.3 2.1-1.1 1-1 .9-2 1.7-11 1.6-6 2.1-4 2.6-2.7 2-.8 1-.1 2 .4 2 1.1 4 3.2 2 .8 2-.1 10-2.1 .9-.7 .3-1 .2-7 1.2-5 1-2 1.4-2 2-1.8z" fill="none" stroke="#1e1e1e" stroke-width="0.6" stroke-linejoin="round"/>
<path d="M1573.5 2546.5h0M1609.1 2564.2h0M1619.1 2609h0M1527.2 2589.1h0M1594.7 2533.2h0M1563.4 2545.2h0M1549 2579.5h0M1616.4 2532.6h0M1521.1 2591.8h0M1602.1 2565.6h0M1540.4 2646.1h0M1618.8 2548.7h0M1543.3 2642.7h0M1615.3 2622h0M1556.2 2572.3h0M1543.6 2579.3h0M1511.6 2599.2h0M1510.9 2626.3h0M1540.6 2637.5h0M1527.9 2594.4h0" fill="none" stroke="#555" stroke-width="1.1" stroke-linecap="round"/>
<line x1="1580.3" y1="2470.2" x2="1580.3" y2="2667.5" stroke="#000" stroke-width="1.3"/>
<line x1="1496.1" y1="2583.7" x2="1693" y2="2583.7" stroke="#000" stroke-width="1.3"/>
<text x="1507.1" y="2495.2" font-size="22.6">4.26</text>
<text x="1679.5" y="2495.2" font-size="22.6" text-anchor="end">7.98</text>
<text x="1507.1" y="2654" font-size="22.6">70.2</text>
<text x="1679.5" y="2654" font-size="22.6" text-anchor="end">17.6</text>
<text x="1596" y="2456.5" font-size="26" text-anchor="middle" fill="#e8727c">TOX(4KR)</text>
<text font-size="26" text-anchor="middle" transform="translate(1061 2568.5) rotate(-90)">TNFα PE</text>
<text x="1090.5" y="2704.5" font-size="26">IFNγ APC</text>
<line x1="1226.5" y1="2697.3" x2="1679.5" y2="2697.3" stroke="#000" stroke-width="1.6"/>
<polygon points="1691.5,2697.3 1678.5,2703.8 1678.5,2690.8" fill="#000"/>
<rect x="1804.9" y="2551.61" width="30.6" height="139.69" fill="#fff" stroke="#000" stroke-width="2.6"/>
<rect x="1856.8" y="2616.88" width="30.9" height="74.42" fill="#fff" stroke="#000" stroke-width="2.6"/>
<rect x="1909.9" y="2644.04" width="30.6" height="47.26" fill="#fff" stroke="#000" stroke-width="2.6"/>
<line x1="1786.6" y1="2428.85" x2="1786.6" y2="2692.65" stroke="#000" stroke-width="2.7"/>
<line x1="1774.7" y1="2691.3" x2="1960" y2="2691.3" stroke="#000" stroke-width="2.7"/>
<line x1="1776.6" y1="2691.3" x2="1786.6" y2="2691.3" stroke="#000" stroke-width="2.7"/>
<text x="1772.6" y="2698.4" font-size="20" text-anchor="end" font-weight="bold">0</text>
<line x1="1776.6" y1="2639.08" x2="1786.6" y2="2639.08" stroke="#000" stroke-width="2.7"/>
<text x="1772.6" y="2646.18" font-size="20" text-anchor="end" font-weight="bold">10</text>
<line x1="1776.6" y1="2586.86" x2="1786.6" y2="2586.86" stroke="#000" stroke-width="2.7"/>
<text x="1772.6" y="2593.96" font-size="20" text-anchor="end" font-weight="bold">20</text>
<line x1="1776.6" y1="2534.64" x2="1786.6" y2="2534.64" stroke="#000" stroke-width="2.7"/>
<text x="1772.6" y="2541.74" font-size="20" text-anchor="end" font-weight="bold">30</text>
<line x1="1776.6" y1="2482.42" x2="1786.6" y2="2482.42" stroke="#000" stroke-width="2.7"/>
<text x="1772.6" y="2489.52" font-size="20" text-anchor="end" font-weight="bold">40</text>
<line x1="1776.6" y1="2430.2" x2="1786.6" y2="2430.2" stroke="#000" stroke-width="2.7"/>
<text x="1772.6" y="2437.3" font-size="20" text-anchor="end" font-weight="bold">50</text>
<circle cx="1820.18" cy="2521.63" r="4.5" fill="#8a8a8a"/>
<circle cx="1812.1" cy="2540.76" r="4.5" fill="#8a8a8a"/>
<circle cx="1820.18" cy="2535.24" r="4.5" fill="#8a8a8a"/>
<circle cx="1828.26" cy="2550.12" r="4.5" fill="#8a8a8a"/>
<circle cx="1812.1" cy="2576.48" r="4.5" fill="#8a8a8a"/>
<circle cx="1828.26" cy="2576.48" r="4.5" fill="#8a8a8a"/>
<line x1="1820.2" y1="2540.91" x2="1820.2" y2="2559.71" stroke="#000" stroke-width="1.3"/>
<line x1="1808.91" y1="2540.91" x2="1831.49" y2="2540.91" stroke="#000" stroke-width="1.3"/>
<line x1="1808.91" y1="2559.71" x2="1831.49" y2="2559.71" stroke="#000" stroke-width="1.3"/>
<circle cx="1872.07" cy="2568.4" r="4.5" fill="#4aa6b1"/>
<circle cx="1872.07" cy="2612.63" r="4.5" fill="#4aa6b1"/>
<circle cx="1861.01" cy="2618.16" r="4.5" fill="#4aa6b1"/>
<circle cx="1872.07" cy="2623.26" r="4.5" fill="#4aa6b1"/>
<circle cx="1883.13" cy="2627.94" r="4.5" fill="#4aa6b1"/>
<circle cx="1872.07" cy="2647.07" r="4.5" fill="#4aa6b1"/>
<line x1="1872.25" y1="2604.61" x2="1872.25" y2="2626.55" stroke="#000" stroke-width="1.3"/>
<line x1="1860.86" y1="2604.61" x2="1883.64" y2="2604.61" stroke="#000" stroke-width="1.3"/>
<line x1="1860.86" y1="2626.55" x2="1883.64" y2="2626.55" stroke="#000" stroke-width="1.3"/>
<circle cx="1935.43" cy="2627.94" r="4.5" fill="#f07a84"/>
<circle cx="1914.17" cy="2636.02" r="4.5" fill="#f07a84"/>
<circle cx="1924.8" cy="2644.52" r="4.5" fill="#f07a84"/>
<circle cx="1914.17" cy="2647.07" r="4.5" fill="#f07a84"/>
<circle cx="1935.43" cy="2650.9" r="4.5" fill="#f07a84"/>
<circle cx="1924.8" cy="2647.93" r="4.5" fill="#f07a84"/>
<line x1="1925.2" y1="2638.04" x2="1925.2" y2="2647.44" stroke="#000" stroke-width="1.3"/>
<line x1="1913.91" y1="2638.04" x2="1936.49" y2="2638.04" stroke="#000" stroke-width="1.3"/>
<line x1="1913.91" y1="2647.44" x2="1936.49" y2="2647.44" stroke="#000" stroke-width="1.3"/>
<text font-size="26" text-anchor="middle" transform="translate(1729 2562) rotate(-90)">TNFα<tspan dy="-9.36" font-size="16.12">+</tspan><tspan dy="9.36">IFNγ</tspan><tspan dy="-9.36" font-size="16.12">+</tspan><tspan dy="9.36"> (%)</tspan></text>
<line x1="1820.2" y1="2442.1" x2="1924.4" y2="2442.1" stroke="#000" stroke-width="3.6"/>
<text x="1877.78" y="2439.59" font-size="27.75" text-anchor="middle" font-weight="bold" letter-spacing="3.63">****</text>
<line x1="1820.2" y1="2480.8" x2="1872" y2="2480.8" stroke="#000" stroke-width="3.6"/>
<text x="1849.13" y="2478.29" font-size="27.75" text-anchor="middle" font-weight="bold" letter-spacing="3.63">**</text>
<line x1="1876" y1="2547.1" x2="1924.4" y2="2547.1" stroke="#000" stroke-width="3.6"/>
<text x="1902.01" y="2544.59" font-size="27.75" text-anchor="middle" font-weight="bold" letter-spacing="3.63">*</text>
</g>
</svg>
</body></html>
